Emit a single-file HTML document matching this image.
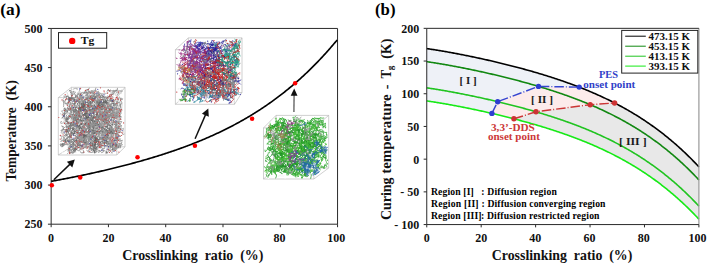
<!DOCTYPE html>
<html><head><meta charset="utf-8"><style>
html,body{margin:0;padding:0;background:#fff;width:707px;height:265px;overflow:hidden}
svg{display:block}
text{font-family:"Liberation Serif",serif;font-weight:bold}
</style></head><body>
<svg width="707" height="265" viewBox="0 0 707 265" font-family="Liberation Serif" font-weight="bold">
<rect width="707" height="265" fill="#fff"/>
<text x="0.3" y="15.4" font-size="16.0" fill="#000" textLength="20.2" lengthAdjust="spacingAndGlyphs">(a)</text>
<path d="M58.3 97.6L116.8 97.6M58.3 97.6L58.3 155.0M58.3 97.6L71.4 87.3M71.4 87.3L125.0 87.3M71.4 87.3L71.4 146.8M58.3 155.0L116.8 155.0M58.3 155.0L71.4 146.8M71.4 146.8L125.0 146.8M116.8 97.6L116.8 155.0M116.8 97.6L125.0 87.3M125.0 87.3L125.0 146.8M116.8 155.0L125.0 146.8" stroke="#b0b0b0" stroke-width="0.60" fill="none"/><g fill="none" stroke-width="0.70" stroke-linecap="round" stroke-linejoin="round"><path stroke="#d2d2d2" d="M102.4 120.2l.6-1.3l1.6-1.2l1.2-2l-.7 2.2l1 1.8l-.2 2.2l1.3 1.9l-.1 2M80.6 142.1l-1.3-1.2l1.3 0l-.2 .9l.2 2.3l-1.8-.3l-2.1 .2l.8-1.7l.1-1.5M89.7 139.3l.8-.4l-.1 .4l-.9 .8l-2.3-.1l-1.4 1.7l1.7 1.4l1.7 1.5l.4 2.2M96.6 132.2l.4-1.8l1.8-1l-.3 2.4l-.4 .3l1.1 1.6M104.7 142.2l-1.8 1.1l.3 1.2l.7 1.5l1.6 .2l2.1 0l1.3-.8l.4-2.1l.8-1.1M71.6 130.6l.9 .2l.9 2.1l-.4 .2l-1.8-1l-1.9-1.1l-1.3-1.4l-1.7-1.6l-.6-2.3M95.6 103.6l.2-2.1l2-.5l1.8-1.5l1.2-2l-.2-1.6l1.2-.6l1.6-1.4l2.1-.8M68.2 114.9l-.7-2.1l-1.1-2l-1.6 .8l-1.4 2M96.1 116l2.2 0l1.6-1.7l.5 1.6l-.5-1.1l-.2-2.2l.7-1.8l-2.2 .2l-2.2 0M99.2 152.3l-.8-1.9l-1.8-1.4l1.4-.3l.7-1.3l.4-1.1l-.9-2l-2.3 .7l-1.6 1.4M93 133.5l-1.3-.6l-1-.1l-.6 1.2l.1-.4l2.1-1l1.9-.6l1.7-.3l1.1 .1M80.6 125.3l.7 2.2l-.4 1.9l-1 1l-.8 1.9l-1.5 1.9l.4 .5l-.7 1l.8 1.9M83.5 142.7l.8 1.7l-.4 1.7l0 1.6l-1.1 1.9l-2.2 .4l-1.9 1.1M90.8 136.5l-1.3-1.6l-.3 .8l1.1 1.8l1.5 1.6l.1 2.2l0-.8l1.7-1.2l.9-1.5M82.3 101.2l1.3-2l1.2 .4l1.4 .5l-.5 2l-1.6 1.4l-2-.5l1.6 1.4l-2.1 0M102.9 126.5l-1.5-1.6l-1.5 .1l-2.1 .5l-1.8-.7l.3-2.3l2-.5l1.7 .8l.2 1.3M87.6 123l2-.3l-.5-1.8l-1.7-1.6l-.5-1.4l-1.9 1.1l-.2 2.2l-.2-2.2l-.6-2.3M116.2 129.6l.7-1.1l.5-.3l.5 0l1 1.7l1.9-.6l.4-2M113.6 134.1l-2 .4l-1.6-.4l0 .2l2.2-.1l1-2.1l-1.1-1.5l-1.9-.4l-1.7-1.4M73.4 104.1l-1.2-1.9l1.4-1.8l.9 2l-.6 2.3l-1.2 2l.6 2l1.4 1.8l1.8-1.5M93.9 111.1l-1.6-1.6l-1.9-.3l-1.8-1.1l.9-1.9l2.3-.9l1.8 1.3l2 .9M89.8 138.8l.5-2.3l-.2-2.2l0-.8l-.1-2.2l.4 1.8l-.1 2.3M73.7 125l1.3 .8l1.6-.5l2-1.1l2.2 .6l1.3 1.8l1.1 2.1l.6 1.7l1.6 1.6M90.5 109.1l-2.1 .8l2-.5l1.6 .8l-.6 2.3l-1.3 1l.4 2.3l.2 2.3l1.2 1.7M77.7 134.3l.3 1.4l-.9 1.9l.5 .6l.5 1l1.1 .7l-.1 .2l-.8 1.7l-.5 1.7M112.6 97.5l.6-2.1l-.8 .5l.9-2l2.2 .2l.8 2.1l2.1-1.1l1 1.2M92.7 130.7l.5-1.9l.4 .7l0 .7l.8 2l1.1 1.9l1.4 1.8l2.3-.5l-.6-2M96.3 98.3l-1.8 1.5l-.1 1l.9 .5l-1.1 2.1l-1.4 1.6l-1.9 1.4l-1.5-1.7M87.2 138.7l1.9-1.4l-.5-.1l-1.8 .4l-2.1 1l-2.3 .2l-1.7 .6l-1.1 1.7l-.7 2.3M87.8 125.9l-.9-.1l-1.4-.5l-1.2-1.6l.3 1.6l.8-.7l-.4-1.4l-.4-1l1.8-.1M100.3 123.3l1 2l.3 0l1.3 1.2l.5 1.8l-.9 1.8l-.8 2.2l.7 2.3l-1.4-.3M114.9 116.6l1.4 1.6l1.4 0l.5 .9l.3 .6l.9 2.1l.6 2.2l-.6 1.3M67 92.3l.5 1.7l1.2 2l.8 2l.7 2.2l1.5 1.6l1.1 1.6l2 .6l1.9-1.3M61.3 118.7l.2-.5l2.2 .3l2.2 .7l-.9 .8l-1.8-.8l-.1-2.3l.6-1.5l-.2 1.3M105.1 101.8l-1.1 2l0-2.3l1 1.9l.7-2l1.6-1l.8-2M82.9 91.7l-1.3 1.5l-2.2 .3l-1.1 .9l-.6-.8l.9-2.2l-1.5 1.9M98.3 148.5l1.6-.2l1.3 .4l1.8 1.4l1.9 .5l-1.4-.4l-.6 1.8M96.3 107.1l.6-1.6l.6-2.3l.2-2.4l-1.2-2l.3-2.3l-1.6-.4l-.8 .6l-1.5 .6M84.3 134.7l.8 .2l1.6 1.3l.6 2.2l-1.4 1.6l-1.9-.2l-1.7 1.6l-.4 1.2l1.2-.6M100.2 139.1l.9 .8l-.3-1.1l-.9-.3l-2.3 .1l-1.2 .9l1.3-1.4l2.1-1.1l2-.9M88.2 128.6l-.2-.6l1.4-1.6l1.8-.8l1.2 2l.8 2.1l.7 2.1l-.3 2.2l-1.2 2M70.8 150.9l-1.6-1.7l-.8-1.6l.2-1.1l.5-.2l1.5-.5l.6-1.7l-1.5 .2M121.8 109.3l.3 1.7l-.2-2.4l.1-2.2l.3-2l-1.4-1.5l-1.2-.3l-1.2-.9M91.8 137.1l-.2 1l-.5 1.7l-1.4 1.9l.6 2l1 .9l2.1-.5l1.1 1.8M105.1 122l.9 2.2l1.9 .8l1.1 1.1l1 1.8l1.6 1.5l2.3-.1l1.4-1.3l1.1-2.1M88.8 114.1l1.4 .1l-.3-1.5l1-2.1l.4-1.6l-.2-2.2l.5-2.3l.8-2.2l-1.4-1.2M77 123l1.2-.7l2.1 .4l-.3 1.5l.7 .9l2 .4l.8 2.2l0 2l.1 2.1M86.8 107.8l-.5 .3l-1.8 1.4l.1-.8l1.6-1.1l1.1-2.1l.6-1.8l1.4-1.8l-.3-2.4M72.5 108.4l-.5-2.1l-.8 1.1l1.9 1.1l1.8 1.3l1.2 1.5l-1.7 1.4l-.8 2.2l1.6 1.4M74 114.9l-2.2-.7l-2-.3l-2.3-.5l-1.4 0l-1.2 .4l-1.1 1.9l-.7 1.1M109.5 134.4l.5-.7l-.6-.3l.6 .6l2 1l1.5 .2l-1.6 .5l-1.5 1.7l-1.9 1.3M74.6 117.7l.6 2.1l.6 2.2l-2 1.1l-.6 1l.4-.7l-.8-2.1l-.4-2.3l.4-2.3M65.1 120.6l-1.7 1.4l1.1-2l1.1-1.3l1.9-.9l2-.9l1.6-.3l.4-1.6M110.9 122.2l-.8 1.5l.5 2.1l.4-2.2l-1.7-1.3l-1.7-1.3l-.3-1.8l.3-2.3l-.3-1.4M81.3 120.2l-1.1-1.2l-.6-1.6l-1.1-1.5l.1-1.8l-1.2-1.1l-.2-2.1l-.1-2.4l.4-2.2M89.9 139.4l-.2-1.3l1.7-1.4l0 1.4l1.8 .2l-.3-2.3l.1-2.1l.5-1.6l.2-1.3M94.6 119.6l-.9 1.9l-.5 1.3l.9 .6l-2.1 .4l-2.2-.3l-1.5-.1l1.6 1.3l.7-.5M91.2 121.5l1.4-1.9l.7-.6l1.8 .6l.8-1.6l-.8-1.6l-.2-.3l.1-1.6l-.9-2M72.9 146.5l.5-2.3l1.3 1l.7 2l.2 .4l-.6 2l.5 1.4l.3 1.7M74.1 116.7l-.1-.3l1.3 .4l-1.3 0l-1.5 .6l-.8-.4l-2.1 .8l-1.6 1.8l-1-1M116.5 146.7l-1.8 .1l-2-.8l-1.7 .9l-.4-1.1l-1.9-1l-2 .8l-2.3 .1M117.5 95.5l-1.9-.5l1.3 1.6l1.3-1.8l1.9-.8l1-2.2l1.6-1.5l-1 1.4l-.6 2M89.2 140.4l-.5-2.1l0-1.6l-1.1 .2l.8 .6l-1.4-1.6l0-.5l.3-.6l1.4-.7M102.8 114.4l-1.4-1.6l-1.4-1.7l.2 1.6l.9 1.8l1.3 1.3l.9 2l2 1.1l1.9 1.1M88.1 115.6l2.1-.3l1.9 1.1l1.4 1.3l-.4 1l1.3-1.1l1.3-.7l-.7-.9l.8 1.2M96.5 121.6l.1-2.3l0-2.4l1.3-1.8l.3-2.3l1.5-1.5l.6-2.1l1.6-1.7l-1 1.7M72.8 106.6l1.3-.6l-.2-1.7l-1.1 1.7l-.8 2.1l-2 1l-1.9-.6l-1.8 1.2l-.5-1.9M98.1 106.3l-2.1-.1l-1.8 1.5l-.6-.7l.3 1.3l2 .1l1.2 1.9l2 .1l1.5-1.4M85.7 100.6l-1-.4l-.3 1.8l.9 1.3l2.3-.5l.5-2.3l1.2-1.5l1.8-1.1M74.6 114.9l2.1-.4l2.2-.3l1.3 1.3l.8 2.1l-1 2.1l-.5 2.4l.1 2.3l-1.5 1.8M79.6 131.7l2.1 .8l2.2-.5l1.7 .6l.6-1.6l1-1.2l.8-1.4l-.2-1.8l-1.5-1.1M99.1 130.5l-.5 .8l.8-1l-1.3-1.9l-1-1.3l-.8-1.6l.9-2.2l.6 .1l.1 .4M77.1 107.8l2.2 .3l.8-.7l1.6-.8l-.1-2.3l.9-.9l.5-1.1l1.3-1.7l1.7-.3M67.1 134.2l.6-.8l1.5 .6l-1.4-1.8l-2.3 .1l-1.3-1.4l-.4-1.9l-.4-.2M81.3 114.6l-2.1-.1l-1.1 1.8l-.7 2l-.9 2.1l2.1-.8l1.3-1.7l-.1-.4l.5-2.2M110.9 97.6l.8-.5l.4 .3l.9 1.1l-.6 2.3l1.5 1.2l1.7-.5l1.8 1.2l1.9 .9M99.2 111l-.6-2.1l.2-1.9l-.4-.4l0-1.9l-.9-1.3l-1.9-1.2l.7-2M88.2 150.1l-.2 2.2l1.6-1.2l1-1.7l.4-.8l-.2-.1l-.4-1.7l-2.1 .9M71.3 119.7l2-.8l2 .1l2 1.1l-1.5 1.3l-1.2 1.7l-1.7 1.2l-1.6 1.5l.5 2.1M75.1 140.9l1-.8l0-.7l.1 .9l-1.2 1.6l-1.9 1.4l1.4 .8l1.5 1.4l1.7-1.6M95.7 101.4l.8-.3l-.7-.1l-1.2 1.4l-1.5 1.3l-1.4 1.5l-1.1 1.9l-.5 2.3l1.9 1.2M106.8 112.2l1.8-1.2l0 1.9l.2 1.7l-1.6 1.7l.4 2.2l-.5 1.8l.3 .3l-1.1-.3M94.9 134.5l1 .3l-.6-.1l-.3-2.3l-.4-2.1l-1.2-1.5l-1.3-.3l.2 1.7l-1.1-1.1M102.8 111.3l.2 2.4l.9-.1l1.7-1.2l.9 1.1l.4 2l.2-2.4l-.1-1.7l-.8-.9M95.4 104.7l-1.9-1l-2.1 .4l-1.7-.5l-2.1 .4l-2.1 .4l-1.6-.1l-1.5-1.6l.9 2.2M78.8 127.9l1.2-.6l.3-.2l2.1 .4l1.3-1.9l.9-1.8l.9-1.9l1.2-1.1l2.3-.1M83.4 140.2l.4-2.3l.1-2.1l1.6-1.2l1.5-1.8l-.1-1.8l.7-2.1l1.1-.2l-.2-2M117.6 120.4l-.1-2.4l-.6 .9l-.4 .8l-.9 1.2l1.4 1.3l1.8 .2l1 1.3l1.4 1.7M102.1 115.4l-.8 1.2l-.5 2.1l-2.2 .5l-1.1 1.6l.3-2l.4 1.9l1.4 1.5l2.2-.8M112.1 105.8l.2 2.1l-.8 .4l.7 .5l.2 .6l-.9-1.2l-.4-2.2l2.1-1l.5-.8M104.6 132.5l-1.5-1l-.1-2.4l-1.7 1.5l-1.9-.2l-2.1 .7l-.2-.2M76.8 114.9l-1.2 .4l-1.2 1.3l-1.8-.3l2.2-.6l-.2-2.2l1.2-1.1l1.7-1.4l2.2 .2M71.9 116.6l-1.3-1.4l1.8-1.1l-1.7-1.3l-.3-1.8l.8-2.2l-1.1-2.1M106.7 139.9l1-2.1l.4-2.2l2.1-.6l-.2-.4l-1.5 .6l.2-.1l-.6 1.2l-1.3-.8M88.8 126.7l1.7 1.2l-1.8 1.5l-1.7 1.6l-.2 1.9l1.6-1.1l-.7-1l-.9-1.2l-.8-1.8M96.3 136.4l1.8-1.3l2.1 .2l2.2 .2l2-.6l2.2-.5l.9-1.6l.4-1.7l-1.8-1M98.3 119.8l-1.6 1.2l-.5-.8l1.9-.2l0 .3l1.6-.7l2.2-.2l1.2 .5l1.9-1.2M86.1 143.8l-1.2 1.2l.1-2.4l-.8-1.7l-.8 .4l2.2-.7l-1.3-1.8l.5-2.3l2 .8M107.2 106.1l.7 1.6l1.6 1.6l-.6 2.3l1 2.1l-1.9 1.4l-2.2 .1l1.2-1.8l-1.5-1.7M108.8 120l-1.6 .2l-1.5-1l1.5-1.6l.2-.1l-.8 1.6l1.1-.9l-.8 .9l-.5-1.6M92.3 108.7l1-2l2.1 .3l2.3 .1l.4 1.4l1.5 1.8l-.2-.4l-.3 1l0 .6M75.7 131.1l1 0l1.9-1.3l1 .4l.2-2.4l1.2-2.1l1.7-1.5l-.1-2.2l0-.9M101.8 108.1l.9 1.9l.5 1.2l0 2.3l-.8-2l-.2-2.3l1.8-.9l0 2.1l-1.2 1.8M102.7 130.5l1 1.5l.6 2.3l1.2 1.9l1.2 2l-.1 1.9l.4-1.4l-.2-1.2l1.5-.8M101.8 142.4l1.7 .7l-.8 .4l-2.1 .6l-1.3-.9l-1.3-1.8l-1.8-.6l.3-2l-1.1-2.1M85.7 111.1l.2-2.1l-1.4-1.7l-1.2-2l-1-1l1.8-.3l1.9-1.2l1.5-1.8l.2 2M92.4 103.6l-.9-1.5l-2.1-.8l-1.8-1l.6 .7l-2-1.3l-1.1-2l-2.3-.5l-1.8-1.3M96.3 134.6l2 .9l1.2-.3l.2 .6l-.7 2.1l.1 1.6l-.2 2.3l-.9 2l1.7 1.3M97 114.3l-.3 1.8l-.5 1.8l-.5 1l-.5 1.3l-.1 2.4l-.6 2.2M103 128.2l-1.4 .3l-1.8 1.3l.2 2.1l.4 2.2l-1.5 1.5l-1.1 .2M84.9 103.8l.2-.2l.8 1.9l1.3 1.8l2.3 .1l.4-2.1l-.7-.6l-.4-1.3l-.3-2.3M75.1 115.5l-2.3 .3l.4 1.6l-.1 2.3l1.1 .6l1.3-1.1l1.5-1.1l-.6-1.2l1.3-1.9M93 113.3l1.6 1l1.2 1.5l1.6 .8l.4 2l-.1-1.8l1.1-2.1l1.6-1.7M108.3 97.9l1.2-2l1.3-1.9l.8-2.2l-2.1-.5l1.4-.1l-.2 2.2M76.1 139.4l1.9-1l1.6-1.1l-.7 1.9l.5-.8l-.9 .6l-.7 .7l-1.3 1.5l-1.9-1.1M84.9 123.9l-1.1 1.2l-1.3-1.9l-2.3 .2l-.7 0l.3-2l-1.3-1.7l-.7-2.2l.9-2.1M98.6 135l.1 1.6l1.1 1.6l.7 .7l2.2 .7l2.1 .8l-.6-.6l-.2-2.3l-.3-2.1M98.5 138.2l1.7 .2l1.5-.5l-1.1 2l.7 0l1.9 .3l1.8-.4l-1.2 2l-2.1-.5M99.8 115.5l.9-1l-.4 2.3l1.7 1.3l1.6 1l2.1-.3l2 .6l1.7-.9l1.8 .3M71.4 121.6l.7-2.2l.8-.6l1.3-1l-.7-1.1l-1.6 .9l-.5 1.2l-1.4 1.6l.8 .1M90.6 112.1l.4 .2l-.6 2.2l-1.2 1.1l-.7 1.6l-1.5 1.7l-.4 1.1l.5-1.6l-.8-1.6M97.7 150.5l-2.1-.7l-1.8-1.4l-1.7-.8l-1.8-.4l-.1 2.2l-1.9-1.1M80.4 121.5l.5-1l-.2-.8l1.5-1.4l.8-.5l.7 1.3l1.5 1.2l.1 2.2l1.7 .5M78.6 122.6l-.8-1.1l.7-1.8l-.3-2.3l-1-2.1l.4-2.3l.1-2.1l-.9 2.2l-1 2.1"/><path stroke="#7c7c7c" d="M94.8 121.3l-2.2-.1l-2-.4l.1-1.4l1.2 1.5l-.2 1.2l-.3 1.1l-.2 1.4M96.4 138.4l.5-.4l1.8-1.5l.4 1.2l.2 1.4l.7 1.6l1 .2l.6 .8M82.4 115.4l-.6 2.1l2 .1l.1 2.3l.8 .6l-1.5 .1l-1.9 0l-.3-2.3l1.6-1.2M94.8 145.7l-1.8 .6l.2-1.7l.9-2l1.5-.2l1.3 1.3l1.3-.3l.8-2M106.5 132.1l.1 .5l-1.4 .2l-1.5-.6l.8 .8l.2 1.6l-.7 1l-.1 2.4M81.3 102.3l-.6-1.7l.6 .2l.1-2.3l1.3-.8l-2.2 .1l-.9-2.1l-1.1-2M95.9 88l-.8 2.3l-1.4 1.6l-1.4 1.9l-2.2-.1l-2.1 .2l-1.7-1.4l-.3 .5M118.6 147.8l2.1-.4l-.2-2l.7-1.3l.7-2.2M71.7 125l-1.1 .5l-1.2-1.2l-1.6-1.5l-1.1-2l.2-2.1l.4-2l-1.2-.7l.8-1.2M109.6 99.3l.9-.1l-.6-1l-.2-.8l.5-1l2-1.2l1.1-1.3l1.4-1.3l-.1-2.1M111.5 153.1l1.3-1.6l.9-2l-1.5-1.7M100.6 111.5l-1 1.9l-.2 2.3l-2 .3l-1.6-.6l-.6 1.4l-2 .9l-1.8 .4l-.7 2.2M82.8 122.9l1.2 1.7l.8-.6l-1.5-1.7l-1-2l-1.6-.9l-.9-1.9l-.9-.6l1.2-1M106.7 150.7l1.2-2l1.1-2l.3-1.9l.4 .6l1.4 1l2.2-.2l.9-2.1M76 143.3l-1.4-1.9l-1.7 1.5l1.2 1.7l-1.1 1.5l-.2 1.3l.5 2.3l2.1 .3M90.6 110.9l-2 1.1l.1 2.3l1.7 1.3l.4 2.3l.7 1.2l1.9 1.3l-.3-2.2l.6-2.1M108.5 108.5l1.2 .6l1.2-.4l.5-.7l.2 2.4l-.1 1.6l-1.6-1.6l-2.2 .1l-1.5-1.5M108.6 117.1l-.6-1.3l-.2-2.2l-2.1 0l.4-.6l-.6-.4l-1.1-1.8l.1-1.8l-.8 1.3M102.4 100.5l.5-1.1l-.5 .3l-1.3 .8l-1.6 1.8l.2 1.8l.9 1.8l.4-.3l-.5-.1M74 111.7l1.1 1.9l1.7 .6l1.5-.4l-1.6-1.6l-1.1-1.7l-2.2-.5l1.1 .8l2.3 .3M90.6 131.2l0-1l.8 2l.3-1.4l-.5-2.2l-1.9-.1M100.2 109.2l.5 1.4l2-1.1l1.3-1.9l1-1.8l.1 .6l-.5 .7l-.9-.1l-1.9-1M97.8 116.4l1.9-.5l.3-2.2l0-1.7l-.9-1.7l.8-2.1l1.3-1.8l-2.2-.7l-1.8 1.3M106 122.9l-1.4 1.7l1.3 1.9l1.5-.9l1.1-.5l.5-1.8l1.3-1.6l1.8-1.2l-.3-.5M99.8 103l1.8-.3l-.6-.5l-.2-.8l-1.1-.1l-.9-1.3l-1-1.8l-2.3 0l-2.1 1M93.3 124.3l.2 .3l1-.1l-1.5-.6l-.2-1.3l2.1 .5l.3 .4l-2.3 .4l-2.1 1M68.8 141.1l1.2 .4l1.9 .5l.3-.2l1.5-1.5l1.2-2.1l.5-2.2l1-1.9l1.8-.6M84.9 135l0 1.4l-1.7 1.4l-1.7 1.4l-1.1 2l-.4 .6l-1.6 1.3l1.7-1.5l-2.1-.8M83.4 128.8l.4 2.2l.5 2l.1 2.2l-.8 2l-2.1 1l-1.4 1.9l-.7 2.3M109.4 117.9l2.1 .8l1.1-1.3l.2-.2l-1.4 1l-1-.5l-1-1l-.2-.9M91.6 131.3l-1.7 1.1l2.2 .4l2.2 .8l1.9-1.1l1.3-2l2.1-.5M116.5 130.2l-.3 .1l-1.2 .8l-2.3-.1l.3 .3l-1.5 1.3l-2.2 1l-.3 2l.1 2.3M80.7 129.8l-1.2 1.1l1.8 0l2.1 .3l.7 .5l1.8 1.1l1.5-1.5l1.6-1.3l1.9 .6M114 119.8l-.4-.2l-.5 2.3l-.5-.1l-.1-.3l-1-.1l-.8-.3l.1-2.2l1.4-1.7M66.5 117.5l-.2 1.5l.2-.7l-1 .1l-.7 .4l-.6-2.1l.4-2.1l0-2.2l.2-2.4M84.5 136.2l1.1 .1l1.3-2l1.3-1.9l2 0l2 .3l1.6 1.4l1.9 .6l2.2-.2M67.3 96.3l.7 1.7l2.2 .2l2.1 .5l1.8 1.5l2 .8l2.1 .2l1.7 1l1.4-1.3M99.4 129.2l.7 1.6l.2 1l.8-2.1l.9 2.1l2-.8l-1.1-2l-2-1l.8 .9M78.2 123.5l-.7 1l-.7 1.8l-2.3-.1l-2.2-.3l-2-.5l-2.1-.5l.1-2.4l-2-.9M98.6 103.5l.8 1.7l-.4-.1l2-.2l1.4 .3l1.2-.6l1.6 .5l1.4 .4l.3 2.4M113.2 106.8l-.7 2l-1.6 1.5l-2 1.1l1.7 .7l1.6 1.1l0 .3l-.4-1.3l1.7-1.7M69.7 140.8l.7-.3l-2.2-.1l-2.3 .5l-2.2-.2l1.2-.4l1.1-.9l1.5-1.1M90.8 135.6l0 .6l.5 1.7l1.8 1.1l1.5 1.7l.5 2.2l1.8 .6l-.4-2l1.5-1.3M96.2 112.4l.2 0l1 .8l2.4 0l1.3-1.8l-2.1 .4l-1.1-1.8M94.4 127.4l.1 .1l-1-.3l-1.3-.5l1.5 .6l1 1.4l1.9 .2l-.1-2.3l-1.1-1.9M99.9 128.1l-2 .8l.8 .3l.3 2.3l1.8-1.2l1-1.9l.7-1.7l-1.1-.8l1.1 .2M117.1 147.4l2-.4l1.7-1.1l.4-.4l-1.8 1.4l-.6 1l.8-2.2l.3-2.4M81.5 141.6l-1.2 1.1l-.8 2.2l.3 0l.6 1l1.8-.3l-.6 .3l.3 1.8l1.3 .7M99.8 138.1l.3-1.2l1.5-1.4l2.2-.6l1 1.6l1.3 1.8l.7 1.6l-.7 .7l.2-1.3M92.1 145.4l1.7 0l-.4 1.9l-1.7-.6l-.8-1l-1.4 1.9l-1.6-1.2M103.2 124.5l-.9-1.9l.6-2.3l.2 .8l.3 .1l2-1l2.1-.7l1.6 1.5M94.4 128.1l-.8 2.2l.8 1.3l-.8-2.1l.3-1.8l-2.3-.6l-1.6 1.4l-.1 1.8M90 143.7l1 2l-.1-2.4l0-2.3l1.8-.7l2.2 0l1.9 .4l.6-.8M111 119.5l1.7 .9l1.8 1.2l1.7 1l1.3-1.7l.1-1.3l1.1-1.4l1.3-2l1.6 .8M74.4 111l-.3 .7l-.5 1.3l-.1 1l1 1.6l1.5 1.8l1.6 1.1l1.7 1.4l1.3 1.8M110.7 108.6l-2 .7l2.2 .5l1.1 2l.8-1l-1.2 .4l-1.1 .9M121 110.5l-.1-2.4l-.3-2.3l.2-1.7l-1.7-1.4l-1.8-.2l-.6-.7l1.5-1.2l.7-2.3M107.8 112.5l-1.9 .5l1.4-1.9l1.7-.3l.8-1.1l-1.8-1.1l-.4-1.6l-.1-.2l-1.5 .2M117.5 88.3l-.6 2.2l-1.9 0l-.6 .8l.2 .4l1-.8l2.1-.9M107.1 97.6l1.5-1l-.8-.7l.3 .2l-.5 2.3M84.6 124.7l1.2-2l2.1-.7l-1-1.4l-1.8-1.3l-1.5 .3l-.2-1.7l.1-1.7l-.9 1.2M81.5 132.8l.9 1.5l.9-.3l-.9-.2l-1.5-.1l-.3-1.3l-1.9 1.1l-2-.5l-1.5-1.8M117.2 103.9l-2.2-.3l-2-.6l-1.9 1.2l-2 1l2.2 .2l1.1 1.6l1.8 .6M92.6 125.6l-.5-.2l1.8-.2l1.8 .5l-.4-1.7l-.5-.1l-1 .4l.6-.7l-1.7-.6M114.6 121.4l1 1.6l.6 .6l-.6 2.1l1.1-.3l-.2-1.9M81 131.4l.9 1.1l.7-1.1l2 0l2.1-.6l.6-1.6l.2-2l1.3-1.6l-.4-2.2M77.4 145.9l-.1 .4l-1.8 1.4l.9 2l2.1 .8l1.7-.7l.6-2.2l1.4-1.1l1.1 .1M73.7 121.8l.3 1l.4 .6l1.9 .3l1.5 .4l-1.3 .4l.8 .2l-1.4 0l-.1-2.3M83.4 122.1l-.4-1.6l-.2 1.7l-.5-2.2l.5-2.3l-1.7-1.4l-.4 1l-2.1 .7l-2.1-.9M112.3 113.7l-1.8 1.3l-1.9 0l-2.1 .1l-1.8 1.5l-.8-2.1l-.8-.8l-1.1-.6l-.4-.6M78.6 113l-1.3-1.4l-1.7-.7l.2-1.7l.1-2.4l-.2-1.5l.3-.1l-.6-.3l-1.6-1.2M120 104.8l.5 .7l-.3 2.1l-1.2 1.4l0 2.1l-.6 2.2l-.1 2l-2.2-.1M95 115.2l-.6 .2l.1 2l.4 2.3l0 2.2l0 2.3l2.1-.5l.3-.3l1.9-1.1M95.5 132.7l1.4-1.6l.4-1.9l.6 1.1l1.2 1.7l-.1-1.1l2-.5l1.3 1.9l1.2 1.8M77.4 104l-.3 1.9l-.9 2.2l-.2 2.4l-.2 2.3l-.1 2.4l2 .9l2.3-.3l2.1 .5M64 113.2l-1.3 1.5l-.5-.2l1.9 1.4l1.4 1.2l1.5 1.4l1.8 .3l-1.2 2l-1.4 2M89.4 114.7l-.2 1.7l-1.7 1.6l-2.2 .2l-1.3-1.6l.9-1.9l-.3-.2l1.9-.6l1.6 1.6M91.4 92.3l-.7 .6l-1.7 0l-2 1.1l1.1 2.1l1.1 1.8l1.2 .8M78.5 113.9l1.8-1.1l-.2-2l-1.7-1.3l1.4-1.8l2.2-.2l1.3 .3l-.6-2.3l-1.7-1.4M64.6 110.5l1.3-1.8l.1 1.4l-.3 2l-1.4 .7l0 2l-.9 2.2M79.8 110.1l1.8 .2l2.3-.5l2.1-.6l.9-1.9l1.3-1l-.1-1.2l-.3 .5l-.8-.4M98.9 123.4l-.3 1.1l-2.2 .2l-1.3 .6l-.7 2.3l.8 2.1l-.5 .9l-2 1.2l-.8 2.2M75.9 133.7l-.1-1.7l-1.1-1.8l-2-.3l0-1.4l1.3-.2l0 2.2l.1 2.2l-.7 1.1M82.6 130.8l.8-1l1.3 1.8l1.2 1.7l.8-.6l.7-2.3l1.9-1.5l1.2-.2l1.5 1.3M92.8 121.8l-1.7-.7l1.5-1.4l1.9-.1l.6 2l-1.8 .5l.1 .2l-.5 1.2l-1.2-1.3M72.2 128.2l1.1-1.8l1.6-1.6l1.5-1.7l2-.9l-2.3 .6l-1.6 1.4l-1.6 1.6l-2.1 .5M106 100.3l.2 2.4l0 .6l.3 .3l.4 1.7l.7 1.8l-1.8-.9l-2.1-.5l.3 .9M92 106.3l.8 1.9l.5 .8l.4 .3l-2.1 .7l-.1 .2l-1.1 .2l1.2 1.9l2.2 .1M107.6 110.8l-.2 2.2l-1.4 1.6l1 2l.4 .4l1.7 .5l-.2-.7l1.7-1.6l-.3 2.2M67.9 126.4l-1.4 1.8l0-.7l-.6-1.9l2 1.1l2.1 .5l.4-2.2l-.5-2.1M92.9 145.7l1.8 0l.8-.9l-.3 1.7l1.2 1.5l.2 .7l0 1.1l-1.7 1.5l-.7 .7M91.5 105.9l-.6 .8l1.3 1.5l-.3 .3l-.4 1.6l.4 1.5l-1.5-1.4l-1.4-1.2l-.7-.9M78.9 122.1l-.3 .3l-1.8-1.3l-.8-.7l-.5-2l1.8-1.1l1.3-1.6l2.1-.9l-.8-.6M98.8 100.3l.4 1.8l1.2 1.6l-.1-2.3l1.6 1l1.8 .8l2.1 0l-.1 .9l-1.5 1.8M87.4 118l2 .3l1.1 .1l1.2-.7l-.3-1.5l.5-1.5l.5-1.8l.9-1.5l2-1.1M69.9 128.6l-1.4-1.8l1-1.1l1.1 .1l.3 .3l.7-1.6l1-2.1l.9-1.6l.4-1.4M113.5 103.4l1.3 1.8l-.1 2.4l-.4 2.2l.7 .1l1.3-1.8l2.2 .2l.9 .6l.9 1.7M81.2 121.6l-2 .4l.1-1.2l2.2 .6l1.4-1.8l2.3-.4l1.1-1.2l.2 1.5l.2-.5M71.8 121.7l-.9 2.2l-1.6 1.6l-2.2-.4l-1.9-.6l1.3-2l1.5-.5l1.2 1.8M68.1 102.9l1.4-2l1.5-.3l-.2-2.1l-2.3-.4l-.1 2.3l1.2 .5l2.1-.8M114.1 131.8l-.7 2.1l-1.5 1.8l-.2-2.2l.5-1.8l.3 1.4l-1.8-1.2l-1.5-1.6l.2-2.1M107.1 125.9l-2.2 0l-.6 2.3l.1 1.2l2.1 .1l-.3 0l-.7 1.3l.2 .3l-1.8 1.4M78.7 115.2l1.1 .2l1.5 .7l-.8-.4l-1.9-.9l-.7-.4l2.1-.3l1.5-.7l1.4-.3M101.9 148l-1.3-1.6l-.2-2.4l0-2.3l1.4-1.9l1.6 .1l.3-.4l-1-.1M110.4 139.1l-1.7-.2l.1-.5l-1.4-.3l-2.2 .5l-1.4 1.1l-.5 0l.4 1.5l.8 1.5M111.2 120.7l-1.1 .5l-1.2 .5l-1.1-1.2l-.8-1.8l-1.1-1l1.8-1.3l.3-2.4l-.2-2M76.1 113l-.6 2.2l1.1 .9l1.2 .3l2 .8l1.3 1.9l2 .1l.2-.8l-1.4-1.1M111.5 107.1l-1.5 .7l-.6 2.2l1.4 1.8l.8 1.9l1.4 1.7l1.6 .8l2.2-.2M67.6 110.9l-1.9-.6l-.8-2.1l-1.5-.4l.3-2.4l0-2.3l.7-1.5l1.3-1.7l.9-2.2M82.7 124.5l1.5 1.7l2.4 .2l2.2-.9l2.1 .1l2.3-.3l2 1.1l-.7 1.6l-1.8-1M80.3 141.8l.6-1.9l1-2.1l-.2-.6l-.2-.9l-1.3 1.6l.2 2.4l.1 .3l.4 .7M86.5 91.2l1.4-1.8l.6 1.1l-.7 1.9l1.2-1.2l1.8 .9l2 .3l1.5 1.6M79.2 146.9l-.7-.2l-.9 .3l-1.4-1.1l-1.3 1.7l-1.2 .9l2.1-1l1.4-2l1.9-.8M86.2 110.5l-.2 2.3l1.3 1.7l1 2.1l1.3 1.7l.2 2.3l1.1-1.5l1.1 2l1.9 1.1M78.1 119.6l1.1-1.9l-.7-2.1l-2.3 .3l-.7 1.7l-1.8 1.4l-1.3-1.4l-1.9-.5l1.1 1.6M84.6 117.6l1.3-2l1.2-1.9l.8-2.3l-1.3-1.4l-1.7-1.2l-1-1.9l-1.1-1l-1.5 1.5M64.7 140l2.1-1.1l1.4 1.6l1.9 .5l2.2 .6l2.2-.4l1.5-.9l1.7 .1l1.9 .2M92.4 122l.9 1l2.1-.8l2.2-.4l-.6 2l-.3 1.6l-.5-2.2l1.3-2l.5-1.8M86.7 150.4l1.6 1.3l2.2 .8l2.2-.2l.7-2.2l.6-2l.2-2l.6-2M78.2 125.8l1.3 1.5l.5 .1l-.5-.1l-.1-2.4l1.7-1.1l1.9-.8l1.4 1l1.7 1.4M67.5 107l0 2.2l2.1-.4l2.3 0l2-1.1l2.2-.4l2.2 .7l1.9 .9l.2-1.5M99.7 107.3l2.1-1l2.3-.5l1.9-.2l1.1-.3l-.9-.1l1.8 1l1.1 2l2 .1M112.5 129.3l-1.6 .5l-2.2-.6l-2.2-.4l.2-1l.6-1.6M69.1 112.8l2.1 .1l1.6-1.8l.9-.3l2 .8l1.4 1.5l1 .9l1.1 1.2l1.5-.5M102 146.6l-.6-.3l-2.2 .1l-.5-.8l1.2-.3l-.6-.8l-1.1 .3l.6 1.2l1.7 1.6M94.2 147l.7-1.8l1.9-.8l.4-1l1.9 .9M73.5 144.4l-2.2 .3l-1.9 .5l1.2-.7l.3 1.9l.1-.2l.5 1.2l.9 .9l-1 1.9M91 122.3l.8 1.3l-1 .4l-1.3-1.9l-.7-1.9l2.3 .1l2.1 .9l1.5 .1l2.3 .3M106.7 99.5l-.6 .6l-.7-1.9l.4 2.3l-.6 2.3l1.3-1.8l-1.1 .6l1.5-1.3M73 149.9l2 1.2l1.1-1.4l1.8-1.5l.4-1.9l1.1-2.1l1.5 1l2.1 0l1.7-.2M92.9 133.1l-1-.1l-2.2-.3l-2-.8l-.8-2.2l.7-2.2l-1.9 .1l-1.2 1.1l.8 .4M93.8 131.1l1.8-.2l1 0l.6-.1l.2-2.3l1.7-.3l-.3 1.5l.7 1.8l-.2 .8M78 146.2l1.6 .1l-.9 1.6l1.3-1.4l1.4-1.8l0 1.9l1.8-1.2l-.5-2.3M99.3 123.1l-.2 2.1l.2 2.3l-1.4 .6l.3 2.2l-.1 2.3l1.5 1.7l2.1 0l1.7-.3M97.3 108.5l-.4 1.2l-1.2 1.6l1.2 1.6l1.7-.5l-.2-.2l-.6-1.9l-.3-1.5l-.8-2M111.2 99.9l-1.9-1.2l-1.1-1l-2.1-.8l-1.8-.4l-1.7 .7l-.8-2.1l1.3 .9M120.6 147.7l-2.1-.2l-.8-.5l-.5 .5l-.7-.3l1.8-.6M102.3 112.4l1.8 .6l.6 1.9l.4 1.2l1.6 .7l2-1.3l1.7-.9l2-1.2l1.8-1M89.7 137.3l1 1.8l1.1 1.3l1.5 1.3l1.7 1.6l.4 1.7l-.5 1.6l.4 2.1l.2 1.7M100.5 103.8l-2.1-.8l1.4-1.9l.1-2.4l.1-2.2l.5 .4l-.9-1.4M78.7 100.4l-1.4 1l.6-1.6l1.3-.2l.1-.9l-1.4-1.7l-.5-1.9l.9-2M111.3 128.4l0-2.2l-1.3-1.1l-2.3 .3l.1 1.9l-1.5 1.8l1.3 1.5l-.6 2.2l.1 2.3M97.4 128.2l1.1-2l.7-1.9l.9-1.6l1.3-.8l.3-2.3l-.5-1.8l-1.4 1.2l-.2 1.1M104.7 122.9l1.5-1.8l-1.1 .8l-.6-1.3l-.1-2.3l.6-2.1l-.1-.9l.1 .7M77.6 124.9l-.7 2.1l-.7 2.1l0 2l1.7 1.5l1.9 .5l1.4 1.6l-1 1.9l-.2-.6M85.6 98.7l-.9 1.5l.4 .9l-.4 2.2l.2 2.3l2.3-.5l.8 .2l1.1 1.6l.8 .5M98.2 91.5l-1.5 1.2l-.4-1.1l-.5-1.7l-.4 .6l-2 1.1l-1.9-1.1M97.6 138.2l.1 2.2l1.2-1.2l-1-.3l1.9 0l2.1-.5l2.1-1.1l-1.2 .1l.2-2.4M86.7 109.5l-1.6-.2l-2.2-.7l-1.4 1.8l1.7-1.6l1.4-1.7l1-1.8l-.6-2.2l-.2-.9M88.3 111.1l2 .5l1.2-1.4l0-1.7l.6-.8l-2.1 .7l-2.2 .7l-2 1.1l-1.9-.9M100.4 144.8l1.4-1.3l2.1-.9l2.1 0l.7-2.3l.3-2.2l-1.1 2.2M69 142.5l1.6 1.2l.7 1.3l-1.9 1.4l1.2-1.7l.2 1.8l-.9 2l-2 .9M107.2 153.2l-.6-.6l-.6-.2l.1-1l-.2 2.3l1.6-1.5l-1-1.1M93.7 114.2l1.6-1.5l-1.5-1.3l1.7-.4l-.4-1.2l-.9-1.8l-1.8-.6l-1.8-.2l-2.1 .8M97 123.7l-1.6 .7l.3 2.2l-2.2 .8l.1-2.4l-1.4-1.8l-.9-1.9l.4-1.2l.5-1.9M76.7 96.6l-.5-.2l1.4 .8l1.7 .8l1.9 1.1l2.1-.3l.7-.5M85.5 117.2l-.4 2.2l-2 .4l-1.6-1.5l-1.8-.7l-1.2-1.7l1.3-1.2l1.3-.4l-.3 1.3M94.7 108l-1.3 1.8l-.4 1.1l-2.1-.3l-1.9-1l-1.6 1.1l-1.8 1.4l-1.5 1.3l.9 .7M81 135.9l2.2-.9l1.1 1.4l-.1 2.1l.3 2.1l.9 1l2-.9l-1.5-1.5l-.6 2.1M82.5 124.6l1.5 1l2 .2l2.1-.5l1.3 1.9l1.9 1.2l.8 .8l1.3 1.6l-1-.5M97.4 129l1.3-2l2.1 0l2.2-.1l2.1 .9l1.8 .6l.1 .1l-1.4 .7l-1.8 .8M103 125.4l-.1 2l.2 .9l0 .6l.5-.3l2.3 .1l2.1 .1l-.5-.4l-1.5-1.7M91.1 136.7l-1.2-1.9l2 .8l-.1 2.1l-.8-.3l-1.3 2l.1 .1l-1.8 1.3l-1-1M98.2 92l.4 2.1l-.2 1.7l0-.1l-1.1 .9l-1.1 .5M101.5 116.3l1.7-1.4l1.7-1.6l-.6 0l1.7 1l2 .7l.4 1.7l-.5-2.2l0-.2M110.7 133.9l-2.1-.2l-2 .6l-.7 1.4l1.1 1.8l.5 .6l-2-.9l1.6 .1l-.8 1.8M70.8 140.2l-1.2-.2l-.1-.3l1.5-.7l1.7 .8l2.1 .4l1.5-.4l2.2 .3l.3-2.2M75.6 132.5l-1.5-1.1l1.9 .6l1.8 1.1l1.3 1.2l1.3-1.9l1-1.9l-.5-2.2l-.4-2.3M94.7 123.1l1.7 .5l2 0l.9-.4l-.4 1.2l-1.3 1.6l-1.4 1.3l-2.1-.7l.8-1.4M81.2 129.8l-.9 1.7l-.6 1.2l1 1.9l1.4 1.5l.3 1.8l-1.5-.8l-2.2 .1l-2.3-.4M104.4 137.3l.6 .7l.8-.5l2.1 .2l.7 1.7l.7 1.8l1.2-.8l-.1-1.4l0-2.2M86.5 106l-.8 .7l.3 2.3l-.6 .3l-.9 .3l.1-1l-.3 .5l-1.2-.9l1.1-2.2M111.9 133l.9 .8l2.3-.4l2.1-.6l-1.2 1.9l-.5 2.3l1.3 2M106.6 111.2l-1.4 1.8l.3 2.2l1.1 1.5l-1.6 1.2l1.3-.4l-1-.2l1.7 1.4l1.7 1.2M101.4 104.1l-1.4 1.9l-2.1-.5l-1.8-.3l.1-1.2l0-.8l-.3-.9l2.2-.3l2.1 .1M73.8 107.6l.6 2.2l-1.4 1.8l.4 2.4l-.9 1.3l.2 1.1l.1-1.3l-1.3-.6l-1.2 .3M79.3 98.4l.4-2.2l1-2.2l0-1l2-.3l2.2-.2l2.1 .5l-1.9 0l-1.9 .8M116.8 135.1l0 2.2l.9 2.2l-1.8 1l-1.3 .3l-2.1 1l-1.9-.1l-1.2-.3l-2 .1M84.2 93.2l.8-2.2l1.5 .9l1.5 1.2l2.1-.2l1.8-1l1.5-1.8M70.5 92.3l1.6 1.5l1.8-.5l-.8 1.5l-1.5 1.4l-.9 2l-1.4 1.4M88.4 102.2l-.4 .1l-1.3 0l1.5-1.8l-.8-1.6l.1 1.9l1.5 .7l1.1-2M97.6 128.7l-.5 .3l1.7-.5l-1.6-1l-1.2-1.8l0-1.9l-1.8-1.2l-1.8 1.2l-1.4 1.9M98.7 109.6l0-1.3l-.6 .4l-.6 .6l-.9-.5l1 1.8l-.1 .7l0 2.4l1.1 1.2M111.1 131.4l-.8-1.2l-.1 0l-.1 .8l-.1 .2l-.4-2.1l.3-2.1l-.4-2.3l-.7 1.7M78.6 116l-.4-.7l.8-.8l.5 1.1l-.7 .9l-.6 .3l-1.4 1.7l-1.4 1.9M120.4 110.5l-1.7-1.3l.3-2.3l.4-2l2-.8l.7-1l-1.1-2.1l-.4-1M91.2 118l2.2 .2l1-.3l2.2-.7l2.3-.2l.9-.3l2.3 .3l1.3-1.9l-1.6-1.5M86.7 133.9l-1.5 1.6l-2.3 .7l.4 2.3l-.5 .1l1.2 .2l1.6-1.1l.1-1.6l1.7-1.7M112.7 103.7l.1-2.3l-1.3-1.5l-1.1-.8l.9 1.8l1.1 1.8l1.7-1l.3-1.9l1.4 1.4M79.6 125.7l-.5-.7l-.5 .9l-.8 1.9l.3 2.1l1.2 1.1l-.2 2.3l-1.6 1.8l-.8 2M94.7 146.3l-1.7-1.3l-.6-2.3l.2-1.3l1.8-.5l1.5 .1l.4 1l-.2 1.8M64.3 132.6l1.1 2l-.1-.2l1.3 1.3l1.4-1.7l.7-2.3l1.6-1.7l.7-1.9l-1.5-1.6M96.2 108.3l1.7 1.4l1.5 1l-.6-.7l-1.8-1.2l1.8 .5l.8-.8l1.7 .2l.9-1.5M98.4 124.8l.6 1.8l.9 1.9l1.1-1.3l1.2 1.8l-.8 1.2l-1.4-1.6l-2 1.3l-2.1 .1M109.8 119.3l-1.3-.4l-.6 1.2l1.7-.1l1.4 .7l.3 .7l-.8-2l-1-.4l-2.1 .3M93.2 114.5l0 1.4l2 .4l1.2-.8l-.9 1.2l-.7 0l1.9-.5l1.7-.7M71.5 135.3l-1 .6l-1.4 1.3l1.2-.5l.1 .8l-1.1-2l-.3-1.2l-.1 .2l-.2 .8M82.2 142.5l1.5-1.2l-1.2-1.2l-2.3 .2l-1.8 1.4l-.1 1.6l.7 1.6l-.4-.3l-1.9 1.3M84.7 140.3l-.2-1.3l-.4 1.2l.6 2l1.4 1.7l1.1 1.4l-.4 1.8l1.4-.5M106.1 115.7l1.6 0l-.9 .6l-.5 1.5l-1.3 1.8l-2 .9l-.8 .4l-.1 1.3l-.4-.4M68.2 147.2l1.1 2.1l-.8 1.3l2.1 .3l2.1-1l.5-1.3l-1.1-.2l-1.4-1.2M116.5 148.1l2.1-.9l-.1-1.6l-1.2-.3l-1.7-.7l-1.7 1.1l-1 1.2l-.4 1.8M76.1 128.5l0-2.4l1.6-.9l-.2 .4l0 .4l-.8 1.7l2.3 0l1.2-1.7l-1.8-.1M99.3 112.6l1.6 1.4l.3-.5l-2.3 .1l-2.1-.7l-.7-.1l-2.2 .1l-2.1-.8l-.6-1.3M66.6 129.2l-.6 1.8l-.2 .5l-.8 .9l.9-2.2l2.1-1.1l.9 2l-.8 1.8M77.2 143l.8 .3l-1.5 1.8l-1.7 .9l.7 .7l.7-1l.3-.2l2 1.1l1.3 1.2M79.8 106.3l-.3 1.5l1.6 1.5l-1 .4l1.2 .9l.3 1.7l1.1 2l1.9 1.2l.1 1.8M108.3 89.3l1.2 1.5l1.1-.8l-1.7 1.3l-.8-1.7l-1 1.8M97.2 120.4l-1.1-.8l-1.6-1.3l-.1-1.8l-.2-.5l.7-.3l-.2 1.1l1.7 .8l.7 1M62.6 100.9l.9-.7l.2-.2l-.2 2.2l.9 .9l2 .9l1.4 .3l-.1-1.2M67.1 127.8l2.1 .8l1.4 1.5l1.7-.3l2.1-.3l1.7 .4l2.2 .4l1.4-1l.2-.8M92.1 123.2l-.4-.5l.8-.4l.2 .6l-.3-1.1l.6-2.4l1.8-1.4l-.3-1.6l-.2 1.5M120.6 123.5l1.1-2l-2-.2l-1 2.1l1.6 1.1l1 1.6l-2 .9l-1.4 1.2M79.6 121.9l.8-.5l-1.9-1.3l-.4-2.3l-.5-.8l-.2-2.3l0-2.3l-1.9-1.3l-.9 2.3M119.7 116.8l-2.1-.5l-1.6-1.3l-2 .7l-.7-2.2l-1.8-1.3l-1.5-1.7l1.2 .9l1.2-2M69.2 133.2l-1.1-.8l-1.8-.9l1.5 .3l.4 2.3l1.5 1.6l2 1.2l-2.1 .9M100.7 137.6l.8-1.7l.8-2.2l.4-2.4l-.5-2.2l-1.6-1.4l.2 2.1M88.7 134.2l1.2-2.1l-1.2-1.7l.7-1.1l.3-1.5l-1.8-.7l-1.8 .3l-.2 1.8l-.8 1.1M73 114.2l.6-2l1.2-1.9l.8-.5l-2.3 .4l-1.6 0l.1-1l1.4-.8l-1.7 1.6M86.8 128.9l1-1.2l2-1.2l.6 2.1l-2.1 1l-1.1 1.9l-1.7 .5l-1.4-.6l-1.5-1M88.4 97.7l-1.8 .7l-.3 1.3l1.1-1.3l-1.6-.7l.2-.5l2-.5M89 143.4l-1.2-1.8l-1.7 .4l-1.2 1.2l-.1-1.2l.9 1.8l.1 2.2l.6 2.2M95.1 133.7l-.1-1l-1.6-1.5l-1.3-1.5l.3-2l-1.2 2.1l.3 2.3l-1.3-2l.3-2M116.9 112l.4 1.6l-2.2 .5l-1.4 1.6l-1.7 1.6l-1.9 .6l1.1 1.8l1.4 1.8l.9 1.9M115.7 141.1l-2.1 .3l-.2-1.2l1.8-.7l1.5-1.7l1.8-.2l1.4-1.2l-1.5-1.6l-1.6-1.6M87.4 141l1.5-1.8l2.3-.1l2.2-.6l1.7 .6l2.2 .7l-.7 2.2l.8 2.1l1.5 1M120.1 119.2l-1.6 1.7l-.1 1.7l1 2.1l-1.6-1.5l-.1-1.4l-1.9 1.2l-1.7 1.5M104.5 112.2l0 .3l.5 1.4l2-.7l1.6-.5l.4 1l-.8 2.2l-.5 2.2l-1.5 1.6M70.3 138.1l-1.7 1.5l-.8 2.3l-2.2-.8l.4 1.1l1.5 1.8l-2.3 .6M116.1 113l1.4-.7l2.2 0l1.8-.5l-1.5 1.4l.1 2.3l.8 1.6l-.9 2.2M94.1 95.6l1.2-1.4l1.2 2.1l-1.7 1.7l-.5 2.1l-1 .9l.5-2l1.7-1.6l.5-2.2M111 121.3l1.4-.2l1.8-.9l1-1.7l-1.4 0l-1.4-1.3l-.4-1.3l-.4-.1l-.2 .1M82.2 94.5l-.2-.7l-1.3 .6l-.7 1.5l1.9 1.1l1.4 1.9l2.1-.2l2 .1l.5-2M98.2 121.4l1.4 1.1l1.3-.2l.4 1.9l-2.1 .8l-2.2 .2l-2.1-.7l1-1.7l.2-2.3M67.4 125.9l-1.8 .8l-1.9 1.4l-.7 1.6l.3-2.2l-1.7-1.5l1.9 .7M81.8 133.9l-.3-1.4l.3-1l-1.5 1.4l-.3 .8l2 .6l1.6 .7l.8 1.6l0 1M94 128.8l-1.7 1.5l-1 1.2l-.9 1.8l1.2 1.9l.2 2.1l2-1l2.2-.8l1-1M98.7 139.5l1.5-1.2l2.1-.6l1.9-.4l1.7-.8l-.3-2l-.1-2.1l.2-2.3l1.5-.7M67.4 153.8l1.6-1.7l2.3 .3l2 .8l-2.3-.5l-1.4 1l-.5-2.3l.4-2.2l1.3-2M98.5 105.5l-1.1-1.6l.7-1.7l-1.8-1.1l-1.3-1.4l-1.7-.6l-1.2-1.5l-.6-2.1l.7-.6M87.9 143.6l.7 1.4l.7-.5l-1.6 .3l-2-.9l.5-.5l-.3-1.2l1.3 1.3l1.4 .9M112.3 96.3l-.4-2.2l.6-1.9l.8-1.9l.3 2.3l-.7 1.7l-2 .4l-1.9 1.2M78.2 137.5l-2.1 .2l-1.2-.4l1.4 1.4l0 2.3l1.1 1.6l2 1l1.8 1.3M107.3 142.4l-.3 1.6l-1.1-1.1l1.1-1.8l0-2.3l.2-2.3l1.2-2l1.8-1.3l1.9-1.3M74.4 131.7l.3 2.3l0-2.4l.1-2.3l-1.7-1.6l-.7 2.2l1.5 .3l2.1-1l-.5 .2M85.6 126.5l2 .8l1.4-.2l.9 1.7l.1 2.3l.3-.3l-1.2-1.1l.3 .9l.4-.2M92.6 125.9l-1.2 2l.7-1.3l.6-.5l2.2 .5l.7-.8l.2 .4l.4-.5l-.4-1.4M91.8 114l-.6 .5l-1.5 1.3l-1-.6l.8-2.1l1.3 .1l1.2 0l1.9 .4l1.3-.5M102.2 136.9l1.5 1.6l.7 2.1l1.9 1.2l1.9 .7l.4 .6l-1.2 2l-1.7 .7l-1.4-.3M65 144.1l-1.9 1.4l-.5 1.2l.5-1.8l-.3-1.8l0 2.3l-1-.4M100.8 97l-.7-2.1l-1.2-.2l-.7-.7l-1.6 1.7l-1.1-2l.7 1.4l2.1 .7l1.8-1.4M81.7 130.5l.9 .8l1.6 1l1 .6l-1 1.7l-.4 2l-2 1l-.7 1.2l-.5 2M89.1 146.4l-1.8 1.2l-.5-2.3l.8-2.1l1-2.1l1.5-1.8l.4-1.9l.3 .6l-1.9-.8M78.6 127.1l-1.6-1.5l-1.4-1l-.3-1.9l1.8-1.4l.9-.2l.7-1.5l-1.5-.3M96.6 96.6l-1.3 1.2l-1.9 1.1l-1.6-.1l1 .5l-.4 2l-.3 1l1.6-.2l.8-.9M98.2 141l1.8-1.3l2.2 0l1.8 1l2 0l1.9 1.2l.2 1l1.8 1.3l1.3 .9M95.3 148.3l1 0l-1 1.7l2-.5l.1-.9l-1.9 0l1.9-1.2l1.5-.7M98.9 107.1l.2-2.4l.1-.4l-.5 1.4l-.2 .2l-2 .7l-1.2 1.3l-1.8 .8l-.6 2.1M109.2 130.5l-.5-.3l-1.2 .3l.8-.5l1.7-.8l-.9-1.4l-.4-2.1l-1.2-1.9l-.8-2.1M76 111.8l.9 1l.8 .2l.6-1.3l-.3 1.5l-1.2 1.9l1.5 1l1.9 1.2l-.6 2.3M79.7 99.7l-1.9-1.3l2 .4l-.2-.1l0 2.3l-1.1 2.1M61.9 144.6l2.1 1l.6-.4l-1.5-1.6l-1 .6l-.8 .8l1.6 1.7M95.4 108.6l.1 1.5l1 1.8l-1.1 2.1l.3 2.1l1.8 1.4l2.1 .4l-.4-.8l-1.7 1.5M102.1 106.6l-.5 1.9l.4 .9l-2-.5l-2.1 .2l-.5 .9l1.2-.8l.3-1.7l.2-1M89.3 115.1l-.7 2.2l1.8-.4l.8-1.5l.8-1.8l1-2.2l-.5-2.3l-1.7-1.1l-1.4-.8M90.4 109.1l.4 1.1l1.1-1.5l1.6 1l2-1.3l-1.9-.7l-1.7 .4l-.8-1.1l0 1.5M114.7 150.7l0-2.2l.6-1.5l-.3-2.1l1.1-1.4l.2 1.3l-1 1.5l-1.2 1.9l-1 .7M110.4 119.5l-2.1 .5l-.9 .9l-1.6 1.7l-1.5 1.3l2.2 0l2.1 .4M95.7 99.2l1.8 0l.9 1.6l.8 2.1l-.5 2.2l1.8 .6l1.6 .8l2.1 .3l1.7 1.4M102.6 141l-1.1 .7l1.7 1.2l1.7 .4l-1 2.1l.8 2.1l-.1 1.1l-2-.3l-.1 .6M80.6 141.3l.7-1.8l-1.2 .9l-.1-1.5l-1.3 .8l-1.8 .7l1.5 .7l2.2-1l2.1-.2M100.7 124l-.5 .7l-1.4 1.8l1.7 .9l-1.1 1l1.1 0l-.6 .8l.1-.7l2-.9M64.2 109.9l-.4-.3l.3-1l.9 0l.2 1.5l.7 1.4l-.1-.3M116.7 121.4l-1.6 1l0 .7l-.4 1.7l.7 .2l1.3-.4l.6 2.1l1.9 0M85 126.3l.3-2.2l-1.7-1.4l-1.7 .6l-.3 .8l-.3 0l1-1.5l-.4-2.1l-1.2-1.9M113.8 135l2 .1l1.2-.9l-1.1-.8l-.1 2.1l.9 2l1.2-.4l-1.7 1.2l.5 .8M90.9 119l1.9 .1l2.1 0l2.1 .6l2.2 .5l1 2.1l-1-2.1l-.6-2.2l-.7-2M95 114.5l-1.7-.7l-.1-2.2l-.7 .8l.1-.2l.8-1.2l-.4-.1l-.9 1.2M76.1 113.7l1.1 .5l.7 1.9l1.8-.2l1.3 .4l2-.8l2.1 .4l2.2 .1l-.4 2.4M99.9 114.8l1 0l.3-.4l.3 1.3l1.1 .4l-.2-2.2l1.1-1.2l1.6-.8l-.6-.9M76.3 112.5l1.2-.8l1.8-.3l1.3-.2l1.8 .1l1.9 .2l.3 2.1l.8 2.2M80.4 118.3l0-1.5l-1.4-.1l-1.5 .1l-.2 1.7l-1.2 1.7l-1 2.1l-.4-.4l1.4-.2M98.3 98.7l-1.8-1l-2 .3l-1.4 1.3l.2-1.1l-.9 .2l-1-2.1l.7-1.5l.4 1.5M87.1 107.9l-.9 .5l-1.6 1.3l-2.1-1l-1.1 .3l1.4-.8l2.3 .2l-.1 2.1l-.3 1.8M78.4 117.8l2 .3l2.2-.8l.9 1.8l.7 2.2l1.2 1.9l1.9 .9l1 1.9l.9 2.1M108.4 127l-2.1-.3l-1.3-1.8l-.6-1.1l2.2-.7l1.8-1.4l1.4 .1l1.6 .2l1.1-1.8M102.3 112.1l-.6 2l-1.2 1.9l-1.7 .9l-1.5 1.6l-.9-.9l.7-2l1.8-1.6l-2-.7M112.5 150.4l.8-2l-1.2-2l.7-2l2.3-.2l2 .3l2.1 .8l-.2-2M115.7 149.9l-2.2 .3l-.5-.6l-.4-.7l1.1-.7l1.7-.3l.8 1.1l.4 1.9M92.3 124.4l1.8-1.4l2.3 .2l1.1-1.9l.4-2.2l-1.8 1.5l.5 .7l1.6-.5l1.9-.3M76.8 109.6l1.8 .2l-.4 1.1l.1-1.1l.6 1.6l-1.8 1.2l-.6 1.8l.2 2.4l1.1 .2M78.4 118l-2.2 .4l.1-1.3l-.9 0l-.3 1.5l-.4 .4l-.2 1.6l-.3-1.4l-1.1-2M105.1 104.9l-.8-1.7l-.8-2.1l-.2-2.3l1.5-.9l2 .1l-1.3 1M78.5 123.1l0-.7l.3-.4l1.3-1.4l1 .1l-.2-.1l1.5 .1l.6 0l.7-1.2M78.5 118.5l-.1-1.1l-.7-.7l1.7-1.2l1.1-.2l.6 .7l0 1.1l1.7-.2l.2-2.2M72.9 144.2l.2-1l-.4-1l1.4 1.3l-1 1.8l-1.1 1.2l-.9 1.2l1.4 1.7l1.6 1.6M110.5 133.2l1.8-.9l-.4-2l2.2 .6l1.6-1.7l1.5-1.8l-1.6 .2l-1.3-.8M76.1 101l1 2.1l1.1 1.5l.9 2.1l-.2 1.5l.2 1.3l2.1 .8l.8-.4l1.1 2.1M95.1 97.4l1.7-1.2l1.9-1.2l1.3-1.1l-.2-.8l1.9 .6l.2 2l.9 2M112 137.8l-2.2 0l-2-1l-1.7 1.2l-.6 .8l.7-.9l-1.5 1.1l-1.4 .7l-2.2-.4M93.1 131.2l-.6 2.3l-2.3 .2l-.1-.6l2.3 .1l1.2-1.6l2.3 .1l.9 2M106.2 125.3l-.6-.6l0 .7l2.1-.4l-.4 .2l-1.2-.4l.5-2.2l.4-2.3l.5-2.1M105.1 122.5l-.7-1.5l-1.3-1.5l2-.7l2-.6l1.4-1.9l-.4-1.9l-1.2-2l-.9 .2M83.7 137.6l1.6 1.5l.6-2.1l0-2.3l-1.1-1.7l-1.6-.5l-2-1.1l-1.8 1.6l-2.2-.6M104.9 121.7l-1.8-.7l.7 .3l.2-.8l1-1.3l-1.3-1.5l0 1.4l.3 2.2l.4 2.3M113.3 133.8l-.5-.1l-.6-.6l1.5-.8l-.1-2.2l-1.8-1.2l-1.1-2l-1.4-1.3l-2.1 0M88.3 104.9l1.5-.3l2.1-1l-1.1-1.6l-2 1.1l1.6 1l2-1.1l1.2-1M69.7 101.2l-2.1 .9l.9 1.5l.4 1.4l2.2 .3l-1.1-.6l.9-1.6l1.8-1.5l1.8-1.1M65.7 95.9l1.5 1.1l-1.7 .1l1-1l.4 .2l1.3 1.3l2 1.1l2.3-.6M108.4 142.2l-1.7-1.2l-1.8-.5l-1.2-1.8l-2.1 1l-1.9 1.5l-2.2 .1l-1.5 .7l-1.5-.6M94.9 109.9l0-2.3l2.3 0l1.3-1.6l2-1.2l-.3 .5l-1.7-.7l-2.1-.9l0-2M94.6 105.4l-.6 .9l-2.1-.8l-.4-2.2l1.1-2.1l2.1-1.2l2.2 .1l2.1 .8l1.3 1.9M100 104l-.3-.5l.9-1.6l.9-2l.9-1.7l-1.6-1.3l-.1-.1l-.1 1.5l-1.7-.8M104 99l-.7 1.1l.4 0l.1 1.3l-.5 2.3l-.9-.1l-1.8-.7l-1.7-.9l-2.2-.3M94 150.3l2.2 .6l.5 1.2l-1.9 .4l-.6 .4l.5-2.1l-.9-1.2l.1-2.2l2-.5M107.9 113.3l.4 1.7l1.8 .2l1.6 1.2l-1.3 2l-2.1 1l-1.4 1.8l-2 1.2l1.3 1.4M71.1 94.2l.5 1.8l.9-1.6l.5-1.6l1.3 .7l-.2-2.4l-1.6 .8M72 123.7l.4 2.3l1.1-1.9l.9-1.1l2.3 .3l.3 1.6l.9 1l-2.4 .4l-2.3 .2M74.8 149.3l.7 .5l-1.1 1.6l.4-2.2l1.2-1.8l.8-1.8l1.2-1.9l1.5-1.6M91.4 132.8l-2 1.1l-1.6-.7l-1.4-1.8l1.2-.3l.8 0l1.6 .5l2.1 .7l2.3-.4M98.5 152.7l.9-.9l-.6-1.9l1.4 1.1l1.5 1.7l2-1.1l-.2-1.6l-2 .3M88.9 122.8l.8-.7l.1-.8l.2-.5l.8 1.9l-1.2 1.3l-1.2 2.1l-1-2l-2.3-.3M104.2 126.2l-1.7 1.6l-2.1 .7l-1.1 .6l.2 2.3l-.8 2.2l-2.2-.2l-2 .4l-1.7-1M107.2 109.7l-.5 1.1l-1.2 1.8l-.4 2.4l.5 2.2l.3 2.4l2.2 0l1.4-.6l.5-1.8M88.2 138.6l.2 1.7l1.5 1.1l.6 1.7l1.7 1.2l2.2 0l1.1-1l1.4 .3M96.5 126.2l1.3 2l1.2 1.8l-.1 1.5l-1.2 .8l-.2-.6l.9-1.2l-1.7-1.1l-1-2.1"/><path stroke="#626262" d="M90.7 120l-.6-1.1l-1.6-1.4l-2.2-.4l1.9 .3l1-.1l1.7-.2l2-.2l2.3-.5M84.7 105.1l-2.1-.7l-.8 1.7l-.6 2.1l-1.4 .9l1.1-2.1l1 1.7l.6 2.2l2.1 .5M116.4 113.8l-.7-.7l-1.6-.8l.1 1.2l-.6-2.2l-1.4 1l-1.2 1.4l-2.1 .1l-2.2 .5M108.2 104.2l0-2.3l-1.2-2l-.3-1.1l-.4-.4l-1.9-.3l-1.1-2M76.2 123.7l-1.5 1.2l-1.8 .7l-1.4-.2l-1.1-.5l.5 .6l-1.6-.7l-.3 1.4l-.8 1.5M109.9 129.3l.3 .2l1.4 1l-.2-2.2l-.2-2.3l-1.8-1.3l-1.7-1.5l-2.1-1l-1.9-.6M113.7 103.5l1.1-1.3l-1.3-.4l-1.1-.6l.8 1.3l-1.1-1.3l1.4-.8l-.2-1.4l-.6 1.8M89.5 122.3l-.6 2.4l-.1 2.3l.4 2.1l1.6 1.1l2.2 .1l2-1.1l1.2-.2l0-.2M110.7 128.7l1.5 1.5l0 .5l-1.4 1.1l-1.3 1.9l-.4 1.8l-2.2 .4l-1.4 1.7l-1.5-.1M72.3 133.3l.3-.9l.7 1.5l.3 1.9l2.2 .1l1.8 1.4l-.7 2.1l.4 2.3l-.2 2.2M100.2 121.4l.6 1.1l-.1 .4l-2.2 .1l-1.4-1.8l-.8-1.7l-1.2-1.7l-1-.8M74.7 104.6l.1-2.3l-.7-1.8l1.2-1.7l-2-.1l-1.8-.2l-.3-.5l-2 1.1l-2.4 .1M93 120.6l1.7-.2l1.1-.8l1.9 .2l.4-.5l1 1.6l.9-1.6l-1.8 1.2l-1.7-1.4M100.6 107.8l1.4-1.8l2.3-.1l.6-2.3l1.9 .3l1.5 .8l1.6 1.4l1.8 1.2l1.8 1.2M102 103.6l2-.7l.2-2.3l-.2 1.1l-1.2 1.2l.2 2.3l1.1 2l.9 2.2l-.2 2.3M86.9 106.5l.1-2.1l1.2-.4l.1-1.4l-2.2-.2l-1.8-.8l-1.3-1.3l-1.7-1.1l.4-.2M83.4 102l.2 2.2l.2 1.5l1.3-.7l-1.2-1.9l-1.4 .4l-2.2-.6l-1.2-1.7l-1.8-.3M93.8 99.9l-1 1l.7 1.1l-1.8 1.2l-1.9 1.4l-.6 1.8l-2 .9l-1.7 .5l-.5 2.2M95 97.9l0-2l-.7 2.2l-1.7 .5l-2.2 .6l-.6 2.1l.8 2.1l.4 2.3M89.4 117.1l-1.2-1.6l-2.1 .3l-2-.8l.8-1.4l1.5 .2l1.9-1.3l-1.3-1.6l-1.4-1.8M105.2 100.4l.5-.7l2 .2l2.1 .9l1.9-1l1.3 .8l-.5 1.9l-1.3 2l-1.3 1.8M73.4 124.6l-.5 1.3l-.3 2.1l.3 1.8l.7 2.1l2.3 0l-1 1.7l-2.3 .2l-2.3 .6M81.5 124.8l-1.1-2l1.5 .9l.8 2l-.6 2.3l-1.1 1.5l-1.7-.3l-.6-2.2l.7-1.1M108.8 116.5l.9-.6l1.1-.9l1.7 1.3l1.5 .8l-.4 1l.3-.3l1.7-1.1l.2-1.1M73.1 131.8l.9-2.1l.2-2.1l.8 1.3l.1 .1l-.1-.5l-1.7 1.6l-1.4 .6l-.6 2M97.4 109.2l1.1 1.4l1.4 .5l-1.9-.3l-.2 .9l.3 2.2l-1.1 2M84.4 100.2l2.1-1l2-.6l2-1l1.8 .5l1-1.8l.2-1.1l1.1-1.2l1.3-1.3M95.7 131.6l-1.4 1.9l-.1 1.8l1.2 2l.3 2.3l.4 2.2l-.7 2.2l-.4 1.4l0 .4M96.6 135.9l-1.3-.7l-1.6-.1l-.8-.9l-2.1 .9l-1.7 1.4l.5 1.6l-1.9 1.2l1.4 1.9M93 106.7l-.1-2.3l0-2.1l.6-2.3l-1.9 .3l-1 .9l-1.7 1.6l-.4 2.1l-.5 1.8M93.6 112.8l-.3 .7l-.2 .6l-1.4 2l-.3 2.2l-1.5 1.1l1.7-.2l.6 1.3M73.4 113.9l1.9-.2l1.6 1.1l1.6 .7l1.2 1l-1.8-1.2l-.5-1.1l-1.6-1.4l-.9-.6M99.7 132l.3 1.6l.7 1.6l-.3 .4l-.3 2.3l2 .9l.9-.7l.5 .6l1.6 1.7M111.7 109.3l-1.6 0l-.6 1.5l.1 1.2l-.8 1.5l-1.6 .5l-1 .8M67.3 111.8l.1-.6l.2-.7l-.2 1.5l-1 1.2l-2 1.4l-1.2 2l-1.1 1.2M70.4 132.1l-.5-1.2l-.4-1.2l-.6-1.3l-.1-.4l-.6 1.6l-.8 1.6l.5 1l-.5-2.3M109.3 132.7l-1.8-.7l1.7-1.5l-.7-2.3l-2-1l-2-.6l-.8-.5l2 .5l.4 2.1M70 123.8l-1.3-.1l-1.9-.1l-.5-1.8l.8-2.2l1.3-2l.7-2.2l.4-.5l-.5 .6M99.6 143.3l1.6-.7l-2.2-.8l-2.2-.3l-1.1-1.2l-.4 .2l.1-1.2l.5-.2M91.3 105.3l-2.2 .7l-2.1-.8l-2.1-1l-2.3-.2l-2.3-.1l-1.7-1.3l-1.3 1.4l-1.4 1.9M91.3 103l-.2 2.3l1.9 .5l1.1 2l2 .7l.4 1.1l-.5 1.5l.6 1.8l-.6 2.1M80.5 145.5l-2.1 .1l-2-1.1l-2.2-.3l-1.7 1.6l1.1 .8l1.9-.1l.3-.8l-1.2-.3M86.6 127.1l-1.6-1.5l.3-2.2l-1.7-1.1l-.7-1.9l-1.3-1.7l-1.5-1.7l-.5-.1l-1.1 2.1M97.2 113l-.9 1.4l.4 2.2l-.7-2.3l-.4-.1l1.2 .7l1.6 0l1.4 .5l.7-.1M107.8 145.9l.2-2.3l.8-.5l2.3 0l2 .4l1.2 1.9l-2 .9l-1.3 1.2l-.2 .6M80.2 151.8l1.5 1.1l2.3-.2l-.4-1.2l-.3-.9l-.9-1.5l1-1l2-.8M85.3 115.7l-1-.7l-.5-.2l.4 2.2l-.3 2.3l-.2 1.6l-.3-1.6l.4-.8l.8-2.1M94.5 108.7l1.2-.3l-.3-.3l0-.8l-.3-.8l-.6-1.1l-.7-1.8l.6 .4l-.1-1.5M75.3 140.5l2-.2l1-1.3l0-1.8l1.6-1.2l-1.3 1.1l.9-1.6M74.8 109.7l1.8-1.2l2 .6l1.5 1l-.9-2.1l.2-1.7l.2-2.1l-.2-1.9M101.5 122.7l-1.8 .6l.7-2.3l1-1.8l1.1-2l.2-1.6l-1.4-1.8M97.8 105.5l1.1-1.6l1.4-1.7l1.6-1.3l2.1-1.2l2.3 .1l.2 2.4l-.6 2.2l1.4-1.6M80.5 109.7l1.3 .3l1.2 .9l1.4 .9l.6 1.4l1 1.4l1.2 1.4l-.7 1.6l1.3-1.2M90 123l-.5 .1l.9 .7l.5 .9l.1 2.3l1.4 1l.6-.7l1.8 1.3l-1.6 1.7M98.4 124.5l-1.4 1.8l-2.1 1.1l-2.1 .9l.2-.3l1 .2l1.3 1.1l.5 1.2l1 1.5M86.7 139.9l-.3 1.4l0 2.4l-2.2 .1l-.6-2.1l-.7-.8l1.1-.6l1.1-2.1l1.5-.3M87.2 115l1.3 .2l.8 1.9l2 .5l1.8 .5l.5 2.3l2 1l.4-.4l1.2-.1M76.7 106.4l-1.2 1.6l.9 1.9l.2 1.8l-1 1.5l-2 .8l-2.2-.1l1.6 1.4M93.2 117.3l1.8 .8l1 .8l1.9 .2l1.9 .9l.7 .6l-.3 .4l-.4-.1l-.7-.3M116.3 116.9l-1.8 .1l-2.2 .5l-1.2 2.1l1.9 1.2l.2 2.2l-1.4 1.9l0-.4l1.4 .5M68.2 141.3l-.6-.9l.8 1.8l1.8 1.4l.5 1.3l-1.6-1.3l.4-.6l2.3-.6M105.5 99.9l.3 1.8l-.5 1.9l1.7 .7l.8-2l-1.4 .4l-2.3 0l-2.1 .2l-.2 1.5M88.5 114.3l1.8-1l0-2.4l-1.8 0l1.4-1.6l.6-2.2l-2-.6M89.9 126.1l-.4 .6l-.3-.3l-.1 2.3l.8 2.2l.7 1.5l.5 1l1.3-.1l2.2 .5M101.5 104.6l1.9 0l1.8 1.2l1 .6l.2 .3l1.8 .2l1-.8l1.3-.3l.9 1M74.4 117.2l.8 1.2l-.7-.7l.8-.6l1.6-1.6l2-1l-1.6 1.6l-2 .1l-1.5-1.7M86.4 121.6l1.4 1.8l2.1 .7l.6 1.9l.3 1.2l1 .8l-1.4 .4l-2.1 0l-1.7 1.5M84.6 113l2 .7l1.8 1.2l-.5 .5l-2 .3l1.8 .2l1.5-1l.7 .9l.1 2.1M116.1 148.1l.4-2.2l-.2-2.1l.4 2.3l-2.2-.6l-2.2 0M86.3 105.6l-1.1 .3l-1.7 .1l-.3 1.3l-.4 2.3l.6 2.1l2 1l2.2 .8l2.4-.2M89.4 124.4l1.2 2l.7 2.1l-.2 1.2l.5 1.6l2.3 .2l2.1 0l.7-.1l2.2 .5M70.9 100.1l1.8-.4l1.8 0l-.5-1.6l-.7 .2l.7 1.2l.2-.3l.1-1.2M93.5 144.8l-1.1 1.1l-1.3 1.9l.2 1.1l-.2 1.6l1.4-.6l2.1 1l.4 1.6M83.9 135.6l-.5-1.8l-1.6-1.2l-.4-2l-1.4-1.1l.4 2l.2 1.9l2.3 .3l2.3-.4M93.4 93.1l1.1 1.8l-.6 .8l-.9 1.4l-2 1.1l1 2l0 1.7l2.3 .2l1.4 1.8M82.1 124.7l.4 1.8l.9 2.1l.3 1.6l1.3 .6l-.5-2.3l-1.1-2l-.6-1.5l-1-.1M106.3 130l1.1-1.6l-.8 .4l-1.4 .1l-.2 .8l1.2 2l1.4 .8l.4 .3l1.9 .2M82.5 125.4l.1 .3l-.7-.8l-2.3 .4l.6 2l-.7 1.5l-1.5-1.5l-.6-2l-2.2-.5M90.1 114.1l-1.3-1.2l-1.6 .3l-.2-.7l1.2-1.6l1.9-1.1l2.1-.8l2.2-.5l1.9-1.1M72.1 111.4l1 .5l1.7-.7l.7 .9l1.8-.9l1.7 1.4l-1.7 1.4l-1.2-1.5l-1 .4M118.9 125.6l-.1 2.3l-1.2 1.8l-1.1 .2l-.1 .4l-.8 1.2l-2.2-.2l-.3 .2l.3-1.8M112.6 140.1l2 .9l1.4-.4l2.1-.9l.3 .1l1.1 1.7l0-.1l.9-.4l1.9-.6M89.6 122.4l.1 .4l-.1 2.3l-1.1 1.3l-.1 .7l-1.6-.2l-1.5-1.6l.9-2l.4-1.3M91.6 108.9l-1.5-.6l-1.7-.3l-.9 .3l-1-.4l-.6-.6l-2.2-.3l-2.2 .7l-2.3 .1M86.1 129.7l.8 .4l1.8 .3l1.4-.6l-.1-2.4l-.8-2.2l1.2-1.5l.3-2.1l1.2-2M82 114.6l-.8-.4l-.4 1.1l2-.5l1.5-.6l2-.1l1.9-1.1M105.2 130.4l-.5-2.1l1.4-1.6l1.8 .8l0-2.3l1-2.2l-.2-1.6l-1.2-1.4l-.7-1.9M109.9 101l1.6 .9l1.4 .7l.4 1.5l.3 2l1.2-1.2l.7-1l-.7 .3l1.1 .3M95.2 147.1l-1.2-1.2l.7-.7l.3-1.2l-.7-2.3l.3-2.3l1.2-1.1l1.4 1.4l2-.3M69.4 91.1l.5-1.1l1 1.3l0 1.5M83.4 114.6l1.1 1.4l1.6 .9l.1 2.3l-1.4-.1l-.8-.1l.6-1l.4-2.1l0-2.1M110.4 145.4l.1 2l-1.5 1.9l-1.6 1.6l-.6 2l1.5-1.7l2.1-1.1l2.3-.6M94.6 153.1l-.7-2.2l-1.2-1.9l1.2-.1l.4-.8l.7-.1l2.1-.8l.7-1.6M85.3 121.3l1.7-1.6l2.2-.3l2.1-.5l1.5 1l.7 1.2l1.4 1.1l1.4-.9l-.2 .4M74.7 100.1l.9-2.1l-.1-2.2l.8 2.2l.9-1.9l-1.6-.4M97.4 101l0 1.6l1.1 2l1.1 1.7l2.1 .6l.9 2.2l-2.1-.1l-2.2-.5l-.8-1.6M88.1 116.2l-1.7 .5l-1.7 1.1l-.3 1.9l-1.9 .4l-1.8 1.4l-1.4 .4l1.1-1.5l.2-2.3M73.9 97.9l-.8-.4l-1.5 .4l-2.2 .9l-.7 2.1l1.4 1.6l2 .7l1.7 .9l1.1-.4M97.4 138.7l-2.2-.4l-1.9-1l-1.9-.3l2.1-.9l1-2.1l.1-1.1l-.5-1.2l-.6-1.4M81.5 124.5l-1.9 .5l-.7 1.9l2.1 .7l1.9 1.2l2.1-.2l.4 2.3l-.4 2.3l-.6 1.9M105.8 142.1l1.6 1.6l1 1.8l2 0l-.5-2.2l1.7-.4l2 .1l.4-.8l.9-.9M92.6 114.4l.3-2.4l.8-2l1.5-1.5l.9-.7l0-.9l-1-.9l-.6-.9l-.2 2.1M115.1 130l-1.3 1.9l-2.1 .9l.5-2l.7-2.3l-.3-2.3l-.3-2.2l2 .5l2 1M85.2 135.1l-1 .1l.7 .5l-.5-.7l1.5 1.2l1.6 .3l2-.5l.4 2.3M86 95.4l.7-.2l2.2-.6l1.5 .8l.3 2.4l.3 2.3l-.7 2l-.2 2.1l-.4 2.2M61.1 130.3l2.3-.6l2.3 .1l.7-.7l-.1 2.1l.2 2.3l.1 2.1l-1.4-.4l-1.1 .7M72.1 111.7l.2 .7l-1.4-.5l.3-.5l1.5-1.4l1.8-1.4l1.6 .9M61.5 146.9l-1.3-2l.2-1l2.3 .3l2.1-.8l.4-2.1l-.1 1.3l.4-2.3M73.8 114.5l-.5-1.9l.4-1.4l.3-1.4l.6-1.8l.4-1.7l-1-1.5l1.1-1.1l0-2.3M117 137.7l-1.1-.3l-.7 2.2l-.3-.1l-1-1.7l-1.2-1.4l-1.7 0l1.8-1.4l2-.9M86.8 125.6l-.3-1.7l-.8-.7l-1 1.8l1.3 1.6l.4 2.2l.7 2l1.2 1.8l1.1 1.8M71.6 125.7l-1.6-1.5l1.5-1.8l-.8 1.7l-.4 2.3l.1 2.3l.5 .2l1.4-1.5l1.4-.5M83.1 105.2l-1.2 0l-1.1 .2l.7-2.1l1.8-1.1l-.4-1.6l1.7-1l.7-1.8M93.8 129l-.9-1.7l1.3-.3l1.2 1.5l.1 2.3l-.4 1.2l-1.9 .7l-2.2 0l.4-1.8M106.8 141.8l-.5-2.3l-1.5-1.5l.6-1.8l.4-.4l.1-1.3l1.8-.1l-.3-1.6l2-1.1M98.8 106.3l.1-2l.4-2.4l1.1-2l.6-.3l1.8 0l-.3 1.3l1.8 .6l1.9 1M94.6 111.2l.9-1.6l1.2-.5l.9 .4l.3 1.7l.9 .4l1.1 .2l-1.1 .6l-1.5 1.7M89.4 88.3l-1.8 1.4l-1.4 .3M95.9 127.5l-.9 .6l-.1-.4l-1.5-1.2l1.7-1.3l-1.3-.4l-1.4-1.6l0-1.7l2.1-.5M76.1 117.2l-.5 1.4l.1 2.2l-.1 1.1l.5-.9l1-.6l-.8 2l-2 .9l-1.8-1.3M91.4 118.1l-.5-1.7l-2.1-.8l-1.8-1.5l-1.9 .9l.1 1.8l.8 .9l1.6 .9l1.2-.7M102.2 105.2l.1 2.3l1.7 1.5l2 .3l1.3-.1l-1.6 1.3l-2.1-.2l-2-1l-1-.7M94.1 117.8l-1.6 .9l-.9 2.2l-1.3 .9l-.8 1.6l0 .4l1.9-1.3l-1.5-1.7l-1.3-.3M72.3 108.3l-1.2 .6l-1.7 1.5l-1-1.6l1-1.5l.3-2.2l-.3-.3l-.1 1.5l1.6 1M97.4 136.1l.2 2.4l1.5 1.6l-.5 .9l-.3 1.9l-.6 1.7l-1.6 1.1l.1 2.3l-1.6 1.5M89.7 132.8l1.7-1.5l-1.5-1.7l-1.9 .7l-1.5 1.9l-2.3 .1l-2 .9l0 1.9l1.7-1.5M77.6 114.1l2.3-.3l-.6-.5l.9-2l.6-1.4l1.7-1.6l-.1-2.4l1.8-1.5l-.5 2.4M89.7 107.6l-.8 2.3l-.4 .5l-.2 1.1l-2.1-.4l-1.9 .1l-1.1-1.7l1.8-.3l1.9-.5M74.7 118.1l.9-1.2l.8-1.1l.8 .2l1.8-1.6l1.9 1l1.6 .6l-2.1-.5l1.9-1.4M88.8 133.4l-.3-1.1l.7 1.1l1-.7l.4 0l.2-2.2l-1-1.7M94.2 125.5l1.9 .5l-.1-.2l.7-.3l1.2-1.5l.3-2.1l1.9-.8l1.7-1.7l2.1-.6M65.3 138.9l1.9-.6l2-.9l1.3-1.6l1.9-.8l1.4-1.2l2.3-.5l1.1-1.1l1 .2M95.7 117.3l-1.5 .2l1.1 1.4l.5 2.1l-1 1.5l-1.2 1.5l-.3 2.4l-1.8 .1l-.4 1.8M93.7 131.1l1.8-1l2 .1l-.3 .4l1.9 1.2l2.1-.2l2.2 .5l1.7-1.5l2.2-.3M103.7 113.7l-.1 .7l1.9-.3l1-1.9l-1.1-1.9l.8-1l.6-1.8l.2 2.3l1.5 1.7M67.2 95.5l1.3 1.5l1.9 1.2l.7-.1l.6-1l-.6 .4M93.2 133.2l1.3 1.9l.9 1.5l1.8 1.4l1.3-1.3l1.2 1.8l-.9 .9l-1.7-1.4l-2.3-.2M71.6 140.1l.5 0l1-1.5l.6 1l.8 1.9l-1.4 1.9l-2 1l-1.8 .4l-2.3 0M83.1 129.5l-.3 1.8l-.4-.2l-.4-2.3l-1.9-1.1l-.8 1.5l.6 1.4l-1.8 .8l-1.7 1.3M94.7 146.7l-.4-1.2l1.1 .7l.3-2.3l-2.1 .6l-1.6-1.6l-1.9-.2l.9 .4M95.3 137.4l1.1 1.9l-1.2 1.8l-1.7 .5l-.8 1.2l-.4 2l-1.3 1.8l-1.2 1.7l-1.1 2M84.7 131.9l-1.7 1.1l1.3 1.8l1.6 .8l1.8 1.6l1-1.2l1.7 .9l1.8 .6M92 127.1l.7-1.6l.9-.5l-1.4 1.5l-1.4 1.5l-1.9 .7l-.2 2l1.9-1.2l1.4-1M99.6 125.4l1.6 1.6l2 .9l1.9 1.2l1.5 .7l.6 2.1l.6 2.1l-1 2l-.9 .7M97.9 123.6l2-1.2l.8-2.2l1.9-1.1l2.1 .7l.3 .6l1.7 1.3l-.9-2.1l-2.2-.8M92.1 145.1l1 .3l.4 2.3l2-.8l-1.5 1.9l-2.3 0l-.9 .2l.3-2.2l-.9-2M106.2 135.8l-.2-.1l-.3 1.4l-.9 .6l-.2 1.7l-.1 2.3l-.6 1.4l.7 2.1l.4 .2M94.8 134.1l.4 2.2l-.4 .1l-.5 2.1l1.9 1.2l-.7 .1l.7 2.2l.2 1.8l-1.5-1.6M116.4 109.1l-.1-2.1l-1.7 1.6l-1.4 1.8l-2.3-.1l-2.4 .5l.3-2.1l-1.2-1.6M115.5 126.4l1.3 1.8l1.3-.3l1.2 1.3l1.8-.4l-1.9-1.1l-.6 2.3l.5 2.2M76.9 138.3l1.3 1.1l1.3 .3l.7 .8l1 1.5l1.6 .1l1.7 .4l1.7 .2l.3 0M72.7 147.8l2.1 .7l2.2 .6l-.7 .8l-1.8-.5l-1.1 1.5l-.4 1.5l1.8-.3l.3-.7M86.9 118.3l.3-1.2l-1.1-1l.7 .8l2.1 .6l1.8 1.3l1.6 1.5l.4 1.9M86.9 112.7l-1.6 .1l-.9-2.1l-1.1-1.9l-.4-1.3l.1 .1l.3-.7l2.1-1.1M77.6 115.1l-2.2 .7l-2.1 1l0 2.2l.9 2.1l-.9 2.2l-.6 1.2l1 1.8l-.9 1.6M70.9 122.3l-1.7-.2l-2.2-.2l-1.8-.7l.4-1.8l2 .1l1-2.2l1.1-1.9M88.6 129.2l.7 2.1l1.9 1.2l1.1 1.2l1.5 .2l0-1.3l-1.7-.9l-1.8 0l-1.4-1.7M81.6 119.9l1.6 .3l2.2-.1l1-.4l1.5-1.4l.6-2.2l.8-1.3l1.9 1l1-2M100 117.8l-1.3-.8l1.2 .2l1.7-.1l.5 2.2l1.5 1.6l.5 1.7l.5 2.3l-.4 .9M102.2 124.2l-1.1 .9l-2.2-.2l-2-.9l-2.2-.1l-.7-2.2l1.9-1.2l1.9-1.4l1.3 1.1M81.6 107.7l-1 0l.9-1.7l1.7 1l.6-.9l1.5-1.8l.2-2.1l-1.6-1.5l-1.5 .7M71 132.7l1.2 .2l-.1 1.2l-1.7-1.4l-.5 1.7l-.9 2l-2.1 1l-1.1 1.8l-.8 1.4M117.7 134.5l-2-.6l-1.7-1.3l-.2 1.2l-.3-.5l-2.1 .4l-1.7-1l1.4-1.8l1.7 1.6M85.2 132l-1.3 1.9l-.2 2.4l.6 1.4l-1.1 1.8l.4-2.3l1.8-1.5l2.2-.6l.5-1.7M106.4 143.5l-.8-.3l-1.8-.2l-1-1.1l-.6-.7l1.9-.8l1.7-1.4l1.7-1.5l.1-1.7"/><path stroke="#9a9a9a" d="M105.6 118.7l.6-1.7l1.1 1l-1.1 2l-2.1 .4l-1.9-.6l-.3 2.2l-1.9 .6l-1.7-1.3M63.6 140.4l-1.6-.1l-1.5 1.1l1.5-.3l1.6-.7l.4-2.3l1.4-1.5l2-1.2M74.3 93.9l1.3-1.9l-2.1 .6l0-1.2l-.6 1.1l1.4 1.6M111.6 112.6l1 1.6l1.1 1.6l1 1.2l1.7-.4l2.2 .3l1-.8l.3-1.5l1.7-1.5M81.2 129.6l0 2.2l-2-1.1l.2 .1l-.3 .2l2.3-.6l2-1.2M103.4 124.9l.7-.3l1 .8l-1.4-1.6l1.6 0l2-.2l-.8 .9l-2.1 .6l-1.2 2M115.5 107.4l1.1 1.8l.6 2.2l.1 2.3l1 1.2l.3 .4l.7 1.9l0 1.2l2.1 .8M108.3 144.8l1.9-.4l-.3 .1l-.7-.6l0-2.3l-1.8 1.5l.2 1.8l1 2.1l.3 1.1M107.7 143.1l.9-1.5l1.4-1.6l.3-2.3l1.1-2l2.1-.2l1.4 1.7l2 .4l-.9 1.9M88.2 128.4l-2.2-.2l1.1 .7l.8 1.6l-1.8 1.4l-1.9 .9l-1.5 1.9l-1.8-1l-1.9-.6M88.4 122l.6-2.3l.7-2.1l1.2-2l-1.1-.2l-.5 .1l1.2 1.3l-.3 1l1.1 .1M96.9 129.6l-1.7 1.3l1 1.6l2.2 .7l.5 .4l2.1 1.1l2.2-.9l.7 1.8l-.3-.5M112.4 136.7l1.6-1.6l.7-1.5l.6-1l.1-2.3l-.9-1.9l1-2.2l1.5-1.8l1.7-1.3M92.7 120.8l.1 0l2.1-.8l1.4 1.8l-1.6 .6l-2 1l-1.9 1.1l-2 .8l-2.2 .4M84.4 101.9l-.8-1.7l1.3-.9l2 0l1 2.1l1.2 1.5l.6 2.1l.1 1.8l1.3 1.5M113.9 141.3l1.5 .6l-.2 .4l1.6-.5l.7-.2l-.6-2.1l-1-.9l-.6-1.2l1.2 0M73 107.5l-.3 1.9l1.8 1.1l.9 2.1l-1.5 1.8l.9 2l1.4-1.8l.4-.5l-1.3-.7M107.6 139.6l-1.1-1.3l-.9-2l2.2-.2l1.1 1.7l2.2 .6l.4 .1l.3 .8l-1.2 .2M109.5 122.5l.1-.1l1.8 .1l2 .1l-1.1-1.8l-1.1-1.6l-.1-1.9l-2.2-.1l-1.2-1.3M113.7 146.2l.6-2.1l-.1-1.3l2-.7l1.4-1.2l1.9-1.3l1.2 1.1l.1 .4M102.1 145.7l-.5 .8l-1-2.1l.7-.5l-.2 1.8l1-1.7M108 114.6l.6 0l.5 1l.1 .2l-.6-1.7l-1.1 1.4l.4 .7l-2 .9l1 .1M103.2 119.9l-1.7 .7l-1.6-1.5l-.9-.6l-2.3 .1l-1.9-1.2l1 1.6l-.2-.2l-.8 .3M104.9 103.4l-.8 2.2l2.1 .7l1.5 1.7l1.4 .2l1 .6l-.9-1.2l.9-2l-.9-1.4M88.1 115.2l-.8-1.6l-.3 1.3l-.8 0l1.7 1.4l.1-1.1l.1-1.8l2-.9l1-.7M68.8 144.5l.8 1.4l.1 2.2l-.6-1.8l1.1-1.8l.7-1.7l-.5 2.3l.9 2M90.6 137.5l.6-1.4l1.5-1.8l-1.3 1.1l-.1 1.5l-1.1-.8l1.7-1.6l2.2 .3l1.9-.8M118.1 111.1l-1.6 1.3l-2 .4l-2.2 .1l.7-1.7l-2.1-.8l.5-1.3l1-.5l2.1-.3M114.6 146.4l1.9 1l1.5 .5l-.1 .3l-.8-2.1l.1-2.4l-2.1-1l-2-1M87.8 135.2l-2-.4l.1-2.3l.3-1.5l-.3-2.3l-1-2.1l-.5-2.1l-1.3-1.3l-.2-1.6M94.4 122.1l-.5 2.2l-1 .6l-1 1.7l1.6-1.4l.3 1.1l.4 1.1l1.4 .4l1.1 .1M73.7 116.9l2.1 .4l.9-.1l1-1.3l1.5 .6l1.3 1.9l2.2-.7l2.2-.7l0-2.1M77.1 89.7l.1-.8l.1-.5l-2.2 0l-2 .8M117.1 130.7l2.1 0l1.8 1.4l1.1 1.1l-1.8-1.3l-2.1 .7l-1.3 1.3l-.7 .6M91 135.8l-2 .5l.6-1.7l1.8-1.1l.3-2.3l-1-2.1l-1.9-1.1l-1.8-1.2l-.8-1.9M109.8 97.1l.8 1.5l-1.6 1.7l.6 2.1l-1.5 1.2l.2 .7l.4 .8l2.2-.4l-.5-1M87.1 123.1l-.6 2.1l-1.8 1.4l-.2 1.9l1.3 .8l1.2-1l-1.1-1.6l-1-1.7l-1.2-1.8M115 113l.2 1.4l-.9 .5l1.3 1.7l.6-.1l-.6-.2l.9-1.6l-2.1-.1M88.4 110.7l-.8 .5l1.9 .1l-.5 1.8l1.2-1.8l-2.2 1l.8 1.9l-.2 1l-1 1M98 132.2l-.4-.2l1 2.1l.1 1.6l-1.6-.8l-.8-.8l-1.3 0l1 1.3M111.8 144l-1.2-1.7l.2-1.6l-.7-2.1l-.6-1.6l-2 1l-1 1.7l-1.6 .2l-2.1 0M101.7 139.5l-2-1l-.9-1.6l1.3-.3l.7-1.8l1.9 .3l1.6 1l1.7 1.5l1.5 1.8M101.4 143.5l2-.5l-.1-.2l1.5-1.3l-1.3-1l-1.9-1.1l-.8-2.2l-.3-2l-.4-.9M106.4 111.7l.7-2.3l1.3-2l.8-2.1l1.9 .3l-1.9 1.3l-2.2 .1l-2 .6l-.3-2.3M77 143.7l-.7-1.2l-1.3-1.6l-.6-2l.6-1.4l1.5 .1l1.4-1.9l-.1-2.3l-.8-2.2M96.7 117l.4-.9l.6 2l-1.1 1.4l-1.6-.5l-2.3 .2l-2.1-.4l.9-.8l1.1-1.7M85.2 148l0-2.3l-.5-2l2.3 .2l-.5-2.2l1.8-1.1l-.4-.9l-1.9-.4l-1-1.8M72.6 142.8l-2.2 .3l-1.5-.1l.1 .8l1.2 .8l2.2 .3l2 .1l1.2-.8l1.7-.6M117.7 104l.2 2.4l-.3-.8l-.4-1.4l.2-1.4l.2-1.7l-.8 .8l-1.1 1.4l0 2.3M108.8 114.9l-2.3-.2l-.9 1.5l-2.1 .1l-1.6 1.8l.4 2.2l.4 2.2l.2 1M73.7 118.2l-1-2.1l-1.2-1.9l.1-2.1l.8-1l.4-2l-.6-2l-1-.2l1.4 .3M72.5 133.4l-.6 .3l-1.1 .7l-1.7 .9l-2 .9l2-1.3l-1.5-.1l.6-2.2M94.7 95l1.1-1.7l1.9-.2l1.9-.3l-1.6-1.5l-1.1 1.9l-.3 2.4l.2 2.4l.9 2.1M99.7 128.9l-2.3-.1l-.8 2l-.6 .1l-.8-2.1l-.7-1.8l-.2-1.9l1-.3M84.1 96.9l2-.5l.7-2.1l2-1.3l.3 1.8l.8 2.2l-1.7 1.6l.1 2.2l.4 1.8M90.6 130.5l.8 1.7l-1.4 1.9l-1.3 1.6l.8-2.1l2-1l1.9 .5l1.1-2.1l-.8-1.5M96.2 120.5l1.9 .3l.9-1.8l.6-2.2l.2 1.2l-.8 1.8l.1 0l.6-.3l.4 1.7M112.2 153l-1.7-1.6l-.3-.5l-.9-2.1l.3-2.1l1.4-1.8l1-1l1.8-1.3M65.4 101.7l1 2.1l1.7 1.6l1 2l.2 2.2l1.7 1.6l1.9 .9l1.4 1.1l1.9 1.1M90.2 113.7l-2.1-.7l.6-1.5l-.9-2.1l-1.5-1.5l-2.1 .3l-2.3 .7l.3 2.1M76.3 96.4l.1 1.3l-.2 1.9l.6-2.3l-.1-1.7l-2.1-.9l2.2 .5l2.1-.8M76.8 107.9l-1.8 1.3l-2.1 .5l-1.8 .5l-1.1 .3l.9-1.8l.7-2.3l-.7-2l-.8-2.1M100.8 120.2l-.7 2.3l.5 2.3l1.4 .9l-.5 .2l-.6-1.9l.7-.2l1.4 .6l2.2-.1M99.2 110.2l-1.9-.3l-.8 1.7l-.3 .5l-.7-1.9l-.3-1.9l-1.9-1.1l-2 .8l-1.7-1M96.1 151l-.9-.9l-1.5-1.2l-1.9-1.1l-1.9-.9l-.8-2l-1.3-1.6l-.1-1M107.2 105.2l.7 .6l-2.1-.8l0 2.1l.4 2.3l-.3 1.5l-1.3 1.9l-1.9 1.2l-2.2-.3M113.6 135.6l.1 1.9l1.6 .6l.5-2.2l.1-2.2l1.4 .1l-.5 2.1l1.9 1.1l1.1-1.3M124.2 134.1l-1.7 .8l.3-2l.2-2.4l.5-2.2l-1.9 .9l-.8 .9M91.2 128.2l-.9 1.9l.2 .7l-1-.8l.7 .7l-.1 1.5l1.7 1.4M111.4 145.8l.1 1.3l-1.4 1.1l-1.9-.2l-.7-1.8l-1-1l-.2 1.6l.6-.2M86.7 127.5l-1.5-1.5l-.4-1.1l.6 1.1l.9 .2l-.7 1l-1-1.5l-.3-2.3M106.6 107l-.6-.7l-.8 .1l-.8-.3l-1.2 .9l-1.6 1.2l-1.9 .2l-.3 .8l-1.1-1.1M116.1 148l-2-.3l-.8-1.7l-.4 1.2l1.1 1.8l.9 1.8l.2-1.6l-.3-1.4M120.9 109.7l-1.6-.4l-2.1-1l-.7 .1l-.1-1.7l1.5-1.4l-2 .9l-.7-.5l-.4-.2M83.1 109.4l-.8 2.2l-.5 2.2l.6 2.2l1 1.2l.2 1.6l-.8 .5l-.3-.2l1.3 .5M85.3 127.1l-1.8 1.4l-1 1.9l.3-2.1l-1.1-1.8l-2.2 .3l-.9 1.4l-.3-.7l-1.3-.8M82.1 94.9l-.8 1.6l-1.5 1.7l-1.8 .5l1.8-1.3l1.1 .3l.5 0l-1 1.2l-1.3 0M120 98.7l1.5-.6l-.5 .6l-.6 1.6l-.6 2l-2.1 .2l-1.8 .8l.3 2.1M108.4 145l-2-.3l-1.6 1.3l-2-.8l-2 .2l-.6 1.1l-.1-2.3l.3-1l1 1.1M95.3 131.8l-1.9-.5l-2.2 .1l-.5-1.3l1.8-1.4l-1.1-1.4l0-1.9l-1-1.5l-.6-.5M101.8 118.8l-.9 2.1l-.4 2.3l.3 2.3l-.6 2.1l-.5 2.3l-1.2 2l-.4 1.5l2.3-.3M93.4 105.7l-1.6 1.7l.3-1.6l.9-1.9l1.8-.7l1.1 .6l1.4-.2l-.5 .1l-.8 2.2M98 125.2l-1.2-.3l-.8 1.4l1.3 .9l1.5-.5l1.3-2l-1.1-.4l.9 .1l0 .4M93.1 135l.7-.3l-.5-.1l2.1-.3l2.1 .2l2.3-.1l1.7-.4l.4-2.1l-1.6-.9M116.1 107.9l-.8 2.1l-2 .9l1.6-.9l2.1 .1l2.2 .5l-.2 1.7l-1.4-1.8M104.7 128.3l-.5-2.2l0-.6l.3 1.7l.5 1.8l.6 .2l.5-2.3l-.8 2l.4 1.7M113.1 141.1l-1.2-.3l-1.6-1.5l-.1 1.5l.4 .1l-.8 .4l1.8-1.3l1.9 .5l1.3 1.7M83.4 138.8l-2-.5l-1.1 .2l-.3-2.3l-.1-.8l1.2 1.3l1.7 1.1l-1.5 1.8l-1.4 1.5M103.3 134.4l-2.1 .2l-2.3 .7l-2.2-.1l-2.2 .8l-2 1.3l0-1.3l1.4 1.9M79 137l-2.3 .1l-.9 1l1.5 1.6l1.9 .9l.2 .9l1.2-1.1l.4-.3l-1.8 .3M84.6 146.5l1.7-.3l2-.9l.1-2.4l0-2.3l.2-2.3l1.2-.9l1.3-1.7l-.3-1.9M93.8 113.1l-.7-1.1l2.2 .4l2.1 .5l2 .1l2-.1l-.6-2l-.6-1.5l-.3-.9M109.8 118.7l1-2l-1.1-2l-1.4-1.8l1.4-1.8l-.8 2.1l-1-.2l-.5-2.1l0-2.3M78.8 118l-1.4-1.2l.2-2.1l1 .7M75.3 112.4l-.3 1.8l-.1 .1l1.3 1.1l1.6-1.7l.3 .4l1.8 .2l1.4 .4l-1.3 .4M80.9 137.7l-1.8 .5l1.8 1.5l1.1 2l-.5-.4l1.3 .5l.2 .6l-.7-1.9M73.4 108.6l.4-.4l-1.3 .8l-2.1 1l-1.8 .6l-1.2 .6l-2.4 .3M70.4 105.1l.4 2.3l.2-.9l.8-.6l.8 .9l-.3 .2l1.6 .4l1.4-1.5M80.7 89l-1.3 1.1l.5 1.8l-.1 2.4l-.9 2.1l1.2 1.7l1.6 .4l1.7 1.6l-1.2 .7M63.7 98l-.1 0l.1-.2l.5-2.2l.4 .9l-1.1 1.9l-.4 .7M118.3 125.2l1.2 1.5l1 .4l1-1.5l-.7-.1l.1 2.3l0 2.1l-1.6 .9l-1-1.1M89.4 109.2l-1.6-1.4l-1.1-.9l-1.2-1.5l-.6-1.7l-.7-2.1l1.8 .9l-1.6-1.3l1.6-.8M100.8 125l-.9 1.3l-2.2-.8l-1.6 1.4l2.1-.1l1 1.7l1.7 .6l.5-.2l-1.1-1.5M114.9 149l-1.3-.5l-1.7-1.5l-.5-1.7l-.7-.2l.8-2.2l2-.6l1.3-.2l-.5-.3M118.1 133.8l-1.7-1.3l.8-1.9l2.2 .1l.4-2.3l-.3-2.2l-1.9 1.2l-2.1-.8M103.7 120.8l.3-2.3l-.6-2.3l.2 2.3l-.7 2.1l-1.8 1.1l-1.7-.6M111.4 135.7l.3-2.4l.3-.8l.8-.9l-.6-.6l.7-2.3l-2.1 0l.6 1.1M97.9 100.3l-.9 0l.2-.5l-.6 .4l1.3 1.2l1.6 0l1.4-.9l1.4 .1l1.6-1.2M93.9 105.4l-1.3 .5l.2 .6l1.8 .9l2 .9l.7 1.6l1.8 1.2l.9 2.1l1.8 .4M93.1 127l2.2 0l-.7 2l-2.1 .6l-.7-2.1l-1.8-.8l-2.2 .1l-1.4 1.7l.7 0M101.1 124.1l1.9-.2l.1-.3l.6 0l1.9-1l1.4-1.8l1.1 2l.4 2.2M84.8 104.1l1.4 1.8l.7 2l1.2 .5l.9 2.1l.4 1.4l1.9-1.2l.3-.2l-.6-1.2M90.2 140.3l.1-1.8l-2.2-.3l-.9-1.8l1.4-.5l-1.9-1.4l-1.1-1.5l-.5-.9l-.1 1.6M101.5 124.9l2 .1l2.2 .1l1.9 .3l.8 .3l1-1.1l1.4-1.7l.9-2.2l1.1-2M122.3 91.3l-2.2 .2l-1.7 1.2l-1.1 2.1l.7-.5l1.2-1.4l-1.1-.4l-1.1-.5l-.9 1.3M87.4 137.7l1.9 .1l-1.7-1.1l-1.9 1.3l-2 .4l-.9 2l-1.9 1.3l-.4 2.4M71.2 110.6l-2.1-.8l-.6 .2l2 1l2.2-.2l.1 2.2l-1.8 .4l-1.7 1.6l-1.4 1.9M106.5 116.6l.4-1.7l-1.7-1.1l-2.2 .7l-1.9 .6l-2.3 .4l-2.3 .3l-2 .2l.7 1.4M101.9 103.2l1.8 .5l.9 .7l.9 .3l1.9 .1l1.8-1.3l2 .8M68.2 127.9l.6-2.2l.5-1.6l-1.9-1.2l-2.2-.5l-2 .5l-2.3 .6l-.3-1.7l1.1-.4M89.4 122l-1.6 1.7l2 1l1.5 1.7l.3 2.3l-.2-.2l-.8-1l.8-1.8l-.5-1.9M97.2 122.7l-2 .4l-1.9 1.4l1.8-.1l2.2 .3l0-1.1l-1.3-1.7l-.8 .4l.5 .4M116.6 129.1l-.3-2.3l1-2.1l-.4-2.1l.7-2.2l2-.5l-2.1-.7l.4-1.8M71.4 106.3l1.9 1.1l-2.1 .3l-2.1 1.1l-1.7 1.3l-2.3 .3l-2.4 .3l-.9 .3M112.1 125.7l-1.1-1.5l-.8-1l-1.2-.8l-.7-1.7l-2.1 .6l-1.8-.2l-.4-.3l1.4 1.6M79.6 119.2l.4-1.9l-2.1-.1l1.1 1l.4 .8l0 1.2l-.3 1.2l-1.7 .7l.9-.6M83.3 132.3l-.8-2.1l1.1-1.7l-.5-1.8l-.3-2l2.1 .9l-1.1 2.1l.8 1.7l-1.5 1.8M61.2 139.4l.5-1.7l-1.1-2l2 .8l1.8 1.4l.7 2.2l-2.1 .4l.3-2.1l.7-2.3M94.3 103.6l0-2.2l-1.7-1.5l-2 0l-.7-.4l-1.5-.5l-.4-.8l2.2 .4l2-1M72.3 119.1l-.9-1.4l-.3-2.2l1.2-2l-.6-2l-1.3 0l.5-.6l.2 1.1l-.6 2.3M102 140.9l1.6-1.5l1.7-1l.6-2.1l-.4-2.1l.3-1.1l.3 1.2l.3-2.4M60.8 113.7l.8 1.4l.9 .3l.6-1.2l-.4-1.8l-.9-1.2M115.3 118.7l1.6-1.1l.5-2.2l.1-1.9l-.5-2l-2.1-.4l-1 2l-.8 1.2l-1.7 1.7M102.5 93.6l1.4 .6l1.7-.5l1.9-1l1.7-1.5l1.7-.6l1.2 .1l1.6-.4M61.2 132.3l.7-2.2l1.4 1.4l.7 1.6l-2.3 .1l.4-2.2M78.7 114.1l-1.8-1.2l1.9 .3l1.1 0l1.5 .7l-.7 .1l1.2 2l2.2 .4l1.6 1.2M104.9 107.6l-.4 1.4l1.1 1.2l-1.5 .5l-2.1 .9l-2-.9l-1-.8l-1.4-.2l-.4-1M102.9 119l-1.5-1.6l-2.1 1l1.6-1.5l1.4-1.2l1.3-.7l1.5 .7l2.2 0l1.8 .1M80 147.5l-1.1-.6l-1.7-1.2l-1.9 0l-2 .4l-1.7 .3l-2-.7l1.1-1.1M91.9 141.6l-1.9-.8l-.9-2.1l-2.3-.1l-2.2 .8l-1.5-.4l-2.2 1l-2.3 .3l0 2.4M98.3 132.4l-.7 2.3l-1.8 .8l-2-.8l-.7 2.3l-1.4 1.7l-.3 .6l.7 2l.9 2M97.2 120.2l1.7-1.2l1.7-1.5l.6-2l-.1-2.2l1.2-1.9l1-2.2l-1.8-1.1l-1.4-1.8M101 132.4l-1 2l-1.5 1.7l-.1 2.1l1.8 .9l.8-.9l-.1 1.8l-1.4 .7l-.6-1.2M116.9 116.8l-.9-.4l-.9-1.7l-.3-2.3l.2-.5l-1.3-1.8l-.9-2.1l-1.4-1.8M99.5 118.2l1.2 1.2l1.7 1.5l-2.1-.2l-1.1 .5l-1.1 1.9l1.9 .7l1.6 1.3M100 107.4l-2.2 .3l-1.2 1.4l-.7 1.8l1 1.1l1.8 1.1l2-.3l2.1-.3M94.6 139l-2-.6l-1.6 .7l-1.2 1.4l-1 1.7l-1 2l-1.4 1.5l-.9 2.1M94.8 135.6l-2.2 .5l-1.7 .9l-2.1 0l-1.3-1.6l1.2-2.1l-.7-1.8l-1.3-1.8l.4 1.7M95.9 145.4l.1 2.2l-1.7-.6l-.9-1.4l.2-1.4l0-.6l.2-1.4l.5-.6M71.7 151.3l-.5 .3l1.6 .6l-1.3-1.9l-2-1l1.7 .5l2.2-.8M116.1 89.7l-1.7 1.6l2.2 .3l2-1l1.6 .1l1.7-.5M75.3 137.1l1.9-.9l1.7-1.6l2.2-.4l1.1 1.5l-.7 2.3l-.8 2.3l.5 1.9l1.6 1.5M105.4 121.9l1.3 .1l1.9 .4l1.3-1.3l1.3 1.9l.7 2.1l.7 2.1l1.2 2l-.7 2M109.6 117.5l1.9 1.3l1.5-.9l-.2-2.3l-1.9 .4l-1.8-.9l-2-.1l-1.8-1.1l-1.8 .4M105.9 116.1l1.1-2.1l.5-2.2l.4-1.3l1.7 .4l.6 2.1l1.6 1.4l1.2 1.9l1.2 1.9M83.1 128.9l-1.1 2.1l-.8 2.1l-1.6 .9l-.7 2.3l-.8 2.2l-.5 2.1l.4 1.5l-1.4 1.6M88.5 122.3l-1.1-1.4l-1-.6l.9 2l-.8 1.9l-.4 1.8l-.9 2.2l-1.4 .3l-2 .8M104.7 141.2l.2-.3l.2-1.4l.1-1.4l-1.2 .4l0 .5l.7-2.1l1.5-1.5l-2.2 0M92.5 115.2l.2-1.9l-.1-1.8l.3-1l.6-.8l.7 1.1l2.2-.8l2 .8l1.7 1M75.3 96.2l.5-.1l.4-1.1l.4 1.8l.1 2.3l1.6 1.6l1.6 1.4l-.1 2.1l-1.3 1.7M76.3 100l-1-1.6l-2.1 .5l-1.7 1.1l2.2-.7l1.1-1.5l-2.2-.2l-1.9 .4M68.9 116.5l-1.3 .6l2.2-.8l2 .8l1.1-1.9l1.6-1.8l2.1-.4l-2.3-.5M76.2 148l-.8-2.2l-1.8 1.2l-1.8 .8l-1.5 1.7l-1.5 1.8l-.2-2.3l-.8 2.1M119.9 142.9l-1.7 .5l-1.9-.4l-1.8-1.1l-.6-2.1l-.9-.9l-.1-1.5l-1.5-1.4l-1.9-1.2M92 122.6l1 2l-1.6 1.6l-.8 2.3l-.1 1.5l-1.2 .5l.1 .8l1.5 1.8l1.1 1.9M89.8 128.8l1.2 1.7l.4 .8l1 2.1l-.7 2.1l.6 1.3l1.9-.3l.9-2.2l-2.3 0M68.8 118.2l1.4-.2l-1 .1l1.6-1.1l1.3 1.7l.2 2.1l.6 2.2l-1.5 1.7M87.8 93.2l1.4-1.9l1.1-.2l1.9 .9l1.1 2.1l-.3 2.3l-1.4 1.8M115.1 121.4l.2-1l.2 .9l-1.9 1.2l-1.2 0l-1.2-2l1.8-1l2-1.2l.6-1.8M114.8 117.9l.8-.1l.3-.6l1.1 1l.6-2.3l0-2.2M71.4 108.5l1.8-1l1.6-.8l.2-1.6l-1.4-.9l-2.3-.3l-1.9-.5l-1.7 .3l-2.4 0M96.8 122.9l-.9-2.1l.8-2l-1.2-1.8l-.4-.3l-1.1-1.2l-.4-.3l-1.4-1.1l-2.3 .2M69.9 123l-.1 .5l.1 1.3l1.6 1l-.6 .9l1.5-1.1l2.2-.6l1.7-.2l1.3-1.8M78 110.6l-1.4 .6l-.9 2.2l1.6 1.2l.4 2.2l-.5-.2l.3 1.6l-2 .7l-1.9 .4M104.9 113.7l1.4-1.9l1.3-1.2l.7-.2l-.3 .3l-2.2-.3l-1.5-.8l-.6-1.5l2.1-.6M84.1 125l1.3 .2l1.6-1.1l1.4-.3l1.9-1.4l.3-1.8l.7-2.2l-.6-2.2l-1.4 .1M78.6 98.9l-1.3 .9l-1.6 .6l1.9-1.3l2.1 0l2.2-.6l1.6 1.4M80.6 122l-1.5 1.5l-2.1 1l-1.4 1.9l.5 1.4l1.6 1.7l.4 2.1l1.4 1.6l1.9 1.1M111.9 118l.7-1.1l1.1 .9l2.1 .7l1.7-1.4l-1-.4l-.5 1.7l-2.3 .6l-1.8 1.3M90.2 96.7l-1.9-.9l-1.1-1.5l-1.4 1.7l-2.2 .1l-2.2-.3l-1.7 1.2l-1.3 1.3l-1.8 1.1M116.7 139.3l.7-.9l1.9 1.1l-.8-.5l.5-.3l1.7 .1l-1.2 1.6M92.8 122.7l-2 .6l2-1.1l1.5-1.8l2.1 .2l1.7 1l2.3 .5M68.8 140.1l1.1 2l1-.8l-1.4 1.9l.1-1.1l1.3 1.1l-1.1-1.1l-.2-.9l1.7-.9M118.2 99.7l.5-2.2l.9-.4l1.3 1.9l1.7 .6l-1.9-.4l2-.5M114 145.9l1.1 1.5l-1 .5l1.5-.1l2.2 0l-1.9-.7l-1.1-.1l1.5 1.1M85.1 119.1l-.1 1.5l-2.1 1l-.5-1.3l.1-2.2l.9 .8l1.1-1.3l.4 1.9l.9 .3M78.4 147.4l-1.2 .3l1.2 .2l1.2-.3l.6 1.9l.5-2l.5-1.2l1.4-1.1M118.7 136.3l2.2 .1l-1.1-.1l-.8-1.3l-2.2 0l-1.1-.3l-1.9 .3l-1 1.4M83.6 97.5l-1.4-1.6l-1.2 .3l-1.6 0l.1 .9l.3 2.3l2.2 .1l-.7 2.1M94.3 97.6l1.8 1.1l.8 1.2l-1.6 1.7l-2-.3l-1.5 1.5l-.8 1.2l-1 1.9l-1.4 1.5M114 134.1l-.9-2l-1.2-1.9l-.9-.5l.1-2.3l-1.8-.4l-2.2 .8l-2.1-.4l-.3 0M84.7 96.7l1.3-.6l-.2-1.7l1.8-.2l2.1-.4l.8-1.7l-.7 1.3l-.9 .4M104.9 150.8l-.5-.1l-1.8-1l-2.2 1l-1.8 .1l-1 .5l-1.8-.1l0-1.4l-.1 0M99.9 117.8l1.4-1.7l1.6-1l2.1-.7l1.2-2l2.1 .2l2-.3l-.5 .8l.6 1.1M90.2 100.5l2.1 0l2.1-.7l2.3-.1l2.1 .8l1.4-1.8l-1.2-1.8l-1.7-.9l-1.1-1.4M91.7 126.6l-.1-1.5l-1.8-1.3l-.8-2l-.1-1.7l-1.9-1.1l.1-.3l-.9 1.3l-1.4 1M114 131.7l.5-.8l1.8 1.2l1.7 .5l2-.1l.5-.3l-1.4 .7l-2.1 .6l.8 1.6M98.3 112.7l1.5-1.7l-.1-1.9l-1.4-1.5l-.6-1.6l-2 1.1l-1.9 0l-1.9-.8l-.5-2.2M76 111.3l2.1 1l.2 2.3l-1.5 1.8l-1.7 .1l-2.1-.3l-2.2 .1l-1-2.1l-.6-1.2M115.7 135.8l-1.1-2.1l-1.1-2l1.5-1.6l-.5 1.5l.4 .2l2.1-.3l2-1.1l-.3-2M86.8 123l.6-2.2l.5-1.3l1.5 0l.5-2.3l.5-2l.7-2.3l.7-2.2l1.8 .1M100.1 117.8l1 .1l2.3-.1l2.1-1.1l-.1-1.7l.8-1.3l1.8-1.2l.9-.8l1.6-1.3M98 100.3l-1.1-1.1l-.2-1.3l1.3-1.6l.6-2.3l-1-2.1l-.4 1.2l1.7 .3M110.9 138l.1-2.4l-.6-2.2l-2-.2l-1.5-.7l-2.2-.4l-.7 1l.6 .6l1.4 1.2M119.2 141.5l0 2.3l2.1-.3l1.3 1.3l-1.9 .5l-2.2 .3l.1 .3"/></g><g fill="none" stroke-width="1.20" stroke-linecap="round"><path stroke="#c84444" d="M105.8 109.2h0M99.4 130.4h0M89.3 110.2h0M100.4 147.0h0M83.8 127.0h0M103.4 139.5h0M71.2 122.3h0M106.2 109.6h0M71.3 137.2h0M70.4 108.6h0M97.4 111.9h0M72.7 105.3h0M118.5 91.9h0M100.8 114.2h0M69.6 99.3h0M109.4 121.8h0M101.8 145.3h0M116.5 131.4h0M92.4 136.2h0M94.5 92.7h0M114.1 117.6h0M109.9 96.3h0M87.9 119.9h0M69.7 152.2h0M96.3 142.6h0M97.1 114.1h0M102.3 106.6h0M89.8 98.5h0M99.2 147.1h0M94.7 118.8h0M94.5 142.2h0M97.0 119.5h0M88.1 131.4h0M73.9 121.5h0M115.4 131.2h0M109.3 133.5h0M70.4 109.2h0M117.1 118.7h0M76.9 130.5h0M65.2 94.6h0M105.0 124.6h0M69.2 148.7h0M116.5 97.5h0M83.5 108.5h0M100.4 87.8h0M69.7 153.5h0M109.1 131.1h0M110.0 94.7h0M109.4 112.6h0M120.5 100.1h0M99.4 107.4h0M113.5 144.4h0M96.6 108.7h0M105.9 119.2h0M122.5 133.1h0M117.9 99.4h0M113.4 138.6h0M102.7 117.1h0M88.4 123.3h0M72.0 95.5h0M88.6 100.3h0M106.0 115.8h0M112.5 139.5h0M100.2 107.7h0M74.1 107.5h0M83.0 130.4h0M66.8 98.6h0M92.5 100.3h0M119.2 132.3h0M116.1 137.4h0M68.6 102.5h0M91.2 145.3h0M113.2 114.9h0M92.4 136.9h0M107.0 112.7h0M107.0 122.7h0M84.7 133.2h0M89.8 151.4h0M115.4 150.6h0M85.9 99.4h0M75.3 137.9h0M107.6 93.2h0M112.0 94.9h0M106.0 120.0h0M102.4 115.7h0M123.6 122.9h0M80.6 134.9h0M66.0 129.8h0M83.0 133.3h0M104.0 90.8h0M78.6 147.3h0M117.1 109.3h0M95.6 91.7h0M106.6 134.6h0M99.0 142.7h0M83.0 112.2h0M73.9 122.3h0M66.1 131.6h0M100.6 128.9h0M104.5 126.5h0M70.4 105.5h0M77.4 132.7h0M120.4 111.4h0M79.0 115.9h0M118.3 140.4h0M84.6 124.1h0M81.8 141.8h0M120.3 129.6h0M111.2 96.1h0M91.3 106.3h0M99.7 147.4h0M117.0 138.4h0M106.2 115.5h0M78.8 111.8h0M99.1 118.9h0M98.0 111.5h0M102.9 145.3h0M86.2 105.0h0M82.6 99.5h0M62.0 99.9h0M96.6 139.6h0M119.4 113.4h0M65.7 99.7h0M87.9 146.7h0M121.8 132.4h0M68.8 109.0h0M117.5 137.8h0M118.9 152.1h0M82.1 134.9h0M97.9 106.4h0M66.1 142.9h0M88.8 124.6h0M85.6 112.1h0M109.4 152.3h0M78.5 108.3h0M81.9 107.1h0M84.5 131.7h0M77.4 119.6h0M108.3 149.7h0M90.5 96.5h0M69.9 133.7h0M115.7 99.3h0M81.5 107.1h0M117.5 142.1h0M98.4 110.8h0M87.2 148.2h0M58.8 117.5h0M107.9 118.5h0M110.5 98.3h0M113.1 101.0h0M99.7 144.2h0M117.1 97.2h0M83.5 110.6h0M80.9 131.9h0M78.7 139.9h0M112.0 141.8h0M111.9 140.7h0M70.2 106.8h0M118.8 123.3h0M92.1 99.4h0M83.9 152.0h0M76.9 141.8h0M75.5 101.9h0M104.6 143.3h0M104.7 137.0h0M117.2 98.3h0M79.4 99.3h0M115.5 99.1h0M62.6 114.7h0M109.4 109.2h0M81.5 148.8h0M97.4 108.1h0M120.1 110.2h0M77.0 132.6h0M94.8 110.4h0M88.1 106.5h0M118.8 135.2h0M70.2 116.3h0M99.3 127.7h0M114.3 122.1h0M89.4 115.0h0M119.4 115.1h0M111.2 98.3h0M94.4 99.8h0M99.4 141.7h0M116.9 103.3h0M87.0 111.1h0M90.1 144.8h0M96.4 134.4h0M69.0 101.9h0M98.5 106.2h0M81.1 122.8h0M82.2 130.1h0M95.1 117.4h0M93.4 100.6h0M119.3 116.0h0M85.4 90.4h0M77.0 123.0h0M121.5 109.7h0M113.8 135.4h0M90.1 92.9h0M104.2 91.8h0M60.2 139.1h0M108.0 97.9h0M83.0 116.1h0M103.4 112.1h0M97.3 131.3h0M112.1 137.7h0M80.6 88.3h0M67.3 105.3h0M91.1 99.7h0M82.2 145.9h0M108.0 105.8h0M77.1 100.8h0M112.6 117.5h0M109.4 96.4h0M99.9 144.8h0M76.0 145.6h0M76.8 144.2h0M107.3 133.8h0M120.6 119.2h0M113.8 143.7h0M100.9 119.8h0M70.3 135.8h0M84.0 144.1h0M103.0 120.2h0M77.2 123.9h0M63.1 134.9h0M79.0 135.6h0M97.3 122.5h0M78.0 146.9h0M112.1 98.2h0M79.8 134.7h0M77.9 97.9h0M88.7 106.6h0M64.5 110.5h0M85.1 127.0h0M88.3 89.5h0M111.1 121.5h0M100.9 99.7h0M115.7 128.8h0M99.2 96.9h0M68.6 128.4h0M64.6 123.4h0M75.9 148.5h0M79.1 113.1h0M115.9 133.6h0M70.7 99.7h0M72.1 95.9h0M119.2 126.6h0M79.8 141.3h0M109.8 90.9h0M69.5 116.5h0M68.2 122.9h0M115.8 146.1h0M87.6 105.5h0M63.8 141.5h0M97.4 105.9h0M84.5 104.6h0M110.7 151.1h0M104.9 107.3h0M95.3 92.1h0M93.7 112.4h0M83.4 143.6h0M74.5 115.1h0M111.2 109.7h0M60.3 135.4h0M121.4 135.5h0M80.4 94.3h0M76.0 141.8h0M110.1 139.2h0M83.1 147.8h0M81.3 133.6h0"/><path stroke="#f8f8f8" d="M111.3 111.8h0M68.4 135.1h0M87.9 129.5h0M71.5 129.4h0M95.0 134.5h0M75.0 137.1h0M89.2 93.8h0M78.0 139.7h0M62.8 152.0h0M101.0 140.3h0M73.1 126.6h0M78.3 90.3h0M70.4 106.6h0M71.3 143.4h0M71.3 102.7h0M66.9 94.8h0M69.6 132.8h0M61.9 132.0h0M97.9 110.9h0M84.7 98.3h0M95.2 113.5h0M82.5 111.3h0M105.8 104.1h0M72.6 111.9h0M89.8 116.3h0M106.7 105.9h0M112.9 102.6h0M84.7 112.0h0M68.5 135.5h0M101.0 136.6h0M83.3 122.1h0M100.5 129.2h0M87.0 133.5h0M74.2 113.6h0M101.0 92.8h0M83.2 99.6h0M72.2 113.4h0M96.6 98.9h0M82.6 116.9h0M94.6 119.5h0M86.4 105.8h0M97.2 135.1h0M66.1 145.7h0M114.3 136.1h0M84.2 119.7h0M95.3 92.2h0M98.1 137.4h0M115.0 102.2h0M108.6 127.0h0M83.6 112.1h0M96.8 92.8h0M106.6 99.8h0M85.7 126.5h0M64.5 132.5h0M67.4 97.4h0M74.7 146.6h0M76.0 106.0h0M83.0 143.7h0M116.7 150.3h0M84.6 116.6h0M112.9 135.0h0M69.8 132.7h0M73.7 96.6h0M87.5 130.6h0M62.0 115.0h0M105.6 146.6h0M107.9 129.3h0M102.6 100.8h0M105.1 125.1h0M75.3 98.3h0M122.1 132.8h0M113.7 124.0h0M76.8 98.1h0M85.0 133.7h0M106.3 125.0h0M80.3 129.7h0M109.3 98.0h0M107.8 151.5h0M117.9 120.2h0M76.7 108.7h0M93.4 103.8h0M99.1 130.3h0M71.8 148.3h0M84.4 95.2h0M65.8 138.5h0M81.9 144.0h0M78.8 146.5h0M68.1 152.7h0M86.4 108.7h0M113.5 127.5h0M119.0 129.7h0M98.4 138.3h0M73.2 93.2h0M114.1 146.0h0M76.4 144.9h0M84.9 98.2h0M59.4 102.9h0M115.2 88.8h0M71.7 148.4h0M91.6 147.1h0M110.6 118.2h0M91.5 108.2h0M94.8 103.5h0M67.6 133.1h0M108.8 126.4h0M97.0 129.9h0M95.9 126.8h0M118.0 118.7h0M122.1 117.4h0M78.7 96.9h0M79.5 131.3h0M86.2 127.4h0M94.9 129.1h0M71.3 121.2h0M63.2 97.8h0M95.6 94.9h0M119.2 107.2h0M119.5 142.1h0M104.7 127.2h0M98.5 122.9h0M110.8 121.6h0M92.2 104.2h0M119.8 147.1h0M99.7 120.4h0M77.5 109.4h0M91.9 128.2h0M81.1 114.9h0M112.5 95.4h0M90.4 100.3h0M107.9 109.5h0M96.7 143.7h0M85.1 96.7h0M88.3 112.1h0M69.2 144.8h0M66.3 122.4h0M106.9 149.9h0M100.6 134.9h0M95.5 115.2h0M72.7 126.8h0M118.9 142.5h0M92.5 114.4h0M112.3 121.0h0M96.5 145.7h0M109.1 113.4h0M91.5 121.8h0M70.2 105.6h0M120.1 127.1h0M74.9 123.2h0M90.2 108.5h0M100.8 121.9h0M63.5 107.4h0M109.7 134.9h0M79.8 131.6h0M76.3 104.3h0M99.9 140.8h0M113.0 126.2h0M83.1 133.1h0M124.1 115.0h0M108.4 91.7h0M109.3 148.1h0M98.7 128.0h0M74.4 92.0h0M67.9 125.5h0M79.7 118.3h0M108.9 145.6h0M64.5 150.3h0M73.2 130.9h0M69.1 124.5h0M106.4 128.6h0M82.4 125.0h0M65.4 125.8h0M75.7 132.9h0M115.5 132.2h0M107.3 150.6h0M93.4 102.5h0M114.5 97.3h0M84.1 130.0h0M64.9 121.0h0M74.9 129.1h0M62.4 152.1h0M81.2 125.5h0M122.6 135.2h0M98.6 113.9h0M114.3 134.8h0M87.4 140.2h0M61.8 114.5h0M107.8 119.1h0M94.3 119.2h0M115.2 141.9h0M81.8 119.1h0M88.8 94.7h0M90.3 133.2h0M110.0 119.7h0M60.2 101.3h0M84.0 122.8h0M82.6 149.9h0M112.6 119.0h0M69.6 112.1h0M74.5 136.6h0M105.4 98.8h0M74.5 108.1h0M95.6 113.2h0M87.8 145.8h0M110.6 122.0h0M103.2 110.3h0M75.4 121.9h0M80.0 121.9h0M68.7 104.8h0"/><path stroke="#4848a8" d="M73.8 135.2h0M115.5 143.0h0M89.8 115.4h0M63.8 116.0h0M74.9 123.2h0M103.7 116.0h0M112.9 144.4h0M112.6 107.8h0M104.0 94.9h0M107.0 149.1h0M64.5 132.0h0M83.4 130.8h0M64.1 116.0h0M81.2 95.5h0M122.1 130.5h0M93.3 136.1h0M114.0 151.5h0M118.1 136.3h0M93.2 113.2h0M116.0 120.9h0M82.9 144.5h0M110.9 119.9h0M83.3 97.1h0M101.2 101.9h0M101.9 150.2h0M83.6 110.0h0M85.6 102.1h0M114.7 140.6h0M89.7 143.6h0M73.6 107.3h0M82.5 110.3h0M80.8 135.0h0M89.4 114.6h0M69.0 141.6h0M90.8 113.5h0M76.4 101.1h0M99.3 126.8h0M105.2 114.9h0M79.6 88.9h0M73.1 101.0h0M95.4 106.9h0M102.0 137.0h0M94.9 98.5h0M71.2 146.7h0M112.2 100.7h0M76.0 125.8h0M105.3 145.9h0M69.6 100.1h0M90.1 131.3h0M85.0 119.1h0M92.3 108.3h0M105.0 140.6h0M82.0 145.9h0M108.6 146.6h0M97.8 89.3h0M105.3 135.4h0M91.0 139.2h0M96.9 93.2h0M73.1 138.1h0"/></g>
<path d="M175.4 49.7L234.5 49.7M175.4 49.7L175.4 104.3M175.4 49.7L188.3 37.9M188.3 37.9L242.0 37.9M188.3 37.9L188.3 92.5M175.4 104.3L234.5 104.3M175.4 104.3L188.3 92.5M188.3 92.5L242.0 92.5M234.5 49.7L234.5 104.3M234.5 49.7L242.0 37.9M242.0 37.9L242.0 92.5M234.5 104.3L242.0 92.5" stroke="#b0b0b0" stroke-width="0.60" fill="none"/><g fill="none" stroke-width="0.70" stroke-linecap="round" stroke-linejoin="round"><path stroke="#f2f2f2" d="M232.2 57.1l-.5 1.1l1.4-.1l-1 1.4l-1.4 .3l.6-1.2l.3-1.3M220.8 52.5l-.7 1.3l.6 1.5l-.9 1.1l.1 1.4l-.7 1.4l1 .1M207.8 90l-1.3-.8l-1.2-1.2l-1.3-.9l.4-.5l-.6 .3l-.3-.1l.6-.4M205.3 93.2l-.1 1.5l-1.3 .4l-1.7 0l-1.5 .9l-.5 1.1M179.3 55.6l-1.2 1.1l-1.2 .9l-.6 1.6M213.8 73.3l-.7 1l-.3 .1l0-.7l-1.3 .9l-1.2 .2l.3-1.6l-.1-1.7M196.7 57.8l1.1 1.1l-1.4 .7l-1-1.1l-.4-1.5l0-1.6l.8-.1l-.5-.4M224.4 61.3l-.9 .4l-1.6 .3l-1.3 .3l-1 1.2l-.2 .1l.5 1l-1.5 .8M234.6 102.4l0-.1l-1.7-.4l-1.4 .2l.2-.1M191.2 82.2l-.7 .6l-1.2-.9l-1.5 .1l1.1-.8l.6 .1l1.4 .3M203.6 75.7l-.1 1.2l-1-.4l-.4 1.2l-.8 1l-.9 .5l-1.1 .4l-1 .3M233.5 77.7l.7 .4l1.4 .4l0 1l-.4 0l-1.5 .3l-1.4 1l-1.3 1M234.1 94.3l1.2-1.2l-1.2-.8l-.7-.7l-.5-1.1l-1.2-1.2l-1.3-1.1M190.5 69.5l-.6 0l-.1 .2l0 .3l.9-1.5l1-.8l-.9 .3l-1.7-.4M235.2 56.1l1.5 .7l1.5 .6l1.3 .4l.3-.1l-1.1-.9l-1.1-1.2l-1.6-.3M190 60.6l.6 1.5l-.6 1.1l.5 1l-.7 1.5l-.6 1.6l-.4 1.6l-1.5 .2M197.3 58.7l1.2-.3l.6 1.1l1.6-.5l.7 1.4l1.6 0l.4-1.3l-.4-1.6M224 82.7l-1.2-.3l-1.5-.7l-1-1.3l.3-1.6l-.6-.9l-.6 1.6l-.8 0M216.2 101.8l-.3-1.7l1-1.3l1.1 .4l-1.1-1.1l.2-1.2l-.2-1.6l-.1-1.3M236.7 62.2l-.8-.6l-1.5 .7l-1.3-.2l-1.6 .2l0-.8l.2-1.1l.6-1.5M217.1 87.1l.6-.1l1-.9l.5 .2l.7-1.5l.8-1.4l.4-1.6l.3-.9M182.4 74l.9-.9l1.3-.6l1.3-1.1l.5-1.7l.9-1.4l1.5-.7l.2-1.6M227 52.3l-.2-1.6l-.7 .3l-1.7-.2l-1.2-1l-1.4 .7l-1.2 1.2l.3 1.6M189.7 82.2l.6-1.3l1.2-1.1l1.8 0l.5 1.1l-.1-1.3l-.9-.4l-1.4-.3M187.5 87.4l-.8-.7l-.2-.4l.3 1.4l1.5 .8l1.4 .3l.4-1.1l.8-.6M203 45.8l.7 .4l.8 1.2l1.3 1l1.6 0l1.1 .9l.9 1.4l1 1.2M232.1 50.4l.3 .1l0 .3l.5-.1l.3 1.3l1.4 .2l.1 1.7l.7 .9M228 51.6l-.8-1.2l-.3 .3l-.2-.4l-1.4 .2l-1.5 .8M216.9 52.7l1.3-1.1l-.9-.9l1-1.2l.8-1.5l1.4-.8M208 68.5l1.5 .7l-1.3 1l.5 1l-.4 .9l1.3 .7l1.2-.8l.5-1M213.7 56l-.7 0l.6 1.1l1.6 .5l.3-.2l-.4-.9l-1.5-.8l-1.3 1.1M217.5 61.1l-.6-.5l-1.6-.6l-1.5-.7l-1.4-.8l-1.1 0l-1.2 .3M222.3 66.4l-1.6 .7l-1.3-.9l-1.6-.5l-1.1-.9l-.9-1.1l-.7-1.4l-.7-1.4M215.6 61l-1.3 .3l-1.5 .6l-1.6-.6l-1.6 .7l-1.6-.1l-1.2-.8l-1 .2M217 47.8l.6 1.5l.5 .5l1.1 .7l-.2 1.7l-.7 1.5l-.4 1.6M203.8 58.8l1 1.3l.8 .9l1.4 .2l.9 .6l.6 1.5l.6 1.4l-.9 1.3M194.5 78l.6 .3l.4-1.7l-.8-.4l-.2-.3l-1.1 1.3l.5 0M202.1 53l0-.9l1.6-.7l1.2-1.2l1.4 .1l-.6 1.2l-1-.6M199.1 58.6l-1.4 .8l-1.3 .4l0-1.2l-.4-.1l-.2 .3l-.4-.9M203.3 63.6l-.4-1.6l.1-.6l-.8 0l-1.4 .3l.8 1l.8 .3l1.4-.8M204.8 96.8l1.7 .1l1.5-.4l-.6-.7l-.3-1.1l-1.2 .6l-1.2-.3l-1.1-1M198.6 90.3l-.6-1.5l-.8-.7l1.6-.1l.6 .7l0-.2l-.6-.3l-.1-1.2M225.2 73.9l.3-1.4l1.3-1l-.6-1.4l0-1.7l-.5-1.5l-1.2 .7l-1-.7M235.6 44.3l.2 .7l.5 .5l-.6 1.1l0 .7l-.1-.2l-.1-.9l.4-1.2M184.6 50l-1-1.1l-.1-1.2l.1 1.2l.7 1.5l-1 .3M205.9 57.2l-.6-1.5l-.2-1.6l-1.1 .3l1-1.2l0-1.6M227.1 87l-1.2-1l-1.1-.8l-1.2 1l-.5 1.4l.3 .4l.5-.6l.1 .2M216.1 69.6l1.2-.4l.5-1.5l1.3-.7l.5 0l1.1-1.2l-.4-1.2l-1.2-.9M210.9 79.3l-.5 1.2l-.4 .9l1.1 .5l.8 .3l1.3 .9l.5 1.4l.5 1.6M223 94.6l-.9-1.1l.8-1.3l.3-1.6l.8-1l1.2 .3l.7-.9l-.7-.6M195.8 88.4l.8 0l1 1.3l1.4 .6l.7 1.5l1.6 .2l1.1-1.2l-.1-1.1M219.1 67l.2 1.1l-1.4-.5l-1.2 .5l-1.5-.4l-1.3 .9l-1.4 .2l-.5-1.5M180.8 100l-1.6-.2l-.4 1.2l-.7 1.3l.8-.6l-.2-1.4l-.4-1.5M205.5 77.1l-1.3 .2l-1.6-.2l-.6 0l-.4-.3l.7-.6l1.1-1.3l1.4 .2M227.9 75.2l-1.4 .9l-.9 1.4l-1.5 .7l.5-.7l-.5-1.6l-1.3-.7l-.8-.8M219.8 71.4l1.5-1l1.6 .5l-1.1 1.3l-1.5 .6l0 .6l-1.1 1l-.7 1M192.1 66.8l-1.1 .8l1.2 .5l-.1 0l0 .7l-1.1 1.2l-1.1 1.4l-1.5 0M204.9 85.8l1.4 .5l.8-1.2l1-1.3l1.2 .1l1.8-.1l-.7 .4l-.3 .6M224 58.6l-.2 .4l1.1-.1l1-.2l-1.4-.9l0 .2l.7 0M235 87l1.4 0l1.5-.7l1.2 .1l.3-.4l-1.1 1.1M208.8 73.5l-1.6 .3l-1.2 1.2l-.3 1.5l-1.4 .7l-1.2 .6M190.2 79.2l-.6-1.5l-1.6-.7l.3-1.3l-1.6-.5l-.4 .5l0 1.6l-1 1.2M228.7 97l.6-.9l.8-.7l1.3-.4l1.6-.5l1.3-1l-.7-1.5M196.6 69.6l-.8-1.4l.5-1.4l.8-.1l1.3 0l-.3 .5l-.1 1.7l-.7-1.5M233.4 68.4l1.2 1.2l.5-.9l.9-1l1.2-1.1l-.2-.3l-.8-.7l-1.5 .7M221.7 89.5l-1.5 .8l-1.6-.1l-.6 .9l-1.2 1.3l-.9 1.2l-1.4 .4l-1.5 .2M224.7 70.2l-.1-1.4l.1 1.4l-.4 1.6l-.4 .8l-.7 1.2l-.2 1.7l.2-1.1M185.7 62.8l-1.2 .2l1-.7l1.6-.7l.9 .8l-.6 .4l-1-.1M201.5 70.7l1.1-1.3l-.1 .7l-.7-.8l-.3-.5l.2 1.1l.7 1.2l1.5 .7M222.1 54l-1.1-.6l.6-1.5l-1.1 1.3l-.4 1.5M189.3 58.5l-.5 .4l.4 1.5l-.8 1.5l-1.1-1.2l-1.4-1l-1.1-1.2l-.2 1.6M229.7 87.4l.5-.2l-1.4-.3l-1.1-.1l-.5 1.6l-.7 1.5l-1.7-.2l-.8-.8M218.4 71.4l1.1-.6l1-.8l.8-1.5l1.2 .4l-.9-1.4l-1.4-.8l.1-1M189 48.5l.8 1.1l.9-.5l-1.5-.2l-1 1.3l1.4-1l-.5-1.4M200.7 69l1.5 .4l1.8 0l1.3 1l.8-.7l-1.7 .4l-1.4-.2l-1.2 .3M210.8 68.9l.8-1.5l.7-.3l0 .4l-.3 .8l.1 .1l-1.5-.1l-1.3 .8M199 94l-.1-1.2l-.8-.2l.4-1.5l.6-1.4l1.3-1.1l1.4-.8l1.5-.7M205 52.9l.7 .5l.7-.2l.7 1.3l.2 1.1l1.6 .6l1.7 .1l1.3 1M235.5 50.3l-1.4-.9l-1.1-1.1l-1.4-.6l-1.4 .1l-1.3 0l-1.7 .3l-1.2 1.2M232 84.4l1.2-1.3l-.8-.6l-.7-.3l-1 .8l.2-1.1l-.8-1.1l-1.3-1M208 57.6l-.1-1.7l.4-1.4l-.2-1.4l.1-1.6l.1-1.7l.4-1.5l.6-.8M200 83.4l1.2-1.1l.9-1.5l1.1-.1l1-1.2l.4-.5l1.1 1.1l1.5 .1M211.9 92.6l-.2-.1l.5-1.1l.6-.3l0-.9l.5-1.5l-1.6 .1l-1.3-.9M186.9 79.9l.1 .3l-.1 .5l1.4-1.1l.2 1.1l1-.3l1.6-.2l1.8-.5M232.4 47.3l-.4 1.4l.6-.7l0-.1l.6 .4l.3 1.2l-1.6-.6M209.4 52.4l-.7-.3l-1.6 0l-1.3-.9l-1.1-1.2l-1.2 1.2l-1.3 1.1l-.3 0M229.5 45.9l-.4 .1l-1 .6l.1 .6l.6 1.4l1.1 .7l-.1 1.6l1.1-.7M206.1 89.6l1.6-.3l1.2 .7l-.4-.3l-1.7-.1l-1.2 0l0 .5l-1 0M232 101.8l-1.3 1l1.2 .2l1.8-.2l.4-1.5l.3-1.6l-.6 .4M207.7 60.1l1.1 .7l-.6 1.1l1.3-1.1l1.4 .9l1.5 .2l1.4 .7l1.4 .4M183.6 72.4l1.7-.2l1.4-1l1.4-1.1l-1.8 .3l-1 1.3l-1 1.1l-1.3-.2M196.7 69.6l-.1 1.3l-.8 1.5l-.2 .8l.9 .3l.7-1.4l.8-1.3l.6-1.2M188.2 44.2l.3 1.3l1.2-.1l.8 .6M219 81.1l.3 .8l.1 .6l-.8 .6l-.3-1.6l-.3-1.2l-.6-1.5l-1-1.3M232.4 98l-1.1-1.1l.1-1.5l.3-1.3l1.7-.5l-.6-1.6l-.1-.7l.6-.8M207.9 73.2l-.6 .6l-.1-1.2l-1.5 .1l-.1-1.3l1.1-1.1l1-1.2l.4 .6M235.1 53.7l-.1 1.4l.9 1l-.7-.1l1.1-.3l0-.5l1.4-.9l1.5-.8M216.4 56l-.3 1.4l0 1l0 .6l.7 .1l.7 .1l.2-1.4l.6-.1M239.5 42.8l.1 1.4l-.5-.4l-.3 .1l-.3 0l-1.6 .5l-.6 1.5M220.2 90.2l-.5 1.6l-.9-.6l.5 .3l-1.4 .8l-1.2-.9l.2-.3l-.2-1M227.1 44.1l-1.5 .5l1.3 .7l1.6-.3l1.5 .4l1 1.4M223.8 92.4l.4-1l1.4 0l.5 .1l-.3-1.2l-1-.1l-1.5 .4l-.7 .6M227.8 45.4l0-.2l-1.7 0l-1-.5l-1.7-.1l-.9 .2l.1 1.1l.8 1.1M229.3 74.2l.4 1.2l-.3 1.6l-.3 1.7l.4 1.5l1.5 .6l1.4 .8l.1 0M209.5 58.3l1 1.2l1.8-.2l1.2-.4l1-1.3l1.5-.9l-.5-1.4l0-.8M188.8 58.9l1.6 .2l1.6 0l0-1.3l-1.7-.3l0-1.5l-.3-1.6l.4 .1M195.7 84.4l.9 1.1l1.7-.1l1.6 .4l.6 .9l1.7 0l-.7-.6l-.4-1.2M196.3 74.4l-1.6 .4l-1.7 .1l.2-1.6l.8-.4l.9-1.3l.6-1.4l-1.6-.5M229.3 68.8l.5-1.1l.6-1.4l1.5-.4l0-.3l.1 1.5l.4 1.4l.1-1.2M229.7 89.2l-.6 1.5l.6 1.6l-1.3 0l.7-.2l-.6-1.6l.8-1.3l1.3-.6M234.2 100.7l-1.3 1.2M190.4 81.6l1.3-1.1l-.5-.3l-.4-.6l-.8 .6l.3 .5l-1.3 .9l.2-.9M211.7 58.8l-1 .2l-1.1 .4l-.6 1l-1.8 .2l1.7-.3l1.6 .6l1.7-.5M205 62.6l.2-.4l-.2 .9l-.3 1.6l-1.7 .4l-.5 .1l-.3-.3l-.2-.7M208 62.5l1.3-1l1.1-.5l.4 .2l.1 0l1-1.1l0-1l-.9-.9M222.4 51.1l1.3-.5l.8 .3l.8-1.4l0-.8l.8 .7l.6 .8l-.5-.2M215.1 95.3l-1.1 1.2l.3 .9l1.7 .2l1.3-1l.8-.7l1.4-.9l1.5-.2M187.9 86.3l-.1 1.5l-1.2 .2l.5-1.2l-1.1 .7l-.2 1.7l-.7 1.4l-.3 1.4M226.7 93.3l1.2-.1l-.4-1.6l-.7-.2l.4 .3l-.1 .1l-1 1.2l-.5 1.5M202.8 43.2l-1.6-.2l.9-1.4l1.3-1.1l.8 1.4l.4 1l1.4-1M182.3 71.9l.6-1.5l1.7-.8l1.6 .5l.5-1.5l-1.1-1.2l-1.1-.5l-.8 .2M188.1 89.2l-1.6 .2l.4-.4l1.2-.8l-.3-1.4l1.2 1M188.4 83.1l-.5-.7l-.5-1.3l.5-1.3l-1.1-.6l-1.3 .6l-.2-.5l1.3 .7M227.2 73.5l-.1 .1l.6-.7l.9 1.3l1.3 1.1l.1 .7l-.9-1.3M211.3 69.8l1-1.1l.7-1.5l-.4-1.6l0-1.6l-.5-.8l-.6-1l-.5-.1M211.2 57.6l1.1-1.1l1.7-.2l1.2-1.2l.1-1.6l-1.7-.1l-1.1 1.3l-.9 0M205.8 66.9l1.2-1.1l1.7 0l1.4 0l1.2 .3l.8 .4l-1.6 .5l-1 .2M223.4 73.5l-.2 .2l-.4-1l-.4-1.6l1.2-1l1.5-.6l-1.2 .5l-1.1 1M203.2 87.6l-1.3-.9l-1.1 1l-.4 .4l.4-.8l.9-.6l1-1.4l.3-1.6M195.1 70.1l.4-.7l-.3 1.2l-1.1 1.1l-1.6 .2l-1.6-.2l-1-.9l-1.5-.1M219.1 64.4l.8 .9l-.3 .8l.3-1.5l-.6-1.5l.4-1.5l1.4-1.1l0 1.3M205.6 66.4l.2-.1l.4-.5l.5-.5l.5-1.5l1.7 .2l.3-.7l-.5-1.6M190.9 80.2l.9-1.3l.5-1.1l0-.8l1-.6l-.2 .4M209.7 90.8l.7 .6l-.5-1.2l-1.1 .7l-.7 1.2l0 1.6l.1 1.5l1-.3M214.8 51.9l-.1-1.7l.3-.6l-.1-.1l-.4-.9l-.9 .9l.2 1.6l-.9 1.4M197.3 57l1.5 .4l1.6 .4l-1-.7l-.7-.9l-.8-1.5l-.3 .6l-.4-1M233.6 62M239.4 42l-.2 .5l-1-1l-1.1-1.2l-.6-.7l1.4-.4M215.1 62.2l.1-1.3l1.5-.6l.8-1.5l0-1.5l0-1.1l-.4-.9l-.2 .7M195.9 51.8l-1.6-.1l-.5-.5l-1.4-.7l-1.6-.3l-.9-1.3l-1-.5M221.3 71.4l1.5-.3l1.3-1.1l.1-.8l-.2 .2l-.6 .5l-.4 1.3l-.6-1.5M194.4 80.5l.3-1.5l.3-1.5l.1-1.5l-.5-1.4l-.8-1.1l-1-1.2l-1.7-.1M222.4 99.1l-.9-1.4l.3-1.2l.5-1.6l0-1.7l1.2-1.2l1.2-1.2l1.2-1.1M234.5 43.8l-.2-1l1-1.3l1.6-.5l1.3-1l-.1 1.7l1.3-.5M211.6 73.8l.7 1.3l0 1.7l-.3-.1l-.3 1.2l-1.5 1l-1.1 1.2M207.7 66.4l.5-1.4l1.3 .7l-.2 .8l1.6 .2l1.5 .5l1.6-.3l1.1-1M217.6 87.1l-1.3 .5l0 1.6l.8 1.5l1.8-.1l1.4 .2l.1-1.2l0-1.4M197.1 83.9l-1.1 .7l-.8 1l1.6 .8l1.5-.1l0 1.5l1.1 0l.6-1.3M211.6 66.3l1.2 .4l1.3 .8l1.2 1.1l1.5-.7l1.2 1.1l-.3 1.7l-1.3 .9M209.9 92.6l-.3-1.3l.5-.7l-1 1.4l-.3-1.6l.6-1l-1-.4M225.3 89.3l.3-.5l-.4-.3l1.4 0l-.9-.3l-1.5-.7l1-.2l1-1M212.7 61.3l0 1.5l.3 1.5l.9 1.3l0 .7l-.7 1l-1.3 1l-.7 1.3M187.1 70.6l1.3-.4l.4-1.6l-.4-1.5l-.3-1.1l1.5 .6l0-.4M210.6 60.5l.2-1.4l.3-1.6l1.4-1l1.2 .7l-.5 1.1l-.1-.1l-1 .9M222.5 65.3l-.9-1l.3-1.2l.6-1.4l-1-1.3l-.9-1.4l-1.2-1.2l1.1-.2M231.3 89.2l-1.1-.2l-.9-.9l-1.6-.1l-.7 1.6l-1.4-.7l-1.5 .1l-1 1.2M210.1 49.3l.9 1.4l.5 1.6l-1 .9l.7-.2l.9 1.1l1.1 .3l.4 .2M222.6 76.1l-.3-1.5l.1-1.1l.6 .4l.7 1.3l-.8 0l-1.4 .9l-1.1-.3M186.5 71.5l-.2-.7l0-1.4l1.1-1.1l1.4-.9l.3 1.5l-.9 1.4l-1.1 1.2M217.4 57l-.3-1.5l1.8-.3l.2-1.6l1.4-1l1.1-1l-.7 1.3l.3 1.7M189.1 86.5l-.3-1.7l-.6-1.3l.2-1.1l-1-1.2l1.5-.3l-.5 .8l.2 1.1M186.8 86.5l-.8 .4l-.4-1.6l.8-.5l.5-.8l0 1.3l-.1 1.6l-.1 1.6M224.6 78.2l1 .8l-.8 .9l1 .5l0 1l-.5 .7l-.7 .2l1.5 .2M234.1 77.6l-.8-.1l-1.7 .6l-.2 .1l-.4 1.1l-.8 .6l.3-.5l-1.5-.7M193.5 87l-.2 1.2l-1.1 .9l-1.1-.3l1.6-.3l1.1-1.3l1.2-.6l0-.9M228.6 77.8l-1.2 .9l-1.3-.5l-1.3 .2l-1.2-.7l-1-1l-1.3 .3l-.8 1M214.6 77.4l-1.4-.4l-.9-.5l-1.7-.2l-1.2-.2l.8 1.1l-.8 1.2l-1.5-.3M204.2 90.9l-.3 .2l-1 1.3l-1.4-.3l.8-1l.5-1.5l1.1-.8l1.6 0M208.2 78.4l1.1 .8l-.8 .9l-.2 1.2l-1.4 .9l-1.5 .9l-.3 .8l-.4-1.6M223.3 94.3l.3 .8l-.4 .6l-1.3 .3l.6-1.6l1.7 .1l.8 1.5M197.6 58.2l.5-1.5l.4-1.2l.7-1.6l1.3-1l1.4 .1l1.3-.7l1.3 .3M197.1 43.7l1-1.1l.3-1.2l-1-1l-1.3 .1l.7 1.5l0 1.5l.6 1.3M199.2 46.1l-1.4 .2l1.5 .7l.5-.4l-1.2-1l-1.5-.6l-1.4-.9l-1.5-.7M206.9 68.1l-.8-1.1l-.8-1l.5-1.4l-.5-1l-1.5-.7l-1.1-1.1l0-1.6M221.1 46.7l.1 .2l-.6 .5l.1 1.2l-.3 1.5l-1.4 .5l.6 1l.2 1.7M195.6 73.5l.8 1.3l-.5 .9l-1.5 .8l-1 1.4l-.3 1.3l1.1-.7l.3-1.6M232.8 60.1l.5 1.4l-1.3 .8l-.9 1l-.7-1l-.6-.6l-.4-1.1l-.4-.2M198.9 96.2l1.6-.7l1.7-.5l1.7 .1l1.2 .5l1.2 .7l.5 1.2l.2 1.4M215.6 61.5l-.6-1.5l-1.1 .5l0-.3l1-.7l0-1.4l-1.2-.8l-.8-.9M234.3 44.9l.2-1.4l1.5-.1l.6-.7l1.1 .6l-.2 1l.2 .3l.8-.7M183.7 57.4l-1 .9l-1.5 .7l.6 1.2l.1 1.6l.4 1.7l.8 1.2l1.7-.5M206.1 63.2l-1.1-.6l-1.1-1.2l-1.5-.6l-1.3-.8l-1.6 .5l-.5 1.5l-.1 1.4M195.8 91.5l-.6-.8l-.5-1.4l.1-1.1l-1.5-.8l.8-1.5l1.2 .4l.7 1M201.7 71.4l-1.1 1.1l-.7 .8l1.3-.5l1.2-.3l1.1 1.2l1 1.2l-.6-.7M235 45.4l1.5-.2l-.6-.7l.1 .3l.7-1.2l.8 1.4l-.1 1.6l.5 1.2M215.6 61.4l-.4-.7l-1.2 1.1l-.9 1.3l-1.4 .9l-1.4 .8l-1.4-.7l-1.3 .7M195.7 95.6l1.1-1.3l-.1-1.7l-.3-1.6l.8-1.1l.9 0l-1.6 .4M209.8 90.2l-1.5-.7l-1.6-.3l-1.5 .4l-.5 .2l.8-1.4l.3-.9l-1.3-.9M215.8 63.1l.2-1.6l.2-1.7l-.7 .7l-.5-.5l.8-.2l-1.5 .5M185.2 57.4l-1.1 .9l-1.6 0l-1.3 .7l-.9 .4l-.9 1.1l-1.4 .8M178 89.1l.5-1.1l0 1.6l1.2-1.1l.9 .1l1.6 .3l1-1.2M218.9 62l-1.3 .3l-.6-1.4l-.2-1.4l-.4 0l.1 .6l-1.1-.7l0-.7M213.7 80.3l.1 1.5l.3 1.3l-.4 1.5l1.1 .7l1.6 .2l1.4-.8l.8 .2M190.6 71.9l1.7 0l-.3 .8l-.2 .3l.2 .4l1.2-.2l1.8 0l-.3 1.6M231.2 65.5l.4 .8l0 1.5l.4 .2l.9-.3l-.1-1.4l.3 .7l-.3 .4M219.2 50.2l.4 1.4l.6 .7l1.6 .5l.9 .3l.8 .9l1.1 1.1l-.7 1.3M190.1 44l1.1 1.3l.9-.9l.2 1.5l.5 1.5l.9 .7M217.5 85l-1.4 .9l-.8-1.4l-1.6-.6l-.8 .3l-1.5 .8l-1.4 1l-1.3 .9M213.8 67.7l-.2-.5l1.7 .4l1.1 1.2l.6 1.1l1.7 .4l1.2 1.1l1.5-.4M215.4 50l-.6-.4l1.1 1.1l1.5-.3l1.2-.5l1.6-.4l.7-.1l.9 1.1M196.3 71.2l-.1 .6l-.3-.8l-.5-.9l-1.1-1l1.5 .6l.7 1.4l1.3-.5M200.5 53.5l.7 .4l-.2 .1l-.1-1.4l-.2 .5M191.3 55.3l-.8 .3l-.4-1l1.2-1.2l1.7-.3l.8-1l.6 1.5l-.1-.7M196.5 55.6l-1.5 .3l-.8 1.1l-.4 .4l-.4-1.1l-.6-.1l-.7-.2l-1.2 0M213.2 66l.4 .2l.5-1.5l-1-1.3l-.1-.9l.3-1.6l-.6 .2l-.8 .8M187.5 87.8l-.6 1.4l-1-.2l1.5 .4l.6 1.1l-.1 1.6l.7 1.3M192.9 76l-1-1.3l-1.3-.2l-.9-1.4l.8-1.5l-.6-1.2l-.8-.9l-1.7-.3M201.2 61l1.3 .9l-1.3-.5l-.6-.8l.5 .5l.6 .7M212.3 64.6l-1.5-.3l-1.1 .9l-.2 .6l-1 .4l-1.6 .2l-.6 1.4l-1.4-.8M207.6 59l-.5-.2l-1 .5l-1.4 .9l-.6 1.6l.6 1.5l1.3 1.1l1.5 0M221.7 97l-1-1.2l.7-1.4l.7-1.1l-1-.7l-.4-1.6l.2-1.5l1.6-.4M224.5 52.2l.1-1.7l.8-1.1l.8-1.4l-.3-1.1l-1.6-.2l-1.4-.8l-1.2-.7M202.2 78.2l-.3 1.3l-1.6 .4l-1.3-1l-.8-1.3l-.7 .5l-1.4 .5l-.4 1.6M209.2 55.5l-1.2 .7l-.9 .4l-.5 1.3l-.6 .8l-1.1 .4l.4 1.1l-.3 1.1M223.3 69.1l-.8-.9l.1-.8l1.3-1l-1.3 .4l-1.6 .6l-1.3 .6l-.5 1.3M237.2 82.4l-.9-.6l.1-.9l-.3-1l.4-.8l-1-1.2l1.2-1.3l1-1.3M211.4 62.9l-.8 .6l-.7 .9l-1.4 .9l-.8-1.4l-.3-1.4l1.1-1l-.5-.7M232.5 65.5l1-.2l-1 .2l-1.4-.8l-1 .7l-1.4 .8l-.5-1l-1.1 1.2"/><path stroke="#c42222" d="M216 77.5l1.4 0l1 1.2l.8 1.4l1.6 .6l1.7 .3l-.1 .4l.8 .2M205.5 84.8l-.4-.5l-1 1.2l-.9 1.5l-1.7 .4l-.1 1.6l-.3 1.6l1.2 .7M218.9 76.8l1.5-.7l1.6 .3l.5-1.5l.3-1.2l-.2-1l-.6-1.6l.4-1.5M229 68.1l1 1.2l.2 1.6l.9 .5l1 0l.9 1.2l-.6 1.4l-1.1-1.3M219.8 69.4l.2 .8l.8-1.3l1.2-.7l1.6-.3l.8-1.1l.3 .1l.6 1.6M227.2 87.4l-.4-.8l-1.4-.9l-1.6-.3l-1.4-.4l-.5 .5l-.7 .1l-.2 .8M216.7 71.4l-.7-1.1l-1.7 0l.9 .2l.5 .1l-.1-1.2l-.7-1.4l-.2-1.6M219.4 90.1l.3 .6l1.5 .5l1 .9l.7-.7l-.7 1.6l.5 1l1 .8M201.8 74.9l-.9 .6l-.7 .4l-1.4-.9l-1.5-.8l-.8-1.1l-.7-1.3l-.8-1.3M184 73.9l-1 .4l-.9 1.1l.3 .8l1.7 .3l-1.5-1l1.7 .4M208.8 79.5l-.7-.2l-.1 .1l1.2 .5l.4 .2l1.1-.9l.7 .6l1.6 .2M203.8 77l-.7-1.3l-1.3-1l-.2-1.7l.4-1.1l1.3-.7l.2-1.6l-.1-.3M210.1 72.6l.6 .7l1.6 .1l.9-.9l.3-.6l1 1.4l-.8 .9l-.7-.4M210.2 71l.2-.3l1.2-.9l-.7-1.5l.6-.8l.9 1.3l1 1.2l-.3 1.5M207.3 68.6l1.5 .1l-.3-1.5l-.4-.6l-.9-.3l1.4-.8l.7 0l.6 1.5M227 83.3l-1.2-1l-1.5-.5l-1.5-.6l-.7-1.3l1 .7l-1.5 .8l-1.6-.3M196.7 75.8l.6-.8l.8-.7l-.7-.9l.1-1.6l1.5-.6l1.5-.9l.2-1.6M204.9 74l-1.1-.2l-.8-1.3l-.7-1.5l0-1.7l.3-1.6l-.4-1.6l-.7-1.2M216.1 77.5l1-1.2l1.3 .8l-1.6 .7l-1-.7l-1.7 .2l-1.6 .3l-.2 1.1M228.5 79.5l-.7-1.4l-1 1.3l-.5 1.3l-1.2-.2M214.7 71.1l-.2-1.6l.8-1.1l.4 .6l-1.2 .6l-.4 .4l-.1 .1l.4 1.5M209.3 76.8l1-1.4l1.6-.8l1-1.4l-1.3 1.1l-1.1-.1l-1.1-1.2l-1.1-1.3M213.8 86.3l-1.5-.6l-.3-1.5l-1.4-.7l-1.2-.1l-1.3 .5l-.4-1.5l-1.2 1.1M202.1 73l0 1.2l-.7-1.3l-1.1-1.2l-1.6 0l-1.2 .6l-1 0l.6-.4M196.8 81.1l1.1-.5l1.3-1.2l1.1 .2l1.5 .1l.6 1.3M218.1 80.5l-.6-1.2l-.7-1.5l-1.1-.7l-1.5-.7l-1.2 .3l-.6 .4l-.7-.9M210 77.5l-1.3-.6l1.4-.3l1.5-.9l.7-.1l-1.1-.6M216.4 78.6l.5-.8l0-1.4l-.7-1.5l.2-1.6l1.5-.8l1 .5l.3 .3M216 86.7l-.2-1.3l1-.1l.3 .7l-.4-.1l1.3 1.1l1.5 .2l1.1-1.1M217.5 82.7l1.6-.4l1.2-1.2l1.8-.3l1.7-.2l.4 .9l.2 1.5M217.6 67.2l.8 .2l0 .3l.4 .6l1.8 .1l1.5 .8l1.8-.4l.3-.6M206.9 63.8l-1.3 1.1l-1.4-.8l-1.6-.2l.6 .9l1.6 .1l-.4 .6l-.8-.4M214.7 65.3l-1.3 .5l.3 1.6l.5 1.5l1.7 .2l1.1-.6l1.4 .4l1.6 .2M207.4 66l-1.5 .2l-1-.1l-1.1 .7l-1.5 .6l-1.4 .4l-.1 1.1l1.5-.1M215.8 63.7l1-.7l1.5-.7l.2-1.3l-1.4-.1l-1.3 .1l-1.2 .5l-.4 .6M225.1 91.2l-1.6 .4l-1.4 .4l-1.1 .6l-.2 1.2l-.8 .2l-.7 .8l-1.4 .4M210.6 88.9l1.1-1.3l-1-1.3l.1 1.7l-.4 1.6l-1 1l-1.3 1.2l-1.3 .8M215.4 85.6l.1-1.3l-1.6 .6l-1.7 0l-.7 .1l1.2-1.3l-.9 .8l-1.2 .1M202.9 67.8l-.4 1.7l-.4 1.5l.1 .1l.5 1l1.3 1.1l1.1 1.2l1.1 1.3M213.7 60.6l.1 1.7l1.3 .9l-.2-.8l-.7-.4l-1.5 .2l-.5-1.2l-1.6-.2M213 77.7l1.7 .3l1.4-1l.7 0l.7-.1l1.5 .7l1.6 .4l1.7 .2M208.9 72.4l-.6 1.3l-.8 .7l.5-.8l-1.3-1l-.7-.8l1.5 .4l1.7-.5M217.2 78.8l.2 .2l1 1.3l1.6 .1l1.8 .1l.4-.9l.6-1.6l-.9-1.3M207.8 86.9l1.4 .8l1.6 .7l1 1.2l1.6 .5l.5 1.3l.1 1.6l-1.4 .3M215.6 89.8l-1.1-1.2l1.5-.2l.9-1l1.1-1.1l1-1.3l.3-1.6l.1-1.6M219.7 84.5l-1.7 0l-1.2-.8l-.8-1.2l.5-1.7l1.6-.5l1.6 .1l1.3 .9M194 88.1l.6-1.6l.6-1.3l1.5-.8l.8-1.4l0-1.6l1.1-1.3l.6-.7M197.2 80.5l-.8 1.5l-.6-1.3l0-1.1l-.2-1.3l.4 .9l.6 .7l-.5 1.4M212.4 83.2l1.6 .1l1.2-.3l-.7-.3l0 .1l-1.7 0l-1.4-.3l-.2-1.7M214 77.8l.7 1l-.9 .6l-1.1 1.2l-1.4-.2l-1.5-.8l-1.5-.7l-1-1.3M223.8 96l-1 1.1l.3-1.6l-1-.9l1.5-.2l1.2 1.1l-.8 .2M203.8 74.1l.8-1.2l1.3-.3l1.6-.6l-1.3-.7l.5-.7l1.1-.6l-1.3 .5M220.3 92.9l-.9 1.3l-1.5-.5l.6 .4l.5-.4l.9-.9l.6-.6M214.9 87.1l.1 1.6l.2 1.7l.2 1.3l1.4 .8l1.7-.4l-.7 1.2l-1.3 1M212.8 91.4l.3-1.4l.5-1.5l1.5 .4l-1 .9l1 .9l.9 .6l-.6 1.5M210.1 80.7l-1.5 .4l-1.2-.9l-1.1-1.2l-.3-1.5l.3-1.6l-.2-1.6l.3-1.7M196.1 68.8l-.8 1.5l-1.3-.2l-.3 .5l-1.3-.1l.7-1.6l1.6-.6l.7-1.5M209.7 72.2l-1.3-.2l-1.1-.7l-1.5 .5l-.7 .4l-.8-1.3l-.7-.5l-.2-1.5M217.4 72.1l-1.3 1.1l-1.6 .4l-1.5 .1l.2-1.7l-.1-1.6l-.7-1.3l.5-.9M207.3 74.1l.3 .2l-1.1 .4l-.7-1.2l-1.5-.7l-1.1-1.1l-1.5-.7l-.5-.3M213.9 72.1l.1 1.1l1.2 1.2l.3 1.5l1.7 .3l1.3-.2l1.2 .9l-.5 1.6M210.1 85.4l.8 .8l.7 .9l1.1-.6l.9 1.2l.5 .2l.7 .2l.1 1.4M211.9 91.5l-.9-.5l-1.6-.6l1.6-.6l.9-.9l1 .5l1.3-.1l-.4-.2M221.3 63.9l.1 1.6l-1.7-.1l-.6-.4l1-1.3l-.9-1.2l-.7-.4l1.1-.8M224.6 84l.5-.5l0-.5l1.3-.9l1.5 .5l-1.1 1.3l-.8 1.5l1.7 .1M207.9 77.1l.7-.2l.3 1l-.8 .1l-.8-.6l-1.1-1.1l-.6-1.2M204.8 74.7l1-1.3l.6-1.6l1.2-.9l1.4 1l1.6-.6l.5-.1l1.4 .2M203.3 76l-1.4-.1l-1.5 .9l-.7 1.5l.4 1.3l.8 1.5l-.6 1.5l0 1.6M207.5 84.4l-1.6-.5l-1.4 .9l.2-1l-.2-.7l-.3-1.5l1.5 .4l.7 .7M213.9 76.2l.4 1l.7 1.4l-.7 1.4l-1.1 .6l-1.6 .3l-1.5-.5l-1.1-1M209.9 61.6l1.5-.2l-.1-1.3l-.3-1.5l.8-1l.7-1.5l.3-1.2l1-.9M195.5 63.5l-1.3 .8l-.2 1.6l0 1.7l-1.1-1l1.5-.4l1 1.3l1.1-.9M228 67.2l.5 1.1l-1.4 .8l-1.5 .7l-1.6-.3l-1.6 .3l-1.7-.1l.5-1.6M230.1 87.7l.1 1.4l-.8-1.5l-.5 1.3l-.5-1.2l-1.2 .5M209.5 85.3l.2 .2l.4 .8l0 .7l.5-.2l.9-1.3l0 1.6l1.1 1M209.6 91.8l1.2-.9l1.3-1.1l1.2-1.3l.1-1.3l1.1-1.3l-1.4-.9l.5-1.3M189.3 77.8l-.8-.8l-1 1.3l-.3-1.6l-.7-1.5l-.8-1l.9-1.4M224.9 81.1l-.4-.5l-.1-.6l.6-.9l1.4 .4l.7 1.3l.8-1.3l-.1-1M201.6 76l.1-1.6l1-1l.6-1.1l.2-.8l1.1 .9l.1 1.1l.9 1.3M220.8 70.5l.6 0l1.5-1l1.2-1.2l1.6 .5l.4 1.5l.9 1.3l-.3 .8M230.7 79.4l-1 1.2l.8 1.2l-.2 1.7l1 1.2l-1 1.2l-.4 1.1l-1 .8M208 77.9l-1-.1l-1.3-1.1l.2-1.5l-.6-.7l-1.4 .7l.6 1M210.5 66.4l-1.1-.6l-1.3-.6l0 1.5l-.3 1.3l.1 1.7l.4 .6l.6-.4M202.2 57.7l-1.4 .8l-.8 .6l-.2 .3l1.3 0l.1 1l-1-1l-.8-1.1M208.9 88.1l-1.6 .1l-1 1.4l-.7 1.6l-.7-.8l-1.1 .8l-.8-1l1.1-.9M212.8 72.1l1.2 .1l1.4 .7l1.4 .6l1.4-1l-.1-1.6l-.9 1M228.8 83.3l-1.6-.5l-.1 1.2l0-.7l-.5-1.3l-.9-1.4l-.5-1.4l.1-1.5M189.8 91.2l-.3 .7l-.8-1l-1.5 .2l-1.3-.4l-1.5-.4l1 1.3M209.8 68.5l1 .5l1.6 .1l1.5 .3l1.5-.6l1.7-.4l1.2-.5l1.7-.2M216.4 47.2l-1.1 .8l-1.1 1.3l-1.1 1.2l-1-.1l-.8 .2l-.8-.5l-1.5-.4M230 63.4l1 .7l1.6 .3l.5-1.1l.5-.7l-1.2-1l-.8-1.4l-.7 1.1M208 93.9l.8-.1l.4 .4l.7-.5l1.1-1.3l.1 1.5M225 80.5l-.5 1.6l-1.1 1l-.7 1.2l0 1.6l-.7-1.4l.2-1.6l.9 .2M207.7 82.5l0-1.4l.8-.8l.3-1.1l-1.3-.4l-.5-1.5l-1.2 1.2l-1.5 .1M226 70.7l1.6 .6l1.4 .9l-1.7-.6l-1.1 .4l-.7-.3l-.8 1.4l-1.4 .7M229 86.6l-.7 1.4l-1.3 1.2l-.7-1.2l1.2-1.3l1-1.4l1.7-.1l1-.6M204.6 86.1l.5-1l1.1-.3l1.4 .5l.4-.2l.2-1.4l-.5 1.6l-.4 1.3M213.7 80.2l-1.6-.8l-1.4-1l-.7-1.5l-1.1-1.1l-.4-.9l.4-.2l0 1.5M221.2 87.7l.5-1.4l-.9 1.2l0-.8l.9-.2l1-1l.3-1.6M222.5 86.5l-.3 0l.6-.5l-1-.9l.6 1.4l1.6-.4l-.1-.3l-.1 .2M215.7 78.4l.4-1.4l1.6-.5l1-1l1.1-1l-.1-1.3l-.2-1.6l0-.9M213.6 92.8l-1.6-.2l-1.3 .3l-1.1 .9l.7 1.5l.6 1l-1.2 1.2M209.6 83.1l.2 1.6l-.8 .8l.5 1.4l-.5-.1l-1.4-.6l-1.5-.6l-1.4 1M212.3 79l1.2 .4l1.1-.9l.8 .2l-.2 1.3l1.4 .4l1.1-.2l0-.9M200.5 63.8l.1 1.4l1.1-.9l.6 1.4l-1.3 .7l-1.2 1.1l-1 1.2l-1 1.4M209 90.2l-1.5 .7l-.3-.8l1.6-.8l1-1.4l0-.4l-1.2-.2l-.9 1.4M213.6 71.7l.3 .1l1.6 .3l1.1 .5l1.1 1.2l1.1 .4l1.5 .2l1.7-.2M210.4 64l.2 .1l.4 .8l.4 .4l1.3 1l1.5 .5l1.4 .6l-.2-.9M209.2 87.3l1.2-1.1l.4 1.6l1 .8l1 .4l1.4 .9l.7 1.4l.2 .3M213.5 57.3l.3-.7l-.3-.7l-.7-.3l-1.5 .2l-.9 .1l-.2 .4l-1.1-.6M194.6 93.1l.2-1.7l-.9-1.2l-1.3-.8l.3-1l-1.4 .2l-1.2-1.1l1.5 .6M222.7 74.9l1.3-.6l1.6-.6l1-.4l.7 1.5l0 1.6l-1.3-.4l-.9-.1M210.9 71.4l0-1.6l-.5-1.6l1.3-1.1l.7-.5l.1-1.7l1.1-.2l.4 1.2M216.4 94.3l.2 1.5l1.1 .1l1.5-.1l.5-.6l.7-.4l-1 .2l-1.1-.5M219.9 76.8l1.6 .2l1.7-.1l1.7-.3l1.5-.7l1.8 .1l1.6-.5l1-1.4M216.8 86.3l.8-.5l-.8-.6l-1.2-.2l1.1-1.3l1.1-1.2l-.7 0l-.8-1M182.5 83.3l.1 .3l.8-1.5l.8-1.1l-.2-1.1l-1.1-1.2l1.3-1l1.7-.6M186.8 68.8l.4 1.6l.4 .9l0 1.7l-.4 1.6l-.5-1.6l1.2-.6l.9-.7M202.9 83.7l-.2-1.6l.1-.5l-.9 1.4l-.3 1.1l-.5 1.3l-.6-1.2M207.8 73.7l-.5-1.3l.6 .9l-.7 1.2l-.2 1.3l-.4-1.4l-1.3 .8l-1.6 .7M218.7 75.7l.4-1l-.6-1.5l.3-.9l-.3-1.6l.2-1.6l-.2-1.5l.3-1.3M199.9 77.8l1.4 .7l.8 1.3l1.1 .7l.4 .3l.8 .4l1.2-.2l.9 .9M218.8 89l-.4 1.3l-1.3 1l1.2-.8l1.7-.3l1.2 .9l1.3 1l-.3 1.4M220 81.7l.8 .3l1.6-.8l-1.1-1l.4 .6l-.5 1.4l.1-.4l1.3 .9M206.4 83.7l-.2-.8l1 .5l.1 .4l1-.4l1-1.4l1.5-.8l1-1M210.1 87.2l-.1 1.1l-.2 1.6l-.2 1.6l-1.4-.8l-.8-.9l-.4 1.4l.4 0M196.9 67.7l-1.3 .5l-1.4 .9l-1.6 .1l-1.6-.7l-1.1-.1l.3-.6l-.4-1.4M214.5 65.4l-.9 .4l1.8-.1l1.3 .9l-.3 1.4l-.1 .5l-.2 .1l1.1 .4M204.2 76.3l-.2 1.2l.1 1.6l0-1.4l1.2-.9l-.7-.5l1-.5l1-1.3M225.1 79.3l-1-1.1l1.4 .7l-.6-.8l-.2 1.3l-1.7 .2l-1.4 .2l-.9-.9M230.4 81.4l.8 1.2l-1.1 .7l-.4 1.6l-1 .9l.7 1.4M221.4 88.9l1-.9l1-.6l-.7-1l.7-1.3l.3-1.4l.6-1.5l.8 1.3M210.5 87.1l.5 .7l1 .4l.8 1.1l-1.6 0l-1.1-1.2l1.4 .4l1.5-.6M217.4 58.3l-.4-1.4l1.6 .3l1 .9l-.5 1.2l-1.4 .9l-1.8 .1l-1.4 .8M219.3 96.2l.3-.9l-.7-.9l-1.3 .1l-1.7-.3l-1.4 1.1l-1.4 .7l-.4 .9M229.6 78.4l.5-1.6l-.3-1.1l-1.4-.8l-.2-1.5l-1.1-.3l-1 .2l-1.5 .7M203.8 66.5l-1.4 .9l.9 .3l-.5-.4l1.3-1l.9-.9l.4 .4l-.1-.7M228.3 69l-1.5 .2l.6 1.3l1.1 .7l0 1.6l.2 .5l0-.8M206.9 75.6l1.3 .4l.9-1.4l.6-.3l1.6-.3l.4-.7l-.9-.2l.5-1.5M192.5 60.3l-1.1-.2l-.4 0l1.5-.8l.9-1.5l.2-.9l1.3-.4l1.2-.4M223.4 83l1.3-.1l-1 .8l-.4 1.7l.9 1l.5-1.4l.8-1.5l1.1-1.4M195.6 64.8l-.1 .8l-.2 .6l.4 1.3l-1.2 .4l.7-1.6l1.1-1.3l-.3-.2M189.6 70.7l-.2-1.5l.5-1.6l1.3-1l1.7-.4l.3 1.2l.4-1.7l0-1.6M207.7 74.6l-.3 .3l-1.4 .7l-1.3 1.1l-.1 1.7l-.3 1.5l-1.5-.6l-1.1-.8M216 96.8l-.7 1.5l-1.1 1.3l-1.6 0l-1.6 .3l-.4 1.1l.6 .4l.9-.6M212.2 88.8l1-1.4l.1-1.5l-.7-1.4l-1.3-.9l-1.6-.3l-1.4 .3l-.9 1.2M217.4 75l.2-1.6l-.5-1.3l1.3-1.1l-.2 1.5l.3 1.5l-1.4 .7l.3 1.5M199.4 62.5l-1.6-.3l-1.5 .8l-.1 1.7l1.5-.4l-.3-1.7l-.8-1.2l-.2-1.6M213 83.6l-.5-.7l-1.6-.4l0-.3l-1.7 .4l-1.1-.3l.3-1.7l1.6 .1M216.8 78.6l1.5-.7l1.5-.4l1.4 .8l1.5 .3l.2-.3l-.2-1l-1.1-.1M220.8 81.7l-.8 .1l-.1 1.2l.4 1.6l.2 1.6l.5-1.1l.5-1.4l0-1.5M222.1 75.5l1.5 .4l.2 .7l-1.1-.2l-1.4 .3l-.4 1.6l-1.3 .8l-1.1 1.3M215.7 76.1l.7-1l-.5 .2l1.3 0l-.4 .8l.5-1.1l1.7-.4l.8-1M223.4 92.2l.2 1.6l.3 1.5l.3 1.5l1.4 1l1.4 .7l-.1 1.1l1.6 .1M212.3 85.6l.8-.7l.6 1.3l1.5-.1l1.6-.5l1.7-.4l.6-1.5l.9-.9M235.7 76.1l.2-.6l1.3-.7l1.2-1l-1.1 .6l-1 .1l-1.5-.5l-.7 1.3M229.9 80.7l-.5 .8l-.1 1l-.7 1.4l-.9 .8l-.4 0l.7 .3l1.4-1M204.5 76.1l.6 .3l.1 .6l-1.3-.9l-.9-.8l-.8 .6l-.5 .5l.8 .8M210.9 76.5l.8-1.4l.4-.9l-.4-.9l-1.1-.6l-.8-.3l-1.1 .8M199.8 74.6l-.2 1.3l-1.2 1.1l-1.1 1.3l-.3 1.6l0 1.6l.9-.7l1 1.2M219.9 65l-1.3 .6l-1.7-.5l1.3-1.1l-.1-1.6l-1.7 .4l-1.5-.7l.1-1.7M209.7 87l-.1 1.6l-.5 .4l1.1 1.2l.4 .7l.3 .6l-.5 1.2l-.1 .5M216.2 72.6l.6 .4l.6 1.3l-.5 1.5l-1.3 .9l-1.5 .7l1.1 .4l-.5 .4M213.2 73.8l-1.3 .4l.3 1l-.1 1.4l1.2 1.2l1.1 .3l1.1 1.1l-.1 1.3M207.4 67.1l1.2 .6l.3 1.6l.5 1.6l.3 1.3l-1.6-.3l-1.3-.9l-1.5-.2M209.4 81.6l-.3-1.2l-.8-1.2l-1.4-.9l-1.4-.2l-1.6 .2l-.3 1.1l.1 .7M216.5 62.5l-.6 1.6l.6 1.3l-.3 1.2l-1.2 .4l-1.3 .3l-1 .6l-.1 .7M210.9 76.4l.3-1.7l1.6-.3l1.5-.4l1.1 0l-.8 1.4l-1.6-.3l.4-1.3M194.5 77.8l.6 .2l.2 .4l-.3-.7l-.8 1.5l-1.6-.4l-.2-1.5l.9-.9M212.2 85.4l-1.1-1.2l1.2 1.2l-.6 .8l-1.3 .7l-1.4 .5l-.3 1.6l-.1 1.2M203.9 75.4l.4 1.2l1.2 .1l-1.6 .6l-.6 1.5l.1 1.1l1.2-.7l.4-1.1M235.4 79l-1.2-.5l-1.3 .8l-1.4-.2l-1-1.2l.7-1.4l1.5-.8l.8-.9M192.9 82.4l-.7 1.2l-.1 1.3l1.6 .2l1.5-.4l1.7-.7l1.2 1.2l.1-1.7M227.7 82.1l-.9-.4l.9 .9l1.4 .8l1.1 1.3l-1.6 .2l-.3 1.5l-.1 1M233.2 88.3l.8-.6l.9-1l-.7-1.4l.9-.9l.7 .1l1.4-.2l1.2-.5M223.7 78.9l-.1-1.6l.5-1l-.2 0l1.6-.6l1.6 .2l-.7 .9l-.1 1.5M211.4 83.4l.7-.3l-1.1 .1l-1.3 .6l-1.2 1.2l-.9 1.5l1.1 .7l-1.2 0M214.4 68l.1 1.3l1.5 .5l1.3 .3l.6 .5l-.2 1.5l-1.1 1.2l.4 .9M204.2 68.4l1.7 .2l1.5 .9l-1.5-.4l-.9-1.4l-.9 .9M200.9 69.8l-1.6-.5l-1.3-1l-1.4-1l-1.2-.8l-.7-1.3l.3-1.7l-1.5-.1M215.4 75.3l-.9 1.1l.1-1.7l1.4-1l-.4-1.6l-.8-1.5l.2 .3M217.6 66l-.4-.1l.3-1l-.4-1.6l-1.1-.2l0-1.5l-1.6-.4l-1.6-.2M205.2 78.7l-1.1-1.3l-.7-1l-1.4-.9l-.8-1.5l1.3-.6l1.3-.1l1.3-1.2M194 74.1l-1.6-.3l-1.1 1.4l-.3 1.2l-1.1 1.3l.1 .4l-1 .7l-.8 .6M224.3 69.7l-.4 1.3l-.1 1.2l-.8-1.5l-.5 .6l.9 .2l.9 .8l-1.4 1M217.5 65l.8 1.4l.7 1.5l1.5 .2l1.3-1.1l.9-1.2l1.7-.3l1.2 1M209.3 73.3l1.1-1.3l1.5-.8l.8 1l1.1 1.3l.9 .9l-.1-.8l-.7-1.1M212.3 70.5l-.4-1.6l.3-1.6l1.4-1l1 .3l1-.9l-.5-.9l.3-1.3M208.1 92.2l-.6-.4l1.2-1.2l.7-1.6l.2-1.3l0-1l-1.3-1l-1.8-.1M197.6 75.6l.9-.6l.4-1.7l0-1.6l-1-1.3l-.7-.8l-.2-1.7l-.2-1.2M239.5 74.3l-.9-1l1.3-.8l0 .5M215.4 74.2l-.2-1.6l.1-1.7l-1-1l-1.6-.5l-1.4-.6l.2-1.4l.1-.4M212.8 64l0-1.2l-1-.7l.6-1.1l0-1.4l-.7-1.1l-1.6-.6l-.9-1.4M207.5 73.7l-1.6 0l-.7 1.5l-.6 1.4l.3 1.6l-.3-.6l-.1 1.6l.4 1.4M222.4 84.3l.9-1.2l1.6 .2l1.1-1.3l1.4-.6l1.5-.4l-.1-1.7l-1.4-.9M208.8 76.7l.1-.8l1.1-1.3l1.5-.6l1.6-.3l.6-.2l1.1-.6l1.3 .7M207.4 69.8l.1-.2l-1 .4l.4-1l.6-1.5l-.7-1.5l1-1.3l1.6 .3M212.8 88.2l-.1 1.3l.2 1.6l.9 1.3l.8 .9l.9 .8l.3 .3l1.6 .2M209.3 79.6l-.3-.7l-1.1-.1l-1.1-1.1l-1.5 .7l.2 .8l-.1-.3l-.7-.3M222.3 66.3l.2 1.1l0 .7l.7 1.4l.5 1.6l.3 1.6l.4 1.5l1.3 1M201.2 77.5l-1.2-1l1.5 .7l-.9-1.4l-.2-.5l.9-1.3M197.3 81.2l-1-1l-.3-.5l-.1 .4l1.5-.2l-1.4-.6l-1.2-.9l.1-.1M205.1 77l.7 1.4l.7 1.3l1.5-.2l-.3 .7l-1.1 .5l-1 .5l.4-.3M209.1 70l-1.7-.3l1.6-.6l1.4-1l.5-1.4l0-1.7l-1.7-.3l.6-1.5M215.2 74.2l-.9-1l-.5-.2l1.1 .1l.8-.2l.4 .4l1.2-.1l1.2-.5M210.2 70.9l.2 1.1l1.1 .9l1.4-.7l1.6-.3l-1.2 1l-1.2 .5l-.3 .6M201.9 70.3l.9-.9l1.5-.7l1.6-.5l.4 .7l1.5-.8l1.3-.6l.2-1.6M205.6 80.1l-1.4-.1l-1.6-.6l-1.6 .3l1.1 1.1l.5 1.5l.6 1.4l-1.4 1M229.5 79.9l-1.2 .2l-.8 1.2l-.2 1.6l.1 1.1l-.1 .4l-1.4 0l1.2 .1M201.7 86.9l-.5-1.6l.8-1.3l.3-1.4l1.7-.7l.8 .9l1 1.2l-.5 1.4M229.1 75.2l.4 1.5l1.5 .1l1.2 1l1.8 .2l-1.7 .5l-1.3 1.1M221.4 70.7l1.6-.3l1.2-1l.1-1.1l-.6-1.5l.7-1.2l1.3-1l.7-.4M222.2 78.6l1.2-.6l1.3 .2l1.3 .6l1.6-.3l0-1.6l-1.2-1.1l-1-.7M218.4 76.5l-.2-.7l-.5-1.5l1.2-1.3l1.3-1.1l-.9-1.4l-1.5-.5l-1.2-.4M207.7 64l.7 1.4l1.4 .8l-.4 1.5l-1.3 1.2l.2 .2l.1 .8l.8 .5M227.9 64.3l.5 .5l.9 1.3l.5 .3l-.4 1.3l1.3 .1M231.1 75.3l0-1.2l1.7-.3l1.1 .6l1.3 .6l.6 1.2l-.2 1.2l-.3 1.6M194.5 74.3l-1.1 1.4l.3-.1l-1-.8l.9-1.1l-.1-.2l-1.4 .7l-1.6 .8M217.1 94.7l.1-1l.6-.6l-1.3-1.2l.5-1.5l-.7-1.5l.5-1.5M212 64.3l-.4-.7l1.1-.5l1.6 .7l.7-.8l1-1.4l.2-.8l.8-.5M220.6 91.7l-1.2 1.3l-1.6 .5l-1.7 .3l-.8 1l-.7 1.2l-1 1.2l-1.7-.2M197.9 57.4l1.5-.8l.7-.3l.8 1.2l-.6 1.6l1.1 .5l1 1.3l1.5 .5M232 86.5l-.6 1.6l-.2 1.7l-.1 1.6l-.2 1.6l-1.1 1.3l-1.7-.3l-.9-1.4M211.1 70.3l0-.4l.7-1.2l-1.5-.2l-1.5-.5l-.9-1.2l0-1.6l.5-1.7M225.2 73.1l-.2-1.6l-.8-1.3l1.5-.4l-1.1-.5M210.7 72.7l-1.7 .6l.5 1.4l-.6 1.5l-.3 1.5l-1.5 .3l-.5-.5l-1.4 .1M222.8 88.5l.6-1.5l.2-1.6l-1.6-.8l-.8-1.3l-1 1.2l.7-.6l.7 .5M212.7 75.3l-.3-.3l-.6-1.4l.5-1.6l-.6 .5l-1.3 .8l-1.7 .5l-.8 .8M197.2 80.3l1.4 .8l.4 1.1l.3 1.7l1.4 .7l0 1l.7 1.1l.1 1.6M219.5 90.2l.4 1.6l.8 1.2l-.4 1.4l-1 1.2l.1-1.1l-.2-1.6l-.5-1.6M217.8 80.5l-1.6 .6l-1.3 .5l-.5 1.5l-1.6 .7l-1-1.2l-1-.3l.5-1.1M204.3 75l1.2 0l1.4 .7l-1 .3l-1.3-.9l-1.4-.7M201.4 58.3l1.6 .3l-.3 1.7l1.3 .2l1.2-1.1l1.3-.5l1.1 .3l1.1-.4M205.7 74.7l0 .2l-.8-.9l-.4-1.4l-.2-1.2l.4-1.6l1.4-1l1.1-1.3M219.4 87.6l-1.1-.8l-1.1-1.2l-.6-1.4l.2-1.6l.1-1M205.3 96l-.1-1.6l.3-1.2l.5-1.2l.1-.6l-1.7 .3l-1.5 0l-1 1M211 63.7l1.5-.7l1.5 .3l1.4 .2l-.8-.6l-1.2 .8l-1.1 .9l-.9 1.5M219.7 77.4l-.1-.8l-1.6 .2l-1.5-.6l-.5-1.3l-1.2-.3l-1.4 .4l-.9 .2M214.5 83.6l-.7-1.5l.6-1.5l0-1.3l1.1-.1l.9 .8l0 .6l.1 .6M218 91.2l1.7 0l1.1 0l1.7-.2l1.1-1.1l-.6 .7l-.8-.2l-.6-.5M219.8 71.9l0 1l-1.6-.4l-1.5-.7l-1.1-.3l.2 1.7l-1.5 1l-1.7 0M217.5 92.4l-.4-1l1.2-1.2l.3-1.6l.2-1.7l.5-1l.5-1.5l1.2-1.2M198.3 82.5l-1.3-.9l-.2-1.3l.9-1.4l1-1.1l.1-1.6l-1.5-.3l-.9-1M201.3 85.7l-1.8 .1l-1.4-.9l-.8-1.2l.5-.9l.6-.1l-.3 1.3l.7 1.5M206 82.2l-.4-1.5l-1.6-.7l1.7 .1l.5-1.1l-1.6-.2l-1.5 .3l-.9 .4M220.9 91.6l.5-1.4l-1.1-.4l.7 .4l1.2-.1l1.1 .2l1.1 0l1.4 .5M208.9 76.5l-1.3-.4l-1.7 .4l-.6 .8l.9 .5l0 1l1.1 1.2l1.3 1M199.8 67.8l.7-1.6l1.4 .8l1.3-.5l.1 1.5l-1 .5l-1.2 .5l-.8 1.1M213.1 69.6l-1.2-1.1l-1 1.3l-.8-.9l-1.6-.3l-1-1.3l.5 .4l.6 .7M197.2 61.2l-.8-1.5l-.7-.5l-1.5 .5M206.3 85.8l-.5 .6l.3 .1l-.6 1.6l-.8-.8l-.2 1.6l1-1.4l1.4 .5M206.9 76.5l.2-.4l.1 .6l.7 .6l1.2 .8l.2 .3l.6 .9l-.1-.8M209 70.5l-.1-1.5l.2-.7l-.9 1.3l.2 .7l-.3-.3l-1.1 .7l-1 1.3M209.4 76.9l-.5 1.3l-.6 1.6l-.6 1.2l.7 1.4l1 1.2l.6 1.1l-.3 .9M229.1 72.7l.3 1.5l-1.2 1.1l-1.1 1.3l-.6 1.3l-1 1.2l-.2 1.5l-.8 1.2M210.2 83.7l-.3-1.2l.6-1.3l1.2-1l-.1-1.5M217.1 82.9l1.7 .4l-.8-.5l-1-.1l-1.5-.3l-1.1-1.2l-1.5-.3l-1.6 .6M214.1 71.5l-.6-.5l-1.6-.1l-.9-.9l-.7-.6l-.9 .3l-.1 0l-.1 1.4M200 73.5l-.5 1.5l-.2 1.5l.5 1.6l-.5 1.5l-.7 1.1l-.5 .2l.8-1.5M221.1 94.7l-1.4 .3l0-.5l-1.6 0l-1.3-.6l-.5-1l1.5 .7l-1.6-.3M219.5 74.8l-1.1-1.3l.6-.9l.1-1.5l.1 1.6l.3 1.4l.9 1.3l.9 .5M223.2 72.1l-1.1-.8l-1.5-.7l-.1-1.6l-1 1.2l-1.1 1.1l-1.1 .8l1.2 .7M202.5 65l.2 1.3l1.3 .3l-.6-1.3l-1.3-.3l-1.4 .9l-.5-.5l-1.6 .5M209.9 62.4l1.4-.9l-.3-1l-.7-1.5l-.5-1.2l-1.3 1.1l-1.3 1.2l-1.6-.2M217.3 82l-.5-1.4l.4-.4l.5 .6l.6-.5l.8-.6l.4-1.5l-.2-1.6M224.6 84.6l.3 .8l.3 1.1l1.1 0l.1 .4l.9 .5l-.2 .7l-1.4-.4M222 74.3l-.1-1.5l.2-1.5l-1.7-.4l-1.3 0l1.2 .8l-1.3 .8l-1.1 .9M214.8 74.2l-.9 .7l-.7 1.3l-.9 .5l-.1 1.2l0 1.2l.8-.1l1.2-1.1M195.2 76.3l-.9 .7l-.8 .3l-.6-.4l-1.6 .5l-1.3-.1l-.3 1.5l-.9 .6M212.7 66.4l-1.1-.4l-1.5-.6l-1.5-.8l-1-.9l0-.6l.1 .8l-1 .7M211.3 74.7l-1.6-.2l-.8-1.4l.1 1.5l-1.3 .6l-1.3-1.1l-1.1-1l-1.1 .6M226.3 97.9l-1.2 .3l-1.4-.8l-.9-1.3l-.9-1.2l-1.6-.4l-.6-.5l0-.3M209.9 88.5l-1.4 0l-1.6 .4l1.6-.5l-1.4-.4l-1.4 0l-1-1.2l-1 .8M206.4 75l1.3 .3l1.5-.6l-.7-.8l-.8 .8l-.7 1.5l.3 1.1l1.2-1.2M216.5 68.7l1.2 1.1l-.9 .2l-1.5 .6l-.9 1.4l-1.2 1.2l-.9 1.4l-1.5 .5M222.8 82.6l0-1.5l.4-1.2l.6-1.1l1-.8l-.3-.1l.1-1.4l-.1 1M226.2 66.6l-1.3-.5l-.7-1.4l-1.5-.7l-.3-1.6l1.5-.5l1.5-.1l1.3 .7M205.7 69.8l-.2-1l-.2 1.5l-1.5 .8l-1.5-.6l-1.7 .1l-1.7 .1l-1.5 .3M217.3 74.9l.2-1.6l1.6-.4l1.3-.1l.7-1.6l.5-1.4l1-1l.2-1M206.5 77.8l-1 1.1l-1.3 1.2l-.9-1.4l.6-1.1l.8-1.6l-.1-1.6l0 .7M197.5 61.6l1 .1l.7 1l1-1.4l-.8-1l-.3-1.4l-.8-1.2M207.6 75.5l-1.3-.5l-1.5-.8l-.9-.5l-1.4-.4l-.1-.1l-.3 .3l1.6 0M202.5 83.7l1.6 .3l1.3 1l1.5-.4l.3-.3l1-1.4l.4-1.5l.2 .4M202.7 86.6l.9 .2l-.5 .6l.4-1.3l.7-1.5l-.7-1.3l-1.7-.4M208.7 79.2l-.4 .9l1.7 0l1.2 .8l.8 1.4l.2-1.4l.2-1.3l.8-1.2M217.7 90.4l1 1.1l1.7-.5l1.5-.1l1 1.1l1.6 .2l1.1 1.2l.8 .6M205.6 71l-.2-.7l1.5-.8l-1.1 .2l-.4 1.6l1.6-.4l-1.1 .8l-1.3-.3M203.8 77.8l.1 .2l-.7 1.1l-.1 1.5l-.2 1.2l.2 1.4l1.2 1l-1.2 1.3M214 58.4l-.6 1.4l.7 1.4l1 .2l1.1-.8l1-1.3l.2-1.6l.6-.7M222.7 66.4l-1.6 .6l-1.6 .8l-1.5 .3l-1.1-.1l.3 .7l.2 .5l.8 .4M193.8 64.8l-.1-1.3l-.8-1.4l-1 1.3l-.1 .3l1.1 1.3l1.3 .1l1.6-.3M220.6 60.3l-.5 .7l-1.6-.4l-1.6 .3l-1.4 0l-.6-.3l0-.7l0 .3M218.7 82l-.6-.7l.6-1.3l1.8-.3l.4-.2l1.2-.6l.6-1.3l0 .2M213.3 73.4l-.3-1l1.1-.8l.8-.3l-.3-1l-1.2-1.1l-.5-1.6l-.3-1.4M230.7 73.5l1.7-.5l-.4 .5l1.5 .3l-.9 .1l-1.7 .3l-1.7-.3l-1.7 .1M229 61.9l.7-1.4l1.7 .2l-.4-1.1l.6 .2l.6 .8l-1-.7l.3-.8M203.2 83.4l-1 .6l-1.2 .2l1.5-.7l1 1.2l1.2 .9l.9 1l.5 1.6M207.6 80.5l-1 1.4l.7 .1l1.5 .2l1-.8l-.1-1.3l-1.6-.6l-1.1-.2M224.9 80.9l-1 1l-.6 .9l-1.6-.4l-1.2 .4l-1.5 .4l1.7-.1l-.5 1.3M195.3 78.2l.4 1.3l-.9 1.1l-1.1 1.3l-1.6 .7l-1.5 .3l-1.4-.6l-.4 0M214.4 81l.1-.7l.1-1.3l-1-.4l-.8-.2l-.4-1.6l.9-.9l.1-1M220.9 78l-1.4-.7l-1.7-.5l-.7 1.2l-.8-1.1l-1.1-.8l-1.2 1.1M201.7 65.6l.2 1.3l-.5 1.2l-.1 1.6l.5 1.3l-.8-1.1l-1.2-.9l-1.7 .1M222.2 87.5l-1.3-.1l-1.6-.5l-.4-.6l-.8-1.2l-.2 .5l.4 .9l.4 1.1M229.9 79.2l1.1-1.2l.7-.8l1 .2l1.3 .2l1.4 .2l.5-.8l.7-.6M212.3 75.1l.8-1.5l.9-1.4l1.6-.4l.2 .7l1.1-.3l1.2 1.2l.6 1.5M200.9 78.8l.3-.5l1.2-1.3l1.4 .9l.5-1.5l.1-1.6l-.1-1.4l-.6-1.5M214.4 77.9l.8-.3l-1.1-1.2l-1 .2l-1.6-.2l-.2-1.7l-1.4 .3l-.9-1.4M203.5 62.9l1.1-1.3l-1.5 .1l0-.6l.5-.1l.5 .3l.4 1.1l1.4-.3M227.5 63l0-1.7l-.1-.1l-.2-1.6l0-.1l1 1.4l.2 1.6l.6 1.6M229 84.4l.2 0l-1.4 .8l0 1l-.4-1.5l-.2-.6l1.2 1.1l.8 1.4M220.9 71.8l-.4-.2l1.4-.4l1.1-.1l0 1.5l.5 1.6l.4 1.6l.4 1.5M222.5 91.8l1.1 1.1l1.6 .1l.7 1.4l.6 1.1l-1.6-.3l-1.2 .2l.3 1.6M211.8 101.4l-.1-.9l-1.5-.1l-1.4 1l-1.7 .8l-.5-.2l-.9-1.4M211.8 73.8l-1 0l-.4 1.6l.1 1.7l.7 1.4l-.5 1.2l-1 .5l-1.6-.1M211.2 70.9l-.3-.9l.8-1.5l1.3-.4l1.2 .4l1.6-.5l1.5 0l1.5 .7M221.4 94.6l.4 1.2l1 .9l-.3 .7l.7 1.5l1-1.3l1.1-1.2"/><path stroke="#26249a" d="M200 49.1l-.4-1.5l-.2-1.5l.7-1.2l.1-.3l-1-.2l.3 1.6l.7 1.5M201.4 48.5l.7 1.1l-.4-.6l.1 0l.4-.1l.7 .4l-.3-.6l.3-1.5M218.8 60.9l.5-1.6l1.4 1l1 1.2l.1 .7l.7 .1l-1.3 .8l-.5 .6M207.7 59.3l-.6-1.1l.2-1.4l.6-.7l.9-.7l1.2-1.1l-.3-.2l-.9-.8M204.3 42.9l-.8 1.5l.2 1.6l.2 1.6l.2 1.6l-.2-1.6l-1-.2M209 48.9l-.2 1.6l-.1 1.2l-.1 1.5l1.2-1.2l.6-.8l1.1-.7l-1 1.3M202.6 75.9l-.5 1.6l.2 1.6l.1 1.4l.1 1.6l-.2 1.7l.2 1.6l.7 1M207.9 64.6l-1.3 .1l-1.5 .8l-.4 1.4l.3 1.7l-.7 .7l-1.4 .8l-1.3 0M207.6 55.7l-1.1-.6l1.4-.3l1.2 .4l.9 .3l1.2-.8l.7-1.4l1.5-.9M213.1 52.8l.6 .7l1.1-.4l1.5-.1l.4-1.5l1.4-.6l1.3-.3l1.6 .1M207.7 60.7l1.5-.6l1.2-.1l-.4-1.3l-1.4 .1l-1.5 .1l-1.1-.1l-1.6 .1M222.6 51.4l.5-1.6l1.5-.6l1 1.4l0 1l1.4 .6l1.4-1.1l1.1-1.3M211 52.3l1.6 .1l.7-.6l-1.5 .6l.3 1.6l1.7 .4l-1.3-.9l.4 1.4M206.3 55.5l1.4 .6l.8 1.3l-.8 1l-.9 1.1l-1.2-.3l-1.1-.7l.8-1.5M207.9 43.9l1.6 .2l-.9-.9l-1.4 .2l-.7 .9l0 .6l.7-1.4M229.9 100l.3 1l1.1 .5l-1 1.5l-1.6 .2l1-.6M225.4 45.3l.2-1.2l-1.2 .4l-1.3 1.1l.5 .6l-.9 .8l-1.4 .2l-1.4-.9M209.5 59.5l1.8 .2l1.7-.3l-1-1.1l-1.6 0l-1.1 .7l-1-.6l-1.6-.6M190.6 96.2l-1.2-.9l1-1.1M218.1 58.3l1.4 .8l1.2 .4l.6 1.1l0 .8l-.4-.5l.9 .3l1 .2M216.4 60.8l-1.3-.1l-.7-1.2l-1-.8l-1.4-.4l-.3 1.7l-1.1-.4M191.8 76.6l.2 1.1l-.9 .4l.9-.8l.1-.1l0-1.5l1.7-.5M201.2 43.4l-1.7-.3l-.5 .5l.6 .8l1.4 .7M216.2 42.1l-.5 1.4l-1-1l-1.2-.1l-.2-1.6l-1.5-.4l-.3 1.6l-.7 1.4M207.3 48.9l-1.6 .7l-1.6 .7l-.3 .1l-1.3-.9l-1.7 .7l-.6-1.3M210.6 59.6l-1.3-.8l-1.2-1.2l-.4-1.6l.5-1.5l.6-.5l1-1l1.6-.3M218.4 58.7l1.5-.7l-1.2 .9l-.8 1.1l.6 1.6l1.1 1.1l.3 .6l0-.7M192.2 90.9l.7-1.5l1.4 .3l1.6 .5l.7-1.6l.6-1.4l.1-1.6l1.1-1.2M181 89l.9-1.3l.9 .8l1.5 .4l.8-.6l-.3 .8l1.1 1.3l1.8 .4M202.6 48.9l-1.6 .4l-1.4 1l1.6-.3l1.6-.3l-.8-1.1l1.3-.9l.7 .9M231.7 81.6l-.4 1l.1-.9l1.5-.6l1.6 .3l1.6 0l1.5-.1l.9 .1M205.5 76.5l-.7-.3l-1.3 .4l-1.1 .7l-.7 .8l-1.5-.4l-1.3 1.1l-.1 1.5M184.6 44l-.1 1.5l-.5 1.6l.2 1.7l.3 1.6l1.1 .3l-.6 1.2l.5 1.1M223.1 82l-1.3-.2l-.1-.7l-1.2 .2l-.2-1.4l-.2-.9l1.4 .8l-.9 .7M190.3 92.2l.7-1.2l.2-1.6l-.1-.8l0 1.2l.5-.5l1 1.1M207.5 61l0-.2l.3 1.1l-.4 1.3l-.1 .7l1.3 1l.9 1.4l.6-.8M215.5 62.5l.9 1.4l.5 1.5l.6 .5l-1.1-.2l1.7 .1l.9-1.4l.5-1.6M191.8 45.2l-.2-1l-.7-.9l-1.2 1.1l.3 1.5l.5 .7l-.3-.8M212.7 53.3l1.1-1.3l-.9-.2l1.2-.8l-.7 .9l.4 .8l.4 .4l.2 1.3M214.9 97.8l.3 1.6l-.6-1l-.9-.1l-1.6-.6l-1.5-.6l-1.1-1.2M231.1 90.8l-.5 .8l-.1 1.6l-1.3 .4l-1 1.3l0-1.2l.7-1.4M212.5 50.7l.7-.6l1 .2l0-1.6l-.4-1.6l.1-1.7M209.6 53.4l1.2-1.1l.8-1.3l.8-.8l.7-.7l.3-.8l.5-.5l-.6-1.4M213.7 52.8l-1.5-.8l-1.5-.2l-1.5 .4l-.9 1.3l-1.3 1l-.9-1.1l-1.4-.5M217.7 48.2l-1.1 .9l-1.6-.3l-.2 .8l-.6 1.3l-1.3 1.2l-1.4-.4l-1.5-.6M225.2 49.6l-.1 1l.8 1.3l.7-1l1.1-1.1l1.7 .1l1.7-.1l.5-1.1M202.4 73.6l1.2-.1l1.3 .2l-.3 1.4l-.6 1.6l-1.3 .9l-1.8-.1l1.5 .5M225 62.6l.5-.1l1.6-.3l1.6 .2l1.3-1l1.6 .2l.9 1.3M187.3 46.8l.9 .9l1 1.3l.6-1.5l-1.7 .6l.4 1.2l1.5 .2M218.5 60.8l.3 1.1l.5 1.1l1.5 .6l-.8 1.3l-.4 1.6l.7 1.5l-.4 .5M215.1 50.1l.4-1l-.1 .4l.2-.5l.4 1.7l.5 .8l.2 .6l-1.6 .7M215.8 60.7l1.1-1.1l.8 .6l.9-.2l1.6 .2l1.1-1l1-.4l1.5-.4M198.3 44.2l1.3 .5l1.1 1.3l1.2 .7l-.3 .1l.1 .7l.1 1.5l-.6-.8M233.7 77.3l.6 .6l1.1 .6l1.4 .9l-.9-1.4l1.5-.4M227.8 46.7l1.4 .3l-.1-.6l-.6-.3l-.1 .9l-.2-1.2l.9 .5l1.5-.8M212.3 47.2l1.5 .2l1.4 .1l1.6 .3l.3-1.6l0-1.6l1.5 .1l1.4-.9M200.9 49.4l.9 .5l1.6-.1l1.3 .5l-.5-1.2l-.2-1l-.3 .4l-.3 .2M231.9 57.3l0 .6l1.5-.4l1.2 0l1.5 .9l.4 1.6l-.9 .3M234.2 54.5l.4 1.6l-1.5 .8l-1.5 1l-1.2 1l.3 1.6l-.9 1.3l-1.1 1M202.3 57.2l-.8 0l-1.2 1.2l.6 .1l-1 1l-.1 .3l1.1 1.1l.2 .9M210.6 47.3l-.4-1.2l-.4-.6l-.4-1.6l1.4-1.1l.9-.2l.5-.1l0 .8M211.3 47.4l-1.3-.9l1.3 1.1l1.3 .1l.3 1.5l-1.5 .3M212 56.3l-.4-1.6l-.3-1.3l-1.3-.3l-.7-.2l.5-.1l1.2-1.2l-.6 1.6M222.1 43.5l-.8-1.4l-.4 .4l1.1-1.1l1.1-.5l1.6-.3l1.3-1.1M221 46.6l.4-1.5l1.2-.7l.3-1.7l.5-1.6l.1 .9l-.6 .2M201 51l1.3-.8l1.6-.3l1.4-.4l.2-.3l-1.6 .4l.3 .3l.3-1.3M221.3 49.5l-.6-.5l-.4-.9l-1.5 .5l-1-.1l-1.6 .5l-1.7 .2l-1.6-.1M201.5 68.7l-.6-1.1l-1.4 .2l-.5-1.3l.8-.1l.4 .6l-.5 .4l-.6-.5M218.2 62.6l1.1 1.1l1.1 1.1l1 1.2l1.4-.1l-.2-1.4l-.6 1.4M216.1 58.2l1.5-.5l1.1-.5l-.8 .2l-1.5 .9l-1.6-.4l.8-1.5l.8-.3M208 55.9l-1.5-.3l0-1.4l-.3-.7l-1.4-.6l-.4-1.4l.5-1.6l-1.2-1.1M189.5 85l-1.4 .4l-1.7 .3l-1.5-.7l-1.6 .2l1.6 0l1.6 .2l1.1-1.3M223.7 74.1l1.6-.5l-.6 1.3l-1.1 1.3l.1-.4l.5-.8l-.2-.7l-.2-1.5M215.6 46.4l1.1-1.1l1.2 1.1l1.3 1l1.6 .4l-.4 0l1.2 1M211.2 44.7l1.6-.5l1.1 1l-1.6 .2l-1.6 0l-.5-1.1l1.7-.3l.7 1.4M206.5 57.1l-1.5-.3l-.3 1.1l.5-1.2l.1-1.2l-.6-.2l-1.6 .4l1 1.3M210.7 46.5l1.2-1.2l1.6-.6l-1.6 .5l1-.1l-1.4 .4M228.7 78.7l1.8 .1l1.2 1.1l1 .9l.6 .3l.8-.1l-1.6 .8M232.4 69l1.3-1l.5-1l1.1-1.3l.9-1.3l-.3-1.6l.6-1.5l-.8 .3M209.3 51.5l.6 1.4l1.1 1.2l-.6 1.4l.3 1.5l-1 1.4l-1.2 1.2l-.7-.3M214.6 52l-.4 0l1.6-.5l1.7-.3l1.2 1.2l.5 1.1l.2 1.6M211.6 53.2l-1.3-.9l-1.4 .1l-1-1.3l-.6-1.1l-1.1 .1l-.9 1.2l-1.5 1M194.4 61.4l0 1.4l-.8 1.6l-1.2 1.2l-1.8-.1l-1.3 .9l-1.3 1.1l.1 1.1M195 91l1.5-.8l.4 1.5l.9 1.4l.3-1.6l-.5-1.5l-.3-.4M214.5 48.6l1.5 .5l1.5 .9l.4 .3l-.2 1.3l-.5 1.6l-1.2 1.1l-.3 1.2M195.5 46.4l1.5-.7l.6-.5l-1.4 .6l.8-1.1l1.3-.4l.9-.7l.4-.9M207.5 48.5l.3 1.3l1.3 .9l1.1 1.1l.7 .3l.5 .5l1.3-.2l.9-.8M193.8 70.6l-1.4 1.1l.7-1.5l1.5-1l.8-1.5l-.7-1.4l1.6-.8l1.1-.6M239.4 80.9l-1.6 0l-1.5-.4l-1.6 .1l-.4 1.5l-1.2 .4l-.1 1.2l.6 1.5M208.1 52.9l-.6 1.4l-1-1.2l-.2 1.1l-1.5-.7l-.8-1.4l-.4-1.6l.5-1.2M219.4 42.1l-.2 1.6l-.1 .5l-1.1 .4l-1.5 .4l-1.7 .2M211.3 60.3l-1 1.4l-1.2-.5l-1.4-.9l-1.4-.7l.6-.5l-.1 .8l-.9 .9M205.2 64.3l-.7 .7l0 .5l.4 1.6l-.5 .2l-.5-.1l-.8 1l1.2-.1M217.2 56l-1.2-.7l-1.1-.9l-.5-1.6l-1-.7l-1-1.2M221.8 50.7l-.1 1.6l-.3 1.2l1.2 .5l.7 1.5l.8 1M205.5 43.7l-1.1 .6l.9 .6l-1.3-.7l-.9-.3l-.5-1l-.7 .5M213.9 57.6l-1 .8l.5 .8l-.2-.2l1.7 .4l1.7 .1l1 1.3l-1.6-.4M220.8 52.1l.4 1.4l.9 1l-1 1.4l.3 1.5l1.6 .3l1.4-.6l1-.1M191.1 53.2l-.8 1.5l-.7-.2l-.4 1.1l-1.1 .3l-.7-1.3l-1.3-1l.1-1.7M187 93.2l.5-.5l.4 1.2l.8-.2l.9 .6l1.4 .5l1.7-.2l.7-.7M176.7 71.2l1.7-.3l1.5-1l.6 1.5l1.6 .5l1.5-.7l1 .1M212.5 62.7l-.1 1.3l-1.3 .7l.4-.9l-1.1 .7l-1-.6l.7 1.5l.7 .2M190 75.8l.1-1.6l-1.8 0l-1.6 0l-1.3-.6l-.7-1.1l-.7-.1l-.4-.3M231.3 42l1 1.2l0 1.7l.5 1.4l.9 1l.9-1.1l0-1.6l-.7-1.5M206.3 56.6l-1.3-1.2l-1 1.4l0 1.1l-.6 .5l-.7 1.5l1.5 .8l.4 1.6M217.3 68.5l.7-1.5l1.2-1.1l1.4-.9l.7-.1l1.1 .5l1.6 .4l1.3-.6M225.5 94.4l1.7-.1l1.7-.1l1 .2l.2-.2l-.8 .9l-1.3 1.1l1.2-.8M222.9 64l1.3 1l-.2 .2l-.8 .9l.5 1.5l-.2-1.2l1.6-.5l1-.3M188.7 90.2l1.4 .7l.5 .7l-.3 0M201.5 59.4l.6 .5l1.3 .5l1.5-1l1.5 .3l1.4 .1l1.2-.5l-1.5 .8M195.9 48l1.3-.9l-1.2-.5l-1.6-.1l-1.3 .8M201.8 96.7l1.5 .8l1.1 .9l.3-1.6l-1-.9l-1.5-.7l-1.5-.6l-.8-1.4M205.5 43.8l-1.1-.3l-1.3-1l-1.5 .5l-1.4-.7l.3 1.5l.9 .4l1.2-.4M201.5 51.2l.1-.4l1.6-.3l1.6 .5l1.4 .5l1.6 .7l-.7-.5l-.9-1.1M208.4 49.1l.9-1.1l-.8-1.1l.3 1.5l-1.5 .1l.9-.5l.7 .4l1.4-.5M217.4 74.3l.3 1.7l.8 .6l-.1 1.5l-.4 1.7l.8 1l1 1.2l1.4 .6M202.1 88.8l-.2-1.1l-1-.7l.3-1.7l-.5-1.1l-.7-1.5l-1.7 .4l-.2 .3M216.8 51.2l-.9-1l0 .9l1.5 .6l.4 1.4l.4 1l1.1 .7l.3 .5M230.4 68.5l-1-.4l-.7-.2l-.8-.1l.2-1.6l-.3-1l.5 1.2l-.8 .4M194.6 72l-1.4-1.1l-1.5 .6l-1.4-.1l-.5-1.2l.5-1.6M188.5 80.5l1.8-.4l1.4 .9l1-.1l1.6 0l.7-.7l.5-1.1l.8 .1M192.9 100.5l-.1-1.5l1.2-.8l-.2-.4l-.6-1.4l-1.3 .2l-1.6-.4M203.9 53.6l-.7-1.1l-.9-.6l-1.5-.6l-1.5 .8l-.9 .6l-.9 .8l-1.6-.2M210.4 59.4l1 .8l1.6-.3l1.2 .2l1.3-.6l.9 .5l.7-1.3l-1.4 .2M209.4 53.7l0 1.7l-.7 1.4l.2-1.4l0-.6l.2-1.5l.7-1.6l1.5 .2M211.6 54.7l1.6 .5l1.5 .5l1.6-.1l1.7-.2l1.5 .5l1.6 .4l-.3-.2M205.6 77l.8-.4l1.5-.5l1.6-.5l1.6-.1l.7-.2l0 .9l-1.5 .4M214.1 84.8l-.4-1.3l.9-1.5l1.2-1.2l-1-.3l1.2 .7l.7 .3l1.1-.5M204.3 83.4l-.1 1.5l.4 .7l.4-1.5l-.2-1.4l-.2-.9l-.6-.2M209.6 52l1.6-.7l.7-.1l.2 1.3l.4 1l-.4 .8l.3 1.2l.9 1M193.4 48.6l.9 .5l0 .3l-.4 0l-.9-.8l.7-1.6l.6-.9l.7 .8M216.9 48.1l.3-1.2l-1.3-.6l-.4 .6l-.3 1l-.3 1.4l-.3 .8l-1 1.2M218.1 55.3l-.2 1l.7 1.3l1.4-.6l.9-.6l1.2 1.1l.7 1.3l-.3 1.1M207.7 67.3l-1.4-.5l-1.1-.7l1.1 1l-.3 .6l-1.1 1l.5-1.1M207.1 48.1l1.4 .5l.6-.5l-1.1 .5l.3-.4l1.2 .5l1.2-.8l1.2-1M181.4 93.9l.2 1.4l1.3 .5l.5 1l-.2 1.7l.9-1.4M196.5 51.6l1.4-.7l.5 .9l.6 1.5l-1.5-.3M208.4 53.1l1.4 0l1.7 .3l1.1 1.1l1.3 1.1l1.4 .4l1 1l1.2 1.1M213.2 54.3l.5-1.3l-1.3-.8l-.2-1.6l1.4-.7l1.7-.2l1.4-.1l-.3 .4M209.9 48.8l1.7-.6l1.3-.8l.2 1.2l.3 1.2l1.5 .7l1 1M204.4 61.7l.2-.5l.9-.1l-.3-1.4l1.1-1.1l.1-.3M182.6 97l-.1-1.5l1.4 .8l.8 .7l.2-1.7l.2-1.5l.3-1.3M210.5 58.8l-.8-.3l1.3 .7l.7-.1l-1.1-.7l-.5 .7l1.6-.2l.3 1.3M232.8 53.3l.2 .8l.6 1.5l.6 .4l.9 .5l-.1-.8l.1 1.1l1.2-.9M197.7 62.9l-.3-.9l-1.8-.3l-.3-1.5l-1 .7l.2-.3l-1.4 0l-.3-.4M208.7 89.1l-.4 1.6l.7 .4l-.5 1.2l-.3 1.6l.8-1l.4-.6l-.1-1M208.6 77.4l1.6 .4l1.4 .8l1.2 1.1l-.8-1.4l-1.2 1.3l.5 1.2l-.9 .5M194.5 50.8l.8-.7l.8-.1l.9 .4l1.2-.3l1.2 1.2l.8 1.1l.7 1.1M214.6 51.4l.8-1l.1-1l-.5-1.5l1.5-.4l-.2 1.6l-1 1.3l-1.1-.8M187.3 89l.4 .9l-.2-1.5l.6-1.6l-.9-.7l-1.3-1l-1.2-1.1l-1.6 0M212 69l.9 1.3l-1.2 .5l1.6 .1l.9 .2l.6 1.5l1.1 1.1M210.7 52.7l-1.3-.2l-1.3-.1l-1.2-.7l-1.5 .2l-1 .6l-1.5-.5l-1.2 .3M240.6 84.2l-.6-.7l-1.3-.7l-1.1-.5l.3-1.3l1.5-.2l1.5-.8M211 50.4l-.3 .1l.6 .1l-1.3 .6l-1.4-.9l.1-1.5l-.2-.4l1.5-.7M225.7 45.9l1.1 .3l.7 .6l-.3 .9l-.8 1.5l.5 1.4l-.3 1.6l-1.6-.1M212.9 67l-1 1.5l-1.2 1l1.1 .3l1.2 1.1l-1.6-.4l-1-.5l.5-1.1M204.6 55l-.4 .6l-.5 0l-1.4 .7l-.2-.5l-.4-.4l-.3 .7l-.5 1.2M216.5 42.7l1.6-.7l1.2 .9l.3 .4l-.7 .1l-.1-.4l-.3-1.1M201.5 80.3l-.5 1.6l-1.4 1l-1.1 1l-1 .5l.2-1.1l.4-1.6l-.6-1.2M222 56l1.5-.2l-.4-.9l-.9-1.4l.4 1.1l1-.5l.9 .1l1.4-.3M214 56.3l1.7 0l.1-1.2l-1 1.4l-.7 1.5l-.4 1.7l1.4 .9l1.1-.4M209.7 58.2l-.6-.2l-.6-1.5l-.1-1.3l-.7-1.3l-.9 .3l.3-.2l-1.3-.7M190.3 48.3l-1 1.2l-.7 1.3l-1 1.2l1.5 .1l-.1-1.4l.3-.9M212.1 59.4l-.7-1l-.8-1l.5-1.4l1.6-.5l1.1 .8l-.7 .5l-.1-1.1M214.2 58.8l-1.3-.7l-1.6 .5l-1-.2l-.3-.3l-1.1 .4l-.7-.4l1.7 .4M199.3 51.7l1 .1l-.5 .9l.7 1.5l.1 .9l-1.4 .6l-.8 1.3l1.5-.1M206.8 69l-1.5-.8l-.9-1.3l.2-1.6l-.8-1.4l-.4-1.6M218.5 50.7l.4 .9l-1 .6l-.3 1.6l-.9 1.4l-.7 1.3l-1.4 1.1l-1.2 .2M217.4 64l-.3-1.4l-1.4-.8l-1.6-.4l-.8-1.2l-1.7-.2l-1-.9l1.6-.1M223.5 52l-.7-.9l1.2-1l.8-1.1l1.3-1.1l1.6 .6l.3-.9l1.3 1.1M224.6 82l1.3 .9l-.8 1.1l-1.4 0l-.3 .6l-.7 .5l-1.4 .6l-.5-.4M209.4 50.6l-1.1 1.1l-1.1-.3l.3-1.3l-.4-1.6l.3-1.4l-1.3-1l-1.2-.6M201 48.4l1-.8l1.6-.6l1.1 .4l-.8 .8l-1.1 .3l-.2-1.3l.3-1.7M195.1 78.2l.3 .8l1.3 .9l.7 1.4l1.3 .9l1-1l.3 0l1.2 1M207.7 65.1l1.5 .4l1.6 .2l.8-1.5l.9-1.2l.7 .8l1.2-.5l-.9-.7M198.4 49.4l-.5-1l-.8-1.2l-.6-1.3l.2 .8l1.6 0l1.5-.5l1.1-.8M209.7 53.7l1.3-.2l1-1.1l1.3 .3l1.3 .8l1 1.3l1.6 .3l1.5 .2M190 40.5l-.4 .2l-.4 .3l.3 .8l-1.4 .7l-.5 .1l.1 .3l.1 1.7M223.2 97.7l1.3 .7l.9 1l1.6 .1l1.2 .8l.9 .8l-.6-1.5l1.5-.8M232.7 92.7l-.5 1.3l.5-.6l.6 0l1.3 .3l-1.5-.5l-1.5-.6M206.8 47.2l-.6 .7l-1.1 .7l1.6-.1l1.4-.7l.7 .7l.5-1.3M185 80.3l.1-.2l.3-.2l-.4-1.5l-.5-.7l-.7 0l.4-.2l.7 .4M217.7 55.1l0 1.6l-1.1 1.3l-1.1 1.2l-1.7 .6l-.4-1.5l-.7-1.5l-1.7 .6M236.5 78.6l.4 .5l0 .1l-.1-.1l-.9 .9l.3 1.1l-.1-1.6M226.8 52l1.4-.9l1.2 1.1l.1 1.6l-1.3 1l-1.6-.2l-.3-.9l1.2 1M213.1 58.4l-1.3-.6l-1.7-.1l-1.5 0l-1.1-.9l-1.6 .1l-.7 .7l-1.3 1M210.5 44.6l1.1 0l1.2-1.1l1.6 .4l1.4 .6l1.5 .6l.8 1.4l1.1 1.2M234.7 45.7l.5-.3l.9 .7l-1.2 .2l-.4-1l.7-1l1.1 .9l-1.3 1"/><path stroke="#9a2a80" d="M205.3 82.2l0-.6l0-.6l-.7-1.5l.8-.6l1.4-.8l1.6-.8M189.3 47.9l1.6-.1l-1.6 .4l-1.7 .1l-1.7-.4l-1 1.1l-1.4 .1M189.7 65l-1.7-.1l.6 .4l-.3 .4l.2-.5l-1.4 .9l.2 0M194.9 50.6l1.7-.5l-1-.2l-1.5-.2l-.5-.8l-.1-.3l-1.7 0M199.7 67.6l-.9 1.5l-1.6-.5l0-1.4l0-1.7l.2-1.7l.3-1.6l1.3-.3M199.9 57.6l-1.1 1.3l-1.5-.2l-1.5 0l-1.1 0l-.1-.4l1.1-.5l1.1-.4M195.6 62.8l.6 .5l1.6-.7l-.4 0l-.8-1.3l-.3-1.7l-.6-1.4l-.3-1.6M193.7 48.1l-1.1 .6l-1.3-.5l-.9-1l-.7 0l-.5-.4l-1.2-.3l-.8-.4M195.6 65.3l-.4-.8l-.5-1.4l-.7-1.3l-1.3-1.1l-1.3-.5l.1 .2l-1.4 .1M193.1 74l-1.1 .7l-.7-.3l-1.3 .8l-1.6-.3l1.6 .3l1.5 .1M187.8 53.6l-.6 1.3l-.4-.3l-1.4-.4l-1.7-.3l-1.7 0l-1.8-.1l-1.3-.9M188.4 58.9l.8-1.1l.4-1.2l-.2-.7l.2-.4l.3-.3l.8-.8l1-1.3M197.4 52.1l-.6-.9l-.2-1.5l-1.6-.3l-1.4-.9l-1.5 .6l-1.6 .8l-1 1.3M193.2 57.9l1.4 .2l-.2 1.4l-1.3 1l-.9 1.1l.1 .2l-1.7 .4l-.4-.4M202.2 69.1l.2 1.3l.6 1.3l.5 1.4l-.9-.4l-1.7 0l-1.6 .8l-.9-.2M194.2 67.5l-1.3-.9l-.4-1.3l.4-1.6l.8-1.4l.6-.6l0-.3l-1.5-.6M197.1 48l-1.4-.6l.1-1.7l1.3 .3l-.8 1.2l1.4 .9l-1.2 1.2l-1 1.2M189.2 54.4l1-.4l-.6-1l-.4-1.3l1.2 .1l.2 1.6l-.7 1.5M189.4 51.2l-.4-1.5l.6-1.5l-.2 1.7l.7 1.5l-.3 1.5l.4 1.4l.4 1.6M197.9 64.4l-.6-.2l-.9-.6l-.8-.8l0-.6l-.9-1.4l1.6-.2l1.2-1.2M201.7 48.9l-.6 .4l-.6 .6l-1.7 .3l-.8 1.4l-1.5 .7l-1.3 .9l.3-1.6M182.9 50.7l.1 .4l-.7-.8l-1 .5l1.4-1.1l1-1.3l-.2 1.6M191.1 62.9l1.4-.8l1.5-.8l1.3 .4l.6 1.3l0 .9l-1.2-.1l-.5-1.5M191.8 57.8l.2-1.5l1.5-.2l-.9-.3l0-1.6l-.6 .8l-.4 .1M195.6 62.4l-.4 1.4l-.7 1l-.6 1.5l.3 1.6l.9 .6l.7 1.4l1.1 .9M187.4 72.8l1.3 .9l.6 1.6l.3 1.5l.7 1.1l.4 .6l.3 1.6l-1.2 1.2M190.3 75l.5-.9l.1-1.7l-.3-1.2l.9-1.4l1.4-1l1.3 .9l.9 .9M196.8 52.2l-1-.8l-1.7-.2l-.4 1.7l.2 1.4l.4 1.5l1.6 .4l.5 .5M183.5 45.9l.5 1.5l1.4-.9l.5-.5l1.1 .4l.1 1.4l-.7 1.5M182.8 69.8l.6-.8l1.1-.3l-.5-1.5l1 .7l0 1.7l1 .6M186.5 57.3l1 1.2l-.3 .2l-.9 .7l-1.6-.4l.1-1.7M197.9 58.4l1.1-1.1l1.5 .4l-1 0l.7 1.4l-.8 1.3l-1.1 .5l-.5 1.3M185.6 63.2l.9 .4l1.3 .8l-.6 1.4l.5 .7l1.5 .4l.7 .8l1.4 .3M190.5 54l1.4-1l.8-1.3l1-.6l1.3-.3l1.5 .8l1.2 .6l1.5 .9M199.2 67.1l.9 .4l-.3-.8l-1.4-.2l-1.5-.7l1.1-.8l1.4-.7l.1-.8M199.1 56.7l-1.1-.7l-.4-.2l-.3-.3l-.8-.7l0 1.7l1.1 1.2l-.8 .9M201.3 61.8l1.4-.9l-1-1.4l-1.4 .5l-1.6 .7l.4 1.1l.2 1.6l-.4 1.6M190.8 62.9l-.9 1.4l-1 1.4l-.3 1.7l.5-1.5l1.3-.9l-.1-.4l.1-.7M195.5 75.4l.5-1.2l1.5 .8l.3 0l.1-.3l1.4-.5l0-1.6l-.3-1.6M193.9 73.9l0 .3l-1.7 .7l-1.2 .5l-.4 1.6l0 1.5l-.5 1.4l-.1 1.7M190 62.9l-.8 1.3l-.9 1.5l-.9-.9l.1-1.4l1.1-.4l-.2 .7l-.2 .4M182.8 59.9l.1 .7l-.7-.3l.4-1.3l1.4-.9l1.3 .7l1.3 .9M192 75l-.9-.8l.7 .6l.7-.9l.8 .7l.3 1.6l1.7 .2l.2 .9M188 41.2l-.9 1.3l-.1 1.5l.5 1.2l1 1.3l1.5 .2l1.6-.2M183.3 57l-.1 .2l-1.7 .7l-1.5 .9l.5-.8l.2 .2l1.5-.9M190.9 70.9l0-.3l-1 1.2l.6-1.4l.7-.1l1.1 .5l-.6 1.6l-.9 1.3M180.8 67.8l0-.7l.3 .4l.6-.1l0 .3l.6 1.3l-.7 .3M191.6 62.3l1.7-.2l1-.7l.6 .4l1.2 1l.6-.9l.1-1.4l1.3-.9M180.6 52.5l1.1 .6l-1.4 .7l1 .3l-.1 1.4l-.8 1.5M187.9 63.4l1.7 0l.5-1.2l.8-1.4l.8-1.5l.5-1.5l-.5-1.5l-1.1-1.2M202.9 53.8l0-1.4l.2-1l1.5 .9l.3-.4l1.1 1.3M187.6 62.4l.4-.9l-.5-1.6l.9 1.3l-1.6-.2l-.7-.6l-.7 .1l.9-1.4M184.4 65.3l-.5 .5l-1.3 1l-1-.8l-.9-1l-1.8 .1l-1.1 .2l-1-1M188.6 46.7l1.6 .1l1.4-.1l.9 1.3l.6 1.5l0 1.6l-.9 .3l.3 1.3M191.3 65.4l-.1 1.6l-1.7-.1l.5-1.6l.6-1.6l.3-1l-.6-1.5l-1-.9M179.1 79.2l.4-1.4l.3 1.1l1.2 1l1.3 1l1.7 .4l-.6 .6l-1.4 1M199.8 72.7l.6-1.4l0-1.5l-1.7-.2l-1.2 .4l1 1.4l-1-.9l-1.5-.5M195.7 69.5l.8-1.2l-1.1-.6l-.9 .8l-1.6-.1l-.5 .9l-1 .9l-1.1 1.3M184.9 62.7l1.1-1.2l-.8 1.5l.1 1.6l-1.3 1l-1 1.1l-1.1 .5l-.1-.3M196 52.4l0-.3l0 .9l-1.4 1l-1.5-.2l-.3 0l-.8 .3M193.3 52.4l-.9 1.5l-1.1 .3l-.1-.4l-1.1 1l.9-.6l.8-1l-.9-1.2M195.6 59.7l-.9 .2l-.5 .9l-.2 .9l1 1.3l.7 1.5l.7 1l1.7 .4M196.3 46.5l-.1-.3l-1.5-.9l-1.2 .1l-1.7 .6l-1.6 .3l-.9 1.4M195.5 67.5l-.7-.6l-1.2-.1l-1.2-1.1l-.8-1.3l.5 .1l1-1.1l.6-.3M189.3 40.8l-1.3 .7l-1.3 .4l1.3 .1M189.3 57.2l1.6-.3l1.7-.5l.1 .5l1.5-1l-1-.4l.4-1.1l.3-1.4M184.6 59l-.1-1.4l0 .5l.5-1.6l-.1-1.5l-.9-1.3l1.4 .9M195.4 73.9l-1.2-.4l.9-1.2l1.7 .3l-.1-.2l-1.7-.1l.6-.5l-.6-.3M193.7 67.8l.3 1.6l-1-.4l.2-1.5l-.7 1.1l-.4 .5l-.8 1.4M196.7 71.2l-.6-1.1l-.6-.8l.1-1.2l1.2-.9l-1.3-.9l-1.2-1.1l-1.7 .2M194 66.4l.8 1.4l1.5 .8l1.1 1.2l-.1-1.3l-1.6-.5l-1.6-.1l-.1-1.5M185.2 74.4l-.7-1.2l.9-1.3l.2-1l-.4-1.2l-.5-1.4l-.1-1.1M189.5 77.3l-1.7-.1l-1.5-.1l.3-1.2l-.7-1.5l0-1.6l0-1.3l.3-1.5M202.2 51.7l1.4 .8l1.4-.9l.3 .1l-.6 .1l.1-1.6l-.4-1.1l-.6-1.4M193 61.6l1-.9l-.1-1.3M197 50.3l.6 1.1l.1 1l.4-.1l.8 1.3l-.3 1.1l-.7 1.5l-1.1 1.3M187.1 60.3l.3-.2l-1.3-.8l-1.5-.3l-.2 1.2l-1.4-.1l.5-.2l-.9-.4M205.1 67.1l.7-.9l-1.2-.2l1.3-1l.7 .5l.1 .6l1.1 .3M176.3 57.9l.5 1.1l.3-.4M190.1 58.9l1.3-.7l-.2 .2l-.8-.6l0-1.6l-.4-1.4l.8-1.5l-.2-1.6M196.6 54.6l-.9-1.4l-.4-1.5l-.7-1.2l-1.6 .7l.5 1.1l1.1 1.2l0 1.7M179.7 49.9l-.8 .7l.7-.1l-.6-.9l.6 .4M198.2 62.9l-.9-1.2l-.3-1.4l-1.3-.9l-.9 .2l-1-.8l-1.5 .5l-.8-.6M192.6 60.3l-1.7 .3l-.4 1.6l1 .7l0 1.5l-.3 1.6l-.4 1.7l0 1.6M184.1 50.8l1.1 1.3l.1 1.4l.1 1.5l.8 1.4l.8 .9l-1.6 .6l-1.7-.4M185.9 64.6l.4-1.1l1.1-.2l1.2 .5l-.5 1l-1.5-.6l-1.7-.4l-1.4-.3M200.9 52.2l-1.2-.7l-1-.4l-1.7 .3l-1.4 .7l-1.6 0l-.5-1l-1.3-.8M198.9 77.6l-1.8-.2l1.5 0l1.6 .8l1.6 .1l1.6 .5l1.7 .4M198.1 67.6l1.3 .9l1.1 .6l-.7 1.6l-.1 .9l-.3-.2l.3-1.3l-1-.6M189.7 63.9l.8-1.1l1-1.4l.4-1.5l.1-.8l-.1-.1l-.7 .1l-.8-1M179.2 66.7l1.4 1.1l.1 1.4l1 .9l1.3-.6l.2 .2l-.7-.5l-.4-1.3M205.7 71.7l.8 .6l.7-.5l-.8 .3l-.4-.6l-.6-.2l-1.4-.4l.4-1.3M189.9 47.1l-.4-1.6l.7-1.2l.9-1.4l.7 1.3l.9 1l.5 .3M186.3 70.4l1.2 .5l-1 1l-1.6 .7l-1.8 .1l-.6 1.5l.2 1.5l0 1.6M199.3 62.6l.2 1.4l.3 1.6l.9 1.5l.6 .6l.2 .9l-.6-.3l1.4-.5M190.5 71.9l.2 1.5l.5 1l-.3-1.5l1.4 .7l.6-1.6l.7-1.2l1-1.1M195.6 65l-.2 1.7l-1 1.4l-1.3 .7l-1.1 1.2l-1.3 1l-1.7 .4l.2-1.6M186 57.6l1 1l.9 .2l1.1-1l1.6-.4l1.1-.2l1.1 0l1.5-.5M191.4 53.9l-.5 .7l-.9-1.4l-1.5-.7l-1.3-.3l1.1-1l.7-1.5M190 55.7l.3-1.2l-.1-.8l-1.5 .1l-1.1-.2l-.6-1.5l-.5-1.6l1-1.3M200 52.5l-1.4-.3l-.8-1.4l.7-1.6l.7-1.5l1.6 .3l1-1.1M178.7 66.4l1.1-1.3l.2-1.7l.9-1.4l0-1.5l.4 .3l.1-.4M182.9 59.3l-1.6-.6l1.5-.8l-.1 .8l1.4 .5l1.3 .9l-.6 1.1M192.6 61.7l.8-.2l-.8-.1l.8-1l.6-.3l1.5-.6l-1.4-.8l-.9-1.2M195.1 72.6l0 .5l.6-.2l-.1-1.6l0-.8l-.5 .6l-.6 1.5l-1.1 .6"/><path stroke="#c07a2a" d="M190.7 70.8l1.2-1.3l1.5 .6l1.3 1l1.5 .8l1.7 .1l1.4 .5l.8 .7M184.5 67.3l.6 .8l1.3 1l1.6-.4l1.4 .5l1.4-.4l.9-.3l.8-1M190.2 74.5l-.6-.1l.4-.9l.1-1.6l-.8-1.4l-.7-1.3l-.1 .3l-.8 1.5M185.5 71.9l1.3-.9l1.7-.4l1.7-.3l.3-1.6l.9-1.5l.4-1.6l1.2-1.2M182 78l-.3 .2l.5 1.1l.4 .6l1.6 .6l.9 .7l.1 .1l-.2-1.3M188.7 81.2l.9-.6l-1.4 .7l-1.1 .2l-.3-1.6l.3-.3l.8-.9l.6-1.4M195.8 75.5l.6 .7l-.9 1.4l-1.4-.5l-1.5 .5l-1.4 .1l-.7-1.3l.2-1.5M187.3 72.5l-1-.1l-1-1l-1.8-.3l-1.7 0l-.8 1.4l.9-.8M183.2 69.6l-.4-1.4l-1.1-.5l1.4-1l1.6 .5l1.2 1.2l-1.1 1.3l-.4 1.4M177.9 69.8l1.5-.1l.5-1.4l-1.6-.5l1.4-1l1.7 0l-.1 1.4M189.4 69.4l.5-1.2l.8-.3l-.4-1.1l1.4-1l0-1.5l-.2-.9l-1.1-.9M184.1 67.9l0 1l-.3 1.6l-.3-.2l-.2-1.7l.6-1l1.2-1.3M183.1 78.3l1.2-1.2l-.5 1.1l-.4 1.1l1 1l.6 1.3l1.4 .7l1.4 .2M189.3 79l-.6-1.2l-.6-1.2l-1.3-1l.6-.9l.5-.4l-1.1-.9l-.7-1.5M185.2 77.9l.6-.1l-.7 1.5l1.5 .8l1.5-.3l.4-.9l-.1-.4"/><path stroke="#1f7f9a" d="M215.5 90.1l.6 1.3l-.4 1.6l0 1.7l0 1.5l-.9 .2l-.5-.8l.4-.6M213.3 92.5l-1.5-.4l-.7-.9l-.2-1.7l-1.4-.8l-1-1.4l.2-1.2l-.7-.8M207.3 87.9l.2 .6l-.2 .9l0-.1l.9 .5l-.3-1.1l1-.8l1.4-.7M220.8 95.4l-1.3 1.2l-1.4 .8l.4 1.5l-.7-.6l.9-1.2l.9-.6M200 100l-.9-1.2l.4-1.5l.5-.5l-.2-1l1.5 0l1.4-1M194.8 80.3l-1.1-1.2l-1.2-.6l.2-.7l.2-1.1l1.8-.3l1.8 0l1.4-.7M198.3 90.7l-.6-.3l.5 1.1l.1-.5l1 .6l-1.1-.4l-.4-1.4M194.9 92.3l.2 0l-.7-1.1l-.5-1.6l-.3-.2l0-.5l-.4-1.1l-.7-1.1M237.1 88.6l-.9 .1l-.5 .7l-.8 .4l-1.6 .4l-.1 1.2l1.1 .7l.2 1.5M194 95.8l1-1.4l.3-1.5l-1.3-.9l.1-.7l-1.3-1.1l-.9-1.3l.8-1.5M204.1 92l.7-1.5l1.6-.7l1.6 0l.7-.8l-.8-1.2l1.3-.7l1.3-.7M227.1 97.7l1.1 .2l0 .7l-.7 .7l-.1 1.4l-1.2-1.3l-1.2-.1M200.4 85.8l-.1 .7l-.4 1.2l.1-.2l-1 .3l-1.1-.2l-1.5 .6l-1.5 .5M212.7 83.7l-.3 1.5l.3 1.5l.6 1.5l-.4 1.6l1 0l1.5-.5l1.7-.2M197.7 87.7l-.2 1.5l1.5 .7l1 .3l1.5 .3l.8 .6l-.2-.5l.2-1.3M230.7 84.6l-.7 .3l0 1l.4 1.3l-.6 .6l-1.6 .6l-1.1 1.1l.3 1.2M231.4 89.5l1.3-.1l.7 .5l.7 .7l-.9 1.2l.1 .3M192.1 86.6l.2-1.2l.2-1.6l.4-1.4l.1-.3l-1.3 .7l-1.6 .5l-1.2 1.2M216.4 91.8l.4-.7l.1-1.5l-.5-1.6l.2-1.6l-.3-1.6l.8-1.4l-.2-.6M214.3 80.2l-1.2 .4l.1 1.5l-.4 1.2l.1 1.5l.7 1.4l.4 .2l1.6 .5M190.3 94.8l1.6 0l.1 .4l-1.7 .5l-.9-1.1l.7 .6l-.3-.5M197.3 96.7l.4 1.6l0 1.3l-1 1.2l-1.7 .6l-1.5 .8l1.4 .1M187.6 91.1l-1.2-1.1l-1-.8l-.9 .7l.4-.8l1.1-.4l.7-1.5l-1-1.3M208.9 98.5l-.3-.3l.5-.5l1.4-1l1.7 0l.3 .1l.2-1.3l-.2-.1M234.4 91.2l1.5 .9l.5-1.5l-.4-1.6l-1.2 .7l-1.1 1.3l-1 .4l-.6 1.6M199.8 102.8l.3-1.7l.9-1.1l-1.5-.8M200.2 83.2l.2 .4l.9 .6l-.2 1.2l.8 1.4l1.5 .8l.3-.3l1.8-.1M217.1 95.5l1-1.3l1.2 .2l.2 1.6l.8-.7l-.6-1.3l.2-1.1M202.9 101l-1.1-1.2l-1.7 .1l-1.5-.4l-1.2 .6l1-1.4l.5-1.5l-1.5-.3M232.9 80.1l1.3-1.1l.2-.9l0-1.5l-1.5-.2l-.8-.5l-1.5-.4l-1.3-.5M203.2 100.7l-1.3 1l-1.2-.3l-.5 .1l.5-1.4l.7-1l.2-1.7l-.1-1.4M236 93.5l1 .1l-.4 1.3l-1.5 .8l-1.1-1.1l-1.1-1.3l-1.2-1l-1-1.3M205.2 94.1l-1.2-1l-.1-.8l.7-1.3l.8-1.1l1.3 .3l1.4 .6l1.5-.6M227.2 94.5l-.1-1.5l-1.1-.7l-1.3-.9l-.3-1.1l.2-1.3l-1.6-.3l-1-1.3M199.8 89.4l1.4 .1l1.7-.3l.5 1.5l.1 1.2l.6 1.1l1.1-.4l1 .3M198.6 91.1l.3-1.3l-1.5-.6l-1.4 .8l-1.7 0l.5-1.5l1.2 .2l1.3 .9M223.1 92.3l-1.4-1l.2-1.5l-1.2-.6l-.9-.3l-.4 1.6l-.3 1.2l-.4 1.6M211.2 99.7l-.4-.4l-.1 1.5l-1.7 .4l1-.3l1-.7M210.5 96.4l-.8 .5l.7-.2l.1-1.6l-.6-1.1l-.9-1l-.5-1.3l-.2-1.1M196.6 81.9l.7 1.4l.9 1.4l1.3 1l1.6 .3l1 1.2l-1.2 .1l-.2 .4M191.6 80l1.7-.2l-.3 1.5l.9-.8l1.4-.8l-1.2-.5M213.1 93.2l.7-.9l-.1-1.3l1-1.1l1.3-.5l.2-1.2l.7-1.5l-1-1.3M225.5 84.5l.5 .6l-1.5-.3l-1.3 .1l-.5 .1l.3-.5l0-1.7l-.6 .2M199 98.9l-.4 .5l1.6-.7l-1-.5l-.5-.7l-.4 .7l.5-.1l-.4-.4M230.1 79.7l1.5-.3l1.3-1l0-1.3l.2-1.1l1.3-.3l.9-1.3M212.5 90.6l.3-.5l.1 .3l1.6 .2l.8-.5l0-.5l.1-.5l.6-.5M194.2 87.7l.3-1.1l-1.3-1.2l-1.1-1l.2 .9l.6 1.5l-.3 1.6l-1.1 1.1M188.9 89.8l-1-1.1l.9 .9l-.4 .3l1.3-.3l.3 .5l-.1 .7l.4-.1M203.2 91.1l-.2 .2l.2-1l.5 .1l.4 .7l.4 1.2l.9 1.1l0-1M211.3 88.7l1.3-1.1l.5-1.1l.8-1.2l.5-.9l1.2 .1l1.5-.8l1.3 .6M216.3 82.9l-.3-1.1l-.5-1.6l-1.3 0l-1.6-.2l-1.5 0l-.3 1.5M192.6 93.9l-.3-1l-.5 1l.5-.5l1.7 .3l-1.3 .3l-.5 1.6l1 1.4M216.8 95.5l1.1-.8l.5 1l1.7 0l.3 1.1l-.7 1.1l-.6 .1l-1.4-.1M207.7 90.2l1.4 .1l-.2-1.4l1-1.4l-1.1-1.2l-1.5-.6l1.4-.6l1.2-.3M210.4 96.5l-1.1-.3l1-.8l.7-.2l.9 1l-.3 .2l.3-1.5l.7-.3M193.5 97.4l-1.2 .3l-1.8 .1l-.9 1.4l-.9 1.5l-1.4 .6l-.3 .1M187.4 87.4l.8 .5l.7-.5l1.4-.7l0-.2l.1 0l.4 .1l.4-1.5M198.9 92.3l.3 1.6l1.1 .3l1.1 .4l.6 .6l1.4-.4l-.1-1.5l-.3-1.6M204.3 95.7l-.3-1.5l-1-.6l-1.1-1.2l.5 1.2l.4 .5l0-.7M209.7 92.2l-.1-1.7l.9-.4l-1-1.2l-.9-.8l-.5-.8l.1-1.4l-1.6-.5M230.6 91.3l.7-1.5l.1-1.6l.9-.9l.5-1.4l.9-.9M219.7 88.5l1-.7l1.5 .7l.8 1.2l1.4 .2l1.2 .1l-.6-.6l-.3-.6M217.4 85.2l1.6-.6l.7-.7l1.4 0l.4-.5l.4-1.6l.7-1l-1.3-1M189.7 83.4l.6 1.6l0 .3l-.7-.7l-.1 1.5l1 1.3l1.7-.2M232.6 98.9l-1.2-1.2l.6-1l-1.1 .4l-.7 1l.3-1.6l.4-1.7M238.5 94.4l-.6-1.5l-.9 .3l-.9-1.2l-1.7 0l-1.1-1M231.3 85.2l-1 1.2l-1.6-.3l-.9-.4l.6 0l-.1-.3l.4-1.4l-.8-.5M202.2 89.3l-1 1.4l-.8-.2l.7 1.4l-.4 .4l1.2 .9l-1 1.4l.1-1.3M233.4 86.2l.1 1.6l.3-.7l-.3-1.6l-.7-1.5l-1.4-.2l-.3-.3l1.1-.3M228 91.6l-.3 .3l1-.9l.7 1.2l.1 1.3l0 1.2l.1 1.2l.8 .3M213.3 80.9l-.5-1.5l-.6-1l-.3-.4l-.5 .9l.7 1l1.5-.2l1.5 .6M230.8 82.8l-1 1l-1.5 .4l-1.1 .5l-1.2 1.2l-1.4 .9l-1.5 .4l-.2-.2M235.3 93.6l-1-1l-.1 .8l.7-.4l.3-.6l-.9 1.2l-1.4-.6l-.3-1.5M214.4 89l1.2 .5l1.2 .7l.3 1l-.1 1.6l.7-.3l.4 .7l.8 .4M222.9 82l1.7-.6l1.7-.3l1.6-.6l1.3 1l1.8 .2l1.7 .3l1.5 .5M225.3 91.5l1.8-.1l1.6 .5l-.6 1.2l-.8 1.2l-.3 1.6l-1.4-.6M226.7 93.3l-.1 .2l.2 1.4l-1 .7l-1.5 .6l-.5-1.4l-.8-1.5l-1.4-.4"/><path stroke="#8a8a8a" d="M221.9 61.3l-1.4 0l-1.5 .6l.4-1.6l1.1-.7l.2 .2l.9-.1M231.2 83l-.4-.1l-1 1.1l.7-.3l1.3-.5l-.5 .3l1.7-.2l-.4-1.5M234.8 77.7l.1-1.7l-.2-1.6l-1-1.1l.6-1.6l1.2 1.1l1.3 .8l-.2-1.6M198.7 53l-.7 1l.3 .4l-.4-.1l-.8-.1l-.8-.3l-1.1 .4l-.9-1M232.6 81.6l-1 .6l.1 1.3l.3 .3l.7 1.5l.6 .5l-.5 1.4l-.8 .4M205.7 80.2l.1-.6l0 1.6l-.3 1.6l0 1.6l.8-.2l.9 1.3l-.7 1.4M207.3 62l-1.6 .5l-.4-1.5l.9-1.4l1.6-.4l-.2-.9l.4-1.2l.7 .5M209.3 75.4l.4 1l-1.5 .8l-1 1l-.5-1.5l.6-1.2l-.3-.8l-.9 1.2M223.8 45.2l-.5 0l.4-1l-.3 1.4l1 .7l.7 1.2M227.1 55.4l.9-1.4l-.6-.5l-.1 0l-.4-1l.7 1.4l1.4 .1l1.2-.4M191.2 77.2l-1.5 .8l.9 .8l1.7-.2l1.1 1.2l.9 1.2l.8 1.2l1.5 .8M221.3 86.8l1.2 1.1l-.2 1.5l.5-1l1.2-.3l1.4-.6l0-1.6l.9-1.4M193.6 60.8l-.2 1.4l-.3-.5l-1.1-1.2l-1-.5l1.5 .9l-1.5 .8l.1 .4M199.8 72.8l-.6 1.6l1.6 .6l.1 1.2l-.3 .6l1.5-.1l-.1-1.4l0 1.4M231.2 51l.9-1.4l.9-1.2l.9-1l-.1-.7l.1 1.4l.5 1.6l1 1.2M219.4 52.9l-.5-1.6l1.1 1.2l-1.1 .6l-.9 1.1l1.2 1l-.3 .5l.6 .4M194.8 69l.5-1.7l-.9-1.4l-1.2-1.1l-.5-1.4l-1 .6l-.8 1.4l-1.4 .5M221.6 93.3l1.1-1.1l-1.3 1.2l-.8 1.3l-1.1-.6l-1.4 .4l-1.4 .2l-1.1-.3M230.3 77.9l1.5 .5l.4 .2l-.3-.1l-1.5-.8l-1-.6l-.5 1.5l-.3 .9M181.9 94.4l1.7-.6l1.6 .5l1.3 .2l1.7 .3l1.6-.8l1.5-.9l.7-1.6M193.6 79.4l-1.5 .1l-1.4 1.1l-.7 1.3l.6 1l.1-1.1l.4-1.7M225.9 74.2l-.1 .5l1.1-1.3l-.9-1.2l-1.7-.5l-1.2-.3l-1.3 .6l-.3-1.3M237.4 93.9l-1.5 .8l-1.6-.4l0 .4l-.5-.8l-.6-.1M196 75l-.9-.5l-1.5 .9l-1.3 .7l-.9 .9l-1.2 .6l-1.5 1l1.2 1.1M194.7 90.7l1.6-.7l-1.3 .4l-.2 1.1M221.3 44l-1.2 .3l-1.5-.4l-.6 1l-1.6 .3l-1.6 .2l.1 .8M203.5 69l.7-1.3l.4-1.3l1.1-.7l.9-.6l-.2 0l-1.5-.4l-1.5 .5M204.7 73.3l-.9 .5l-.9 1.4l-1.2 0l.9 1.4l.6 1.5l-.6 1.6l1.6 .1M220.2 56.1l1.5 .6l-.2 .8l.4 .3l1.8-.1l1.1 .2l1.3-.2l1.2 .5M224.1 67.3l0 .4l-.1-.8l.7 .4l-.4 1.4l1.1 1.1l1.7-.4l1.6 .2M214.4 73.5l-.8 .3l-1.5 .5l.7 .8l-.2-.3l-.7 1l-1.4 .9l-1.7 .3M212.4 61.6l-.7-1.5l-1.1-1l-.9-1.4l1 1.2l.9 .7l.1 1.6l-.7 .3M235.9 88.1l-1.6-.5l-.1 1.7l0 1.7l-.5 1.5l.3 1.4l-.6 .2M229.8 78.7l-.2 1l-1.1 1.3l.2-.2l.3-1.6l.7-1.4l-.2-1.4l.6-1.5M227.1 68.6l.2 1l.7 0l-.2-1.1l.6-1.4l.6 0l1.5-.4l.9-.9M224.1 96.7l.4 1.6l1.6 .2l.8 .5l-.2-1.7l.7-1.5l0-1.6l1.2-1.2M219.1 91.9l-.7-.7l.7-1.6l-.1-1.5l-.8-.6l-.8 .1l-.4 .1l-.8 .8M192.2 88.9l-.5-.3l-.2-.6l.1-1.5l-.7-1.5l-.4-1.6l.6-1.6l0-.5M224.5 87.3l1.6 .7l1.8 0l.4-1.7l1.6-.4l1.3-.9l1.1-1.3l1.7-.2M205.5 62.8l0-1.1l.1-.2l-1.1-.5l-1.4-.4l-1.3 1.2l-1.4-.4l-.7 1M228 43.8l-1.2 0l-.6-.9l-.8-.8l.7-1.1l-.9-1.1l-.8 1.5M202.8 81.5l-1.7-.1l-.7-1.3l-1.2-.4l-.3-1.4l.8-1.2l.1-1.3M211 54.5l-1.3 1.1l-1.4-.3l-1.6-.3l.6-1.2l.6-1.3l1.3-.9l1.4 .9M196.3 85.7l1.4-.7l.8-.6l1.5-.2l1.7 0l1.5 .8l.3 1.5l1.4 .5M217.6 50.4l-.9 1.4l-1.6 .3l-1.1 .2l-.6 1.2l1 .2l.9 1l.1 .7M192.6 77.9l-.5-.7l-1.4 .8l-1.1 1.2l.1 1.4l-.6 1.6l1.6-.5l1.4-1.1M223.9 98.9l-.4 1.6l.3-.8l-.7-1.4l1.6-.5l.9-1l1.5-.8l.3-1.6M204.1 69.6l1.7 .2l1.5-.6l1.2 1.1l.1 .9l-1.1-.3l0-.6l1.2-.1M210.3 71.8l-.1 .2l.3-.2l-.4-.1l0 1.3l-.8-1.1M205.6 93.4l1.3 .6l-.5 1.6l-.2 1.6l-.2 1.7l-.1 1.3l-1.5 .8M236.3 41.9l.6-.9l-.1 1.6l.3 1.6l-.1 1.6l1.4 .8l1.4 .7M211.5 67.6l-.6 .3l-.6 .2l.9 .8l-.2 .6l-.9 .7l-.4 1.6l.1 1.5M218.7 67.6l-1.3-.7l-1.2 1.1l-.1 1.5l-1.4 .7l.1 1l0 1.2l.7 1.5M200.3 55.7l-.2 1.6l-.8 1.5l-1.7 .6l-1.5-.7l-1.4 1l-1.8 .1M214 97.9l-.5-1.1l.3-.5l.5 .4l-.4 1.4M192.9 85.8l1.7 .1l1.2-.7l1.3-1.1l1-1.2l0-.9l-.5-1.2l.1-.6M186.9 78.8l1.4-.5l.3 1.6l.6 .8l.7 1.4l1.5 .4l.7 1.1M219.7 89.1l.9 1.1l1.4 .9l1.7 .5l1 .4l-1.6-.7l-1.5-.9l-.5-.3M210.7 48.5l1.5 .7l-.2 1.6l.4 1.2l.4 1l-1.5 .6l-1 .7M228.9 50.4l-1.3-1l1.5-.2l-.2-1.7l-.6-1.3l.4-.9l.8-1.5l-1.1 .4M220.5 97.1l-1.3 .1l-1-.3l-1.6-.2l-1.5-.1l-1.8-.1l-.3-1.6l.1-.2M211.2 83l-.1 .7l-.1-1.5l-.4-1.6l.6-1.6l1.6-.3l1.5-.2l.5 .7M197.6 45.3l-1.6 .3l-1.2-1.1l-.6-1.5l-.7-1.2l1.1-1.2l-.4 1M232.5 84.7l-.2 1.2l1.7 .6l-.9-.5l-.2-1.7l-.8-1.4l-1.5-.9M220.4 55.9l-1.4 0l-.8 .9l-1.2-.6l-.5-1.4l.1-1.6l-.6-.6l1 .6M203.9 76.6l-1.7-.2l-1.1 .7l-.5-.5l1 .8l-.1-.2l.1-.4l1.3 .4M210.2 60.2l-1.1 1.4l-.7 1.5l-1.1 1.1l-.7-1.3l.2-1.7l-1-1.1l-.1-1.1M217.9 93.8l-.1-1.1l-1.1-1l-1.3 .1l-1.3 .5l-.5 1.2l-1.2-.1l-1.4 .4M224.9 57.3l-1.1 .9l-1.4 .3l.2 1.5l-.8 1.5l-.4 1.7l-.7 1l-1.4-1M185.1 83.2l.3 .8l1.7-.2l1.8 .1l1 .4l-1.5 .7l-1.8 .2l-1.6 .3M229.3 79.5l.1-1.6l-.8-1.4l.3-.8l-.7-1.1l.8-.9l-1.1-.9l-1.4-.8M200.2 99.3l.2-.1l1-1.4l.6-1.5l.6-1.1l1.5 .3l1.4-1.2l.3-.5M188.7 56.3l-.7-1.4l.5-.5l1.6-.8l1.7-.2l-.1 .5l.6 1.1l1.6 .1M209.7 91.5l.6-1.6l-.8 0l-.8-1.3l1.1-1.3l1.2-.1l.4 1.6l1.7-.4M191 77.9l-.9 1l-1.4-1l0-1.1l-1.2 .7l0 1.3l-.9 1.4l.3 1.4M218.4 57.4l1.1-1l-.4 0l.6-1.3l-.4-.6l-1.1-.4l.4 .2l1-.6M190.7 81.8l.7-.1l.3-1.6l-1.1-1.3l-1.6 .1l-.9 .2l.2 1.6l1.5-.2M228.7 80.9l0-.1l-1.1 1.1l0 1.7l-.1 1.7l-.1 1.6l1.5-.7l.3-1.6M221.1 85.7l.3-.1l.4-.3l.2 .9l.2 1.1l-.2-1.6l-.4-.5l-.1-1.6M237.9 43.5l-1.5 .7l-.1 1.7l-.4-.2l1.6 0l1.4-.6l.2 .7M212.2 72.9l.1 1.4l1.4-.9l.8 0l.2-.4l-.1 .7l1 1.3l.3 1.4M235.1 45.6l1.2 0l1 1.3l-.2 1.5l-.2 1.6l.6 1.2l-.1 .4l.8-1.4M186.7 82.2l.5 .2l.1 1.6l-.4 1.5l1.6-.2M199.2 64.9l-.2 1.1l.2 1.6l-.2 1.5l-1-.3l-.7-1.1l-.7-1.1l-.2-1.6M216 83l.7 .2l-.1 1.5l1 1.2l.3 .5l-.7-.4l.4-.6l.6 .4M223.7 94l.5-.6l-1.7-.5l-.8-1.3l-.7-.6l1 1.3l.2 1l-1 1.3M199.9 80.9l-.5 .6l-.3 .2l-.2-1.7l-1.7 .1l-1.4-.4l-.4 1.5l1.7 .5M209 80.4l-.8-.9l-1.3-.9l-1.6-.6l-1.3 .4l-.7 1.6l-1.5 .8l-1.7-.2M227.4 89.8l.1-1.4l.2-1.6l-.8-1.5l1.2 .5l-.1-.9l-.6 1.5l-.5 .4M187.4 50.9l-1.6 .3l-1.3-.2l1.2-.6l1.1-.4l-.4-.3l.3-.8l.4 1.6M230.8 53.9l1.3-.9l.8 .5l.4-1.4l.1-.4l-.2-1.2l-1.2 .8M200.2 67.6l-1.1-.1l-1.6 0l-1.4-.6l-.8-.6l-1.1-.8l1-.7l1.6 .1M213 53.8l.9 .3l1.6-.6l1.4 .7l-.7 .6l.4 .5l.4 .4l.8 .4M184.9 75l1.4 .9l1.2 .7l1.6 .7l.5 1.5l-1.4 .9l-1.5 .8M224 52.6l-.7-.6l-.4-1.2l.3-1.2l.8-1.1l1.2-.7l1.5-.1l-.2-.3M218.5 76.9l-.1 1.3l-.3 .3l.2-.7l0 .3l-.4-.1l-1.3-1M198.9 83.6l.2 1.5l1.3-.5l-.2 1.2l-1.6 .2l-1.7 .5l-.4 .1l.8 .5M205.4 79.9l.8-.8l-.6-1.3l1.1-1.1l1.4 .8l-.9 1.2l1.1 1.2l.1 1.7M204.1 96.3l0 .3l-.1-1.7l-.5-1.4l1.4-1.2l-.5-1l.5-1l.6-.2M210.1 93.4l-.6 1.6l0 .3l-1.8 .3l-1.7 .2l.9-1.3l.5-1.6l.7-1.5M217.3 74.6l-1.2-.1l-1.4-.3l-1.5-.2l-1.4-.8l-1.3-1.1l-1.4-.8l-.6-.8M192.1 68.3l.6-1.4l1.1-.9l.5-1.3l-.8-.9l-1-1.3l-1.5 .8l-1.2 1.2M187.7 52.5l-1.4 1l-.2-.7l-.4 .6l-1.1-1l-1.2-.9l-.6-1.1M197.3 97.3l.6-1.3l.7-1.4l-1.4-.6l-.6-.6l-.8-1.4l.4-1l1.7-.4M202.7 66l-.3 1.6l-1.3 .7l1.2-.8l.6-1.5l.8-1.4l1.1-1.2l1.6-.2M223.9 79.2l-.1 .7l.3-.2l-1.2-1.1l.8-.8l.4-1.2l-.5-1.1l1.7-.4M207.8 71.5l1-1l1.2-.3l-1.8-.1l1.6 .5l1.6 .8l.1 .6l.2 1.6M211 69.2l-.3 .9l0 1.6l-.5 1.6l1.1 .6l-.6 .1l-1.4 .1l-.9-1.3M221.7 92.5l-1.2 1.2l-1 1.3l-.5 .5l1.5 .4l.8-.1l.9-1.4M196.7 66.5l1.3-1l1.3-.9l1.6-.4l1.7-.5l1.6 .1l1.2-.8l1.4-.3M232.4 51.3l-1-.5l-.7-1.4l-1.2-1.1l-1-.5l-.9 .4l-.4-1.3l-.8-1.4M230.5 82.5l1.1 1.2l1.4 .9l1.5 .1l0-1.7l-1.2-.4l.4-1.6l1.2-.3M203.8 82.7l-.5 1.5l.7 1.5l-1.7 .2l-.5 0l-.3 .7l1.1 .8l.9 1.3M199.2 91.5l.7-.6l1-.8l.2-.3l-.8-.2l0 1.2l-.2 .4l0-.4M181 72.4l.2 .3l.8 1l1.2 1.2l-.7 1.5l.7 1.5l.8 .6l1.7-.1M181.5 72l1.5-.1l.5-1.7l.3-1.6l.1-1.4l.5-.9l.4-.1l.1-.5M199.9 89.3l-1-1.2l-.8-1.4l-1.2 .1l-1.1-.3l-.4-.5l-.9 1.1l.9 .9M228 82.4l-.8-.7l-.8 0l-1.3 .3l-1.1-.4l-1.5-.8l-.5 1.6l-1.5 .7M187.8 79.3l-.8-.4l.6-.2l1-.5l.8-.5l.7 .2l1.1 1l1.6 .4M218.6 99.9l-.7-.7l-1.5-.3l.3 1.1l-1-.1l0 .5l1.1 .2M199.2 85.2l1.1 1l.3 1.1l-1 1.3l-.5 .4l1.1 1.2l0 1.7l.6 1.5M205.6 72l1.5 0l.4-1.4l.7 1.3l-.3 1.5l1 1.2l-.2 .4l.1-.3M194.3 60.6l.8 .7l-.1 1.1l-.5 .7l-1.3 1.1l-.6-.6l1-1l.5-1.4M186.6 79.3l0 1.2l-.9 .1l-1.7 .2l-.3-.8l-.3-1.6l-.4-1.2l-.8-.7M209.3 82.6l-.1 0l.3 1l-.1 .3l-1-.4l-.2 .6l.8 1.4l-1.7 .2M224.5 56.7l.2-.9l-1-.8l-1.1-.4l-.7 .2l-.9 .6l0 .7l-.3-.2M208.4 74.2l-1-.1l-1.3-1.1l.1-1.6l-1.1 .6l-.6-.3l-.7-.7l0-1.6M239 78.4l-.4-1.6l-1.2-.8l-1.6-.2l1.1-.2l-.1-.8l1.2-1.1M192.8 86.2l1.1-1.3l1.2-1.1l.7-1.5l1.4-1l0-1.1l0-1.6l.1-1M202.2 76.7l-.4 1.6l.3 1.6l-.1 1.1l-.1 1.2l-.8 1l-.5-.1l.2-1.5M188 60.7l1.7 .2l1.3 .8l.6-.2l1-1.1l1.1 .2l1.6-.1l1.7-.4M203.4 63.4l1.3-1.1l.6-1.5l-1.7 .2l-1.7-.4l-1.3-1l-.7-1.4l-1-1.3M182.8 56.7l1.7-.3l-.1-.9l-1.5-.2l.6 1.1l-.8 .9l1.5-.8M204.6 42.5l1-.5l-.1 1.7l-.3 .2l1.7 .2l.9 .2l.8-.2M220.8 56.9l.7 0l.7 1.1l0 .2l-.9-.2l.9 .4l1.6 .3l.1 1.5M230.1 42.1l-.7-.2l1.6-.1l.1 1.3l.3-.6l.6-1.1l-1.6 .2M196.1 54.4l-.8 1.5l-.5 1.5l-1 .6l-.4-.9l-1.2-.9l1.5-.9l1.6 .2M230.8 77.2l-1.4-.6l-1.4 0l-.4-.7l-.2-.9l1.3 .2l.6 .8l-.8 1.5M195.8 66l-.2 .9l-.6 1.1l-1.4 1.1l-.9 1.4l-.9 1.5l-1.4-.4l.1-1.6M228.4 93.5l-.6-1.5l-.3-1.6l1.2-.5l1.4-.2l1-.7l1.3-.6l-.2-.7M228.9 67.7l.3 1.5l1.5 .3l-.9 1.5l-.1-1.6l1.2-.7l-1.6 .4l-1.3-1M210.7 80.1l-1.1-1.2l.1 .5l-.9-.5l-1.7-.4l-1.6-.3l-.2-.3l.1 1.4M209.9 86.7l-.2 1.1l-1.2 .3l-.3 .8l1.5 .2l-1.6 .5l-1.2 .4l-1.1-.5M218.8 86.4l-.8-.7l-.4-1.5l-1.3-.4l-1.7 .3l-1.1 0l-1.2 1.1l1.6-.6M238.6 79.1l-1.2-.4l-.9 .2l1.7-.2l-1.5-.1l.1 1.7l-.4 1.6M205.7 65.9l-1-.3l-.1-.2l.5 .5l.9-.1l-.3-.3l.1-1.7l1.4-.8M228.6 82.1l.5-.5l.3-1.1l1.7-.6l1.2 .8l1.2-.4l-1.6-.5M183.3 79.5l.6-1.6l1.6-.4l1.2-.5l1.6 .3l1.5-.7l.9 .8l-.2 .9M187 46.4l.2 1.2l1.5-.7l1.1 .1l1.3 .5l1.1 .6l-.2-1.4M220.8 69.6l-1.3 1.1l-.8 .7l-.3 .3l.8-1l-.8 .3l.8 1.2l.9-.3M227.1 67.7l1.3-.3l1.3-.8l.3-.1l-1 .4l.1-.2l-.8-.2M228 55.8l-.4-.9l1.5 .2l.6-1.2l1.1-1.3l1.5-.8l-1.7-.3l-1.1 .2M236.7 79.6l-.5 1.6l0 1.6l.3 1.4l-.3 1.6M207.5 56.4l-.5 1.5l-1.6 .6l-1.1-.5l1.7-.6l1.5 .5l1.5 .9l-.2 1M210.5 60.3l1.4-.5l.3-1.1l-.9-1.4l-1.7-.2l-1.4-.8l-1.1-1.1l-1.3 1M197.6 70.1l.1-.8l-.8-.6l-1.5 0l.5 .8l.6 .5l-.3-.8l-.9-1.2M218.3 56.3l-.3 .2l-.3-1.1l-.6-.4l-1 .8l-1.1-.5l-.7 1.3M212.6 65l-1.5 .9l-1.5 .7l.7-.3l-.7 .8l1.4 .9l1-1.2l.8-1.3M215.4 74.1l1.6-.8l0-1.5l-.1-1.5l-.7-1.6l-.4-1.5l.6-.4l1.7 .1M234.3 60l1.6 0l1.2 .9l.9 1.2l1 .9l1.3 .1l-.5 .5M201.2 43.1l1.3 .9l1.6-.4l1.1-1.2l-.9 .6l-1 1.3l-1.5 .6M199.8 78.1l-.6 1.5l-.7 1.3l0-1.3l-.9 1l-1.4 .6l-1.6 0l-.6 1.2M208.7 62.2l-.9 .7l-1.6 .2l-.6-.6l-.9 1.4l.6 .1l.1 1.2l1 .9M179.4 64l.9 1.4l-.2 1.5l-.9 .8l1.6 .8l1.4 .4l1.6-.1l1.6-.1M234.6 82.5l-.9-1.3l.8 1.4l-1.7 0l-.2-.6l-1.7-.3M188.7 63.8l1.2-.2l-1.1 1.3l-.1-.1l-1.1 0l1.1-1.2l.9-1M200.4 89.1l1.6 .2l.4-1.6l1.4 .9l1.3-.2l-.4-.9l-1.1 1.3l-1.5-.3M195.7 87.5l-1 1.4l-1.2 1.3l-1.3 .6l-1.6 .5l-1.1 .7l-.6 1.6l-1 1.3M216.2 80.2l.6 1.2l.7 1.1l-1.4 .5l.1 1.2l-.8 .1l-1.7 .6l.5-1.4M231.3 52.4l-1 1.2l-.7 1.3l-.2 1.3l1.5-.7l-.5-1l.1-1.3l0-1.2"/><path stroke="#7a3aa0" d="M210.3 62.8l1.2 .3l1.7-.4l1.5 .6l-.6-1.4l.8-1.5l-.6-.6l0-.8M188.1 55.8l.4 .1l.5-.7l-1.4-.4l1.7 0M199.6 60l-.3 1.6l.8 .6l-.8-1.5l-.2-.8l0 1.5l-.2-.4M217.5 58.9l-.5 1.2l-1.2 1.1l-1 0l.2 1.6l.9 1.2l.3 .9l1.2 .1M201.3 57.2l-.1 1.6l.3 .4l.2-.3l1.6-.4l-.9 1.4l-.9 1M203.6 69.6l-.5 .8l.1 0l-.9-.7l.2-1.7l0-1.4l.1-.3l1.4-.3M195.1 70.8l.6 .5l-.8-.7l-.6-1.2l.7-1.5l1.1-1l1.1 .5l.9-1.5M197.2 55.4l-.8 1.5l1.2 1.2l.5-.1l.9-.6l-1.1 1.2l-.5 1.6l.4 1.5M204.1 59.9l0-1l-.9-1.1l-.9-1.1l-1.2 1.1l.8-.6l-.4-1l.4 1.3M192.1 47.9l1.4 .1l1.6 .5l1.7 .3l-1.3 .8l-.8 1.2l-1.5 .4l-1.4 .4M197.3 49.8l-1.8 .2l-1.7 .2l.6 .3l-.1-.4l-.9 .1M200.2 65.2l.3 1.6l.9 0l.2 .4l-.9 .4l.6 1l.3 .8l.7 1.4M215 66.6l.6 .7l-.1 1.3l1.3 .6l.2-1.5l-.8-1.3l-1.4-.9l-.7-1.4M195.6 57.3l.3 1.3l1.1 .1l1.7 .1l1.6 .6l1.4-.1l1.4-1M195.5 53.1l-1.5-.6l1-1.3l1.1-1.1l1.5-.8l1.7 .1l.8-1.3l1.2-1.1M206.2 51l1.2 .8l-1.7 .3l-.5-1.5l1.1-.5l.5 .8l-.2-1.6l1.5-.5M196.1 62.4l1.3 .3l1.3 .4l1.3 .7l-.8 .8l.4-.1l.8 .3l-.5 .4M200.2 52.3l-1.3-.9l-.6-1.1l-.2-1.3l.6-1.4l1-1.4l1.5-.7l.5 1.3M208.1 62.8l.5 .3l.6 1.4l.2 1.6l.7 1.5l.6 .5l1.7-.2l1.7-.3M214.2 62.9l.9-.9l.9 .8l1.8-.1l.7-1.5l-.5-1.6l1.2-1.3l1.2-1.2M191 60.1l1.4 .4l1.5 .5l-.6 1.4l-1.3 1.1l-1.6 .5l-1.4 .4M193.4 63.9l.2-.6l-1.3-.4l1 1.2l.6 1.5l.9 .8l.6-1.5l.9-1M202.3 62.6l.4 1.4l1.2 .8l.5 1l.1 .8l-.6 1.1l.7 1.1l.1 1.1M202.5 66l.6 1.2l1-.9l1.6-.3l.3-.5l-1.6-.3l-1.6 .5l-1.5 0M193.4 53.4l.6-.2l-1 .7l-.9 1.3l-1.6-.2l-1.6 .5l-.1 1.1l-.6 .7M203.8 62.9l1.4-.5l1.6-.6l1.2 .1l-.9-.3l-.6 .4l-1.3 1.2l-1.7 0M202.8 49.6l-.2 .8l-.1 1l1 .1l1.7-.1l0-1.7l1.6 0l1.2-1.2M207.5 50.5l-.4 .9l-1.3 .3l-1.2-1l-1.4 1l-1.2-1.2l-1-.8l-1.6 .2M221.4 58.3l-.5-1.5l-1-1.3l1.3 .9l1.7-.3M190.1 60.8l-1-.4l.4 1.1l.8 .8l.1 1.3l.3 .7l-.6-1.5l.3 0M190.7 69.9l.4-1.6l-.9-1l-.5-1.5l-.6-1.4l1.3-1.1l1.5-.6l1.7-.1M201.5 72.9l-1.2-.2l-.7-1.2l1.7 .1l.9 1.4l.7 1.2l.7 1.3l-1.1 .7M198 57.6l.3 .7l1.5-.1l-.5-1.4l-.4-1.4l-.2-1.6l-1.6 .6l0 1.5M210.6 53.8l-.2 1.7l.2 1.2l1.7 0l1.5 .6l-1.1-1.2l-1.5-.5l-.5-1.6M208.4 57l-.8-1.3l1-1.3l1.3 0l1 1.1l.9-.6l.8 1l-1.3 .9M193.4 53.2l-.8 1.1l-.2 1.6l-.5 1.6l-1 1.3l-1.1-1.1l-.6 .5l-.8-1M189.8 60.2l1.4-.5l1.1 0l-1.3 .9l-.8 1.4l1.6-.5l1.2-1l0-1M205.1 55.1l-1.6 .4l-1.3 .3l1.4-.9l0 1.6l-.6 1.1l.1 1.5M191.6 59.5l-.8 .2l.3 .3l.6-1.6l.8-1.4l-1.7-.3l-1 .5l1-.7M201.1 62.6l.9-.4l-.1-.2l-1.6-.3l.1-1.6l-.7-1.5l-1.3-.9l.1-1.3M198.5 67l-.5 1.1l1.2-1l.8 .4l1.3-1.1l1.4 0l1.2-.4M191.5 66.5l-.4 1.1l-.7 .4l-.4-.7l-.3-1.2l1.6-.2l.2-1.3l.2-.6M204.9 63.5l-1.1 1.2l-1.5 .7l.3 1.3l-1.1 1.3l-1.7 0l.1-1.4l-.6 1.5M214.8 52.9l1.2 0l1 1.3l.7-1.6l1.2-1.2l.9 0l1.2-.3l1 0M194.6 58.2l-.2-.7l1-.9l.1-1.6l-.9-1.2l-.3-1.5l-1.4-.5l-1.5-.6M204 66.2l1.3-.3l.9-1.5l1.5-.9l-1.2-.2l-.8-.6l1.1-1l.1-1.5M206.2 58.8l-1.4-.2l.8-1l.5-1.6l.1 1l-.7 .7l-.6-1.3l-.1-1.6M198.6 73.5l1 1.3l-.6-.8l-.8-1.5l-.8-1.4l-1.5-.6l-.4 1.5l-1.4 1.1"/><path stroke="#1f9a80" d="M229.2 77.3l-.9 1.4l-1.2 1.1l-1.6 .1l-1.7 .2l-.2-.6l.3-1.6l.2-1.6M232.7 69.8l.9-.7l1.2-.2l.3 .2l.3 1.3l-.5 1.4l.5 1l1.1 0M236.9 67l.3-1.1l-.7-1.3l-1.7-.2l-.2-1.6l1.6-.4M224.4 57.3l-1.2-.9l-.9-.7l-1.4-.8l-1.3-1l-.2-1.6l-.5-1l-1.3 0M218.2 56.9l.8-.7l1.1-.6l1 .5l-1.5 .9l-1.3-.5l-.8 .3l.4 .3M234.9 52.4l-1.4 .7l0 1.3l-.5 1.5l-1.7 .2l-1.5 .4l-1.3-.9l-1.3-.3M225.7 57l.6-.3l1.2-1.2l.4-1.2l1-1.2l1.4-.3l.7-1l-.5-1M232.6 63.4l-1.5-.5l-.2 .6l-.4-.2l.3-.4l-.2-1.6l-1.5 0l-1.5 .6M240.2 42.6l.2-1.3l-.9 1.4l-.6 1.4l.1 .9l-.9 1.1l-1.1 .9M227 59l.1-1.5l-.1-1.4l-1.5 0l.2-1.3l-.8 0l-.3-.8l.5-.5M226.6 63.5l-1.3 .2l-1.1 1l.7 .4l1.2 .6l1.1-.4l-.1 1.1M224.9 55.3l.3 1.2l-1 .2l-1.4-.4l-1.3-.6l1.1 0l1.2-.5l1.6 .2M236 63.5l.8-.8l0-1.2l-.4-1.2l-1.6-.4l.4 1.4l1.4 .7l1.2 .4M237.8 53.4l-1.7-.1l-1.4-.7l-.3 1.7l1.4 .9l1.3 1l-.3 .9M236.5 73.1l-1.4-.3l-1.6 .1l-1.5-.3l.3-1.7l.6 .5l.6 .4M224.7 64.3l.6-.6l1.4-.2l1.3-.6l1.1-.3l-.4 1.3l1.1 1.2l1.6 0M235 46.8l1.6 .2l1.5 .6l.6 .4l0 1l-.9 .5l-1.1-.6l-.7-.2M235.3 63.4l-.6-.4l-1.2-.9l-.6-.5l.4-1.7l.8-1.4l-.1-1.4l-.4-1.4M228.5 57.2l1.5 .1l-.3 .1l-1.3-1l-1.1-1.2l-1-.9l-.7-1.5l-1.1-1.2M234.8 57.1l-.2 1.4l1.1 1.3l1.2-1l1.2-1l.3-1.5l1.2-1l.8 .6M232 67.8l-1.3 .9l-1.3 1.1l-.8 1.3l-1.2 1.1l-1.4-.3l-1.6 .4l-1.2 0M225.8 49.5l-1.2 .2l-1.3 .5l.9-1.2l.5-1.2l.9-.9l1.3-.9l.6-1.4M233.5 68.6l1.2-.3l1.5-.4l-1.1-.4l0-1.4l-1.4-1l-.3 .8M227.5 72.4l-.8 .2l-1.1 .9l-1.2 .1l-1.4-.8l-1.3-.5l-1.3 .7l1 1M234.5 53.9l1.4-.2l1.4-.8l1.6-.4l-.8 1.5l-1.7 .2M224.3 55.2l1.1-1.1l1.1-.6l-.3-.4l1 .3l.8-1.4l.6-.6l1.5-.8M238.8 59.4l-1.1-.5l.3 .9l1.2 .2l-.2 1.2l-1.3 1l-1.5 .6l1 1.2M226.3 51l-1.5 .6l-.8-1.1l-1.4-.6l1.3 .5l1.2 .2l.1-1.5M235.7 79.5M230.5 75.3l1.6 .4l-.7 .7l.1-1l-1.4 .4l-.2 1.7l-.8 1.4l-.8 1M231.7 60.6l.2 1.6l-.8 1l.3-1.6l-1.1-1.3l.8-1.5l1.3-.8l1.4 .9M231.4 60l.9-.6l-.5-.3l.4 1.1l-.4 1l1 .7l-.9-1.4l1.1-.8M235.4 74.3l-1.2 1.2l-1.3 .4l-1.3-1l-1-1l0-1.2l.4-1l0-.7M238 61.9l.7 1.5l-1.1 .1l-.1-1.6l-.2-1.6l-.4-.6l.5-1.2M228.4 55.7l.1 1.7l-.1 1.6l.3-.4l-.6-1.1l-1.1-1.2l-.6-1.5l-.9-1.1M221.1 63l-.8-1.4l-1.5-.5l-.3 .2l1.5-.1l1.5-.8l.8-.5l.2-.2M224.3 58l1.1-.5l.6-1.2l1.6-.7l1.6-.2l.5-.4l-.5-.4l1-1.4M237.2 59.9l0-1.2l-.6-1.1l.2-1l-.4-1.6l-.8-1l-1.1-1.1l.9 1.4M222.9 65.3l-1.2-1.1l-.5-1.1l.2 .3l.7 .5l.2-.1l.7-.3l1.4-.7M232.1 55.8l-.7 .8l-.2 1.6l0 1.7l.5 1.4l-.7 1.5l1.4 .5l.9-.3M219.7 60.4l-.2 .5l-.8 1.1l-1.3 .4l.4-1.5l-.1-1.6l-.5-1.1l-.4 1.3M238.4 51.1l-1.3-1l-.9 1.5l-1.6 .5l-1 .8l-1.3 1M214.5 43.1l.6 .5l-.6 1.2l-.8 1.5l1-.1l1.4-1l.2-1.2l.9-1.1M239.4 53.1l-.1 .7l.3 .6l-.9-.1l-1.4-.3l-.3-.5l-.5-1l-1.4 .2M235.9 44.3l.7 1.2l.9-.5l.9 .6l-.6 .9l-.4 1.1l-.4 .6l-.6 .2M234.1 54.2l.7 1.2l1 1.1l-.6-.4l-.8 .5l-.3 1.2l-.2 .9M232.4 54.4l-.5-.6l.5-.7l1.6 .4l-.1 .8l-.4 .7l-.6 .9l1.6-.2M237.4 49.2l.1-1.7l-1.4 1l-1.7 .2l-1.7-.3l-.9 1.4l-.8 .8M238.1 40.1M231 60.3l-1.3 1.2l-1.1 1.3l-1.6-.1l-.6-.3l1.4-.9l.6-1.2l.1-1.6M230.7 50.2l0 1.5l-.1-1.6l1.2 1.2M228.5 59l1.1 .2l-.4 1l-.4-.8l.1-.6l.9-1.3l-.3-1.3l-1 .2M223.1 69.4l.7-.1l.3 1l-.2 .9l.4-1.6l-1.7-.2l-1.3 .2l-1 .3M234.4 47.6l1.4-.2l.6-1.1l-.4-1.6l.3-1.6M234.7 65.4l.4 1.5l-.8 1.5l-.3 1.6l-.2 .1l-1.2 1.1l-1.4 .2l1.1-.2M227.4 50.1l-1 .1l.1-.3l.9-.4l.3 1l1.7 .2l-.1-.6l1 .7M223.3 55.9l-.3 1.6l-.9 1.4l.4 1.6l1.6-.2l.3 .5l-.9 1.4l-.1 .3M218.1 58.8l1.5 .6l1.7 .2l.6-.4l.6-1.4l-.6 .3l-.7 1.5l-1.7 .6M236.2 62.2l1.3 1l.4 1.2l1.4-.1l-.8 1.4l-.4 .1l.5 1.2M220.7 63.9l-.1-1.7l0 .5l.3-.3l.2-1l0-1.4l-.1-.5l-.7 1.3M234.7 52l-.2-1.3l0-1.4l-.1-1.6l-.5-1.2l1.1-.7l0-1.5l-.1 .3M224.7 73.9l-1.1-.1l-.2-1l1.2-.2l.3 .3l1.7-.4l.6 1.5l-.5 1.5M234.6 71.5l.7 1.4l.8 1.4l.7 1.5l-1.2 1l-1.5 .4l-.9 1.5l-1.1 .6M227.7 53.3l.6 .2l1.2 1.1l-.3 1.7l-.3 1.5l1.2 1.1l1.5-.6l1.2-1M229.4 66.6l1.6 0l0-1.7l-.3-1.1l1.5-.8l1.5-.8l1.6-.6M235.9 43.7l-.7 .4l.5 1.5l.5 1.4l1.1 1l.2 1.7l.7 1.3l.7 1.1M232.3 44l-.5 .2l.8-1.5l1.3-1l1.5-.6l.6-1l-1.2-.8M233.3 69l-.9-.1l-.5-.3l-.6 1.2l-1.5 .8l-1.4-.2l.6-.3l1.2 .5M232.7 67.9l-1.3-.7l-1.3-.8l1.1-1.2l.2-.9l.4-.7l.1-1l-.9-.2M232.6 73.8l-1.4 .3l-1.7 0l-1.1 1.1l-.2 .3l.9-.9l1.4-.3l1.4-.5M233.6 48.8l1.4 .1l-1.7 .3l-.8 1.1l.4-1.4l1-1.1l-1.4 .1M232.8 62.9l1.5-.7l1.6-.6l-.2 1.7l0 1.4l1 1.3l1.2 1.1M222.4 60.2l1.4 .8l1.4 .4l.4 1.6l1.1 1.2l.7 .8l.3-.6l-.6 .2M227.2 63.2l.2-1.7l.1 1.5l-.1 1.6l-.6 1.4l1 .6l1.4 .8l1.7-.2M222.1 64.1l-.3 .4l-.1 1.2l-.8 1.5l-1.5 .7l-.9 .7l-1.4-.7l.2-.7M226.4 63.8l-.2-1.2l-1.5-.9l0-.9l-.6-.9l0-1.2l1-.8l1.6 .5M239.4 40l-.7 1.6l-.7 .2l.9 .8l.4 .6l-.4 1.6l-.4 1.3M225.3 63.1l-.6-1l-.1-.5l-1.5-.1l-1.1 .3l1.1 1.1l-.7 1.2l-1.4 1M220.2 65l-.6-1l-.7-1.4l-1.8 0l-.3-1.2l-.7-1.1M237.6 61l-.4-1.5l-.7-1.3l-1.1-1.3l-1.6-.3l.3-1.4l.4-1.6M237 58.3l.2 1.4l.5 .1l-1 .8l1.5 .4l1.1 .5"/><path stroke="#c02424" d="M219 46.9l-1.3-.8l-.3-1.3l0-1.6l1.4-.2l.7-.9l-1.2 1M219.1 83l-.9-1.3l-.1 0l-.4-.7l-1.2-.9l-1.2-.8l-.4-1.1l.4-.4M196.3 65l-.7 1.3l-1.7 .3l-1.5-.5l-.7-1.1l1.3 .2l-.4 1l.9-.4M239.1 52l.5-.5l-.8-.2l-.6 0l-1.4 .6l-.9 .1l-1.3 1l-1-.6M213.2 80.8l.2-1.6l1.5-.8l1.5 0l-.2-.6l0-.7l-.6 .5l-.1-1.5M212 50.9l-.7 0l-1.5-.7l-1.5-.6l.2-1.7l-.8-.7l.4-1.1l-.1-.5M193.6 95.8l1.6-.1l1.4-.4l1.1-1.3l.6-.3l-.1-1.3l-.2-1.1l1.3-.8M231.1 44.2l.9 1.2l0 1.4l-1.5 .6l-1.5-.6M238.2 91.8l0-.9l-.1-1.4l.3-1.6l1.1 .7l-1.5 0l-.2-1.3M210.5 88.4l.9-.6l1.6 .1l1.6 .3l1.7 0l.9 1.3l1.4-.5l1.1 .3M228.7 93.1l1.6 .4l1.5-.3l1.4-.4l.7 .5l1.2 .6l1.4 .9M220.1 66.6l.2-1.2l1.1-.5l1.1-1.3l0-1.6l-1.1 .7l-.6-1M237.8 50.6l-.4-.2l-1 1l-1.5 .6l-1.3 1l-.6 .2l.4 .4l-1.2 1.1M206.7 68.4l-1.8-.3l-1.7 .4l1.1-.9l1.1-1.4l.7-1.5l1.3-1.2l.7-.2M196 82.4l-.9-.4l-1.5-.3l-1.4 .3l.6 1.3l-.5 .3l-.3 1.2l-.2 1.4M214.5 69.6l.6-1.4l-.6-.6l.9-1.1l1.2-1.1l1.4-.5l1.3-.9l-.2-.1M195.5 87l.1 1.6l-.2 1.1l-.9 .4l-1.5-.6l-1.6-.2l.5-1.5l-.3 1.6M213.5 63.1l1.3-1.1l1.2-.6l.7-.7l1 .1l1 1.1l-1.2-.8l-1.3-.4M238.8 60.6l.1-1.4l-1.2-.5l-.9 .7l-.3-1.6l-1.1-1.2l-.8 .2l-.9-.4M235.2 89.8l-.1-.4l-.5 .6l-1.6-.3l1.1 .5l.7 1.5l-.1 1.5l-.4 1.6M229.9 84.1l.5 .2l.3 1.4l-.2 .9l-.2 1.2l.5 1l-.4 1.5l0 1.5M191.4 48.8l1.5 .2l1.1 1.3l1.3 1.1l1.3 1.1l.2 1.3l0-.4l-.9-.9M197.4 56.3l.1 1.4l-1.3-.2l-1.6 .6l-1.4 .6l-.8 1.3l-.6 1.2l-.3 1M195 89.8l.6 .5l-.9 1l.3 1.6l-1.2-.8l-1.3 .6l-1.7 .1M213 70.1l1.3-.7l1.3 .9l.1 1.6l.9 1.3l1.4 1l.8-.3l1-.6M234.1 42.7l1.6-.1l.5-1.5l.4-.8l.3-1.2l-.6 1.4l.3 1.5M228.7 60.9l-.3-1.7l-.3-1.6l.1-1.4l-1.2 .9l-1.2 .3l-1.1 1l-.3 1.2M230.3 67.5l1.5 .7l.1 1.6l-1.4 .3l-1 1.3l1.1 .6l-1 .7l-.5 1.6M185.3 101.6l.1-1.1l.4-.3l-.7-.8l.6-.9l0 1.1l.1 1.7M194.5 86.1l-1 0l-.7-.4l.1-.2l.4 1.1l.6 1.5l-.7 1.2l.8-.9M218 57.9l1.4 .4l.6 0l.1-.5l-.5-.5l-1.7 0l-.4-1.4l.7-1.4M209.2 83l-.9 1l-.3 1.6l-1 .9l-1.1 .8l-1.3 1.1l-1.5-.3l-1.1-1.3M184.9 65.2l.4-.7l-.6-1.5l1.2 .1l0-.2M231 94.8l-.5 1.6l.5 1.4l1.4-.9l1.4-1l-1.2-.6l-.4-1.5l-1.3-.9M188 77l-1.6-.3l.6 .5l1.4-.7l1.3-.4l1.3 .9l1.6-.1l-.7-.6M205.3 52l.5 0l1.2 .7l-.6 .4l-1.4 .4l-1.5 .6l-1.5 0l-1.5 .6M226.2 92.6l1 1.2l.4-1.6l.7-1l.1-1.6l.1-1l1.2 .3M199.1 84l.3 1.4l-.7-.5l-1.1-1l1-1l.6-1l.6-1.2l-.5-1.1M207.3 83.1l0 1.2l-1.7 .1l-.7 1.5l-1.4 1l-.5 1.6l1.4 1l1.3 1.1M182 65.3l.1-.1l.2-.1l1.7 .2l1-.4l1-1.2l1.1-1.2l1.1-1.1M205.2 54.5l1.3 1l-1.4-.8l-1.2 1.2l-1.4 1.1l-.2-.6l.6 0l.7-.1M229.5 41.1l1.3 .9l1.5 .2l.6 1.3l0 .8l-.6 .9l-.7 .3l-.8-1.4M182.1 76.7l1.1-1.1l.4-1.5l1-.6l-.4-1.4l0-1.3l-.4 .8M218.7 100.5l-1.4 .9l-1.3 .7l-.6-1.2l.5-1.7l1.6-.6l1.4 .1M216.9 64.2l-1.4-.5l-1.5-.6l-1.4 .2l-1.7 .3l-1.7 .3l-1.7 .3l-1.6 .8M179.9 79.2l.6 .9l.4-.7l-.2-.6l.1-1.7l-1-1.2M222.4 71l1.1-1.4l.7-1.5l-.6-.4l-.7 .9l.7 .3l.1 .3l-.4 1.4M233 77.7l1.5 0l0-1.5l-1.6-.1l.2 .2l.1 1.5l.5 .4l-1.2 .8M201.1 81.4l1.3-1l-.8-.9l-.8 .5l.6-.3l1.3-1.3l.4-1.6l-.7-1.5M235.2 67.7l-1.6-.5l-1.1-1.1l.6-1.6l-.7-.1l-.5 1.4l-1 1.2l-1.3 .8M220.6 53.6l-.7-1.4l.9-1.1l-.2-.5l-1.2-1.1l-.6-1.4l-1.4-.6l-1.1 .1M184.7 69.9l1.1-1.4l1.6 0l.2-1.5l-1.6 0l-.5 1.3l-1.6 .8l-.2 1.7M218.3 56.5l-.9 1.2l-.6 1l-.5 1.6l-.2 1.3l-.2 1.7l-1.1-.4l-1.1 .7M224.8 58.8l-.5-1.4l-.4-1.5l-1.5-.5l-.8 .4l1.1-1l.7 1.4l-1 0M206.4 64.8l-.7-1.3l0 1.5l1 1.3l1.2 1.1l1.7-.1l.5 1.3l.8-1.4M232.4 96l.2 1l.5 1.5l.4 1l-1 1.1l-.9 .8l-.4 1M222.5 55.8l1.2-.4l-.2 .4l.2 1.4l1.6 .4l.9 .3M222.7 69l-.2 1.6l.4 .6l1.4 .8l1 1l1.7-.5l1.6 .3l1.7-.4M194.6 43.5l1.2-.9l-.2 0l-.6-.5l-.2-.7l1.1-.3l.6-.9l-1.1-.6M216.1 89.4l1-.2l.7-1.5l-1.2-.8l-.6 0l1.4-1l.9-1.2l1.5-.2M214.4 84l.3 1l-.6 1.2l.7 1.4l.2 1.6l1.2 1.1l.9 .9l-.6 1.4M220.7 62.1l-1.2-.1l.6-1.4l0-.9l.4 .7l-1.4 .6l-1.3-.8l-.5-.5M208.9 58.9l.4-.9l-.4 1l-.9 1.5l.1-.3l.1-1.3l.3-1.6l1.4-.1M236.7 48l.9 1.2l.2 1.6l1.3-1.1l.9-1.4l-.7-1.4l.6-1.6l-1.4-.3M201.2 57.9l1.3 .5l1.2 .1l1.3 .5l1.5 .5l1.4-1l1.5-.9l.8-1.1"/><path stroke="#3a9a3a" d="M182.9 97.4l1.3-1.3l.8 1.4l-1 1.4l-.4 .8l-1.3 1l-1.7-.1M190.8 90l-1.6-.7l-.5 .3l1-.3l1.2 .1l1.7-.1l1.5 .6l.5 .8M187.4 92.3l.8-.4l1.6-.2l.2 .9l1.5-.3l.2 1.4l0 1.5l.2 1.4M180.7 100.8l1.2-.4l1.2-.2l.7-1l1.3 .1l1 .3l-.9-.2M185.1 96.7l1.4-.8l.3-.5l.4-.8l1.1-.7l-.3 0l-.8-.5l-1.4-.6M184.4 88.4l0 1.2l-.1 1.6l.7 1.2l-.3 1.6l-.8 1.2l-.9-.6M182.7 94.1l.6 1.5l.8 1l.7 1.2l.3 1.2l.1 1.5l.4-.4l-1.4 .2M184 90.9l.8-.2l-.5-.1l-.8 0l.2 1.1l1.3 .5l-1.2 1l-.5 1.7M179.6 99.4l1.8 .1l1.8 .1l1.7-.1l1.8-.2l-1.2 1.2l0 .6l1-1.4M188.2 93.7l-1 .5l1.3 .3l1.3-.9l1.5-.7l.5-1.2l.8-1l1.3 .9M189.9 98.5l.4 1.3l-.1 1.6l-.9-.1l-.2-.4l1.1-.3l-1 0M182.8 91.1l0 1.3l1.5-.6l1.6 .2l1.1-.8l-.5-.7l.6-1.3l1.3-1"/><path stroke="#2a2ab0" d="M196.1 45.4l-1.4-.1l.3-1.1l1.1-1.1l1.5-.8l1.6 .1l1.2-.4l1.5 .6M191.1 39.7l-.4 1.4l.2 .1l-.4 .4l.3-.4l-.4 .9l-.3 1.3M198.9 46l-.4-.4l-1.4 .7l.4 1.2l.1 .6l.5 .9l1.2 .2l-.3 .6M196.3 47.5l1.5 .3l.4-1.4l.2-1.5l1.6-.3l1.1 0l-1.1 .4l.6-1.6"/></g><g fill="none" stroke-width="1.20" stroke-linecap="round"><path stroke="#c42222" d="M182.9 62.0h0M185.4 58.9h0M190.6 85.2h0M213.8 70.1h0M226.4 40.7h0M223.1 88.9h0M231.1 87.2h0M200.3 48.6h0M216.1 73.0h0M217.0 99.3h0M214.0 40.7h0M212.2 49.6h0M208.6 86.6h0M186.3 96.2h0M208.6 68.0h0M218.3 60.3h0M202.3 67.1h0M233.0 61.5h0M176.8 92.1h0M187.3 54.7h0M200.6 91.5h0M186.5 80.6h0M235.1 86.9h0M195.2 69.5h0M227.7 77.6h0M200.7 98.1h0M214.8 102.9h0M222.1 46.1h0M233.2 44.4h0M194.2 96.9h0M201.3 61.4h0M204.2 78.2h0M237.9 87.7h0M233.1 67.6h0M227.7 43.4h0M204.9 50.7h0M212.8 83.2h0M221.6 53.2h0M197.4 71.1h0M199.7 93.0h0M222.7 65.9h0M224.7 64.7h0M228.5 56.6h0M186.5 85.5h0"/><path stroke="#ffffff" d="M199.7 100.3h0M224.3 60.4h0M193.9 47.2h0M198.2 95.6h0M222.1 46.5h0M221.3 79.0h0M205.9 44.7h0M212.1 75.1h0M220.7 60.6h0M223.8 71.5h0M240.4 57.4h0M205.1 58.3h0M187.7 58.5h0M220.2 73.7h0M189.4 43.1h0M199.3 47.7h0M195.3 60.4h0M201.2 50.1h0M237.4 79.7h0M228.0 51.5h0M180.2 83.0h0M202.1 51.0h0M179.2 93.5h0M209.3 78.9h0M207.4 70.3h0M188.6 93.1h0M204.1 48.4h0M219.2 80.6h0M196.8 49.7h0M207.6 87.3h0M231.6 65.1h0M177.7 57.4h0M232.0 53.0h0M177.3 74.9h0M225.1 81.5h0M185.8 63.4h0M191.8 52.1h0M186.0 53.3h0M221.1 58.5h0M190.9 80.2h0M206.2 50.5h0M224.1 76.5h0M212.3 64.8h0M192.0 62.8h0M213.8 46.2h0M202.3 66.5h0M203.0 79.4h0M216.7 64.0h0M236.6 84.5h0M188.2 50.4h0M196.4 74.4h0M214.9 83.3h0M199.8 89.8h0M184.1 96.9h0M186.5 71.3h0M197.1 85.7h0M202.9 62.9h0M218.6 53.2h0M227.7 78.6h0M217.2 81.5h0M223.5 75.4h0M235.4 58.4h0M234.3 53.5h0M215.0 58.7h0M188.3 85.0h0M212.9 68.9h0M217.5 57.8h0M198.6 56.6h0M213.6 91.2h0M214.1 60.2h0M191.7 53.0h0M228.5 47.1h0M221.7 67.6h0M201.3 50.1h0M236.8 49.4h0M231.7 81.2h0M215.4 79.5h0M212.0 100.7h0M207.8 66.5h0M215.6 53.3h0M193.1 70.7h0M216.9 66.3h0M237.7 69.4h0M184.8 88.3h0M179.3 50.2h0M186.2 66.3h0M225.3 67.5h0M184.7 51.5h0M219.6 68.1h0M228.6 60.2h0M208.5 89.5h0M236.3 53.4h0M189.3 66.6h0M191.1 64.5h0M199.1 59.2h0M231.3 61.0h0M201.4 60.0h0M207.0 49.3h0M198.9 96.6h0M212.4 54.8h0M215.5 82.1h0M215.1 91.2h0M194.8 59.4h0M195.5 75.6h0M229.1 80.0h0M188.5 48.6h0M204.5 67.2h0M185.4 48.5h0M218.2 42.2h0M225.4 43.4h0M186.5 52.0h0M194.5 73.3h0M186.4 60.6h0M212.5 81.2h0M180.6 76.2h0M203.2 51.2h0M212.3 59.6h0M229.6 73.7h0M225.5 60.7h0M206.9 66.3h0M236.8 78.9h0M208.8 66.0h0M210.3 90.4h0M223.9 51.2h0M196.9 80.2h0M202.9 49.5h0M215.8 87.4h0M207.4 89.3h0M222.7 66.8h0M230.4 49.1h0M235.1 97.6h0M189.6 51.8h0M191.2 73.6h0M194.8 79.1h0M187.4 97.1h0M188.4 51.9h0M207.7 83.5h0M210.6 57.3h0M209.7 65.1h0M212.7 56.8h0M220.3 55.8h0M184.0 100.8h0M210.0 52.9h0M188.0 98.8h0M202.4 66.0h0M227.1 83.0h0M208.5 95.9h0M220.8 88.7h0M209.2 88.9h0M191.8 102.8h0M208.7 91.8h0M215.7 52.2h0M192.2 90.8h0M182.7 95.4h0M233.6 94.6h0M229.2 87.8h0M195.3 84.2h0M195.8 59.2h0M189.1 45.7h0M203.6 68.9h0M209.0 71.4h0M179.0 92.7h0M186.5 56.4h0M229.4 68.3h0M233.5 69.6h0M231.1 65.1h0M221.3 86.4h0M217.3 75.7h0M190.5 75.7h0M209.1 66.7h0M225.2 78.1h0M190.5 55.7h0M211.4 64.3h0M215.2 58.6h0M193.1 47.7h0M225.2 72.5h0M226.1 47.9h0M220.1 67.0h0M191.4 95.6h0M180.2 59.3h0M224.5 86.1h0M198.7 61.3h0M223.1 54.3h0M225.6 48.0h0M239.2 71.8h0M223.4 58.9h0M200.3 48.2h0M190.9 80.2h0M230.3 52.5h0M233.6 42.6h0M199.2 80.4h0M222.9 44.7h0M232.2 93.7h0M224.8 82.9h0M209.6 63.3h0M197.8 60.6h0M224.5 64.6h0M203.9 44.5h0M191.7 97.3h0M218.6 91.5h0M221.0 73.6h0M220.1 44.7h0M191.3 43.2h0M217.8 68.6h0M186.7 98.7h0M211.2 70.7h0M231.0 87.7h0M208.1 62.8h0M216.5 89.6h0"/><path stroke="#26249a" d="M190.0 94.7h0M187.3 73.7h0M213.1 44.6h0M215.8 48.6h0M235.7 43.6h0M207.9 97.0h0M187.0 76.7h0M177.6 73.8h0M210.9 80.3h0M236.9 64.5h0M240.2 94.4h0M228.8 71.7h0M223.0 83.2h0M213.9 55.1h0M229.0 68.6h0M218.9 68.3h0M227.7 96.6h0M218.6 95.8h0M183.8 83.8h0M190.4 74.4h0M228.9 72.7h0M234.8 60.2h0M233.7 76.0h0M224.5 56.4h0M218.6 56.4h0M212.0 68.4h0M191.8 79.6h0M230.7 76.2h0M229.1 45.1h0M210.7 68.7h0M182.4 64.3h0M207.6 73.1h0M207.7 41.2h0M188.7 77.8h0M204.7 67.0h0M237.2 89.7h0M200.4 86.5h0M230.3 64.4h0M231.9 70.0h0M216.0 62.4h0M238.4 78.4h0M215.1 74.1h0M217.0 97.2h0M230.7 70.1h0M195.0 56.8h0M215.5 45.9h0M227.1 69.0h0M215.0 84.3h0M206.4 52.9h0M212.9 95.0h0M221.9 83.9h0M210.2 62.3h0M200.4 71.6h0M204.6 75.3h0M211.4 102.0h0M216.5 88.3h0M190.4 81.4h0M217.0 83.3h0M202.3 43.8h0M212.0 68.9h0M187.3 46.0h0M233.4 45.2h0M210.8 50.5h0M194.3 82.0h0M232.8 40.9h0M199.1 48.4h0M211.0 76.2h0"/></g>
<path d="M263.5 127.9L313.9 127.9M263.5 127.9L263.5 179.0M263.5 127.9L276.0 115.4M276.0 115.4L328.7 115.4M276.0 115.4L276.0 168.0M263.5 179.0L313.9 179.0M263.5 179.0L276.0 168.0M276.0 168.0L328.7 168.0M313.9 127.9L313.9 179.0M313.9 127.9L328.7 115.4M328.7 115.4L328.7 168.0M313.9 179.0L328.7 168.0" stroke="#b0b0b0" stroke-width="0.60" fill="none"/><g fill="none" stroke-width="0.75" stroke-linecap="round" stroke-linejoin="round"><path stroke="#f2f2f2" d="M280.1 172.7l-.5-1l1.1 .7l1.5-1.1l-1.2 .1l1.1-1.3l1.5-1.1l1.3-1.4l-.1-.5M303.5 140.2l1.6-1.1l.6-1.1l-.3-1.8l-.9-1.4l1-1.6l1.4-1.3l.3-1.3l0-1.4M277.9 137.1l.1-.2l.2 1.8l.6 1.5l1.2-1l.6-.5l.2-1.2l.4-.9l-.4-1.2M294.7 166.4l0 .1l.7-.7l-.6-.4l.4 .3l1.7-.3l.9 1.6l1.5 1.1M298.2 165.1l-.6-.3l.6-.6l-.5-.1l-.7-1.5l-.4-1.7l-.1-.6l.2-.1l.5-1M274 158.8l.9 1.5l-1.7-.6l.9-1.4l-.1-1.7l-1-1.1l1.5 .8M278.2 143.7l-1.3-.5l-.1 1.8l-.7-.8l.1 .7l1.5 .9M301 127.1l-1.3-1.1l-.9-1.4l-1.4 0l-1.1 .8l-.6 .1l-1.7 .6l-1.7 .7M288.1 138.9l-.4-1.1l.3-.8l1-.9l1.3-1.3l1.3-.3l.7 .8l0 1.8M302.9 156.2l-.2 .6l-.3 1.1l-1 .9l-1.9 .3l-.8 1.7l-1.6 1.1l-.5 .8l-.2 1.1M301.6 130.7l1.4-1.3l.7 1.6l.5 1l-.8-1.2l-.4-1.4l-1.9 0l-.4-.2l-1.6-.9M297.2 143.4l0 .6l-.3 1.8l1.1-1.4l.4-1.6l1.1-1.2l1.3-.7l-.2 .8l-1.4 1.1M311.5 167.2l-1.4 0l-1.3 .7l.1 .6l-.1-.3l-.1 .7l.3 .4l1.4 .9l1.1-.8M301.4 132.5l-.8-1.2l-.8-1.6l-.7-1.5l-1.6-.8l-.8-1.2l-.8-.9l-1.6 .7l-1.6 1M313.6 127.1l-1.1 1.5l-1.6 .7l.9 1.6l1.7 .7l1.6-.9l-1.1-1.1l-.3-1.5l-.3-1.1M289.3 152.3l1.1 0l1.1 .3l1.2-.5l-.8-.1l-.4-.4l-.3 0l-.2 0l.4 1.1M318.5 141.5l-1.5-.1l-.6-1l1.3-1l1.8 0l-1.4 .4l-.9 .4l-.4-.5M292.5 144l-1.4 .8l-1.3 1.4l1.1 1.4l-.2 1.2l.2-1.1l-.3 .8l-.3 1.2l1.1 1.5M281.3 137.1l1.4 .9l1.2 1l.9 1l-.1 1.2l-1.5 1.1l-1.1 .4l-1.1 1.5l-.8 1.8M289.7 159.5l.1-1.7l.1-1.8l1.7-.5l.7-.4l1.9-.1l1.8-.5l1.7 .5l1.3-1.3M268.1 164.3l-.3 1.8l-1.2-1.2l1.5-1.1l-.5-1.6l-.4-1.5l.3-1.4l-.1-1.8M310.4 160.2l1.6 .9l-.8 1.6l-1.4 1.4l-1.1 .5l1.3 .2l.1 1.3l.4 1.3M298.5 149l-1.7 .7l-.8 0l0 .8l-.2 1.3l1.7 .3l1 .5l1.3 1l1.1 .3M281.5 174.5l-1.6 .8l-1.2 .6l0 .9M279.5 176l-.2 .1l-.4-.4l1-.5l.3 .6l1.7 .3l.6-.3l1.1 .4l1-1.2M287.3 150.9l-1.1 1.6l-.6-.2l-.1 1.7l-1.2 1.4l-.1 .5l-.7 .7l.8 1.6l.8-.6M306.7 151.3l-1.2 1.4l-1 1.5l.4 1.1l.7 1.5l1.4 .3l1.4-1.3l1.6-1l0-1.6M278.2 119.3l.8 1.5l0 1.9l-1.6 1.2l-.6 1.7l1.9 .1l1.7-.5M277.3 169l-1.7-.5l.2-1.8l1.2-1.1l1.6-.8l1.8-.7l1.4 1.1l1.1 1.4l-.3 1.6M272 136.8l-1.1-.1l-.2 .1l-.4 .1l1.9-.1l.3-1.1M309.3 120.7l-1-.2l-.2 1.8l-.7 1.5l-1.5 .8l-1.6 .4l-1.1 1.3l-.2 .7l-.3 1.7M307.6 131.1l.9-1l1.7-.8l-.7-.9l-1.7-.4l-1.6-.8l-1.9 .1M271 132.7l1-1.5l1.3 1l.2 .1l-.1 1.4l.3 1l-.9 1.2l1.2 .3l1.3 1M296.8 146l-.4 1.6l-.9 1.7l-.4-.3l-.6-1.3l-.5 .6l-1.6 1l.7 1.5l1.1 1M294.5 164.6l1 1.5l1.2-.1l.8 1.1l-.9 1.4l-1.9 .4l-1.6 .9l1.2-.5M298.9 132.1l1.1-1.4l-.4 .4l-1.6-.2l-.8-.7l-1.3-.3l-1.7 .6M318.3 147.8l-.6-1.4l-1.7-.3l-.7-1l-.1-1.3l-1.5-.9l.5-.8l.5 .6M298.9 168.2l-.8-1l.8-.6l0 1.9l.6 1.4l1.7 .2l-.9-1.5l-.8-1.7M280.4 164.6l-1.1-.3l1.6 .8l.8-.7l-.6 1.6l-1.5 .2l-.9 .5l-1.4-.4l-.2 1.2M282.1 138.9l-.4 1.8l-1 1.6l-.2 1.7l.7-1.5l-.8-.3l-1 0l-1.2 .2l-1.7-.6M277 152.8l-.7-1.6l-.9-1.5l1.5-1l.4-1.8l.2-1.8l0-1.7l.4-1.8l-1.2 0M285.6 157.3l-1-1.1l-1.2-1.2l-.3-1.4l.8 1.6l1-1.3l1.1-1.6l1.7-.3l1.3 0M294.8 163.3l-1.1 .1l-.8-1.4l1.2 0l-1.8-.4l-1.2 1l-.1 1.4l-.2 1.7M322.3 130.7l.8-.6l-1.8 .1l.5-1.4l.1-1.5l.6-1.7l1.8-.7l1.8 .1l-.4-1.3M302.6 145.6l-1.8 .5l-.9 1.5l-1.2 1.3l.6 1.5l1.6 .4l1.6-1l.6-1.5l1.4 .7M297.1 150.7l-1.1-.4l-1.8-.2l.1-1l0-1.1l-.1-1.2l1.8 .6l1.6 .7l.4 1.8M301.6 126l-.5 1.7l-.5-1.8l1.4 .7l-.9 1.3l-1.1 .5l-.7 1.5l0 1.4M285.3 148.8l.1-.4l.9-1.7l1.2-1.5l1.7 .6l.8 1.2l1.8-.3l-.2 1.1l-1.5 1.1M281.9 149.2l-.2-1.8l-.6-1.6l1.8-.6l1.4 .1l.6-.5l.2-1l.4-.7l1.6 0M318.4 147.7l0-.5l1.1 .8l-.3-.8l-1.5 .4l-1.4-1l-.6-1.7l-.3-1.2M279.3 152.8l-1.2 0l1.3-1.3l1.4-1.3l.8 1.6l.3-.7l-.6-1.3l-1.3-1.2l-.2-.1M316.7 167.8l-1.1 .3l-1-.7l-1-1.5l-1.1-1.3l-.2-1.6l1.6-1l1.7-.8"/><path stroke="#30aa30" d="M305.7 157.5l.1-1.2l0-1.7l-.7-1.7l1.7 .3l1-.9l-1.1-1.4l-.3-1.2M293.7 127.2l0-.2l.4 1l1.3 1.3l1.2 1.3l.8 1.5l-1.7 0l-1.8-.3l-1-1.5M304.2 151.2l.8-1.1l-1.8-.1l-1.3-.6l-1.4-.5l-1.7 .8l-1.6 .8l-.7 1l.4 1M286.2 133.9l-.4 1.3l-.1 .1l-.1-.9l.2 .7l1 1.5l-.9-.3l.3-.2l-1.7 .6M299.2 145.1l-.9-1.1l-.8-.8l-.2-1.2l-.1-.6l.5-.8l1.1-1l-1.7 .1l-.7-1.7M311.1 155.9l-1.1 1.5l-1.8-.1l-1.6 1.1l-.9-1.5l-1.6-.1l1.5-1.1l1.6-.9l.4-1.8M287.3 148.5l-.6 1.4l1.4 .3l1.1-.5l.1-1.6l.5-1.8l1.4-.5l-.3 1.9l.9 1M275.9 130.9l.5 .5l.4-.4l1.5-.8l1.2 1.4l.6 1.7l-1.3 1.1l.6 1.5M323.6 149.5l.8-1.7l-1.2-1.3l-1.4 .7l-.6 .4l.4-.4l.4-1.9l-.2-1.3M293.3 158.9l-.5 .8l.3 1.6l-1 1.5l-1.8-.2l-.8 1.2l.7-1.7l1.2-1.4l1.2 1.1M307.8 126l-.1-.5l-.2 1.1l.3 1.6l-.2 1.8l0 1.8l-1.1 1.4l-1.5 1.2l.5-1.8M272.9 128.6l.6-1.6l-1.6-.5l-1-1.5l-.8-.6l-.1 1.9l-.6 1.4l-.5-.1M312.8 140.7l-1.6-.3l-.7-1.6l-1.5-.5l.9-.5l-1.3 .2l-1.1 1.1l.9 1.6l1.6 .4M292.8 150.8l-1.4 .4l-.5 1.5l-.1 1.7l.2 0l1.2 .9l.8 1.2l.1 .8l.7-1.5M313.3 164.9l-1.2-1l-.3 0l-.2-1.8l0-1.8l.7-1.1l.1-.8M285.4 155.4l.7-1.4l1-.5l-.4-1.6l.3-1.8l-1.3-.9l-.4-1.6l.3-1.8l.3-1.2M297.4 149.7l1 1.4l-1.1-.2l-1.4-.5l.6-.3l1.4 .6l.7 .7l-1.3 .7l0 1.7M276.5 152.1l-.2 1.4l1.6-.1l1.5 .6l.9 1.6l.4 1.5l-1.4 1.1l-1 1.6l-.6-1.2M316.5 126l.3 1.6l.4 1.8l-1.2 1.4l-1.6 .6l-1.6-.9M301 147l-1.5 1l1 1.4l1.8-.6l1.8-.6l1.4-.7l.1-1.8l.6-.2l.3-1.5M272.2 148.1l-1.8 .2l-1.6 .8l-1.5 .3l-.9 1.3l-1.1 1.2l-.3-1.8M279.6 130.2l0-.3l1.2-.8l.3-.4l-1.1-.8l.4-1.4l.2 .3l.3 .5l1.2-.1M285.3 161.5l1.4-1.2l1.2-1.5l-.4-1.7l-1-.9l-1.5-.9M289.8 135.2l1.4 .3l.2-.1l.2-.8l-.4-.6l.5-.6l1-1.4l1.4-1.2l1.8 .2M270.5 126.7l1.3 .8l1.4-.5l-1.4 .3l-1.2 .6l-.2 0l.6-.9l1.2 .6l-1.5 0M294.9 148.7l1.6-.1l.6 .7l1.4-.1l1.5-1.2l1.6 .8l1.4 .5l1.3 1l1.3 1.1M281.3 126.5l-.2 1.4l-.2-.8l1.8 .3l-.3 1.4l-1.6 1.1l1.2 1.2l1.6-.6l1.5-.8M287.2 157.1l-.2 1l-.6 1l-1.3-.4l.1-1.4l1-1.6l.8 0l-.5-.7l-1.8-.2M284.1 134.4l1 .4l1 1.5l1.6-1l-1.6-.9l-1.2 1.3l-.8 1.5l-.5 1.3l-.5 1.8M281 141.5l.3-1.4l.5-.4l.2 .8l-.8 .4l-.8 1.5l-1.3 1.4l-1.6-.9l1.1-.5M291.5 162.9l-.7 1.1l-1 .7l-1.3-1.2l.1-1.4l.3-.9l1.6 .1l-.6-.4l.3-.3M305.6 167.3l-.5-1.6l.6-1l.8-1.6l-1.8-.2l-1.2-1.4l-1-1.2l-1-.4l-1.1-.3M273.1 151.4l1.5-1.1l-.7-1.2l1.5-1.1l0 .2l0 1.8l-1.3 1.4l-.9 .4M274.8 145.2l0-1.6l-.5-1.6l-1.3-1.2l1.7 .8l.3-1.3l1.7-.9l-1-.9M300.6 166.1l1.4-.2l.8-.2l-.2-1.6l-.4-.9l1.2-.9l.1-1.2l.6-1.2l-.4-.3M296.2 151.9l1.1 .6l1.1 1.2l1.5 .7l.6-1.8l1.3-.7l1-1.2l.4-1.7l1.6-.7M318.2 142.2l-.1-1.7l-.9-1.5l-1.4-1.1l-.1-1.8l-.2 1.9l-1.4 .9M325.6 128l-.4-.3l.9-.4l-1.6-.5l-1.1-.2l-1-1.3M285 127.8l1.7-.8l.3-1.8l-1.1-1.5l-1.2-.3l-1.5-.4l.1 1.8l.9 .8l1.5 .8M293.5 151.4l-1-1.3l-.5-1.5l.7-1.3l.3-1.8l-1-.3l-1.2-1l.7-1.7l-.1-1.8M286.9 142.4l-.3 1.8l-1.7 .1l-.6-.1l-1.3-.9l-1-1.4l-.4-1.5l-.7 1.4l-.4 .2M311.1 146.3l-.4-1.4l-.3-1.9l-.7-1.5l-.1-1.6l.1-1.7l.4-.4l-.3-.1l-.3-.9M297 145.4l.3-1.5l1.6-1l1.6 0l1.6-.8l1-.7l-.2 .5l-.3 1.4l-1.8 .6M303 148.7l1.4 .7l1.3-.7l.8-.5l-.9-1l-1.4 .2l-1.6-.5l0-.9l-.5-1M274.8 138.5l1.8-.6l1.5 1l-1.1 1.3l-1.7 .7l-1.2 1.3l-1.1 1.3l-1 .3M286.4 154.5l.4 1.7l1.4 1.2l.9-1.7l.2-1.8l-.2-1.8l-.6-1.7l-1.4-1.2l-.9-.6M283.3 141.6l-1.8 .1l-.2-1.1l.6-.8l1.1-1.3l1.9-.5l1.5-1l1.3 1.2M278.2 166.9l1.3-1.2l.4-1.8l-.1-1.3l.2-1.4l-.6-.6l-.7-.2l0 .4M320.5 135.4l1.1-1.5l-1.2 .3l-.8-1.6l1.4-1.3l1.6 .5l-.2 .1l-.7 .9M296.4 137.3l-.9-.9l-.8-1.7l-1.1-1.4l-.3-1l-1-1l-1.4-1l-1.8 .1l-.6-.9M286.6 145.1l-1.4-.6l-1-.7l-1.8-.4l-1.8 .2l-1.7-.4l-1.8 .4l-.8-1.3l-1.9 .1M318.9 121.9l.6 1.6l1.2-1.5l-.5 .9l-.4 1.8l1.3 .7M305.4 128.2l1.2 .3l.5-1.4l.3-1.5l.8-.8l-.9 1.6l-.7 1.8l-1 1.6l0 1.6M290.3 134.4l0 1.7l-.9 1.7l-.3 1.4l.5 1.4l-1.7-.6l-1 1.6l-1.1 1.5l0-1.2M308.7 131.3l-1-1.1l-.4-1.2l-.9 1.7M298.3 129.4l.1 1.8l-1.6 .8l-1.7 .1l-.2 1.8l1.7 .5l1.8 .5l.6-.9l-1.1-1.2M280.4 131.3l1.2-1.1l-1.3 1.1l.1 1.9l.3 1.8l.5-1.4l-1.1-1.1M296.1 134.7l-1.7-.1l-.3-.1l.1-.4l-.5 0l-1.5 .7l-1.6-.2l.7 1.1l-1 .5M274.7 161.8l-1.1 1.1l.9 1.1l1 1l1.3 1l1.1 0l.7 1.4l.4 1.5l.6 1.5M290.7 163.3l1.3-1l1.1-1.5l1.8-.7l-.7-1.2l-1-.4l.6 .4l1.6 .1l1.6-.4M306.9 151.3l-1.6-.6l-1.3-1.2l-1.1-1.3l-1.3-1l-1.7 0l-1.2 1.4l-.6-1.4l-.2 .8M294.9 147.6l.6-1.7l.2-1.5l-.5-1.5l0-1.7l0-1.1l1-1.5l-1 1.6l-.6-.3M309.9 153l-1-.1l-1.6 .7l-1.8-.1l-.8-1.5l-.7-.4l1.2-.3l.5-.6l.3-.5M291.9 125.4l.6-.8l-.7-.5l-.7-1.5l.8 1.3l.3 1.2l.1 1.8l-.9 .6M291.2 158.6l-.8-1l-.3-.3l-.9-.2l0-.8l1.3 .6l0 .1l-1.1-.5l-.9-.7M304.8 136.9l-1.7-.7l-.7 .3l.5 1.6l1.5 .2l.9-.9l.1-1l.3 .4M319.6 149.7l-1.1-.2l-.1 1.8l-.2 1.8l-1.6 .4l-1.4 1.2l-1.9 .1l-1.4-.7M294.3 135l.1 1.8l1 1.4l-.1 1.8l-.9 1.5l.2 1.8l-1.3 1.4l-.2 1.7l-.6 1.7M277.4 125l-1.6-.6l-1.5 1l-.4 1.5l-.5 1.8l-.5 .4l1.8 .2l1.5 .8l-.4-.3M304.3 148.3l-1-.4l-1.2 .7l-1.5 1.1l-1.8 .2l-1.8-.1l-1.7 1l-1.4 1.2l.4 1.8M317.9 127.6l.4-1.7l.3-1.4l-1.2-1.4l-.6 1.6l-1.8 .4l-1.4 0l-1.9 .4l-1.5 .5M317.8 145.2l.2-1.8l1.8-.5l.9-.9l.9 1.2l1-1l-.8-1.7l-1.9 .5l-1.1 1.6M315.8 164.8l1.9-.1l1.8-.6l1.7-.7l-1.2 .2l-1.1-1.2l-.7-1.7l-1-.3M303.5 176.2l-1.4 .9l-1.1 .8l1.7 .1l-.5-1.3l-.6-1.6l.7-1.6M287.6 155.2l-1.3-.8l-1.5-.3l-1.2 .2l-1.5 .9l-1.2 1.5l-.2 1.7l.8 1.2l1.3 .8M272.1 152.7l-.6-1l-.8-1.4l-.8-.5l.1 1.1l-.8-1.3l1.2-1.4l.4-1.6M317.2 148l-1.5 .8l-1.7 .9l-.8 .6l-1.5 .8l-1.9 .3l-.7 .5l.5 1.4l.2 0M314.9 153.2l-1.7 0l.8-1.3l.6 .9l1.8-.3l.9 0l-.2 1l-1 1.5l-.3 1.5M286 157.6l1.6 1l1.8-.3l1.8-.1l1.8 .2l.9 1.3l1.3-1l1.8-.5l1-1.6M284.5 128.5l-.1 .7l0 1.3l.5 1.8l.6 1.2l1-.6l-.1 1.6l.6 1.2l0 1.5M279.4 131.7l.5-1.7l1.4-1.3l1.7-.4l1.4 .6l-.6 .6l-.3-1M282.7 164.7l-.3-1.4l-1.1-1.3l-1.1-.6l1-1.5l1-1.5l-.5 0l.5-1.3l1.1-1.1M273.3 166.1l-1.1 0l-1.1 .2l.6 .7l1.4 .6l.3 .6l-.5-.8l.6-.5M303.2 136.7l-1 .9l1.7 .3l.6 .7l1.4-.4l1.6 .8l.4 .7l1.7-.1l.8-1.4M317.5 164l.2 1.7l.7 1.6l.1-1.8l1.4-.1l-.2 0l-1.3-.9l-1-.9M288.2 145.6l1.5 .7l1.4 .5l1.3 1.1l1 .9l.1-.2l-1.7 .8l-1.6 .9l-1.3 1.4M269.8 138.5l.4-1.4l.9-1l1-1.4l-1.9 .2l-1.6-.8l-1.2-.5l-.3 1.9M303 156.6l-1.1 .6l-1.2 .9l-1.4 1.3l1.6-.1l1.3-1.1l-.4-1.5M293.1 157.4l-.5 1.2l-1.5 .5l.4 1.7l1.6 .9l1.2 1.1l-.9-1.3l-1.5-1l-1.6-.5M302.8 134.5l.8 .7l-1.8-.2l-1.6 .8l-1.3 1.2l-1-.6l-1.4-1.1l-.2-1.7l-.6-1.3M291.8 128.8l-.7 1.4l-.6-.2l.8-1.1l-1.1 .1l-1.2 .1l-.7-1l-1 0l-.6 1.2M300 135.4l.6 1.4l1.2 1.4l1.5-.6l1.3-1.2l1.4 1l1.7 .6l1.1-.6l-1.6 .8M311.7 161.6l.5 0l-.6-1.7l1.5-.7l1.7-.7l0 .7l-.2 .1l-.4-1.7l1.9-.1M291.5 161l-1.2 1.4l-.7-1.2l.9-1.5l1.4-1.4l.9-1l.7-1.3l-1-1.2l-1.8-.4M312.3 144.9l-1.3 .3l-1.3 .4l.9-1.7l.8-1.4l1.7 .7l.7 1l-1.7 .8l1.3-.6M277.4 151.2l.8-.1l-.5 0l-.7 0l.3 .8l.8-.8l0-1.1l.8-.1l-.8 1.2M294.1 175.8l.2-1.8l-.3-.6l1.4 .5l-.2-1.8l-.5-1.1M306.6 144.5l.1 1l1-.2l-1.5 0l-1 .6l-.9 1.6l1 .1l-.6-1.7M283.7 142.8l1.4-.5l-1.2 .1l0-1.5l-1.2-1l1.5-1.2l1.7-.6l.7 .1l0 1.8M326.1 156.1l-.4-1.8l-1.9-.3l-.8 1.4l-.8 1.7l0 1.9l-.1 1.5l-.4 .2l-.7-1.5M289.5 142.3l-1 1.6l-.4 .2l-.1 1l-.9 1.6l-1.2 1.5l-1.6 .7l-1 .8l-1.3 .6M300.8 169.9l-.9 1.1l.3-1.5l-1.3-.9l-.8-.4l.4-.5l1.4 .6M274.6 136.4l-.5-.1l-.2 .6l1.3 1.3l.3 1.8l-.8 .5l-1.2-1l.3-1.3l1.7-.8M277.5 153.5l1.5 .3l.7-.1l1 .2l-.2 1.7l-1.1 .7l1.5 .7l.3 .7l-1.5-.6M316.2 139.2l-.6-.1l.4-.6l-.6-.8l.2-1l.2-1.9l.5-1.3l1.3-.3l1.4 .2M280 139.6l-.2 1.7l-.1 1.8l0 1.3l-.1 .9l.6-.3l1 1.4l1.6 .5l1.6 .9M291.9 138.6l1.2-1.4l-.2-1.8l-.1 1.3l.6 1.5l1.2 1l1 1l.6 .8l1.2 1M294.9 153.4l-1 .9l-1.2 1.4l.7 1.7l.2 1.6l-.8 .7l-1.3 0l1.3 .1l0 1.6M292.9 147.8l.2-1.1l-.1 .4l.3 .8l.8 .6l.9 .4l-.4-1.8l-.8 0l-.1 1.2M292.8 144.3l-.6-.7l-1.2-1.1l-.8-.5l.2-.5l-.7 1.6l-1.6 1.1l-1-1.1l1.1-1.3M292.5 133.4l.9-1.7l1.7-.8l1.6 .3l1.8 .3l1.4-1.4l-.3 .2l-.2 .3l-1.5-.6M307.2 155.8l1.1-.8l-.3 .4l-1 0l.2-.7l.8-.6l1.6 .3l.8-1.8l-.5-.1M315 118.7l1.6 .1l1.9-.1l1.8-.1l-.2 1.9l.1 1.8l.5 .6l.3 1.1l-.4 .1M319.5 150.4l-1.8 .5l-.3 1.2l-1.5-1.1l-.3 .6l-.1 1l-1.3 .5l-1.3 1l-.7 1.7M304.2 155l-1.8 .3l-1.1 .2l-1.7 .7l0-1.3l.7-1.7l-.2-1.7l.8-1.6l.8-.1M294.9 124.4l.5-1.6l.4-1.3l.1 1.5l-.8 1.7l-1.1 1.6l.6 1.5l-.8 1.7l-.8 .2M289.1 140.6l-1 0l.4-1.9l.4-1.6l-1.6 .4l-.8 1.4l-1.5 .4l.3-1.8l-.6-1.3M325.6 150.7l.1 .7l.9-1.5l-.9 1.4M318.8 141l-1.2-1.4l0-1.6l1-.9l.7 .2l1.4 .4l1.5-.5l-.9 1.6M289.6 140.1l-1.2 1.5l-1 1.6l-1.5 1.2l-1.4 .9l-1 1.3l-.6 1.4l.3 1.4l-1.6 1M281.7 157.2l1.7-.5l1-.1l-.2 .3l.2-1.7l1 .2l-.4-1.1l.9 1.1l.4 .9M303.6 170.7l.4 1.2l1.4-.5l-.5 .4l.7 .4l-.6 1.6l-.3-1.7l-1.5-.6l-.3-1M303.9 157l.1-1.9l1.5-.2l.8-1.2l1.8 .2l1 1.6M321.4 145.4l-1.9 .4l-.9 .6l-1.1 1.4l-1 .8l-1.1 1.4l-1 1.6l-1.5-.8l-1.8-.5M306.2 133.7l-.5-1.7l.2-1.6l1.7-.7l1.7 .3l.3 1.2l.1 1.2l.5 1.3l1-1M323.8 118l-1.8 .2l-1.6-.6l-1.1 .8l-1.8 0l-1.7-.1l-1.8-.6l-1.8 .8l-.6 1.2M280.6 128.6l0 1.4l-1.2 1.3l.5-1.3l.7-1.3l.2-.3l.2 1.4l-1.4 1.1M278.1 125.3l.4-1.1l.4-1.7l1.7 .5l1.5 1l1.7 .1l0-.3M306.8 150.3l-1.5 1.2l.8 1.4l1.7 .7l.5 1.3l-.8 1.1l-1.6 .4l-1.7-.2l-1.7-.4M304.6 133.2l-1.1 0l-.4-1l-1.4-1.2l-.9-.8l-1.2 .5l-.9-.1l-1.7 .9M276.1 127.7l1.4 1l1.3-.9l-1.2-.6l-1.7-.5l-1.8-.2l-1.3 1.3l1.1-.4l-.5 .8M288.7 143l.4-.2l.3 1.2l-.7 1.6l-1 1.1l-1.8-.1l1.2 .6l1.3 .8l1.4 .4M313.5 137.7l-.1-1.7l-1-1.3l.9-1.6l.1-.8l.9-.4l-.7-.2l-.7 1.2l-1 .9M284.2 147.7l-1 1.6l-.5 1.5l.9 .7l1 .6l1.5 .5l1.6-.8l0 .3l-.9-.3M290.3 172.2l-.8-1.3l-.2 .5l.1 .9l-.2 .9l-.7 1.5l0 .3l-1.9-.2M298.8 124l-.6 .8l-1.5 1.2l-1.5 1l-1.2 .1l-.9 1.2l-.7-.5l-.1 0l-.3-.1M286.1 160.2l0 .2l.7-1.6l0-1.6l1.7-.5l1.5-.1l1.1 1l.8-.2l1.2-1.3M310.9 171.4l1.4-1.2l1.6 .3l-.7 .8l-1.8 .1l-1.5-.3l-.4-1.6l.1-1.8l1.7-.8M297.9 152.1l-.8 1.7l-.2-.6l-.5-1.1l1-1.4l.1-1.7l1.1-1.6l-.3 .2l.6 .8M301.7 141.4l.4 1.3l.9 .7l1.2-.7l.6-1.8l.1-1.6l.7 .1l.1 .1l.9 .8M293.7 172.3l.2-1l.9-1.2l1.4-1.2l.9-1l1.1-.1l1.2 .9l1 .8l-.7 1.6M291.5 156.4l.1-1.4l-1.6-.7l-1.6-.5l-1.5 .8l.6 1.2l.9 1.3l1.4 .8M284.5 139.3l1.8-.5l1-1.2l1.4-1.3l.5-1.9l-.1-1.8l1.5-1.1l-.5-1.8l-.4-1.7M290.2 149.1l-1-.7l-1.4 1.3l.4-.8l.5-.5l.4-1.4l.2-1.8l.7-1.7l1.2-1.5M313 142.4l-1.5 1.2l.1 1.3l0 1.2l-.7-.5l-.1 1.1l1.3-1.1l.6-.8l1.7-.6M297.8 162.2l-1.3 1.4l-1.9 .2l-1 .7l-1.4-.3l.7 1.4l-1.9-.1l-.1 1.9M285.7 139.4l.1 1.8l.5 1.6l-1.2 1.4l-.7 1.7l0 1.8l-.6 1.8l0-.9l-1.1-1.4M297.6 164.4l1.2-.8l1.8-.1l1.1-.4l.1 .1l1.1-.3l1.7 .3l.6 .2l-.4 1.7M298.7 122.4l1.1-1.6l1.4-.9l-.4 1.3l-1.6 .9l-1.5-.9l-1.1-1.2M291.3 135.8l-1.3 .6l-.1 1l-.7 1.7l-.5 1.4l-1.5 1.2l-1.9 0l-1.7 .2l.3 0M292.1 174.5l.7 .9l1.8-.6l1.8 .1l1.6-.3l1.1-1.3l-.9 1l-1.6 .6M286.6 147.6l1.5 .2l1.7 .5l1.8-.3l1.7-.6l1.4-1.2l1.5 0l1.7-.8l1 .3M288.8 159.9l-1.5-.2l-1.3-.6l-.3 0l-.6 .8l-.6 .9l-.9 1.4l-1.2 1.4l-.5 1.8M294.1 145.4l-.1-1.8l-.7-1.4l-1.3-1l-.7-.5l.2 0l1.7-.2l-1.4 .1l-.4-.1M288.4 148.1l-.3-1.7l.8-1.7l-1-1.4l.8-1.7l1.7-.8l1.5 .1l1 1.5l-.3 .5M287.7 143.9l-1.4-.8l-1.3-1l1.1 .2l1.7-1l-.8 1.1l-1.6 .9l.4-.8l1.1-1.4M285.9 149.2l.5-.2l0 .3l1.4 1.1l.4-.1l.9-1l-.5 .8l-.2 1.2M290.8 143.6l.1 .9l-.3 1.5l0 1.5l-.2 0l-.6 .1l-1.1 .7l0 .7l.3 1.4M306.1 142.1l1.1 0l.6-.7l.8 .1l0-1.7l-.5-1.1l.1-1.9l-1.4 .1l-1.7-.6M285.7 126.4l-.3-1.6l-.2-1.7l-.8 .9l-1.1 .7l-.9 1l-.3 1.3l1.6 .7M282.9 163.3l-1.7 1l-.9 1.1l-.6 .7l1.5-1l1-.4l.1-.4l-.3-1.2l-.1-1.7M293.7 148.8l-.7 1.7l-1.1 1.1l-1.5 .1l-1.8 .8l-1.8 0l-1.8 0l-1.8-.2l-1.1-1.3M301.8 150.3l-.2-.7l1.1-1.5l.4-1.5l1.6-.9l-.1-1.6l.3-1.8l-1-1.4M310 139.8l1.9-.1l1.7 .6l-.3 1.5l1.6 .7l-.7 1.2l1.2 1.3l1.6 .4l-1.5 .3M292 153.4l-1.5-1l.1 .6l-1.7-.7l1-1.1l-.6 1.4l-.6 .8l-1.2 .8l-1.4 1.2M315 133.4l.8-.5l.8 1.3l-.6-1.7l.5-1.3l.4-.7l.9-.5l-.3-1.1l-.4 1.2M316.4 147.1l-1.3-1l-.8-1.5l-1.5-.9l.3-1.7l1 .2l1.6-.5l-.5 .9l-1 .9M279.4 153.5l1-1.6l.8 1.5l.1 1.4l.3 1.8l-.8 1.6l1.1 .1l.9-1.5l-1.5 .1M291 134.4l-.3 1.7l.9 1.6l.2 1.7l-.9 .7l1 1.1l1.1 1.4l.9 1.6l-1 1.7M309.7 128.8l1.5 .2l1.9 .1l1.5 .1l1.6-.8l1.8 .1l-.5 1.6l-.3 .7l.5-.5M277.1 129.7l-1-.4l0-1.6l1.8-.4l1.4 .7l-1.2 .1l-1.7 0l.1 1.2l.3 1.3M280.5 141.5l1.3 .5l.3 .5l.5 0l1.2 .3l1.1 1.3l1.2 .9l1.7-.4l1.4 .4M314 121.5l-.8 1.4l-1.3 1.3l.5 1.3l1.2 .9l1.8 .5l1.6 .2l.8 1.6M277.4 128.7l.8 1.4l1.2 .8l1.3 1.2l1.7 .6l1.7 .6l1.3 1.3l1.3-1.1l1.4-1.1M292.8 129.7l1 .5l1.7 .6l.9 1l-1.3 .9l-1.5 1.2l-.4 1.3l.8 1.6l-.4 1.8M308.3 154.9l-.2-1.7l1.4-.4l.5-1.5l-1.1-.4l-1.7 .4l-1.7 .2l-.3 1.8l0 1.8M298.5 151.3l1.1 1.3l.3 1.8l1.7 0l.9 .4l1.5 1l-.6 1.6l1.3 1.3l.9-1.1M290.5 135.9l.3 1.8l1.3-.2l.2 .3l-1.2-.7l-.4 .5l-.7 1.7l-1.8 .3l.5 1.3M286.2 146.5l0-1.8l-.1-1.9l-.1-1.4l.7-1.7l1.2-.3l-.5-1.6l-.3-.9M301.9 148.3l-.5-.7l-.2-1.2l-.2-1.2l.9-1.1l-.5-1.7l-.1-.9l-1.6-.3l-1.1 .5M273.9 135l1 1.6l.8-1.4l.4-.7l0 .5l1 1.4l.5 1.3l.4 1.8l.4 1.5M298.7 134.5l-.7 .7l-1.6 .3l-1.4 .4l-1.4 1.3l-.5 .8l-.9-1.4l-.2-.7l.9 .7M314.4 126.5l.8 .7l.7-.1l.2-1l1-1.7l.9-1.6l0-1.4l.4-1.8l-.4-.8M304 148.2l-1.8-.3l-.1-.9l-1.2-.9l-1.2-1l0 1.3l.4 1.2l.1 1.4l1.5 .6M295.9 163.4l1.5 .5l-.2-1.6l.4-1l1.1-.8l-1.6 1l0-.5l.1-1.7M306.1 175.2l-1.7 .3l.6 .8l-.6-.6l1.7 0l.5 0l1.5-1.2l.6-1.7M296.6 158.9l1.2 .3l1-.8l1-1.4l-.7-1.6l-.8-1.6l-1.8 .3l-.1-.2l-.8 1.7M296.6 135.5l-.4-.5l0 .5l-1.1-1.4l-.2-1.8l.4 1.5l-.9 1.7l.1-1.3l-.1-1.9M303.6 131.9l.3 1.3l.8 1.2l1.6-.6l.8 1.4l1.2 .7l.9 1.5l-.1 1.6l1.6 .8M296.2 131l.8-1l.8-1.8l-1.2-.6l-1.6 .2l-1.7-.1l.1 1.8l-.2 1.9l-1.1 .2M281.7 149.2l.5 1.4l.9 1.1l.2 .9l.9 1.3l.4 1.1l.5 1.8l1.8 .2l-.4-1.5M270 130.6l1.8 .1l1.3 .4l1.2 .4l.9 .8l-.8 1.7l.3 1.8M272.7 127.3l.9-.9l1.1 1.2l.5-1l-.4-1.2l.6-1.2l.1 0l-1.8 .3M281 171.4l1.4-1.2l-.7-.3l1.6 .9l1.1 1.2l1.6-.7l-1.3-1.2l1.3 .4l.3 1.5M290.5 161l.6-1.8l1.8 0l1.4-.7l1.8-.2l1.6-1l.3-1.8l1-1.4l1-1.6M309.4 161.2l.6-1.3l.8-1.7l.9-1.7l.9 1.4l.9-.6l1.4-1.3l.1-1.6M304.8 142.4l1.2-1.1l1.2-.4l.9-1.2l.8-1.6l-1.6-.6l-1.8 .4l-1 .5l-1.3-1.2M306.6 142.6l-1.2-.8l-1-1.4l.1-1l-.5-1.5l.6 1.7l1.5 .2l-1-1.1l-.1-1.7M315.4 157.9l-1.3-1.2l.4-1.5l-.5-1.4l.2-1.3l-.2-1.7l.8-.9l1.7-.8l.8 1.4M306.6 157l.4-1.8l-.7 1.1l-1.6-.8l-.9-.9l-.7 1.3l-1.4-.3l-1.9 .4l-1.2-.3M293.8 146.5l1.6-1l.5-1.8l1-1.3l.4-1.3l1.6-1.1l1.7 0l1.8 .1l-.5 1.6M290.6 140.3l-1.8 .3l.7 1.1l.1 1.3l-.1 1.2l1.4 0l1.5 .8l-.7 .9l-.6 1.7M305.9 140.3l-1.4-1.1l-1.1-1.4l-1.6 .2l-1.5-.5l-1.4-1.1l-.1-1.6l.3 .8l-1.1 1.6M295.2 129.7l.2 .6l1.1-.7l-.9 .7l.4-1.5l1.3-.5l1.1-.6l0-1.4l-.9-1.6M302.9 161.2l1.6-.6l1.1-1.3l.2 1.8l0-.1l-.9-.5l-.8-.9l-.8-.6l.4 1.8M312.9 150.8l0-1.2l-1.4-1l-1-1.5l-.3-1.3l-.8-1.6l-.6-1.5l-.5-1.6l-1.1-1.1M272.3 165.7l1.2-.5l1.2 1l-.3 1.8l.5 1.7l-1.6 .8l-1.6 1l-.7 .8l-.4-1.6M282.6 132.9l1.2 .6l-.1-.7l-.2-1.5l1.2 .1l-1-.6l.2 .3l.9 1.2l1.8 0M288.9 163.6l-1.6 .3l0 .1l-.8-.4l-1 1.4l0 1.2l0 1.8l-1.3 1.3l-.3-1.5M294 173.4l-1.7-.7l-1.7 .6l.6 1l1.8 .2l.3-1.5l.6-1.7l1.5-.6l1.6 .4M282.1 143.1l-1.6 1l-1.8 .5l.1 1.5l-1.6 1l-1.3-1l.7-1l-.5-.5l-1.1 .9M264.5 166.6l.9 1.5l1.2-1.2l.2 .2l1.5-.7l1.5 .5l1.7-.9M306.7 143.2l-.1 .9l.6 1.5l.9 1.5l1.4 1.1l1.2-.4l.8-.5l1.4 .2l.8-.5M326.6 165.2l.5-1.5l-.7-1.5l-.5-1.2l-.3-1.8l.3-1l-.4-.7l-1.8 0l-.8 .5M311.5 144.6l.5 1.6l1.7 .4l1.8-.7l1.2 .1l1-1.6l1.9-.3l1.3 1.2l1-1.4M316.2 127.5l-.8-1.7l-1.7-.6l.5-1.1l-1.7 .6l-1.5-.8l-1.7 .1M279.2 162.5l.5-.2l-1.4-.4l-1.4-1l-.8-1.3l-.8-1.5l1.9 0l.2 1.8M288.5 169.9l-.3-.2l-1.3 .4l-1.3-.9l1.6-.6l1.3-1.3l1-1.3l1.1-.4l-1 1.1M299.4 131l-1.5 .9l.2 1.2l1.3 .6l.8 .8l1.3 0l1.3-.7l1.6 .2l.5-1.8M266.1 169.3l1.4 1.1l.4 .5l1.4 .8l1.2-.8l1.5-.6l.2-.9l1-.8l.7 1.2M297.4 146.4l1 1.2l1.3 1.2l.1 1.5l.5 1.4l1.5 1l.9-1.5l.9 1.3M299.2 139.2l.1-1.1l-.6-1.6l.5-1.6l1-1l1.7 .5l1.6 .9l1.4-.8l1.1-.4M283.8 172.1l.9-1.1l-.4-1.1l-.3-1.3l-.3-.7l-.3 .1l-1.1-.1l-1.1-.5l-1 .7M316.4 129.5l-.3-1.3l-.8-1.2l1.9-.2l.1 .9l-.5 1.3l-.1 .9M314.8 144.4l-.9-1.6l-1.7-.2l-.6 .6l-1.4 1.3l-.2 1.7l-.3 1.3l.8 .9l.4 .4M285.8 156.1l.9 .7l.4 1.6l1.9-.1l1.6-.1l1.4 .9l1.7-.3l-1.8 .4l.5 .1M304.7 125.5l1.7 0l-1.6 .6l-.2-1.4l-1.2-1.3l-1-.7l-.3-1.7l-1.2-1M291.3 148.2l1-1.2l.2 0l-.5 1l-.7 .1l.4 1.2l0 .9l-.5 1.8l-.6 1.8M293.3 150.1l1.4 1l.1 1.4l0 .1l-.3 0l-.1 1.3l-.2 1.3l.4 0l1.2 0M304.7 152.7l1.7 .6l.1 .9l1.8 .2l1.5-1l1-.2l1.4 1.1l-1.8 .3l-1.4 .9M288.4 160.7l.4-.2l1.3 .3l-.9 1.4l-1.8-.4l-1.6-.7l-1.8 .1l-1.6-.4l1.4 1M281.6 162.6l-1.8 0l-1-1.4l.4-1.7l-.7-1.5l-1.4-1.1l-.1-1.8M323.8 139.7l1.7 .6l-1.6 .5l-.1 1.7l-.6-.2l.5-.7l1.5-.5l-1-1.6M280.3 127.6l-1 .6l-.9 .7l-.2 1.5l1.7 .6l1.9-.3l-.4-1l.4 1.6l1.6 .7M301.8 157.8l-.9-1.4l-1.3-1.3l-1.4 1.2l-.2 1.8l.1-.8l-1.5 .6l-.4 1l-1.2-.6M310.7 157.9l1.7-.3l.6 1.7l1.5 1.1l.6 1.7l.8 .3l.6-.4l-1-1.5l-.8-.4M299.3 137.9l1.6-1l-.3-1.3l.5-.4l.4 1.8l-1.2-1.4l-.9-1.2l-.3 0M309.1 141.1l-.1 .6l0 1.1l-.9 1.7l-1.8 .3l-1.6 1l-.9 1.4l1.1 .5l.9-.5M302.6 142.7l.9 1.2l1 1.6l-.8 1.7l.6 1.8l1 1.1l-.1 1.5l-1.8 .2l-.2 1.9M302.8 151.8l-1.6-.7l-1.3 .6l-1.2-.5l-1 .6l-.3 1.6l-.2 1.8l-1.8 .3l-.8-.3M321.4 120.4l1.9-.1l-.2 1.7l0 1.6l.5 .6l1.7-.8M310 152.6l-.1 1.2l-1.1 1.2l-1.2 1.1l-1.5 1l-.9 1.2l-.2 1.7l-1 .8l.1 1.3M297.8 139.9l1.1-1l1.1-1.5l-1.6 .8l-1.7 .1l-1.8 .5l-1 1.7l.1 1.5l.7-1.1M292.7 125.9l.5 .2l-.8 1.7l.8-.3l1.7 .3l-1.3 .4l1-1.5M285.8 145.7l-1.1-1.3l1 1l0 .8l-1 1.5l-.7 1.6l-1.5 .6l-1.6-.6M309.5 151.8l-.5 1.1l-.2 .6l-1.3-1l.5 1.1l1.2 .4l-1.8-.3M272.7 149.1l1.2 1l.5 1.4l-.4 .1l-1.6 .7l0-.7l1.1-1.1l.3-1.3l-1.3-.5M295.8 116l-1.3 1.4l-1.7-.3l.5 1.3l.3 1.4l.9-.6l.8 1.1l-1.8-.5M269.3 167.6l-.9 1.4l-.3 1.6l-.8 .8l-.3 .2l1.6-.9l.8-1.6l.2-.1l.1 .9M307.6 148l.8 .7l-.4 .5l.7-1.3l.7-.8l-.9 .8l.3 0l-1.7-.1M303.1 148.9l1.4 .8l-1 1.5l-1.1 1.4l-1.4 1.2l-1.1 1.5l-1 .9l-.4 1.6l-.8 .9M280.5 151.4l-.5-1.7l1.3-1.4l.7 1.1l-.3 1l-.6 .2l-.9-1.2l0-1.9l-1.2 1.4M306.8 133.7l-1.2 .4l-1.9 .2l-1.7 .4l-.8 1l-.2 .8l-.1 1.5l.1-.1M284.2 159.5l-.7 1l-.4 1.4l-.8 1.6l-.2 1.2l.6 1.3l.2 1.2l1.5-1l-.6 .5M280.8 165.4l-.4-1.8l-1.6-.6l-.9-.7l-.9-.5l.1 .3l0-1.3l.3-1.8l0-1.8M292.6 139.2l-.9 .8l-1.2 .9l-1.2 .2l.1 1.5l.6 1.5l-1.2-1l-1.3-.9l-.8 1.4M307 130.2l1.3-.5l1.6 .5l1.1-.5l0-1.8l.7-1.8l.9-1.7l1.6-.8l-.6 1.1M290.9 137.9l1.4-.5l.3-1.1l-1 .9l-.6 1.8l1.2 1.4l1.7 .8l1.9-.2l1.6 .7M325.5 123.5l-.5 1.6l.7 1l-1.7-.3l-.2 .2l-.6 .4l-.1 1.5M293 169.2l-1 1.6l-1.7-.7l-1.7 .3l-1.3-.9l1.3-.1l1.3-.7l1.6 .2M290.5 133.1l.3-1.1l1.1-.4l-.6-1.1l.3-1.8l-1.8-.4l-1.6 .9l-1.6 .8l-.9 1M275.5 128l1.1-.6l.9 .3l.2 .8l-.6 .3l-1.3-.7l.2 1.1l1.3 1.3M313.8 139.9l-1.9 .5l-1.8 .3l-.7 0l-1.8-.3l-1.6-.7l-.8 .4l-.9 1.2l-.3 .3M298.9 153.5l.3 1.5l-.3 .8l-.3-.9l-.7-1l.9-1.4l-.6-1.6l0-1.8l-.8-1.3M311.4 119.8l-.2 1l-.3 1.9l-1.5-.5l-.4-.1l0 1.3l0 1.9M287.1 136.4l.8 1.6l1.3 .7l1.1-.2l1-1l1.3 .4l.7 .3l.7 .2M306.8 141.9l.6 1.5l.5 .9l.8 1.6l.7 .3l-.7 1.3l-.6 1.7l1 .4l.8-.8M317.3 150.4l.6 1.4l-.3 .8l-.6-.5l-1.5-.7l.8 1.2l.4 1.2l1 1.4l.8 1.6M291.4 136.8l-.9-1.3l-.3-1.7l0-1.1l-.1-1.7l-1.1-1.4l.2-1.8M293.2 132.5l.9 1.1l.9 1.6l.9 1.1l1.4-.3l1.4 .4l1.1 .1l-.6 .4l-1.1 1M300.9 170.4l.5-1.8l0-.4l-1.1 .4l1.3 1.3l.8 1.4l1.6-.4l.4-1.9l1.3 1.1M304.9 138l-1.2 1.4l-.7 1.3l.2 1.9l1.4-1.3l1.4-1.3l1.6-.1l.6 .9l.4 1.6M304.1 128.3l-1.5 1.1l.5 .9l1 1.1l-.8-1.2l-.6-1.5l.2-1.8l-.8-1.6l-.4-1.5M304.9 165.2l-1.4-1l0-.6l.6-.9l1.6-.9l1.3-1.1l-.8 1.7l-1.1-.2l-.3 .4M321.7 149.9l-1.2 1.5l-1 1.7l-1.5-1.1l-.4 .1l1 1.6l0 1.7l-1.7-.7l-1.7-.5M282.6 167.3l-.4 1.7l0 1.8l-.6-1.7l-.1 1.3l.8 .6l1.3 1.2l1.8-.4M310.7 158.4l0-.8l-1.2 .7l-1.2-.1l.9-.9l1.8-.2l.4-.9l-.3-.8l-.2 .2M284.9 153.1l-1.3 1.1l-1.2-.2l-.9 0l-1.1 1.5l-.5 1.7l-.8 1.2l-.1 1l.7-.4M316.1 134.4l.6 1l-1 1.4l-1.1 0l-1.4-.4l-.5 .6l-1.7-.7l-1.5-.6l-.8-.8M275.2 124.7l.6 1.7l1.8-.3l.6-.8l.7 .4l1-.6l-.7-1.4M280.4 156.6l1.3-1.4l.6-.1l.2-.7l.8 .6l1.5 .1l.6 1.7l.3 0l.6-1.3M302.6 162.8l-.7-.7l.2-1.8l.1-1.5l1.2-1.2l1.8-.4l.5 1.8l-.8 1.7l-1.3 .5M297.9 134.2l.2-1.6l.9-1.2l.1-1.5l-1.5 .1l-1.6-.6l-.6-1.5l1.4 .2M290.9 127.4l-1.3 .3l1.4-.9l.6 .5l.1 .6l.2 1.2l.7 .3l-1.3-.2l.8-1.4M288.1 131.7l-.7-.8l-1.5-1l-1.3-.3l-.1-.6l-1.1 1.1l-.9 1.6l.2 .6l-.4 1.5M306.5 138.5l-.5-1.1l-.7-1.7l-1-1.3l-.2-1.8l-.6-1.5l-.5-1.7l-.3-1.7l1.4-.4M293.3 150.9l-1.7-.5l1.7-.8l.6 .5l-1-.2l.6-1.8l.8-1.7l.4-1.8l1.3 .5M296.7 136.8l-1.8 .5l.5 .7l.4 1.6l1 .3l.8-.5l-.7 1.1l1.3 1l-.3-1.8M274.5 171.7l.3-.6l.7 .4l-1.8-.1l-1.1-.6l-.3-1.8l-1.6-.9l-.2-1.5l.4-1.3M327.7 163.8l-1.8 .2l-1.6 1.1l1.2 .5l1.5 .8l-.3 .5M297.8 128.1l-1.4-1.1l-1.3-1l-1.8 0l-1.7 .4l0 1.1l-.6 1.4l.9 1.4l-.8-1.2M297.1 164.9l-1.8-.3l-1.5 .3l-1.2-1.3l-1.8 .5l.5 1.4l1 1.5l-.1 .1l-1.2-.6M307.6 139.9l-1.5-.5l1.7-.6l1.6-.1l1 .4l.5-1.3l-.4-1.6l-1.1-1.2l-.3-.8M316.7 140.8l1.9-.3l1.4 .3l1.2-1.2l1.8-.5l1.5-.4l1.5 0M296.5 150.1l.2-1.6l.4-1.5l-1.5-1l-.2-1.8l-1.8-.4l-1.6 .5l.1 1.3l-.9 .9M279.9 145.3l-.6-.2l-1.4 .4l-.5 .1l1.8 .2l1.6 .6l1.5-.1M300.7 137.8l1.8 .4l1.5 .4l-1.3 1.4l-.4 1.2l1.6 .5l1.6 .2l.1-.7l-1.5-.3M297.7 174l.1-.8l.4 .6l-1.1 .8l-1.7 .9l-.4-.3l.5-.4l.3-1.4l.5-1.7M300.5 155l-1.1-.7l-1.8 .3l1.5-1.2l1.1-1.2l-.5 1.7l-.4 1.7M315.9 124.3l-1.5 .5l-1.7-.2l-.8-.2l1-1.2l-.9-.4l-.7-.8l-1.3-1.3M282.2 123l-1.8-.2l0-1.8l-.4-1.5l-1 .2l-1.2 1.6l-.2 1.8l-1.5-.1l.5 1.8M301.1 150.1l.5 .6l1.3 1.1l1 1.5l1.3 .9l-.1 1.1l1-.4l-.9 .5l-.6 1M287.1 171.9l1-.5l1.8 .3l.1-1.4l1.4 .4l.5 .2l-.1 1.4l-1.5 .2l-.7-1.4M290 139.1l-.8-1.6l-1.4-.3l1.5-.8l1.9-.2l1.2 .8l1.4-.3l-1.4-.6l1.2 .9M290.8 162.1l1.8 .4l1.7 .7l1.4-1.2l.3-1.7l-.2-1.7l1.5 .2l.3-1.8l-1.5-.4M316.7 136.9l.9-.6l1.3 .2l1.9-.3l1.7 .2l1.8-.7l1.4 .9M282.1 154.7l1.2 .1l.8-.5l.4-1.3l-.5-1.4l-1.3 .3l-.5 .7l1 1.1l0 1.8M291.1 169.7l-1.5 .5l.3 .9l1.5 .1l.7-1.7l.6-1.6l.8-.7l-.8-.6l-.6-.4M293.2 174.4l-.9-1.5l1.7 .5l-.1 .3l.5 .2l1.6-1l1.7 .6l1.7 .5l1.3 1.2M299.8 173.3l1-1.5l1.3-.5l1.8-.7l-1.6 .9l-1.5 .1l-1.3 .3l-1.4 1l-1-1M266.5 131.6l1.5-1.2l1.5 .3l1.6-.2l.7-1.7l1.1-.1M312.5 126.1l1 1.5l.4 1.3l.3 1.7l-1.3 1.3l-.1 1.1l-.1 1.9l-.5 1.5l.5 .8M319.5 141.3l-1.8-.1l-1.6 1.1l-1 1.1l-1.8 .7l-1.8 .7l.7-1.2l1.4-1.3l.5-1.6M291.3 141.6l.8-1.5l.8-1.6l1.8-.6l.4 .3l1.3-.9l1.7 .7l1.2 1.3l.5 1.7M290.6 166.3l-.6 .8l1.6-.3l1.6-.3l1.3-.5l1.3-.8l-.2-.7l1.6-.9l-.3 1.6M283.7 153.5l-1.1 1.5l.2 1.8l-1.2 .9l-1.2 1.4l-1.4 0l-.9-1.5l-.1-1.7l-1.1-1.1M306.6 124.3l.7-.7l1.8-.5l1.8-.6l1 1.5l-.7 .9l.8-.3l-1.3-1.1l-1.1-1.1M321.4 152.4l.5-1.1l-.3-1.4l-.4-1.8l-1.8-.3l-1-1.4M268.2 152.9l1.2 0l.5-1.8l-1.4-1l-.6-1.6l.3-1.6l.5-.5M290 159.7l-1.8-.5l-1.7 .4l1-1.3l.5-1.6l1.8-.2l1.8 .5l-.9 .3l1.3 1.3M313.9 143.8l-1.2 1.6l-.3 1.6l.5 1.6l-1.4 1.3l-1.3 .9l1.7-.1l1.5 .9M298.1 124.9l.2 .7l-.6-.8l-.4-.7l.1 .7l.7-1.8l-.8 .4l.8-1.6M290.2 147l-1.8-.1l-1.1 1.3l-1.1-1.4l-1.3-1.1l.8-1.5l1.2-1.4l-.7-1.4l.2-1.8M286.7 129.5l1.3-.6l1.6-.3l1.1-.9l.1 .5l0 .8l.3 1.5l1 .5l.3 .9M271.1 145.4l.5-1l-.7 .3l.2-1.4l1.4 .7l1.7-.9l-1.2-.4M312.8 145.6l-1.5-.8l-.8-1.5l-1.5-1.1l-.5 1.3l-1.5 .9l-1.4-1.1l-.2-1.6l.6 1.1M295.3 160.2l1.6 .2l1.8-.2l1.6-.5l-1.2-.8l.1 .6l-1.6 .7l-1.7 .8l-.8-.4M284.2 153.9l-1.2 .9l1.6 .3l.1-1.3l-.1-1.6l1-1.6l-.5-1.7l-1.7-.6M277.1 160.3l1.4-1.3l1.1-1.4l.7 .3l.2 1.7l.4 1.3l-1.1-.4l.4-1.1l0-1.8M283.3 147.3l1 1.3l.2 .6l-1.5-.3l-.3-.9l1.6-.9l1.2-1.2l1.6 .4l1.7 .3M288.6 165.3l.9 1.6l-.8 1.7l-1.6 1.1l-1.3-1.1l-1.5-.9l-.5-1.8l-.3-1.3l-1.8 .5M296.5 151.2l.9 1.5l.9 .3l-.1 1.7l1.9-.2l1.1-1.4l1.2-1.4l.7-1.7M286.2 167.2l1.3-.6l.1-1.5l.7-1.7l-.6 .5l.1 1.2l-1.1 .3M300 160.9l.4 1.6l1.5 1l-.5 1l.6-.1l0-.7l-1.2-1.2M280.8 167.9l-1.8 .4l-1.4-.7l-.3-.9l1.3-1.3l.2-1.9l.4-1.1l.8-.9l-1.6 .1M301.8 129.2l1.5 .7l1.5 .8l1-.3l.5-1.5l.7-1.6l-1.5 1.2l-1.8 .8l-.8 .6M287.1 146l-.8 .8l-1.1 .6l-.6-1.4l-1 .2l.7 1.4l1.1-.3l1.9-.3l1.6-.8M282 148.1l-.9 1.3l.7 1.4l1.3 .5l.4 1.4l1.9 .2l-1.6-.9l-1.5 .4l.6 .5M309.8 122.8l.2 1.7l-.2 1.7l-.2 1.3l-.4 1l-1.8-.2l-1.1-1.3l.9-.2l.9-.5M298.5 148.6l-1.3-1l-.7-.4l.6-.4l-.6 .4l-.7 1.5l-.3 1.4l.4 1.4l-.3 1.7M293.8 152.7l-.9 1.5l-1.1 1.6l-.3 1.5l-1.8 .7l-.4-.8l-.6-.6l-.8-1.7M285.4 134.6l.2 1.2l.5 1l.9 .2l1.2 .3l-.1 1.6l-.2 1.3l-.7-1.3M297 153.3l1.2 1.2l.9 1.5l1.7-.3l1.6 .8l1.1 .5l1.1 0l.5 .7l1.8 .6M304.6 150.6l-.9-1.5l-1.5 .1l.6-1.2l1.9-.1l1.6-.6l1-1.4l1.3-1.1l-.2 .1M303.8 146.8l-1.1 1.6l-.3 1.8l0 1.8l1.2 .9l1.1 1.3l.6 1.3l-.8 1.4l.5 1.4M284.6 136.2l-.6-1.2l-.9-.8l-.5-1.2l-.6-.7l1.7-.3l1.8-.1l1.2-1.5l.7-.2M273.7 153.7l.9 1.5l1 1.5l-.1-.7l.8 1.5l.9 1.5l1.2-.5l-1.4-.5l-1.6-.8M278.8 125.2l-.6 1.4l.6 1.3l-1.2-1.4l-.9-1.1l-1.6 .2l-1.7 .7l-1.4-1l.5 1M319.1 127.3l.7 .3l-1.3 .1l.2-1.7l-1.4-.1l-1 1.3l-.1 1.9l-.5 1.4l-1.8 .4M301.1 152.1l1.3-.8l-.2-1.1l-1.8-.6l-1.5 .3l1.6-.9l1.8-.3l1.7-.7l1.3 .1M297.5 153.8l-1.4-.6l-1-.2l-1.7 .3l-1.7-.5l.9-.7l-1.4-.2l-1.1 .9l-1.8-.1M288 146.7l.8 0l-.4-1.7l-.2-1.2l.4-1.2l-.2-.9l.8-1.6l-.4-1.1l-.6-.8M268.3 137.5l-1.4 .7l1.8-.4l0-1.8l-.8-1.5l1 1.5l1.8-.4M312.4 137.1l1.5 .7l1.8 0l-1.9 0l-1.5-.9l-1.3-.6l-1.4-1M327.2 137.5l-1.6 .6l-.7 1.1l-1.6 .9l-1.6 1l.5-.5l.4 1.1l1.3 1.2M287.7 166.6l1.7-.1l1.1-1.6l1.4-1.3l1.5 .9l1.7-.6l.6 1.2l1.7-.9l1.5-.9M314.7 153.5l1.3-1.3l1.9-.3l.8 .3l1.9-.2l1.1-.2l1.6 .8l1.6-.6l.9-.8M309.1 144.7l-.4 1.8l-.5 1.9l1.2 1.3l.8-.9l.5 .3M265.3 170.8l1-1.2l0-1.4l1.6-.9l1.7-.2l-.2 1.8l1.6-.2M307.3 127.2l-.3 .4l1.2 .6l-.2 1.8l-.1 1.8l1 1.1l.3-1.3l1.6-.8l-.3-1.6M302.8 148.5l.6 .2l-.9-1.2l-.6 .7l1 1.2l-1.1-1.2l-1.4-.6M302.3 165.9l-.5-1.4l.7-1.5l.4 .8l1.1 1.4l.9 1.3l1.5-.8l-.1-1.4l-.8-1.5M303.4 168.6l-1.4 .9l-1.5-.2l.7 1.3l-1.4 1.2l-.4 0l.6-.6l1 .2l1.6-.7M286.5 140.8l1.9-.5l1.7-.5l1.6-.8l-.1 1.5l-1.4 1l-.6 1.6l1.2 .5M320 129.5l-.4 1.8l1 .4l-.8 .8l-1.5 1.1l-1.6 1l-.7-1.1l-1.5-.9l-.6 1.7M286 134.5l-1.2 1.5l.7-.1l.2-1.7l.7-.6l-.8 .8l1.8-.2l1.7-.8l-1.6-.9M295.2 125.8l-.5 1.4l-1 1.5l.4 1l.6-1.6l-1.2-.1l-.9-.7l-.6 .4l-.8-1.3M299.2 141.7l.3 .9l.1 .1l-.4-1.1l-.7-.1l-.5 .7l-.1-1.7l.3-1.8l.7 .6M295 132.4l-.8 .2l-1.5-1l-1.7-.6l-.8-1.3l-.1-1.9l1-1.6l.6 .2l1.4-1.3M273.7 172l-.9-1.5l1.8-.4l-1.5 1.1l1.8-.2M303.6 131l-.8 1.1l-1.1-1.2l-.7-1.6M294.7 160.9l-.1 .5l1.1 1.2l-.3 .6l-1.7 .6l-1.4 1.2l.1 1.8l0 1.7l.2 1.1M322 153.7l-.7-.5l-.1-1.4l1.4 1l1.5 .7l0 1.7l-.4 1.5l.9 1.5l1.8-.4M288.1 166l0 1.1l1 .6l1.3 .2l-.1 1.7l-1.2 1.4M320.6 137l-1 1.1l.4 1.8l.9 1.4l.7 1.5l-.5 1.4l-1 .3l-1.5-.1l-1 1.4M285.2 149.9l-1.1 .5l-.7 0l-.7-.4l-1.6-.7l-.8-.3l-1.3 .2l-1.8 .1l-1.1-1.2M320.2 157.4l-1.1-.7l-1.6-.1l-1.6-.7l-.9-1.5l-1.7 .1l-1.8-.2M293.5 135.3l1.3-.7l1.8-.2l1.9-.1l.3-1.6l.5-1.7l-.6-1.4l.8-1.2l.9-1.1M280.7 149l.8 1.6l-.5 1.5l-.1 1.8l-.4 1.9l1.8 .3l1.1 1.2l1.7-.3l1.1 0M275.9 153.1l-.3-1.8l-1-1.4l-1.6-.3l-1.8 .1l-1.2 .6l-.3 .2l-.2 .7M290.8 171.5l1-1.3l.6-1.6l.4-1.4l1.3-.5l.4-1.8l.6-1.8l-.4-1.7M305.1 135.7l-.5 1l1.1 1.3l-.5 .4l.3-.5l-.4-.3l-.3-1.2l-.8 .6l-1.6 .8M298.5 127.4l-1.1 .3l-.9 1.7l.9 1.3l.8 1.6l1.1-.6l.9 1.1l1.1-1.3l1.7 .5M315.2 137.5l-.2 .3l-.3-.3l.5 .2l1.4-.8l-.8-.7l.2-1.3l-1.3 0l1-1.1M277.8 170.6l.7-1.4l.3-.5l.6-1.8l-1-.9l-.8-1.5l-.6 .8l-.2 1.8l.7 1.1M302.3 142.1l-.4-1.4l.4-1.1l-.6-.6l-.8 .4l1.3 .9l1.7 .5l-1.7 1l-1.1 1.5M321.8 123.8l1.1 1.3l.2-1.5l-.2 1.7l-.4-1.7l-.6 .4l-.8 1.2M285.8 156.1l-1.1 1.6l-.4 1.8l.1 1.8l1.2 .4l1.5 .8l1.8 .1l1.3 .4l.4 1.2M270.4 137.8l-1.2-1.4l.9-1l.7-1.2l-1-.7l-1.8 0l0 1.7l.2 1.9M300 144.6l.8 1l-.9 1.5l1 .5l.6-.3l-1 1l-.4 .9l-.2-1.9l-.8-1.6M301 158.6l-1.1-1.2l-.4-.7l.2-.3l1.6-.9l1.4-1.2l.2-1.8l.7-1l-1.7 .5M269.3 171.1l1.1 1l.8 1.1l.7 1.6l-.2-1.8l-.5-1.5l-1.1-.5M291.3 153.2l-1 .2l.4-1.8l1.1 0l-.9 1l.1 .4l.2 1.6l.3 .6l-.7 1.6M295.7 151.2l.5 1.6l-.8 1.7l.4 1.7l.8 1.6l-1.7 .3l-.4 1.8l-.1 1.4l.6 .9M303.3 153.2l1.1 .2l-1.7 .7l-.6 0l-.9-1.3l-.4-1l-.5-1.7l.2 .1l.4-.2M288.9 141.5l.2-1.8l1.6 .4l.8-1.6l.8 1.1l-1.3-.3l.5-1.2l.9-1.1l.5 .1M283.3 162.1l-1 0l1.5-1.1l.1-.9l-1 0l-.3-.9l.6-1.3l.5-1.8M307.8 137.6l-1.5 .4l-1.5 .7l-.2 1.4l-1.2 1.5l.6 1.6l.8 .5l-.7-1.1l-.5 1.1M295.1 137.3l-.7-.3l-.1-.9l-.6-1.2l.8 1.6l-.4 1.8l-.2 1.5l.2-1l.1-.6M294 146.1l1.3 .5l.6 1.2l.6 1.7l.4-1.3l-.2-1.3l-.6-1.3l-1.4 .6l-.7 .7M287.9 163l.2 1.4l1.3 1l1.1 1.3l0 1.8l-.2-1l.3-1.7l-.5 1.3M297.6 130.7l.2 .6l1.2 1.2l-.8 1.7l-1.1 1.5l-1.3 0l-1.4-1l-1-.3l.6-.1M317.5 143.1l1.3 1.3l1 1.4l.5 1.8l.5-.2l1.7 .6l.8 1.1l-.5-1M288.7 139.2l.4 1.4l.5 1.7l-.2 1.6l-1.4 1.3l-.3 1.5l.3-.1l.9 .6l1.5-.5M316.3 162.2l-1.4-.5l-.3-.1l-1.4-.5l-1.9-.2l-1.2-.1l-.8-.5l.3-.8l.7-.1M282.6 137.3l.4-1.7l.7-1.3l1.1 .5l-.8 1.7l.2 1.6l1.3 .1l1.8-.5l-.3-.9M307.8 145.3l1.5-.3l.8-1.3l.7-1l1.5-1l1.8 0l1.7-.9l.4-1.8l.5-1.8M310.5 128.5l1.4-.8l1.2-.6l-.2-1.7l-1.7-.1l-.7 .8l.9 1.1l1.8 .2l1.1 .9M303.2 120.3l1 1.4l.6 1.7l.3 .4l-.2 1.3l-.1-1.7l.3-1.4l-.7 1.3l.2 .5M281.7 153.1l.7 1.6l1.6-.5l1.5 .9l-.5 1.8l-.4 1l-1.1 1.5l-1.6 .7l1.3 .1M310.6 123.4l0-1.4l1.1-.7l1.4-1.4l.3-.9l0-1l.3 .2l.1 1.2l1.5 1M323 137.6l-1.2 1.2l1-.4l1.9-.5l1.2-.2l.9-1.3l.1-1.7M282.7 156.9l.9-.5l-.5 .7l-.5-1.3l1.8-.4l.7 1.2l-1-.9l-.7 .3l.2 .2M306.9 142.2l-.1-1l.8-1.7l-1.5-1l-.1-1.7l0-1.6l-.7 1.2l-1.6-.9l.1-1.4M282.7 140.8l-.9-.1l-.7 1.1l.1-1.9l1.8 .1l1.6-.4l1.5 .5l1.7 0l.1 .2M286.4 155.1l-1.1 1.3l-1.3 1.4l-1.7 .9l-.1 .6l-.8-.9l-.3-1.3l-1.8-.1l-1.2-1M275 154.7l.6 1.6l.2 1.3l-.7-1.7l-.2 0l-.7 0l-1.5-.9l-.1-1.5l.2-1.8M320.9 138.1l-.6 1.1l-1.2 1.5l-.4 1.7l-1-1.2l-.3 .2l.5 1l.6-1.7l.1-1.1M310.1 157.7l-.5-1.7l1.5-.4l.9-1l1.7-.6l1.7 .7l1.8 .2M301.6 175.7l1.7-.6l1.6-.3l1.7-.9l1-1.5l.2-.9l-1.8-.4l-1.2-.3M283.3 159.8l-.6 1.5l.5 1.3l-1.2-.6l-.6-.2l0 .4l.5-1.5l1.1-.4l-1.7-.2M278.5 120.1l-.7 1.7l.6 1.5l-.4 1.8l-1.7-.1l.9-1.4l.3-1M299.2 157.3l-1.5-.8l.5-1.8l-.4-1.7l-1.2 .1l-.3 1.1l-1.4-.8l-1.5-1l0-1.8M264.2 136.6l.9-1.3l.9-1.1l.4-.9l0-1.7l.1-1.3l-.1-1.7M287.7 166.5l0 1.2l1.2 0l1.2 .7l.8-.1l1.1-.1l1.5-.9l.5-1.2l.5-.4M294.9 145.1l.1-1.8l1-1.7l1.5-1l.2 1.8l-.6-.6l-.9-1.5l1.5 0M288 137.7l1-.7l1.3-.1l.3-.7l-.6 1.3l.6 0l.5-1.8l-1.1 0l-1.6 .6M313.6 145.7l0 1.1l-.8 1.4l.4-.3l-.4-1.1l-1 0l-1.1-1l-.2-1.7l1.5-.7M290.5 164.5l1.4 1.1l1.8-.4l1.4-.3l-1.4-.8l-.7-1.6l-1.4-.6l-.5-.8l.5-.2M295.3 165.1l1.6 .3l-.2-.3l1.9-.2l1.2-.9l1.3 1.2l-.5 .2l1 .3l1.7-.1M285.4 162l1.6 .4l.5 1.7l-.7-.1l1.4-.4l.7-1l.7-1.2l1.2-1l1.3-1.4M300.6 127.4l-.4 1.8l-1.2 .7l-1.2 1l-1.6 .4l-1.3 .5l-.2 .7l-1.1 1l-.6-.2M302.8 141.4l-.6 1l-1.6 1.1l-1.8 .1l-1.6 0l-1.4-1.1l-1.3-1.2l.5-1.2l-1.9 .3M285.3 168.6l1.5 .2l1.6 .9l-.5 1.6l-.1 1.6l-1.6-.6l-.2-1.3l-1.5-.9M286.5 153.3l1.5-1.1l-.7-1.3l-.4-.3l.8 1.5l0 .3l-.9 .7l1.9-.2l1.5 .6M267.9 127.8l-.1 0l-.5 .7l-.1 .9l.6-.3l.4 .4l1.7-.1l1.5-1.1l1.1-1.5M300.1 163.2l-1.2 1l-.7 1.5l-.9 1.7l.3 1.4l.7 1.5l-1.6 1l.1-.5M279.5 144.8l-1.5 1.1l-.3 1.1l.3 1.3l-.4-1.7l-.6-.4l.7 .9l1.3-.6M268.4 143.6l-1.5 .6l.9-1.5l1.5-1.1l1.6-.2l1.2 1.3l-1 1l-.3 1.4M288.3 161.3l0 .6l-.3-1.1l-.7-1.7l0-1.2l-1.4-.9l-1.3-.9l.5 1.7l-1 .7M288.9 163.6l1.3 1.2l-.2 .6l.3-1.4l1-1.6l1.4-1.3l1.5-.8l.8-1.7l-.6-1.7M284.9 139l.7 .6l1.5 .6l.4 1.7l1.5 .6l1.5 .9l1.8 .5l-1.1 1.2l-.8 1.5M309 142.6l1.6 .9l1.7 .7l1.4 .5l1.9-.1l.9 .1l1.5 .1l.2-1.4l1.1-1.1M268 177.5l-1.2-1.4l-.7-1.6l.9-.7l.1 .1l.8-1.1M299.7 170.2l1.3-.5l-1.8 0l-1.2-.7l-.4 0l-.9-1.4l.1-.3l-1.1-1M285.3 153l-1-.7l-1.3-.2l-1.4 .2l-.7 .3l-1.8 .2l-1.3-.1l-.6-1.6l1.2 .1M296.9 135.1l1 1.5l-.3 .1M297.4 137.8l-.6-.2l-.2-1.2l-.7 1.7l-.7-.1l1.2-1.6l.8-1.7l1.6 1l1.7 .5M275.6 145.7l-1.4 .6l-.9 .6l-.4 .9l-1.5 .7l-.7 .6l.7 0l-1.3-.9M295 149.5l1.3-.7l1.1-.2l-1.9 .2l-.7 1.6l.8 .6l.5 1.6l.6 1.4M319.3 123.8l1.3-1.3l1.2-1.5l-.8-.4l-1.2 .2l-1.3 .9l-1.7 .8l-1.6 1M283.8 143.2l-.5 1.8l.1 1.6l.1 1.2l-1.3 1.4l.6 .9l1 .6l1.5 .4l-.3 1.5M307.4 159.3l0-.3l.3 .9l1.3 1.1l.6 1.2l1.6-1l.6 1.3l-.5 .2l.3-1.8M320.8 157.5l.6 1.4l.4 1.7l1.4-1.3l-1-1.5l-1.2-.6l-1.3-1.3l1.4-.8l.8-1.8M283.2 165.2l1.4 .7l1.2 1.4l1.8 .3l.1-1.8l.8-1.8l0-1.8M282.4 136.7l-1.5 .1l-1.5-.9l-.6 .1l.4 1.5l-1.1 1.5l.2-1.5l.9-1.7M308.7 154.1l.9-1.5l.1 .9l.9 1.6l-.7 1.7l0 1.1l-1 1.2l-1.7-.2l-1.7-.6M306.8 131.8l-1.5 1.2l.4 1.8l1.9-.2l1.7 .1l1.6 .8l.9 1.3l-.1 1.8l-.6 1.8M292.5 136.3l1-.6l.4-.3l.9 .6l1.6 .3l-.5-.1l.2 .7l1.6 .8l.5 .2M306.4 161.9l-.1 1l-.6 .7l-.7-.2l.6-.6l1.7-.8l1.3 .1l-.3 1.5l.9 1.1M286.9 130.8l1.6-.1l-1.7-.1l-.2 1.5l-.9-.2l1.5 .4l-.3 .6l-.1-.1l-.6-1.8M285.3 151l1.1-.7l.9-.4l-.1-1.4l-1.3 .1l-1.1 1l-.6 .5l-.6 0l.9 1M268.5 137.8l-.5 .1l.9-.7l1.7 .7l-.6 1.5l1.5 .8l1.4-.2l.9 .5l1.6 .7M294.9 125.3l-.4 1.2l.1 1.8l-.6 .9l1.6-.7l-.6-1.4l-.4-.8l1.2-1.3l1.7 0M320.1 170l-.5-1.8l.4 0l-.9-.8l1 .7l-1.5-.9l.7-.1l.9-.2M304.8 166l-.4-1.4l.5-1.7l.6-1.5l.6-1.2l-1.1 .2l.7 1.1l1.2-.5l-.3-.9M297 156l.4-.6l-1.6-.7l-1-.3l.2-1.9l.3-.5l-1.4 1.2M305.8 138.7l-.2 1.5l-.8 1.5l1.8 .1l1.6 .9l1.6 .9l1.2 1.3l-1.5 1.1l-.3-1.8M288 155.1l-1.6 .1l-.5-.5l-.3-.7l1.2 0l1.2 .9l1.3-.3l.8-1l-1.2-.1M294.5 157.5l.8 .6l.9-.2l.8 .3l.8-1.1l1.3 1.1l1.3 1.1l1 1.5l.3 1.8M309.8 124.8l.7 1.6l1.6-.9l1.9 .1l1.8-.2l-.4 1.2l-.2 1.6l-.7 .5M301.6 160.2l1.6 .2l0 1.4l.4 1.3l.6 1.7l1 1.4l-.8-1.6l.7 .2M302.3 130.5l-.7-.5l.7 1.2l1.6 .8l1.2-1.3l.2-1.5l.3-1.4l-.5-1.7l-.6-.8M283.4 118.4l1.3 1l1.7 .6l.3 1.9l-1.4 1.3l-1.3 .6l-.5 .8l-.6 1.6l-.2 1.1M297.2 143.9l-.1-1l1 .7l-.7 0l-1.3 0l-1.1-1.1l1.1 1.1l1 1.4l.5 1.2M278.2 158.6l-1 1.6l1.7-.8l1.8-.6l-.2-.1l-.3-1.6l1.1-1.6l-.5-1.6l-1.4-1.2M316.6 159.9l.2 1.1l1 1.3l0-.9l-.7-1.6l.8-1.7l.7-1.8l.4-1.8l-.4-.5M299.3 160l-1.2 1.4l-1.3 1.4l-1.9-.2l-1.6 .8l.7 1.4l.2 1.8l1.2 .8l.8-.7M303.4 157.5l1.7-.2l.9 1.4l1.5 1l1.2-.2l1.2 .6l1.1 1.4l0 1.8l1.1 1.2M287.7 140.5l.7 1.3l-1 .9l-.9 .9l-1.4-.3l-1.7-.5l-.6-1.5l-1.4-1l-.1-.7M300.6 160.6l-.2-.9l-.8-1.2l.4-1.4l1.5-.2l1.7 .1l-.2 1.8l1 1.6l.5 .5M269 141.7l1.2 .4l.9-.4l0-.2l.3-1l1-1.3l.2-1.8l-1.4-.7l-.4-1.7M319.1 155.7l-1.4 .8l-1.7 .9l-1.7-.1l-1.8 0l-1.7 .2l-1.4-1l-1.7 .2l-1.8 0M295.8 137.3l-.1-1.8l-.1 .9l-1.4 .6l-.4-.4l-.6 .4l-.6-.6l0-.3l-.4 .7M289.4 129.4l1.6-1l1.4 .9l1.1 .2l1.3 1.1l-1.1 1.6l-.9 1.2l1.3-1.4l-.6-1.6M273.8 149.7l-1.5-.5l-.2-.3l1.7-.7l1.7-.2l-.2-1.5l.8-1.7l-.8-1.4l0-1.2M272.9 172.3l1.6-.5l.6-1.1l-.3-1.6l-.9 .2l-1-.7l-1.1-.8l-.9 1.1M295.2 159.8l-1.5-.4l.9 1.2l1.4-.1l1.4-1.4l.7 1.1l-1.5 .8l-1.2-.8l-1.2 .8M284.6 122.5l-.2-1.9l-.7 1.5l-.9 .5l-1.8 .2l-1.8 0l-1.7-.5l.5 1.5M283 151.7l-.3 1.1l-.6 1.3l.6 1.6l-1.7 .9l-.1 .4l-.4-.5l-.7 .4l-1.7-.7M266.8 166.7l.5-1.8l.9-1.3l1.3-.8l.4-1.8l1.5-1.2l-.7-1l-.7-.5l-.5-.8M276 121.5l.1 1.2l.1 1.2l-.4 1.5l-1.2 .2l1 .2l-1.1 .1l1.2 .4M302.8 171.1l1.4-1.1l-1-1l-1 1.2l-.2 .8l1.4 .6l1-.2l-1 1.5l.8-1.6M293.9 165.2l0 1.8l.7 1.6l-.2 1.5l.1 1.1l-1.1 0l-1.7-.5l.4-1.9M300.8 169.8l1.5-.1l.3-.4l-.8-1.3l-1.3-.3l-1.6-.7l-.5-.9l1.6-.6l.8 1.4M299 141.7l-1 .5l-1.8 .7l-1.8 .5l-1.8 .2l-1.3-1.3l-1.5 1.3l1.4 1l.1 .8M302.8 120.5l-.8 1.8l-.8-1.2l0-.9l.4 .3l1.5-.4l1.3-.6l-1.1 1.4l.6 1.3M300.9 149.8l1.3-.2l1.7 .7l1.8-.3l-1 .9l-.7 .5l-1.7-.4l-1.3-.1l-1 1.1M305 146l1.1 0l1.8 0l1.1 1l-.6-1.7l-.7-.5l1.6-.8l-.2 1.8l-.1 .8M297.8 165l.8-1.6l-.7-1.6l.2-.6l.7-.7l-1.2-.6l-.1-.3l-1.7-.2l-1.8 .7M307.6 120.3l.4 1.4l-1.1 1.3l.4 .1l1.4 .7l1.9-.1l1.5 .9l.5-1.8l-.9-1.1M278.5 150.7l1.6-.7l1.6-1l1-1.5l-.5-1.2l-.9 .3l1.7 .4M287.6 134l-.7-.1l1.7-.9l1.7-.8l1.7 .2l-.1-.3l1.9 0l1.4 .7l-.2-1.3M304.5 172.8l-1-.8l-.3-1.6l-1.3-.2l-1.6 0l-.6 1.8l.2 1.6l1 1.5l1-.8M301 144.5l-.2-1.7l1.8-.5l1.1-.9l.8-.8l1.8 .3l1.6-1l1.7-.6l.9-1.2M297.9 147.2l-.8 .2l-1.2 .4l.5 1.5l-.4 1l1.4 1.2l1.5 .5l0 1.5l1.7 0M307.5 138.3l.8-1.1l1-1.6l1.8 .3l1.7 .6l1.1-.2l.6-.7l.7-.9l.3-1.1M275.8 170.2l1.5-.6l1.7-.4l.6 .1l-1.7-.2l-1.4 1.3l-1.9 .2l-1.8 .2M277.2 163.3l-1.5 .1l-.4-1.2l-1.3-.8l-1.5-.6l-.8-.2l-1.3 .3l-.1 1.7l0 .1M275.6 125.3l1.8-.5l.4-1.4l.6-1.1l-1.8-.4l-.4-.9l-.8 .2M295.7 129.5l-1.3 .2l-1.2 .2l-1.6 .3l-1-.6l-1.2-.7l-1 .1l-1.8 .6l-1.8 0M314.9 157.7l-1.2-.6l-1.5 .6l-.2 1.5l-.1 1.9l-1.2 1.4l-1.7 .9l-1.1 1.1l-1.8 .6M300.3 154.1l1-.2l-1.8-.4l-1.7 0l-1.1 1.1l-1.7 .8l-.9-1.5l-.1-1.8l-.8-1.4M278.4 155.4l1.4 .7l1.7-.2l1.8-.6l1.7 .3l1.7-.7l.7-.7l1.6 .1l1.6 0M293 156.9l-.3-1.5l1.1-1.2l-.1-1.7l.1-.5l-1.2-.5l0-1.8l-.2-1.4l-.6-1.6M286.2 133.3l-1.6-.4l-1.1 1.4l-1.7 .8l-1.8 .1l-1.8 .4l-.3-1.6l-.4-1.1l-.3-1.5M281.9 150.8l-1.1 .5l-1.9-.1l-1.6 .8l-1.7-.1l-.5-1.8l.2-1.7l-.7-1.6l-1.8-.4M295.8 129.1l.3 1.1l-.2-.7l0-1.7l1.5 .8l.2 .9l-.8-.9l-1.5 0l1.1-.6M312.1 147.8l1.7-.3l-1.8-.3l-1.7-.5l-1.7-.5l-1.3-1.2l-1-1.3l0-1.7l-.1-1.9M305.5 149.9l-.7-.9l.8-1.3l.7-1.4l-.2-1.9l-1.2-.9l-.5-1.6l-.1-1.1l-.7-.6M274.8 162.1l.3 1.1l-.1 1.3l-.4 1.8l1.8-.7l.3-1.9l-1.6-.8l.3-1.8M283 122.6l.3 1.2l0 1.4l.9 1.6l1.3 1.1l.2 .9l-.5 1.3l-.8 .8M326.5 134.9l-.1-1l.3-1.5l-1.7 .1l-1.4-.8l-.9-1.6l-1.4-.3l-1.7 .2l-.6 .3M281.4 167.3l1.1-.3l-1.1 0l-.6-.2l-.4-1.3l-1.4-.3l-.5-1.5l-1.3-.7l.2-1.5M309.7 138.1l-1 .3l-.6 1.3l.3 .8l1.5 .5l1-1.4l-.7-1.4l.6-1.4l-.2-.9M285.9 153l-.9 1.7l-1.6 1l-1.8 .3l.8 1.4l.7 1l.9-1l.6-1.7l.6 1.3M303.6 136.6l-.7 .5l1.4-1l1.2-1.1l1.8 .4l-.3-.6l.3-.4l-1-.5M291.1 148.4l1.5-.7l1.2 .8l.2 .8l.6-.4l.7 .7l0 .6l0 .9l-.7-.3M283.2 149.5l-1.1-.9l-.8-1.6l-.4-1.5l-.2-1.3l-.9-1.4l-1.3-1.2l-.7 1.7l-.6 1.6M299.4 122.9l-1.6-.8l1.5-.9l1 .4l-.9-.6l-.7-1.6l-1-1.6l-.9 1.1l1.6 .9M295.2 151.7l1.6 0l1.6 0l-.8 .8l0 .8l.7-1.7l.9-1.7l-1.2 1.4M308.9 143.6l-.6 .1l-1.2 1l-.3 1.4l-.2 1.4l1.8-.2l-.2 .2M286.9 159.6l-1.5 1.1l.8-.4l.8 .1l1.1-1.5l-1.2-1l-1.6-.8l-1.3 1.1l-1.4-.1M284.4 153.7l-.8 .9l-.6 .3l-1.4 .2l.1 .2l1.6 .3l.9-.3l.7 1.6M293.1 167.1l-.9-.7l-1.6 0l-1.7-.6l-1.4 .7l0 1.5l1.7-.7l.9 1.6l1.8-.2M288.8 149.9l.7-1.2l.5-.6l.6-.3l-1.5-.6l-1.6-.6l-1.7-.3l.2-1.3l-1.2 .1M290.9 160.5l-1.4 1.3l0 .6l1.7 .8l1.5-1.1l1-.8l1.8-.8l1.8 .2M316.4 149.1l-1.1 0l-.7-.3l1.5 .3l1.4-1.2l-1.4-.8l-1.1-1M285 120.9l-1.4-1.2l.6-.6l1.7 .4l-.7 .7l-1 .9l-1.5-.6l-1.2-1l-1.3-1.2M318.6 133.2l-1.2 .8l-.4 .6l.8 0l.6-.5l.8-.3l-1.7 .8l-.6 1.6M298.1 134.9l1.1-.3l.9 1.1l1.1 1.4l-.2-1.4l1.8-.1l1.7 .4l1.3-.5l-.9-.1M303.2 155l.4 .1l.5-1.2l.3-.9l.7 1l-1.3-.3l-1.8-.5l-1.6-.7l-1-1.4M307.9 133.9l1.2-.3l1.7 .5l.6 1.5l-1.7-.6l-1.4 .9l-1.6 .1l-1.7-.6l-1.8 .2M277.9 156.3l.9 1.2l-.1 1.8l-.8 1.7l-.2 1.9l-.2 1.2M296.9 153.6l-.3 1.7l-.3 1.9l1.8-.2l1.9-.3l-.1-1.1l-1.4-.2l-1.6-.1l-1.7-.8M291.6 130.2l.2 1.9l.1-.3l0-.5l-1.5 .4l-1.7 .2l-1.4-.8l.1-.2l.6 .6M303 153.2l1-.7l-.5-1.6l-1.7 .7l-1.2 1.5l-.4 1.8l1.3 1.4l1.7 .4M294.4 142.3l1.8-.6l1.6-1.1l1.2-1.3l.8-1.6l-.9-1.6l-1.2 1.1l-1.8-.3l-1.7-.5M307.6 149.4l.9 1.2l1.8 .6l1.7 .7l.8 1.5l1.5 .8l-1.3 .8l.2 .4l-.7 0M311.8 139.8l1 .6l.7-.1l-.1-.1l.5 1.8l.8 1.6l.5 .5l-.6-.5l-.4-1.4M282.6 117.6l-1.5 1.1l-1.6-.3l1.4 .8l1.7-.4l.9 .4l-.7-.2l.7 .6M307.9 137.8l-1.3-1l-.3-1.8l-.2-1.6l.1-1.9l-1-1.3l1.1-1.4l-.4-1.7l-1.8 .4M293.1 141.9l-.1 .5l-.2 1l-.2-.7l-.8-1l-1.5 .3l-1.6-.8l.4 1.7M296.3 164.8l1.1-1.5l-.3-1.7l-.7-.3l-.8-1.1l.2-.8l-.9-.9l.6 1.5l.8 1.5M296.7 152.7l.4 0l1-.4l.3-.5l1.2 .9l1.1 1.5l1.6 .5l1 1.1l-1.8 0M298.6 176.3l-1.7 .4l-1.8 .2l.3-1.8l-.3-1.4l.7-1l.8 .3l.3-1.4l-.3-1.7M287 134.6l-.7 1l-.7-.4l-.5-1.6l1.9 .2l.9 1.2l1.4 1.1l.8 1.5l-.2 1.9M291.8 122.3l.9 .7l-.2 1.8l-.1 1.6l1 .9l-.2 1.9l-1.4 .5l-.3 1.8l.6 1.7M284.4 152.9l1.5 .7l1.2 .8l.5-1.7l-1-1.4l-1.5-.9l-.9-1.6l.1-1.1l.3-.2M275 153.5l1.4 1.1l1.7 .6l.2-1l.8-1.6l-.5-1.3l1.3-.4l1.8 0l1-.6M304.9 123.4l1.9-.1l1.1 1.1l.7-.9l1.4-.4l.8 .8l-.5 1.2l-.7 1.2M279.9 132.8l.7-1.6l1.6-.6l1.7-.7l1.3-1.4l1.7 0l-.4-1.2l-1.6-.9l-.7-1.5M278.3 153.5l1.8-.2l-.4 1.8l.7 1.5l1.1 .6l1.1 .2l.5 .3l-1.4 1.2l-1.5 1.1M306.4 153.5l1.1-1.4l-1.6 1l-1.5 .7l1.5-.4l1.8 0l1.7 .2l1.5 1l1.6 .5"/><path stroke="#22902a" d="M309.1 131.5l.1 1.6l.1 1.8l-.7 .5l1.3-.6l1.5-.6l1.8 .2l1.6 .7l0-.4M313.7 168.1l-.4-.5l-.5-.8l-.4-.1l.8-.5l1.3 1.1l1.3 .9l1.7 0l1-1.4M286.3 138.2l1.5 1l.6 .5l-.4 1.3l1.6 1l1.5 .9l-1.5 1l-1.5 1l-1.5 .4M289.9 137.6l-.3-1.8l.2-1.8l-.8-1.1l1.6-.6l1.3 .7l-1.4-1.2l-1.5 1.1l-1.8 0M305 127.5l.5-1.2l.9-.9l.5-1.6l.8-1.6l1-.2l1.4-.8l1-1.2l1.5-1.3M301 139.8l1 1l-.9 1.3l-.5 1.6l-1.3 1.1l-1.2-.1l.6-1.2l-1-.5l.2-.8M301.5 145.7l-1.2-.5l-.3-.1l.1 1.8l-1.6 .8l-1.8 .2l.9-1.4l1.5-1.2l.4-1.7M292 138.2l0 .8l-.1 1.5l.2-.6l1.4-.4l.8 1.1l.5 1l1.8 .4l1.7-.8M290.4 164.3l.9 1.6l1.6 .1l-.2-1.5l1.4-1.2l1.8-.3l-.3 1.4l1.8 .2l1.7-.3M298.7 139.4l1-1l1.7 .5l.5 1.3l.9 1.3l1.8-.3l-1.8-.5l-1.5 .1l-1.5 .1M307.2 134.4l1.5 1l-1.3-.1l-.5 1.9l-.4 1.8l-1.1 1.1l-1 .3l1.7 .5l1.2 1.2M300.8 143.2l-1.6 1l-1.3 1.1l-.9 1.1l-1.1 .4l-1.5-.8l-1 .5l-1 1.3l-1 .7M304.7 141.3l1.5-1.2l1.8-.1l1.7-.6l1.6-.1l1.6 .5l1.5 1l-.2 .1l.8 0M307.1 140.5l1.4 .5l1.7-.8l-1.8 .1l-1.4-1.1l-.4-.9l-1.2-.2l.5 .3l-1.2 1.2M296.7 169.5l1.8-.3l1.7-.1l.5-.6l.6-.7l-.7 .6l-.7-1.7l-.2-1.8l-1-1.4M309.6 144.7l-.3-.1l1.6 .8l1.4-.6l.3-1.5l.6-1.8M287.1 149.6l-1.7-.5l1.7 .5l1.8 .4l1.7 .5l.9-1.5l.8-1.4M282.1 126.7l-.3-1.3l.2-1.5l.2-1.7l.7 1l1.4-1l-1.7-.1M281.9 151.6l-.7 1.5l-.5 1.1l1.7-1l-1.8 .5l-.9 0l.3-1.8M283.4 152l-.7 .6l-1.6 1l-.2 1.7l-1.4 1.3l-1.8 .3l.2 .5l1.6 .8M313.1 145.1l-1.1-.4l-.2 .3l1.1-1.4l.6-1.6l.9-1.1l-1.3-.6M305.7 140.5l1.2 .7l-.8-.5l0 1.1l-1.5 .2l-.4-.4l-.9-.8l1 .6l1.8 .1M299.8 139.6l-1.1 .2l-.4-1.7l1.6-1.1l1.1-1.4l1.6-.9l-.2-1.9l-.1-1.8l-.2-1.7M290.9 158.2l.1-.6l-1.4 .7l-1.3 .7l-1.6-.4l1.4 1.2l.8 1.5l1.8 .4l.5-.6M290.6 145.8l-1.2-.3l-1.5 .7l-1.8 .5l-.2-1.8l.8-1.3l.8-1.7l.7 .1l-.1-1M281.2 155.3l0 1.4l.7 1l1.5-1.2l1.7 0l1.5 .8l-.6 .6l-1.6 .4l.1-1.9M287.2 150.5l.1 1.1l1.7-.3l1.4-.3l.1-1.8l.9 1.3l1.6 .7l1.7 .5l1.8 .2M275.8 157.5l1.4 1l.7 1.2l.3 .9l.5 1.6l1.7-.7l1.7 .4l-1.8 0l.4 1.5M321 167.6l.4-.7l1.1-.7l.8 1.1l.8 1.4l-.1-1.8l1-1.6l-1 1.6M283 156.7l.9-1.5l1.1-.8l1.1 1.1l.5 .8l-.4 1.5l-.5-.5l-1.1 .4l-1.8 .5M295.5 163.5l-.6 1.1l-1.2 1l-1.2 1.1l-1.9 .4l1.7 .6l1.4-1.2l1.9-.3l1.7 .8M288.8 133.7l-.4-1.1l.2-1.5l-1.1-1.1l-.9 1.4l-.1-1.9l.1 1.8l-.1 1.8M299.6 131.3l-.9-1.5l-1.8 0l-1.3 1.2l-1.9 .4l-.1 .6l-1 .1l-1.7 .8l-.3 .7M273.9 151l-.6 1.4l-1.4 1.1l-.2 1.6l-1.2 1.4l-1.3 1l.3 1l0 1.5l-.4 .6M281.7 146.6l-.2 1.3l-1.3 .9l-1.7 .2l-1.8 .1l-.2-.4l-1.1-.3l-.2-.7l0-.1M285.3 166.7l-.8 .6l.6-.8l1.4-.3l-.6-.9l-.8-1.5l-.7 .2l.4-1.1l-.7-1.4M274.3 126.3l1.1 1.4l-.4 1.1l1.5 0l.2-.1l-.6-1.2M290.4 145.8l.9 1.2l.5 .4l-.3-1.6l-1.7-.5l-1.5-.7l1.5 .5M288 140.9l-1.2 1.5l.5 1.8l1.4 1l1.7 .4l1.7-.8l1.8-.4l.2-1.8l0-1.7M297.6 172.7l1.5-1l1.7-.4l1.7 .5l1.4 .4l.5 1l-.2 1.7l.5-1.6l.5-1.8M298.1 139.9l-.7 1l-1.5 1.2l-.5 1.6l.1 1.8l-.9 .8l-1 1.7l.7 1.6l.1 1.3M310.7 178.4l.3-1.6l.3-1.8l-.3-.9M285.1 171.8l-1.3-1.2l-.1 1.3l1.7 .3l1 1.1l1.8 .4l.5 .2l.9-1.5l.3-1.3M268.1 153.9l-.7 1.8l1.3 .3l-.4 1.1l1.2 1.2l.8 1.1l.7 1.4l1.5 .2l1.7-.5M280.6 133.3l-.9-.2l-.9-.1l-.4 1.7l-.4 1.6l-1.5-.5l.2 .5l-1.3 .5l-1.1 1.2M302.7 154.9l-1.7-.8l-1.5-.8l1.7-.6l1.9 .2l.8 1.7M282.6 165.5l.8 .9l1.6-.5l1.1 .3l.7 1.6l0 .4l-.8 1.3l-1.5 1l-1.5 .7M281 146.1l-.8-1.4l1.6-.8l1.4-1.3l1.7-.7l1.3-1l-.7-1.5l-1-.3l-1.6-.4M304.7 148.4l1-1.6l.2-1.5l-1.8 .3l-.9 1.1l-1.1 1.3l-1 .6l1.6-.1l-1.2 1.2M276.9 148.2l1.7-.4l1.3-.3l.7-1.7l.3-1.8l-.5-1.7l-.9-1.5l-.8-.3l-1.1 .8M281.3 169.1l-1.3 1.3l-1.8 .5l-1.5 0l-1.7-.4l-.5-1.7l-1.4-1l-1.1-1.1l1.3-1.2M293.9 168.4l.4 .9l-1.5-.2l-1.7-.5l-1.4-.7l-.8-1.4l-1-1.4l-.3-1.8M286.1 157.1l1.3 .8l1.4 .8l.8 1.7l.5 1.7l1 1.3l1.6 .5l0 1.2l-.4 .9M272.5 148.4l-.6 1.5l-1.8 .1l-.3-1.8l-.9-.4l.3-.3l1.4 .6l-1.6-.4l-1.7 .7M304.1 142.9l-.6-.3l-1 .9l-1.8-.2l-1.8 .2l0 1.4l.4 1.7l-.8 1.3l-.2 1.1M304.7 168.1l.6 .5l.3 .9l1.4 .5l.7 1.2l-.4 1.3l-.6 .6l-1.7 .7l.2 1.4M291.9 156.1l.9-.7l.9-1.6l-.2-1.5l-1.5-.8l.8 1.3l-1.5 .5l-1.3 1.3l-.5 .5M280 165.7l1.7 .5l1.7-.6l1.4 1.1l1.6 .1l1.5 .4l-1.5 .8l-1.1 1.6l-1.3 .4M317.9 143.6l-.1-.9l.1-.7l-1.2-1.1l.5-1.7l1.6 .4l1.7 0l-.2 1.7l-1.2 1.5M303.4 153.9l1.5-.7l.5-1.6l1.3-.2l.3-1.1l-1.4-.6l-1.9 .4l-1.4-.5l.4-1.2M296.3 126.1l1.3 .1l.2-1.5l.7-.1l-.5 .3l-.7 1.8l-1.8 .4l-1.2-.8M275.7 178l.7-1.7l0-1.8l-1-.6l.2-1.5l-.9-1l-.6 .9l1.2 .6M287.2 138l-1.1 .3l-1.2-1l-.1-1l1 .6l.7-.5l.1-1.9l-1 .6l-1 1.4M304 166.8l-.2-.5l-.7-.6l-.4 .2l-.4 1.2l-.4 1.7l-1.5 .1l-1.5-.2l-1 1.3M295.2 161.7l1 .8l.8-.8l-.3-1.3l-1.3 1.3l-1.5 1.2l-1.6 1l-1.7-.5l-.3 1.1M296.8 146.4l-.2-.6l1.5-.8l1.9 0l1.5-.7l.3 1.3l-1.1 .6l-1.1 0l-1.6-.3M266.2 137.2l.6-1.2l.5-1.6l1.6 .8l1.7 .7l-1-.9l.2-.3l.6-.4l-.7-.3M299.4 147.3l1.9-.2l1.8-.5l1.6-.8l1.2-1.5l1.2-.4l1.5-.7l1.6-.7l.3 1.8M322.2 131.8l1.3 .4l-.1 1.8l-.6 1.4l1.3 1l0 1.5l.8 .4M294.4 136l-1 1.3l-1.6 .9l-1.6-.7l-1.6-.3l-1.9 .3l-1.3 .5l.9-1.7l.8-.5M295.2 135.2l-.4 .7l-.4 1.4l1.2 1.4l.2 1.8l-1.2 .6l-.4-1.4l-.9-1.4l-.2-1.4M321.5 122.8l1.2-1.2l-1 1.6l-1.8 .9l-1.5-.4l-1.9 0l-1.2-1.2l-.7-.2M289.1 169.7l0 1.5l-1.2 1.4l1.5 0M312.7 132.3l1.5 .9l.8 1.6l1.7 .5l-1.8-.2l-1.8 0l-1.4 .8l-1.6-.8l-1 1.4M299.4 154.5l-.9 .9l-1-.2l1.2-.7l.6-1.6l1.2-1.4l-.1-1.6l-1.6-.8l-.7 0M282.4 166.4l-.9-1.5l0-.8l-.4 .3l1.1 .2l.6-.7l.9-.4l-.3 .2l.2 1.6M290.8 144.9l-.9 .4l.9 1.3l1.6 .7l1.2-1.4l.4-1.1l1.1 1.4l-1.4-.6l-1.7 .3M318.1 143.4l-1.4-.9l.4 .5l.1-1.8l-.5-1.7l-1.1-1l-1-1.5l-1.7-.6M307.1 130.9l-.1-1l-1.8-.2l-.4-1.2l-1.8 .1l-1.4 .7l-1.7 .4l-1.8 .3l-1.8 .6M269 126.8l-.6 1.3l1.3 .9l.8-1.7l-.7 1.7l.7 1.6l0 1.7M311.5 128.7l-1.9 .1l-1.7 0l-1.1 1.6l-1.5-.4l-1-.3l.1 .1l.2 1.1l-.3 1.6M294.4 153.5l.4 1.5l-1 .3l-1.8 .6l-.5 1.8l-1-.2l-1.4 1.2l-1.1 .2l-.5 .4M272.6 125.5l-.7 .9l-.1-.7l1 .2l1.6 .6l1.8 .1l1.1-1l.7-1.8M281.3 166.8l0-.7l-1-.1l-.9-.3l1 1.3l1.8-.1l.8-1.4l-.3-1.7l.3-1.8M298.2 127l-1.1-.3l-1.3-1.2l-1.2 .5l-1.8 .5l-1.6 1M308.1 152.3l1.9 0l-.2-1.8l.2-.9l1-1.6l-.1-1.6l-1.2 .4l.2-1.2l-1-.5M281.2 123.7l.7 1l.3 .2l1.5 .1l-.4 1.7l-1.1 1l-.2 1.5M307.9 137.9l-.3-.6l-1.5 0l.6-.2l-.1-.5l1.2 1.3l.7 .4l.2-1.9l-.5-1.7M308.3 152.9l.9-1.5l1.3-1.1l-.4 .4l-1 1.6l-.8-.8l-1 1.5l-.6 1.7l-.7 1.5M309.2 164.2l-.3 .5l.2-.5l1.6-.3l-1.4 1l-1.3-.3l-1.8 0l-1.1 .4l-.4-1.8M277.5 168.6l1.3-1.3l1.4-1.3l1.9 0l1.4-.6l.8 1.5l.4-.5l-.6-.2l-.4-.1M323.3 156.3l.8 .8l-1-.9l1.8-.6l1.2 .7l-.6 .7l.4 1.7M289.2 168.2l1.6 .8l.4 .5l-.4-.6l.3-1l-.8-.2l-1.5-.8l.9-.9l-.6-.9M301.5 133.4l.1 1.6l-.7-.3l-.9 0l-.1-1.7l-.2-.4l-1.3-.3l0-.2M298.2 126.3l-1.2-.9l-1.2-1.3l-.7-1.6l-.1-1.4l-1.9 .1l1.6 .2l1.8 0l0-1.6M279.5 143.3l.2-1l-.7 .3l-.8 1l.5 1.1l.9-.6l-1 .4l-1.2-.9l-1.4 .1M288.7 120.3l-.6-.6l1.5 1l.7 1.7l.7 1l.2 1.7l.1 .7l-.2 0M312.2 159.8l.2 .5l-1.1-.9l-.1 .4l-.6 .6l.1 .7l-1.1-1.4l.2-1.8l1.3-.9M283.4 143.2l-1.7 .6l-1.1-1.3l-1.3 0l1.6-.9l1.1-1.5l.9-1.6l1.5-1l1.1 1.4M289.8 153.4l.8-1.6l1.1-.5l.9 1l.7-1.5l.6-.4l.2-1.3l1-.7l-1.1-1M289.9 160.5l.2-1.9l-1-1.4l-.2-1.9l.5-.6l1.4 .7l1.4-1.1l.9-1.5l0-1.9M287 158.4l-.1-1.3l1.4 .4l.1-1.7l-.7-1.8l.9-1.7l.8-1.7l-.6-.7l-.7-1.1M286.3 131.9l1.6-.1l.3 1.6l-1.7 .4l-1.3 .1l-.6 1.4l-.6-.4l-.5 1.7l-1.2 1.2M269.1 174.8l-.7 1.6l.6-1.8l1.2-1.3l1-1.3l.9-1.7l-1-1.3l.1-1.8M294.4 149.1l-1.2 .7l-1.3 1.4l-.7 1.4l-1.7-.3l-1.4-1.1l-.8-1.4l.1-1.8l1.5-.5M295.7 126.6l-1.3-1.1l.5-1l.7 1.3l1.5 .8l1.6 .1l1.7-.8M288 142.9l-1.4-.6l-.9-1l-1.6-.8l-.7 0l-1.6-.2l-.3-1.4l-1.1-1.5l-.8-1.6M317.8 134.6l-.2 1l1.6-.9l-1.4 .6l-.8 1.1l.8 0l-1.6-.7l.4-1.3M294.3 163.7l-1.7-.7l.3-.8l1.3-1.4l.4-.3l1.3-1.1l1.6 0l.1-.2l.2-1.3M311.7 143.1l1.7 .3l.2 1.8l.3 1.9l1.4-1.1l1.1 1.3l1.4 1l1.3 1.1l1.8-.9M271.3 143.3l.6 .6l1.1-.5l.8 1.1l-.6 1.7l-.5 1.8l.2-1l-.5-.1l-1.4-.3M276.3 167.5l.1 1.2l.8 .8l-1.3 .3l.7-1.7l.3-1.7l-.4-1.4M284.2 145.5l.7-.6l1.9 0l.9 .4l1.4-.1l1.8 0l1.4 1.2l1.3-1.3l.2-1.9M276.7 151.4l-1.7-.2l0 1.8l.3 1.4l-.2 .9l-1 .8l.6 .3l.4-1.1M291.3 152.6l-.1 .6l1.8-.2l1.6-1l-.7-1.7l-.5-1.7l1-1.7l.9-1.6l-.9 1.5M289.4 129.8l-.7 .9l-1.7 .1l-.9-1.6l-1.1-1.4l.3-1.7l-1.3-.3l-1.4-.1l-1.3-.2M295.8 138.6l-1.2-.2l-1.4-.9l-1.3-.9l.5-.7l-.7 1.1l.3 1.5l1.4-.4l.1 .3M278.5 171.1l-.8-1.4l-.8 .5l1.3 1.2l1.6 .8l1.7 .7l.8 .8l-1.3-.7M286 127.4l1.8-.4l1.7-.8l-1.4-1.1l-.7-.6l-.1-.1l-.2 1.9l1.8-.3l.2-1.9M322.4 153.4l1.1-1.1l-.3-.7l-.7-1.5l-1.3-1.3l.5-1.3l-.9-1.3l-1.9-.2l.5 1.7M297 151.3l-1.7-.2l-1.2 .7l-1.1 1.5l-.9 1.3l-1.4 .8l-1.7 .9l-1.5 1.3l-1.7 .8M269 140.2l-.5-1.7l.7-1.7l1.3 .4l-1.3 1.1l-1-1.1l.1-1.6l.2-1.7l-1.4-.9M298.3 145.4l-1.1 .2l-.1-1.8l0-1.9l-1.3-.9l-.7-.8l-1.8-.3l-.9-1.4l-1.4 1.2M279.9 168.9l.9-.8l-1.6-.6l-1.4-.9l-.7 .8l.2-1l0-1l-.3 1.8l-.4 1.6M309.3 137.4l.1-.7l1.5-1.1l1.2 1l1.2-.3l1.3 1.1l-1.7 .1l.7 1.5M309.5 151.3l.6 1.6l.1 .3l-1.7 .8l-1.3 1.5l-1.3 1.2l-1.1 1.6l1.8-.7l1-.1M284.6 154.3l-.2 1.8l-1 1.3l-.6 .8l-.6 1.6l.7 1.6l.9 .5l1.3-.7l.5-.1M297.2 165.1l-1.3-.1l-.9-1.6l-1.1-1.3l-.6-1.7l1.6-1l1.6-.1l1.6-.5l1.2-1.5M296.8 152.1l.5-.8l.3-1.6l-1.3-.9l-.7-1.3l-.9 .5l1.1 1.4l.9 .2M291.4 149.6l1.1-1.6l.1-1.8l.4-.2l.5-.7l1-1.4l.9-.9l-1.6-.9l-1.2 1.5M293.1 128.1l.3 1.6l-.4 1.7l.1 1.8l-1.5-.7l-1.7-.3l-1.7 .4l-1.8 .3l-.6 1.8M319.7 121.4l-1.3 .5l-1.1-.4l-1.5-1l.1 1l-1-.7l-1.7 1M282.7 150.2l-1.1 1l-1.2 1l-.1-.3l.3-1l1.7-.3l0-1.1l-.7-.6l-1.5 .2M277.7 139.7l-.7-1.6l-1.2-1.4l-1.1 .2l.9 1.4l-.4 .7l1.4 1l-.3-1.3l-1.7 .2M308.2 133.4l1.8-.4l1-1.6l1.6 .5l-.2 1.2l.9-1.5l.3 1.4M305.1 175.8l1.6 .9l1-.2l.8-1.7l1.1-1.6l.7-.6l.6 .1l-.8 .1l-.3-1M307.2 147.3l.2 1.3l1.2 .4l1.6 1l1.3 1.3l1.7 .8l1.4-1.1l.9-1.4l-1-.4M310.5 138.3l-1.5 1l-.7 1.6l.6 0l.3-1l.5 1.4l-.8 1.1l-.2 1.6l1 .7M301.6 133.5l1.3-.3l1.8 .3l1.2-1.4l.7 1.6l1.8 .5l-1.2-1.3l-1.6 1l-1.5-.8M285.4 150.6l1.8-.6l1.3-.3l0-1.2l-.6-1.7l.8-1.4l-1.6 .5l-1.8 .6l-1.3 1M283.8 143.1l.2 1.6l-1.1 1.5l-1.1 1.2l-1.3 1l1.3-.4l.3 1.7l.1 1.5l-.9 1.3M297.1 156.7l-1.9-.2l-.9-.8l.1-1.4l1-1.5l-1.2-1.3l.2 1.4l.9 .2l-.3-.7M273 154.6l1.8-.5l1.8 .2l1.3 .9l.3 1.2l-.2-.3l-.9 1.1l-1.3 1.3l-1-1.5M282 153.9l1.7 0l1.8-.7l1.6 .9l-.7 1.4l1.1 1.2l1.5 .9l1.2 .4l-.7-.7M265.7 160.7l.6 .9l-.2 .3l-.3-1.8l1.2-1.5l.9-1.6M306 147.8l.9 .8l-.3 1.8l-.9 .9l-1.5-.1l-1.5 1.1l-.7 1.7l1.1 1.3l1.7-.8M308.6 141.2l1.4 .7l1.2 1.3l-.8 1.4l.3 .3l1.4 1.2l1.6-.1l.4-.5l.6-1.6"/><path stroke="#50c040" d="M296.8 146.5l.4 .2l.6 .4l1 .3l-1 1.5l-.2 .5l1.2 1l.7 1.6l1.7 .7M284.6 142.1l-.3-.6l-1.6 .5l-1.4 1.2l-.4 1.2l1.4-.1l1.5-.5l1.8-.1l.5-.7M278.6 148.9l1 1.5l-1.4 .6l-.4-1.3l0-1.4l-.1-1.8l-.1-1.8l1-1.6l-1.1-1M295.3 141.7l-.9-.9l-1-.9l-.5-1.7l-.1-1.8l1.6-.5l.3 .9l-.7 1.7l.2 1.8M294.4 145.3l-.9 1.7l-1 1.6l-.2 1.8l.7 1.6l1.5 .2l-1.2 1.5l-1.2 1.3l1.7 .4M314 149.5l-1.1-.6l-1.9-.1l-1.8-.2l-1.5-1l-.2-1.5l.1-1.8l.2-.9l.1-1.8M285.4 154.9l-.3 .9l-.3 1.8l.3 .8l1.4-.9l-.8 .6l-1.4-.1l.3-.4l.7 1.3M294.4 164.5l.1 1.8l1.4 1l1.5 .8l1.5-.3l1.4 .5l1.4-.5l1.4 1l.4 .8M295.5 143.5l-1.7 .8l-1.5 1.1l-1.6-.7l.2-1.7l1.8 .4l.3 1.8l.4 1l-.2 1.2M275.2 118.4l1.2-.3l-.3 1l-.1 .9l1.3 1.2l1.7 .4l1.6 .9M297.1 123.3l-1.4 .1l1.1-.8l0-.3l-.1-.1l-1 .8l-.5 1.8l-1.3 .8M267.7 169.8l-1.6 .8l-1.5 .5l1.5-.7l.9 .4l-.5 .4l-.6 1.2l1.4-.2M315.3 171l.3 1.7l.5 .2l-1.4-.9l-.3-1.6l-.3-.6l-1.4-.2l-1.4 .6M314.8 125.5l.8 1l.1-.9l.3 1.8l-.4 .7l-1.4 1.1l-.8 .4l-1.4-.1M281.4 143.5l-.8-1.7l-1.4-.8l-1.5-.6l-.4-1l1.6-.6l.4-.4l0-1l.2-.2M271.2 148.2l-1.1-.2l-.7 .2l.5-.2l.6-1l.9-.3l1.3-1.3l-.2-.1l.7-.1M284.3 155.9l1.1 1.1l.7 1.7l.7 1.5l-.6-1.1l-.4-1.3l-.3-1.8l-.8-.9l-1.8 .2M295.7 147.1l-.3 1.7l-.6 1.9l.1 1.2l1.1 .8l.6 1.4l-1.4 1.1l-.7 1.7l-1.8-.4M297.6 165.5l1.8-.3l1-.1l1.1-1.5l1.6-.7l1.8-.2l.3-1.8l.7-1.7M276.6 141l-1.8 .5l-.5 .4l1.5-.4l1.7-.2l.9-.2l-.1 .1M318 163.9l-.7 1.4l0 1.8l-1-1.4l.1-1.8l.4-1.3l.1 .2M276.9 160.9l.3-1.8l1.2-1.6l1.8 .3l-.7-.7l.1 .4l.9-.4l.3 1.7l-1.4-.1M312.5 134.7l.3 1.4l-1.1 1.4l-1.3-.3l.5 1.5l1 1.5l-.9 1.7l-1.6 .1M288 149.5l.3 1.8l.8 .4l1.6 .6l1.8 .1l1.1 1l1.2-1.3l1.7-.5l1.3 .5M299.6 152.3l1 1.3l.6-.7l-1.4-.6l.4 .4l.5 1.6l-.4 1.8l-.2 1.7l.3 1.8M301 145.7l1.1-1.3l-1.3-1l-.8-1.5l-1.4-1.1l-1-1.2l.6-1.6l1.6-1.1M270.2 123.2l0 1.8l1.1 1.2l.5 1.3l-.2 1.9l.5 1.3M284.5 155.7l-.2-1.4l1.3-1l.6 1.2l-.1 1.3l.8 .7l-.9 .1l-1.8 0l-1.4 1.3M314.6 125l-1.1 1.5l-.8 1.7l-1.6 .6l-1.7-.5l.3 1.5l1.9-.2l1-1.5l1.9-.1M287 160.2l.1-.6l1.1 .7l1.5 .5l-.2 .5l-.1 1.4l1.3 .5l.6 .1l1.2-.3M298.9 133.9l1.5 0l.4 1.1l-.4-.6l-1.5-.1l-1.2-.9l-.8-1l-1.3 .3l.1 1.8M293.9 160.1l1.5 .5l.7 1.7l0-1.2l-.5-.7l0 1.5l-.7-.4l.8-1.1l.5 1M283.1 148.9l-.8 1.6l-.5 .7l-1.4 .5l-1.5-.9l-1.8-.3l-.3 .2l1.5 0l.1 1.8M279.5 159.1l-1.7-.7l-1.4-1l1.4-1.2l-.9 1.7l-.3 1l-1.5-.6l.2-.7l-.2 1.8M291.3 149.4l1.8-.3l1.4-1l1.2 1.1l0 1.9l-.5 1.8l.3 1.8l1.6 .2l1.8-.6M283.6 136.2l1.2-.3l-.1-1.1l-.3-.2l-.2-1.4l1-.9l.8-.3l.8-.6l.2 .7M285.9 130.9l.2-1.6l-.8-1.3l.7-.6l-1 1.3l1 1.2l1.7 .7l-.4 1.8l-.4 .4M291.7 152.8l-.8 1.3l-.7 .8l-1.5 .4l-1.4 1.3l.4 1.1l.9 1.6l-1.2-.7l-1.4 .3M277.8 129.5l1.1 .7l-1.7 .4l-1.8 .1l-1.7 .1l1.6 .9l1.1 1.2l1.7-.4M303.6 150.8l0 1.9l-.2 1.8l-.2 1.7l.5 .8l-.8 .2l-1.5-.3l.9 0l1.5-.4M282.9 152.8l-1.6-.6l.6-1.6l.3-1.8l.1-1.1l1.3-.8l-.3-1.5l1.3 1.1l1.1-1.5M307.1 152.9l0-1.3l.2-1.7l1-.7l-.1-.7l-.5 1.8l-1.3 1.4l1 1.1l-.5 1.3M302.9 146.2l-.6 1.5l1 1.1l-.8 1l.2-1.5l.3-.7l.3-.8M322.6 122.7l-1.7 .1l-1 1.4l-.8 1.5l-.9-1.1l0-1.8l-.9-1.3l-1.6 .9l-.3-.7M323.9 141.2l0 .5l.5 1.1l1.6 .8l.2 1.5l0-1.2l-.8 1l-1.1 1.2M293.7 133l-.3 .8l1.4 1.2l1.4-1.2l.4-1.5l.3-1.7l0-1.4l.1-1.9l.3-1.8M303.1 130.3l-1-.7l-1.7-.2l-.9-1.6l-1.5 .5l.4-.7l.1-1.1l-1.7 0l-1.3 1.2M293 160.1l-1.5 .5l-1.4 .3l-1.8-.3l.6-1.8l.9-1.4l-.4 1.8l-1.7 .7l.3 1.7M282.7 145.1l-1.5 .6l-1.2 1.4l-1.6 1l-1.1 1.2l1.1 1l1.6-.3l.2-1.9l-1.4-1.1M309.9 133.9l-.1-1.7l-1.1-.5l-1.3-1.3l0-1.8l.8-1.7l-.2-1.7l1.8-.4M292.8 144.2l.8 .4l.8-1.1l1.5 .2l1.7 .5l1.8 .2l1.2-.9l0 1.1l-.8 1.7M310.1 133.7l-.2 1.6l-.4 0l-.4 .1l-.2-1.6l.7 0l.1 1.2l-.7 1.4l.4 1.3M296.7 143.8l-1.1 .4l1.6 .5l1.4 1l.8 .6l.6 1.2l.3 1.8l-.1 1.7l-1.5 1.1M294.5 164.7l.5 1.6l.2 1.6l1 .2l.5-.2l.2-.6l.6 1.6l.7 1.4l-.3 .2M286.3 148.3l1.3 .4l1.7 .6l1.7 .5l-.2 1.8l.1 1.5l-.5 1.8l-1.1-1.2l-1.4-1.1M324.9 167.7l-1.9 0l-1.8-.5l.1-1.8l-1.4-1.2l.1-1.4l1.5-1.2l.3-1.9M309.1 155.3l1.6-.6l-.1-1l.5-1.7l-.7-1.5l-.4-1.4l-.1-1.8l-.4-1.5l-.7-.9M285.4 146.6l1.1-1l1.5-.4l1.4 1.1l1.4 0l1 .6l1-1.5l1.4-1.1l1.4-.7M306.9 160.7l1.5 1l1.3 .4l.5 1.5l1.8-.1l1.7-.4l.6-1.3l-1.3-1.1l-1.8-.3M273.1 162.2l-1.7 .6l.3 1l-1.2-.7l1.2 1.4l1.3 .8l1.9-.3l1.7 .4M270.5 167.5l-.1 .5l1.3 .5l.8 1.2l1.4 .5l1.6-.1l.2 1.8l-1.4 1.2l1.3 1.2M299.6 152l.9-1.4l.1-1.3l.2 .9l.2 .5l-1.1-.2l-1.4-.8l.3-1.3l-1.5-.6M268 169.5l.5-1.7l1.8-.6l1.3-1.3l-.6-1.7l-1.3-.5l-.9-.8l-.8-.7M282.7 145.9l.2-1.8l-.5-.8l-.7-.2l1.4-.1l-.8-1.5l-.4-1.7l.1-.4l-.2-1M299.8 137.3l1.4-.3l1.8 .2l1.6-.5l1.4-1.3l1.2-.4l.8 1.6l.6-1.3l-1.1-1.4M324.4 151.2l-.5 1.4l-1.5-.4l.4-1.8l.4 .2l-.8 1l-.7 .7l-1.1 .4M294.9 130.7l-.9-.9l-1.1-.1l-1.6-.6l-1.5 1l-.8 .5l-1.2-.7l-1.6-.8l-1.3-1.3M307.9 141.2l-.7-.4l-.9-.7l1.3 .5l1.5 .9l1.6 .9l.6 1.4l-1.2-.4M276.3 140.5l-1.6 .7l-.9 1l-1.1-1l-.2-1.8l.1 .8l-.3-.7M284.3 152.8l.9 1.1l1.4 1.1l.8 1.1l.5-1.7l.6-1l-.2-1.3M280.8 148.6l.2 1.5l-.2 1.6l-.4-.9l-.2-.5l-.7-.7l-1.4-.4l0 .3l.5 1.3M295.6 124.1l1 1.4l1.6 .8l1.1-1.4l1.5-.4l-1.1 1.4l-1.4-.2l.3 1.8M304.2 140.9l-.3-.6l1.6 .8l-.1 1.8l1.1 1.3l-.2 1.7M300.9 139.6l-.1-1.1l1.1-.5l1.8-.3l1.2 .7l.9 .8l-1.7 .4l-.3 1.1l-1.8 .6M314.4 169.6l-1.7 .6l-1.2 1.1l-1.4-1l-.6-1.7l.3 0l-.1-1.8l1.3-.8l.8 1M294 126.8l.2 1.8l-.6-.2l-1.3-.5l-1.1-1.1l-1.1-1.4l-.8-1.1l-1.6 .7M280.4 133.3l.6 .2l-.7-1.7l.5-1.6l0-.3l-1.2 .8l-1.7-.6l-1.6-.6l1-1.2M296.3 129.2l0-1.7l-1.6 1l.2 1.8l.8 1.4l-.9 1.7l.4 1.1l0 1.2l1 1.3M321.4 142.3l-1.3-1.2l-1.8 .2l-.3-1.9l1.2-1.4l1.5-1.1l.7-1.8l-1.4 .5l-1.9 .4M290.1 146.3l1.2 .1l-.9 1.2l.6-.3l1 .9l0 1.5l.2 1.7l-1.2-.8l-1.8 .3M313.2 136.6l-.7 .4l.2 1l1.6 .8l1.7 .6l-.9 1.6l-1.2 1.5l-1.3 1.2l.9 1.5M300 174.8l-1.8 0l-1.6 1l.6 .8l1.2-.1l-.5-1.6l-1-.5M292 136.1l-.8-.3l.7-.6l1.8-.5l.3-1.3l.6-.3l.4-.9l1.3-.1l1.6 .7M288.3 159.4l-1.8-.2l-1.8-.4l-1.1-1.4l-1-1.3l.9-1.6l1.3-1.2l1.7-.4l1.3 1.3M316.6 149.5l-1.4 .9l1.6 .3l1.4 .7l1 1.3l1.7 0l1.2-1.5l.7-.3M288.8 156.8l1.5-.9l1.1-1.3l1.6 0l-1-1l1.1 .5l.2-.1l-1.6-.4l-.4-1.2M278.9 159.6l-1.7 .9l-1.5-.4l.4 1.3l1.5-1.2l1.7 .4l1.8-.4l1-.1l-1.4-.8M281.9 145l1.2-1.4l.9-.7l1-1.5l1.3-1.3l1.6-1l.5 1.1l1.2-.9M275.2 172.6l-1.2-1.3l.2-.3l1.5-1.2l-.5-1.7l-1.3-1.1l-.9-1.6l0-1.5M290.2 149.3l-1.6-.5l0-1.3l-1-1.5l-.6-.9l.2 .8l-1 .1l.2 .6l.9 1.5M297.8 147l-1.1 1l-.6-1l-1.6-.5l-1.2 .3l1.6 .2l1.3-.4l1.6 .6l1.4-.1M268.3 159.8l-1.5-.5l-1.2-.6l.9 .7l-.4-1.4l0-1.8l1-1.2M295.1 149.5l1.3 .5l-.7 1.3l-.1 1.8l.9 .8l-.8 1.6l-.6 .8l-.4 1.8l.7 1.2M287.7 135l.6 .4l1.6 .5l-.1 1.8l0 1.3l.2 1.7l-.8 1.5l-.4 1.8l-.4 1.8M308.9 161.5l-1.9 .1l.8 1.5l-.6 1.1l-.1-1.2l1.4-1.1l-.3-1.2l-.4-1l-1.1 .1M313.9 120.6l.5-1.7l.4 1.7l1.6 .9l1.3 1.1l.5 1.8l-.9 1.5l-1.2 1.1M270.4 128.6l.2 .9l1-1.1l-.5 .2l1.6-.8l.3 .2l1.7-.6M282.2 158.4l.9 .6l-.3 1.8l.6-1.8l-.3-1l1.9-.1l1.2-.1l.2 .7l.2 .3M305.6 152.7l1.3-.7l1.9-.2l1.6-.3l1.2 .4l1.5 .9l.2-.1l-.8 .1l.4-.8M294.7 148.5l.9 1.6l.4 1.6l1.3 1.2l.9 1.6l.8 1.5l1.4 1.1l1.5-.8l0-1.8"/><path stroke="#2668a8" d="M306.9 173.8l.3-1.1l-1.7-.1l-1.5-.8l.5 .7l1.3 0l1-1.6l1-1.3l.6 1.7M305.6 153.8l-.9 1.5l-1.6-.8l-.6 1.6l-1.7 0l-.4-1.4l1.7-.6l1.4-1.2l1.7-.7M326.5 153l-1 .3l-.2-1.7l0-1.6l.7-1.6l-.4-1.2l1 .2l.9 0M315.5 170.1l1.7-.4l-.5 .4l.1-.2l-1-1.4l-.3 .2l1.2 .3l-.9 1.5M303 167l-.7 .7l-.9 .8l-.7 .7l-.5 1.3l.5 1l1 .8l1 .7l.3-1.1M306.6 168.8l-.5 0l-1.7 .5l-1-.9l-.6-.8l.2-1.8l1.4-1.3l1.3-1.3l1 .6M323.1 148.9l-.9 1.6l.2 .2l-1.3 1l-1-1l-1.5 .5l-.2-.6l-.9-1.1l.4-1.3M308.3 171.2l-1.4-.6l.8 0M307.1 164.2l1.2 1.4l.5 1.7l-.7 1l-.4 .6l-1.2 1.5l-1.5 1.2l-.3-1.8M313.6 156.5l-.1 0l-1.1-1.3l.3-1.3l-.6-1.2l-.8-1.6l-.8-.3l-1.9 0l-1.6 .4M313.1 175.4l-.2-.7l1.1-1.5l.3-1l.7-.5l-1 .3l-1.4 1.3M318.1 170.5l-.9-.5l-1.2 1.4l-1.4 1.4l1.3-1l1.3-1.4l1.1-1.5l.4-1.5M315.8 163.1l1.1-1.6l1.6-1.1l1.2 0l-1.1 1.2l-1.4 .9l-.9 1.3l.3 1.4l-.2-.2M306.3 156.1l-.1 0l-.3 1.3l-.8 1.7l-1.5 1.1l-.3 1.6l.4 1.6l1.2-.6l-1.5-1M304.7 166.6l1.5-1.1l1.2-.3l1.8-.4l.3-.6l.2 0l-1.7-.6l-1.3 .2l-1.6-.6M302.7 161.9l.8 1.6l1.4 1l.8 0l-.6 .9l-.5 1.6l.4 1.8l.6 1.1l-1.5 .3M314.1 160.5l-1.8 0l-.6 1.7l.3 1.3l.5 1l-1.5 1.2l-1.1 1.6l-.2-1.9l-.3-1.8M304.1 166.5l-.7-1.5l-1.2-1.2l-1-.4l1.3 .5l1.7-.9l1.4 .3l1.1 1l-.6 .4M321.3 147.9l.5-.6l-.9-1.5l-1.3-.8l-.3-1l-1.2-.1l-1.2 1.5l-.4 1.3l-1.4 1.3M313.6 164.3l-.2-.5l-1.3 .9l-.3 .2l1.3 .3l.5-.5l1.3-1.2l-1.8 .5M313.8 172l1.2 1.1l.2 1.7l1.5-1l.7-1.3l-1.6-.7l-1-1l-.4-.6M322.3 151.2l1.2 1.3l1.1 1.2l1-1.4l-1-1.4l-.3-1.8l.1-.2M298.1 170.7l-.1-1.3l-1.3 .5l-1.5-.9l-.6-.7l-.2-1.7l-.5-1.6l.3 1.7l1.1 1.2M311.3 157.8l1.5 .5l.6-.9l.8-1.6l-1.5-.2l-.1-1.5l-.8-1.3M319.7 149.1l1.5-.5l.3-1.8l.5 1l.9-.4l1-.2l1.6-.6l-1.3 1.5M313.4 155.3l-.6 1.7l1.7 .7l-.6-.5l.5-1.3l-.2-1.6l.8-1.2M315.5 151.7l-1.3 1.2l-1.2 1.1l1.1 .1l1.7-.5l.9 .4l.2-.5l.4-.5l1-1M307.8 155.8l.6 .7l-.1 1.8l.4 1.6l-.6 1.7l-1.5 1.1l0 1.8l1.2 .7l-.9 .8M317.4 152.9l-.7-1l-1.1-.1l-1.1 1.1l.5 .8l-1.5 1l-.8 1.6l.3 1.6M310 160.3l1.5 .7l.8 1.6l-.7 1.2l-.4 1.7l-1.4 1l-1.2-.8l-1.1-.8l.2 1M307.4 164.2l1.8 .2l1.8 .1l1.2 .2l1.5 .4l.2 1.8l-.7 .7M307.6 166.1l1.8 .6l1.6-.2l1.1-.1l1.1 1.3l1.3-.1l1.1-.9l1.5 1M307.4 158.7l.2 .6l.6 1.7l1.6-.2l1.1-1.2l-.8-1.6l1.3-1.2l1.6-.5l-.9-1.5M314.6 144l.2-1.8l1.5 1l.4 1.5l-.3-1.8l-.3-1.7l-.1-.9l.7 .9l.5 1.7M324.2 149.5l1.3-.4l1.5 0l0 1.2l-.8 1.4l-1.4-.9l-.9-.9l-.2 .5l.7-.2M317.6 167.6l-.5-.3l-.8-.2l-1.4 .1l-.8 .3l-1-1.5l-.4-.4l-.2-.7l1.8-.6M323.3 152.4l-.6-1.6l-1.6-.5l-1.2 1.5l.8 .9l.4-1l-.9-.4l.5-1.3l1.4-.3M300.7 165.1l-1.3-.1l.2-.5l.8-1.5l.1-1.8l-.3-1.2l-.4-1.6l.3-1.6l-1.1-.7M315.3 166.7l.1-1.8l1.7-.9l.4-.7l1-1.3l.8-1.5l-1.1 1.5l-1.4 1.1M320.1 151.2l1.4-.3l-.4-.7l-.2 1.7l.3-1.5l.4-.6l.3-.8l1.1 1.1M295.8 162.6l0-1.8l-.3-1.2l-.6-1.4l.2-1.8l-.9-1.4l.5 .6l.8 1.2l0 .7M293.8 162.8l.5-1.6l-.7-1.4l-.1-1.8l1-1.3l1.2-1.4l1.2-1.1l-.3-.7l-.3-1.8M298.2 153.6l-.7-1.6l-1 .1l.5 .4l-.9-1.4l-1 .5l-1.5 .2l-.9 .2l-1.2 .5M307.6 166.2l-1.5 .9l-1.4 .5l-1.7 .9l-1.2-.6l1.7-.8l1.1-.1l.3-1.9l1-.9M309.9 165.4l-1.7-.4l-1.2-.4l1.1-1.2l-.1-1.9l.6-1.4l.9-1.6l-1.2-.9l-.2-1.8M312.8 149.7l-1.8-.4l-1.8 .5l-1.6-1l-.8-1.5l-.8-.8l.1 1.4l-1.2-.2l-.8-1.3M308.9 157.3l-1-1.4l-1.5-.7l-.4-.4l1.7-.4l1.7 .7l.1 .7l1.7-.5l.8-1.5M317.8 160.5l.4 1.5l-.8 .7l0-.8l-1.4-1.1l-1-1.3M313.2 164.5l-1.4 1l-.7 1.7l-1.1 1.5l-.2 1.1l-.7 1.7l-.6-1.6l-1.7-.7M305.1 170.7l1.2-1.5l1.6 .2l.8-.7l.9-.7l.3-1.1l.2-1.8l-1-1.4l.6-1.8M308.7 175l-.5 .2l.4-.3l-.3-1.7l-.5-1.6l.5-1.6l-.8-1.5l1.3 1.3l1 .8M314 165.3l-1.5 .2l0 1.2l1.7-.8l.1 .8l-.4 1.6l-.2 1.8l.2 1.8l1.3 1.2M303.1 165.7l-1-1.5l.1 .3l.2-1.6l-.7-1.4l-1.3-1.1l1.4-.9l1.5-1.2l1.9-.4M308.7 160.8l-1 1.6l-1.1 1.5l-.5-.3l-1.7 .3l-1.3 1.1l0 .3l1.5-.4l1.5-.7M315.8 142.9l1.7-.8l1.7-.1l-1.2 .4l-.3 1.4l-.3 1.5l-1.4-.5M303.4 159.8l-1.3 .3l-1-1.4l-.2 .2l-.1 .1l-1.4 1l-1.2 .2l.1 1.4l.7-1.8M311.9 161.7l1.5 1l.1 1.6l-1.5-.3l-1.5 .8l-.4 1l.1 1.2l-.5 .4l.1-.3M299.8 165.8l.7-1.7l-.8-1.6l.3-.3l-1.7-.4l-.4-1.6l-1-1.2l-1.6-.7l-1.6-.5M309.5 171.5l-.9 1.5l-.4 1.8l-1.5 .3l-.6-.4l1.2 0l-.2 .2l.8-1.7l-1.1-1.2M304.1 166.6l-.1 1.5l1 .7l-.9 .2l-.8-1.5l-.7-1.6l-1.2-.3l-1-1.3M307.3 170l-1.2 .2l-.9 .3l-.2-1.8l1.8-.3l.7-.8l1.8-.5l1.1-1.4l.2-.8M303.7 164l-.2 1.2l-.2 1.7l-.6-1.2l1.3 .5l-.2 .2l-1.1 1.2l-1.2 1.4l-1.4 .9M314 174.3l1.7-.2l1.2-.7l1.7-.8l.8-1.2l-1.2 1.3l-.3-1.8M309.8 152.8l.6 1.7l.4 1.7l-1.1 1.6l-1.5 .9l-.6 1.6l-1.5 1.3l-1.7 .4l.7 .2"/><path stroke="#909090" d="M308.6 128.9l.8 0l-1 1l-1.5-.3l-.4 1.2l-.2-1.8l1.7-.5l1.7-.2l.8 .4M274.4 144.7l.5-1.6l-.2-1.5l.8-1.6l.7-1.8l.9-1.6l.4-1.5l1-1.6l.8-1.4M308.2 149.7l-1.1 .4l-.3 0l.3 0l.8 1.7l-.1 1.8l.3 .9l1.4 .4l1.4 1.1M293 130.8l-1.3 1.1l-1.2 1.5l.3 1.6l-.6 .1l-1.9 .1l-1.8-.1l.1-1.1l.6-.5M294.5 149.4l1.3-1.2l.2-1.8l-.9 .1l.8 1.4l-.8-.5l-.6-.3l-1.6 .5l.9-.3M303.2 128.4l1.6 .2l.7 1.7l-.7 1.3l-.4 1.7l.8 .3l-.3 1.9l.8 .3M278.6 162.5l-.5-1.6l-1 .3l0 1.8l1.4 1.1l1.7-.5l1.5-1.2l.4 1.8l-.8 .9M284.6 133l.6-.4l-1.1-1l-1.4-.1l-1.1-.6l1 .6l-.8-.9l-.7 .5l-.9 .7M293.5 170.4l-1.3 1.3l-.9 1.6l-1.5 .2l-.8-1.4l-.2-1.7l.5 1.1l1.8 0l1.3 1.1M290 159l-.8 0l-.6 1.1l-.2 .4l-1.7 .3l-1.2-.9l-1.4 1.2l-.8 1.4l-1.7 .4M301.1 117.3l-1.1 .8l-.8 1.5l-1.1-1.4l-1-.9l-1.7 .8l-1.5 1.3l.8 .8l1.6-.3M271.9 168.1l1-1.6l.3 .5l.1 .9l-.9 1.5l.3 1.4l-.1-1.4M277.1 134.9l1.5-.4l1.6 .1l.5-1.3l1.4 .8l-.4-1.8l1.6-1l.6 1.6l-.8 1.6M272.6 133.8l1.6-1l.6 .2l.8 .1l-1.8 .5l0 1.4l-.4 1.5M271.1 163.5l.4-1.6l1.3-1.1l1.2-1.5l-.2-1.6l.3-1.6l-.9-1.5l-.2-1.8l-.3-1.6M305.8 139.3l1.1-.3l.7 .8l.2-1l.5-1.6l1.7 .6l-1.3 .7l-1.3 .9l-.9 .5M295.6 144.5l1.7-.3l1.2-1.5l1.2-1.4l-.9-.4l-.4-.7l-1.1 .1l-1.7-.5l-1.9 .1M305.2 128l.2 .2l.2 1.4l1-1.2l.6 1.5l-.9 .3l-1.6-.1l.3 0l-.2 1M286 138.1l-1.5-.3l-1.5 1.1l.1-.2l-1.3 1.1l-.7 1.4l1.5 .5l.8 .7l-.3-1.4M272.8 132l.6 1.7l.6 1.8l.9 1.5l-.5 1.8l-1.6 1M296.8 124.3l.1-1.1l-.2-1.6l.2 1.6l1.8 .4l1.7-.6l.7-1.7M290.2 124l.4 1.7l.4 1.5l-.3-.5l-.5 .1l-.3 1.5l.6 1.7l.8 0l-1.3-.3M300.2 165.8l.1-.3l-.8 .9l-1.8 0l-1.3 1.3l-.6-.1l-.7-1.1l-.1 1.8l.7-.7M307.8 135.6l.7 1.6l.5 1.6l.6 1.5l1.2-1.5l1.7 0l0 1.7l-.3 .5l.5-.8M287.6 140l-.4-.1l-.4 1l-1.2 1.1l-1.7 .6l-1.9-.1l-1.3-1.1l-1.3-1.3l-1.1 1.2M272.8 141.8l-1.5-.7l.8-1.5l.9-1.4l1.1-1.5l-1.3-1l-1.3-1.1l-1.1-1.1l.3-1.4M268.9 168.1l.4-1l.9-.5l1.3 .3l-.6 0l-.7 .6l-1 1.3l-.2 .6M282.5 139.2l-.7-.7l-.8-.3l-1.6 .8l-1.8-.1l.3-.4l.1 .5l-.5-.8l1.1-.6M274.4 130.1l-.8 1.3l-1.3-1.1l-1.8 .6l.2 .6l1 1.5l.8 1.5l1.2 1.1l1.8 .2M292.7 156.2l1.1-1l.1-.7l-.2-.3l-1.7-.6l-1.6 .2l-1.7-.3l-1.4 1l-1.3-1.3M290.5 143l-.9 1.5l-.8 1.7l-1.6 1.1l-.6 1.7l-1.2 .9l-.9-1.3l-1.2-.6l-1.1-.7M317.5 126.5l0-1l.6-.5l-.9-1l.3-.7l1.3 1.1l-1.2 .8l.5 1M320.7 136.8l.2-1.9l-.5-1.6l-1-1.5l-1.2-1.1l.1 1.1l.8 .4l.7 1.6M299.7 160.6l-.8-.2l1.4-.1l.2 1.8l.3 .1l-.6-.2l-1.1 .8l.4 1.4l1.5-.7M292.5 138.1l.7-.4l-1.2 .5l-.4 1.8l.5 .5l1.2 .3l-.5-1.2l.9-1.7l-1-.9M298.6 160.2l.2 1.1l1 .6l1.8 0l1.8-.6l.8-.1l1.2 .1l1.8-.8l1.3-1.4M289.2 147.9l-1.1-.6l-1.7 .8l-1.2-.9l-.6-1.6l.5-.9l.5-.5l1.3 1.4l-.1 1.5M302.2 152.3l-.5 1.6l.5 1.2l1.5-1l.8-1.3l1.6-.9l1 .2l1.2 .9l1.5 1M313.1 133.2l-1 .6l-.6 1.7l-1.8-.2l-1.1 1.5l.9-1.2l.9-1.6l1.7-.8l.5-.2M289.4 168.8l-1-1.5l-1.3-.9l-.8 1.7l-.7 .8l.8 .9l1.7-.7l1.1-.7l.6 .3M291.4 133.6l1 1.2l.4 1.8l.1 1.4l-.7 1.5l-.8 .7l1.8 .2l1.8 .1l1.8-.2M278.1 161.4l1.4 0l1-1.4l0 1.6l-.4 1.8l-.3 1.8l.7-1.5l0-.7l-.6-1M307.9 133l-.3-.7l-.2-.1l-.8 .4l.2 1.8l-.2 1.8l-.8 1.7l-.1 .5l1.2 1.2M298 161l0-.6l1.1-1.3l-.2-.9l-.9-.9l.2 1.4l.3 1.3l1.6 .4l.5 1.7M297.2 143.4l.8 .9l-.7 1.8l-1.3 1.1l-.8 1.3l-1.1-.3l-.6 1.8l.7 1.4l-.3 .9M304.4 124.4l0 .7l.5 1.5l0 1.6l-1.8-.5l.4 1.8"/><path stroke="#8a3a9a" d="M291.6 153.5l-.1 .2l1.4-.3l.4 .6l1.7-.3l1.3 .4l1.7-.6l1.3-.9l1.3-1.4M294.8 156.8l1.1 .9l1.2 1.2l1.3 .3l1.1 .2l.7 .6l1.7-.7l1.6-.3l1.1 0M295.4 155.4l.3 1.8l-1.2 1.4l-.9 1.5l.4 1.2l.7 1.4l1.1-.7l0-1.8l.9-1.6M293.7 155.5l-1.5 .2l-1.6 .8l-.3 1.5l-.8 1.8l.2-.5l-.6 .2l.1 .4M292.2 156.3l-.1-1.3l-1.8 .2l-.5-1.6l-.8 0l.6-.2l.2-.1l.3 .1l.8 .5M293.9 160.3l-1.2 1l0 1.7l-1.8 .6l-1 1.5l-.2 1.7l-.7 .5l.2-1.6l.1-1.8M297.5 154.3l-.6-1l-1.1 .1l-.9-.8l-1-1.4l1.1-.8l1.1 1l-.6 .5l.9-1.7M294.2 154.7l.2 .9l-.3 1.5l-.5 1.5l.3 .9l-1 1.2l-1.4 .3l-.8-.1l-1.5-.1M290.9 159.7l-.5-1.6l1.3-1.4l-1.8-.1l-.4 .5l.1 .4l-.4-.5l-1 .5l.1-1.4"/><path stroke="#9a3a8a" d="M286.2 126.2l1.2-.7l1.6-1.1l1.7-.4l1.5-1.2l-.3 1.3l1.8-.7l.4 0l1.2-.6M287 127.9l.8-1.3l0 .3l.1 1.3l-.1 1.7l-1 1.3l1.4 1.2l1 1.3l-.2 1.4M292.5 127.4l-.2-1.1l-.8 .3l-1.4 0l-.9 1.3l-.4 .2l0 1.6l-1.2 1.3l-.5 1.2M288 126.8l-1.5 0l-1.3 1.4l-1.2 1.5l-1.6 .9l-1.3 1.4l.4 1.8l-1.1 1.1l-.6-.1M289.5 124.4l-1.2 0l-.4-1.4l-.7 .1l.7 .9l-.3-1.7l1.7-.8l1.5 .8l1.4 .7M289.9 120.4l1.1 1.5l.6 1.6l-.3 1.3l.5-.8l1-1l1.1-1.5"/><path stroke="#a08050" d="M281.4 137.5l1.5 .7l1-1.6l1.8-.6l1.2-1.5l-1.8-.4l-1 .5l-1.3 .6l.4 1.7M281.2 136.8l.2 1l-1.3-1.2l-.2-1.8l-1.6 0M275.7 142l0 1.7l1.3 1l1.4 1l1.8-.7l.6 1.2l.7 1.3l-.7 1.7l1.3 .6M264.8 138.2l.5-1.8l1-.5l.9-1.2l1.1-1.6l-.2-1.5l.6 .5M287.9 138.9l-1.3-1.1l-1.6-.6l-1.7-.6l-.3-.1l-1.7-.4l-.2 .2l1.6 .8l-.8 1.7M269.4 127.2l-.6-1.8l.9 1.2l-.4 1.9l1.1 1.2l.3 1.6l-1.4 1.3M281.6 127l-.8-.4l-1.2-.1l-1.8 .1l-1.2 1.2l.5 1.6l-.6 1.4l-.6 1.8M283.2 142.7l-1 1.1l-1 1.5l-1.3 .7l-1.6-.7l-.8 1.7l-1 1.4M283.4 135.2l-1-.5l-1.8 .3l-1 .1l.9 0l1.5-1.1l1-1.3l-1.2 .4l-1.2 .2M279.9 140.8l-1.1 1.4l-.1 1.7l-1.1 1.2l.6 1.7l1 1.2l1.3-.1l-.7 1.4l-.7 .1M270.4 135.7l1.3 1.1l1.1 .5l.5 1l-.2-.3l-1.1 .8l-1.3 1.1l1.3 1.2l-.5 1.8"/><path stroke="#2a6aa8" d="M304.8 122.5l1.5 .9l-1.3-.4l.4 1.6l-1.8 0l-1.5 .2l-.5 .7l-1.4 0l-1.7-.5"/></g><g fill="none" stroke-width="1.20" stroke-linecap="round"><path stroke="#ffffff" d="M303.0 157.6h0M298.3 155.6h0M305.7 136.8h0M288.8 128.3h0M311.2 157.0h0M279.1 136.4h0M291.9 138.0h0M266.9 151.7h0M282.0 148.4h0M296.8 160.1h0M308.0 129.9h0M295.7 157.5h0M295.3 165.4h0M269.9 138.4h0M297.1 149.2h0M316.7 124.9h0M279.8 140.4h0M291.9 141.9h0M310.2 155.9h0M269.9 151.7h0M313.3 169.8h0M289.9 130.6h0M305.7 148.2h0M265.7 162.9h0M308.0 127.9h0M312.2 158.0h0M312.0 164.7h0M310.4 125.8h0M292.0 154.6h0M276.8 141.8h0M294.8 139.2h0M269.5 133.5h0M303.4 169.0h0M300.6 171.2h0M314.0 163.7h0M293.1 126.2h0M297.4 154.3h0M313.7 120.0h0M298.6 146.2h0M291.9 159.3h0M293.9 159.7h0M313.5 117.4h0M317.3 132.9h0M299.9 157.4h0M311.9 144.9h0M285.8 137.1h0M291.0 168.8h0M306.5 128.0h0M280.7 156.6h0M290.0 170.9h0M298.5 164.8h0M320.8 123.4h0M277.2 143.4h0M287.6 153.2h0M290.0 130.7h0M294.7 144.5h0M282.9 150.5h0M283.9 151.6h0M267.3 171.1h0M318.6 149.6h0M303.5 140.7h0M312.8 140.9h0M266.4 159.5h0M280.1 132.2h0M279.2 156.0h0M288.9 130.1h0M325.0 161.3h0M284.6 149.1h0M282.8 170.4h0M302.1 166.9h0M291.3 137.5h0M309.4 160.8h0M298.2 122.3h0M292.6 142.6h0M285.5 131.1h0M305.1 153.3h0M282.7 145.9h0M290.2 122.7h0M277.4 150.2h0M271.1 153.6h0M282.6 132.7h0M303.0 163.9h0M290.6 163.0h0M318.0 151.5h0M310.3 170.0h0M318.2 129.1h0M307.9 151.7h0M291.9 144.3h0M297.1 131.9h0M309.7 176.2h0M269.4 143.7h0M307.3 165.2h0M320.4 123.0h0M313.5 155.9h0M293.2 142.7h0M276.6 160.4h0M284.9 175.9h0M289.1 162.9h0M299.4 166.0h0M274.8 159.3h0M298.0 158.5h0M291.0 141.7h0M312.6 150.4h0M314.3 149.5h0M293.8 136.0h0M291.5 129.4h0M321.5 140.6h0M310.9 154.4h0M312.1 166.5h0M294.3 158.4h0M292.7 137.1h0M303.6 171.9h0M305.3 154.2h0M293.7 131.3h0M316.8 125.9h0M311.4 137.3h0M295.2 135.6h0M313.2 129.6h0M278.7 151.6h0M282.4 162.0h0M313.9 164.7h0M266.6 154.9h0M292.0 159.1h0M299.3 155.3h0M276.7 145.6h0M311.9 152.1h0M318.3 141.1h0M288.2 167.5h0M293.1 162.7h0M287.8 160.2h0M273.2 163.3h0M284.5 146.7h0M308.8 136.8h0M311.2 153.9h0M289.1 147.8h0M308.4 174.2h0M287.5 166.3h0M314.4 131.8h0M306.9 168.6h0M268.3 178.4h0M266.5 153.7h0M309.3 173.8h0M278.9 154.8h0M326.7 164.0h0M312.9 123.1h0M317.6 138.9h0M324.0 163.2h0M313.1 149.8h0M317.3 158.2h0M286.4 163.1h0M273.9 175.5h0M279.8 138.6h0M276.0 127.5h0M279.8 142.6h0M290.0 127.1h0M303.8 156.4h0M322.0 164.7h0M307.9 124.7h0M288.4 135.0h0M291.3 147.7h0M302.6 137.6h0M274.3 131.3h0M295.0 126.3h0M306.0 123.2h0M306.6 157.4h0M297.8 121.7h0M319.5 167.1h0M287.1 154.1h0M293.7 149.9h0M276.9 161.0h0M305.5 148.2h0M291.4 126.7h0M282.9 132.6h0M274.3 129.0h0M275.7 127.0h0M296.8 146.1h0M300.6 135.0h0M311.7 125.2h0M289.0 119.1h0M318.2 128.3h0M314.0 150.1h0M291.9 141.1h0M300.8 165.7h0M299.7 149.7h0M298.3 141.7h0M279.8 142.2h0M285.1 178.1h0M316.9 136.2h0M296.4 140.7h0M314.7 166.7h0M287.1 157.2h0M309.0 139.1h0M283.5 155.3h0M285.8 152.1h0M296.9 137.4h0M309.2 121.1h0M303.6 135.8h0M289.8 176.3h0M292.9 116.3h0M324.5 142.2h0M289.5 138.8h0M276.8 140.7h0M292.8 167.2h0M297.9 118.8h0M319.5 147.7h0M290.9 142.8h0M278.7 158.3h0M275.6 148.2h0M269.1 172.3h0M273.1 130.6h0M300.3 136.6h0M296.9 176.3h0M286.9 137.1h0M310.2 156.0h0M311.9 152.7h0M303.6 129.6h0M273.1 174.8h0M309.8 154.7h0M292.0 136.6h0M292.3 133.9h0M280.4 131.7h0M285.3 157.1h0M307.3 124.8h0M294.6 152.1h0M303.8 120.0h0M314.1 132.5h0M308.3 133.7h0M309.4 168.9h0M297.9 144.3h0M301.4 156.4h0"/><path stroke="#36ac36" d="M311.2 170.0h0M289.3 168.7h0M278.0 171.3h0M286.7 170.4h0M287.2 147.5h0M276.5 142.1h0M290.3 168.3h0M295.7 132.8h0M275.3 149.1h0M312.3 164.0h0M308.9 147.5h0M277.2 167.9h0M303.6 127.9h0M278.3 156.7h0M327.5 160.2h0M286.6 155.2h0M296.6 158.3h0M284.2 154.7h0M307.7 123.8h0M296.5 137.0h0M282.5 156.2h0M291.1 143.7h0M288.6 150.7h0M308.6 149.9h0M298.3 160.9h0M299.5 152.7h0M312.5 139.1h0M310.3 170.1h0M278.5 168.0h0M290.3 128.9h0M276.7 171.2h0M269.0 144.6h0M322.3 136.6h0M277.1 161.7h0M290.9 120.3h0M284.5 129.4h0M288.0 136.8h0M323.8 126.3h0M276.5 170.1h0M318.8 130.7h0M278.1 166.2h0M301.4 139.2h0M323.8 154.5h0M314.6 173.8h0M312.0 161.1h0M321.1 136.3h0M287.3 161.2h0M307.9 142.9h0M283.6 145.0h0M276.8 131.3h0M298.2 124.2h0M276.0 132.6h0M296.3 156.5h0M301.9 166.2h0M301.1 154.9h0M289.2 152.7h0M319.8 123.7h0M296.7 159.5h0M273.3 159.3h0M294.0 125.8h0M292.1 147.3h0M303.7 169.0h0M317.8 147.1h0M309.9 163.6h0M305.9 147.4h0M299.3 124.9h0M280.6 147.1h0M323.0 127.0h0M310.6 162.4h0M295.4 137.2h0"/></g>
<path d="M337.55 28.45V224.20H51.15" fill="none" stroke="#2a2a2a" stroke-width="1"/>
<path d="M51.15 224.20V28.45H337.55" fill="none" stroke="#2a2a2a" stroke-width="1"/>
<path stroke="#2a2a2a" stroke-width="1" d="M47.95 224.20H51.15M47.95 185.05H51.15M47.95 145.90H51.15M47.95 106.75H51.15M47.95 67.60H51.15M47.95 28.45H51.15M51.15 224.20V227.20M108.43 224.20V227.20M165.71 224.20V227.20M222.99 224.20V227.20M280.27 224.20V227.20M337.55 224.20V227.20"/>
<g font-size="12" fill="#111"><text x="42.4" y="228.3" text-anchor="end">250</text><text x="42.4" y="189.1" text-anchor="end">300</text><text x="42.4" y="150.0" text-anchor="end">350</text><text x="42.4" y="110.8" text-anchor="end">400</text><text x="42.4" y="71.7" text-anchor="end">450</text><text x="42.4" y="32.5" text-anchor="end">500</text><text x="51.1" y="241.8" text-anchor="middle">0</text><text x="108.4" y="241.8" text-anchor="middle">20</text><text x="165.4" y="241.8" text-anchor="middle">40</text><text x="222.6" y="241.8" text-anchor="middle">60</text><text x="279.5" y="241.8" text-anchor="middle">80</text><text x="336.2" y="241.8" text-anchor="middle">100</text></g>
<text x="122.2" y="260.2" font-size="14.3" fill="#111" textLength="141.2" lengthAdjust="spacingAndGlyphs">Crosslinking&#160; ratio&#160; (%)</text>
<g transform="translate(15.6,181.6) rotate(-90)"><text x="0.0" y="0.0" font-size="14.0" fill="#111" textLength="74.3" lengthAdjust="spacingAndGlyphs">Temperature</text><text x="81.2" y="0.0" font-size="14.0" fill="#111" textLength="20.3" lengthAdjust="spacingAndGlyphs">(K)</text></g>
<polyline fill="none" stroke="#000" stroke-width="1.65" points="51.15,181.29 52.15,181.11 53.15,180.94 54.15,180.76 55.15,180.58 56.15,180.40 57.15,180.22 58.15,180.04 59.15,179.85 60.15,179.67 61.15,179.48 62.15,179.30 63.15,179.11 64.15,178.92 65.15,178.73 66.15,178.54 67.15,178.34 68.15,178.15 69.15,177.95 70.15,177.76 71.15,177.56 72.15,177.36 73.15,177.16 74.15,176.96 75.15,176.76 76.15,176.56 77.15,176.36 78.15,176.15 79.15,175.95 80.15,175.74 81.15,175.53 82.15,175.32 83.15,175.11 84.15,174.90 85.15,174.69 86.15,174.48 87.15,174.26 88.15,174.05 89.15,173.83 90.15,173.61 91.15,173.39 92.15,173.17 93.15,172.95 94.15,172.73 95.15,172.51 96.15,172.28 97.15,172.06 98.15,171.83 99.15,171.60 100.15,171.37 101.15,171.14 102.15,170.91 103.15,170.68 104.15,170.45 105.15,170.21 106.15,169.98 107.15,169.74 108.15,169.50 109.15,169.26 110.15,169.02 111.15,168.78 112.15,168.54 113.15,168.29 114.15,168.05 115.15,167.80 116.15,167.55 117.15,167.31 118.15,167.06 119.15,166.80 120.15,166.55 121.15,166.30 122.15,166.04 123.15,165.78 124.15,165.53 125.15,165.27 126.15,165.01 127.15,164.74 128.15,164.48 129.15,164.22 130.15,163.95 131.15,163.68 132.15,163.41 133.15,163.14 134.15,162.87 135.15,162.60 136.15,162.32 137.15,162.04 138.15,161.77 139.15,161.49 140.15,161.21 141.15,160.92 142.15,160.64 143.15,160.35 144.15,160.07 145.15,159.78 146.15,159.49 147.15,159.19 148.15,158.90 149.15,158.60 150.15,158.31 151.15,158.01 152.15,157.71 153.15,157.41 154.15,157.10 155.15,156.79 156.15,156.49 157.15,156.18 158.15,155.87 159.15,155.55 160.15,155.24 161.15,154.92 162.15,154.60 163.15,154.28 164.15,153.96 165.15,153.63 166.15,153.30 167.15,152.97 168.15,152.64 169.15,152.31 170.15,151.97 171.15,151.64 172.15,151.30 173.15,150.96 174.15,150.61 175.15,150.27 176.15,149.92 177.15,149.57 178.15,149.21 179.15,148.86 180.15,148.50 181.15,148.14 182.15,147.78 183.15,147.41 184.15,147.04 185.15,146.67 186.15,146.30 187.15,145.93 188.15,145.55 189.15,145.17 190.15,144.79 191.15,144.40 192.15,144.01 193.15,143.62 194.15,143.23 195.15,142.83 196.15,142.43 197.15,142.03 198.15,141.63 199.15,141.22 200.15,140.81 201.15,140.40 202.15,139.98 203.15,139.56 204.15,139.14 205.15,138.71 206.15,138.28 207.15,137.85 208.15,137.42 209.15,136.98 210.15,136.54 211.15,136.09 212.15,135.65 213.15,135.20 214.15,134.74 215.15,134.28 216.15,133.82 217.15,133.36 218.15,132.89 219.15,132.42 220.15,131.94 221.15,131.46 222.15,130.98 223.15,130.49 224.15,130.00 225.15,129.51 226.15,129.01 227.15,128.51 228.15,128.01 229.15,127.50 230.15,126.98 231.15,126.47 232.15,125.95 233.15,125.42 234.15,124.89 235.15,124.36 236.15,123.82 237.15,123.28 238.15,122.74 239.15,122.19 240.15,121.63 241.15,121.07 242.15,120.51 243.15,119.94 244.15,119.37 245.15,118.79 246.15,118.21 247.15,117.63 248.15,117.04 249.15,116.44 250.15,115.84 251.15,115.24 252.15,114.63 253.15,114.01 254.15,113.39 255.15,112.77 256.15,112.14 257.15,111.50 258.15,110.87 259.15,110.22 260.15,109.57 261.15,108.92 262.15,108.26 263.15,107.59 264.15,106.92 265.15,106.24 266.15,105.56 267.15,104.87 268.15,104.18 269.15,103.48 270.15,102.78 271.15,102.07 272.15,101.35 273.15,100.63 274.15,99.90 275.15,99.17 276.15,98.43 277.15,97.69 278.15,96.94 279.15,96.18 280.15,95.41 281.15,94.65 282.15,93.87 283.15,93.09 284.15,92.30 285.15,91.50 286.15,90.70 287.15,89.89 288.15,89.08 289.15,88.26 290.15,87.43 291.15,86.60 292.15,85.76 293.15,84.91 294.15,84.05 295.15,83.19 296.15,82.32 297.15,81.45 298.15,80.56 299.15,79.67 300.15,78.78 301.15,77.87 302.15,76.96 303.15,76.04 304.15,75.11 305.15,74.18 306.15,73.24 307.15,72.29 308.15,71.33 309.15,70.37 310.15,69.39 311.15,68.41 312.15,67.42 313.15,66.43 314.15,65.42 315.15,64.41 316.15,63.39 317.15,62.36 318.15,61.32 319.15,60.28 320.15,59.23 321.15,58.16 322.15,57.09 323.15,56.01 324.15,54.93 325.15,53.83 326.15,52.72 327.15,51.61 328.15,50.49 329.15,49.36 330.15,48.21 331.15,47.06 332.15,45.91 333.15,44.74 334.15,43.56 335.15,42.37 336.15,41.18 337.15,39.97"/>
<circle cx="51.8" cy="185.3" r="2.25" fill="#f00"/>
<circle cx="80.2" cy="177.4" r="2.25" fill="#f00"/>
<circle cx="137.5" cy="157.3" r="2.25" fill="#f00"/>
<circle cx="194.9" cy="145.7" r="2.25" fill="#f00"/>
<circle cx="252.1" cy="118.7" r="2.25" fill="#f00"/>
<circle cx="295.1" cy="83.3" r="2.25" fill="#f00"/>
<line x1="53.8" y1="179.8" x2="70.3" y2="163.9" stroke="#111" stroke-width="1.5"/><polygon fill="#111" points="74.8,159.6 72.3,167.4 66.9,161.8"/>
<line x1="195.1" y1="138.7" x2="205.7" y2="114.4" stroke="#111" stroke-width="1.5"/><polygon fill="#111" points="208.3,108.5 208.8,116.8 201.9,113.8"/>
<line x1="293.9" y1="112.0" x2="294.1" y2="94.8" stroke="#666" stroke-width="1.4"/><polygon fill="#111" points="294.2,88.4 297.5,95.8 290.7,95.8"/>
<rect x="58.5" y="32.6" width="48.2" height="15.6" fill="#fff" stroke="#222" stroke-width="1"/>
<circle cx="72.2" cy="40.9" r="3.2" fill="#f00"/>
<text x="80.8" y="44.4" font-size="11.2" fill="#111" textLength="13.6" lengthAdjust="spacingAndGlyphs">Tg</text>
<text x="375.0" y="15.4" font-size="16.0" fill="#000" textLength="20.5" lengthAdjust="spacingAndGlyphs">(b)</text>
<polygon fill="#eef1f7" points="426.75,48.59 427.75,48.74 428.76,48.89 429.76,49.04 430.76,49.19 431.76,49.34 432.77,49.50 433.77,49.65 434.77,49.81 435.78,49.97 436.78,50.13 437.78,50.30 438.79,50.46 439.79,50.63 440.79,50.80 441.79,50.97 442.80,51.14 443.80,51.31 444.80,51.48 445.81,51.66 446.81,51.83 447.81,52.01 448.82,52.19 449.82,52.37 450.82,52.55 451.82,52.73 452.83,52.92 453.83,53.10 454.83,53.29 455.84,53.48 456.84,53.67 457.84,53.86 458.84,54.05 459.85,54.25 460.85,54.44 461.85,54.64 462.86,54.83 463.86,55.03 464.86,55.23 465.87,55.43 466.87,55.64 467.87,55.84 468.87,56.04 469.88,56.25 470.88,56.46 471.88,56.66 472.89,56.87 473.89,57.08 474.89,57.30 475.90,57.51 476.90,57.72 477.90,57.94 478.90,58.16 479.91,58.37 480.91,58.59 481.91,58.81 482.92,59.03 483.92,59.26 484.92,59.48 485.92,59.71 486.93,59.93 487.93,60.16 488.93,60.39 489.94,60.62 490.94,60.85 491.94,61.08 492.95,61.31 493.95,61.55 494.95,61.78 495.95,62.02 496.96,62.26 497.96,62.50 498.96,62.74 499.97,62.98 500.97,63.22 501.97,63.47 502.98,63.71 503.98,63.96 504.98,64.21 505.98,64.46 506.99,64.71 507.99,64.96 508.99,65.21 510.00,65.47 511.00,65.72 512.00,65.98 513.00,66.24 514.01,66.50 515.01,66.76 516.01,67.02 517.02,67.29 518.02,67.55 519.02,67.82 520.03,68.09 521.03,68.36 522.03,68.63 523.03,68.90 524.04,69.17 525.04,69.45 526.04,69.73 527.05,70.01 528.05,70.29 529.05,70.57 530.05,70.85 531.06,71.14 532.06,71.42 533.06,71.71 534.07,72.00 535.07,72.29 536.07,72.59 537.08,72.88 538.08,73.18 539.08,73.48 540.08,73.78 541.09,74.08 542.09,74.38 543.09,74.69 544.10,75.00 545.10,75.31 546.10,75.62 547.11,75.93 548.11,76.25 549.11,76.56 550.11,76.88 551.12,77.20 552.12,77.53 553.12,77.85 554.13,78.18 555.13,78.51 556.13,78.84 557.13,79.18 558.14,79.51 559.14,79.85 560.14,80.19 561.15,80.53 562.15,80.88 563.15,81.22 564.16,81.57 565.16,81.93 566.16,82.28 567.16,82.64 568.17,83.00 569.17,83.36 570.17,83.72 571.18,84.09 572.18,84.46 573.18,84.83 574.19,85.21 575.19,85.59 576.19,85.97 577.19,86.35 578.20,86.74 579.20,87.12 579.20,87.12 538.50,86.39 497.70,101.68 491.90,113.40 491.90,113.40 490.90,113.17 489.90,112.94 488.89,112.71 487.89,112.48 486.89,112.25 485.89,112.03 484.88,111.80 483.88,111.58 482.88,111.36 481.88,111.14 480.87,110.92 479.87,110.70 478.87,110.48 477.87,110.26 476.87,110.05 475.86,109.83 474.86,109.62 473.86,109.41 472.86,109.20 471.85,108.99 470.85,108.78 469.85,108.57 468.85,108.37 467.84,108.16 466.84,107.96 465.84,107.76 464.84,107.56 463.84,107.36 462.83,107.16 461.83,106.96 460.83,106.77 459.83,106.57 458.82,106.38 457.82,106.19 456.82,106.00 455.82,105.81 454.81,105.62 453.81,105.43 452.81,105.25 451.81,105.06 450.81,104.88 449.80,104.70 448.80,104.52 447.80,104.34 446.80,104.16 445.79,103.98 444.79,103.81 443.79,103.64 442.79,103.46 441.78,103.29 440.78,103.13 439.78,102.96 438.78,102.79 437.78,102.63 436.77,102.46 435.77,102.30 434.77,102.14 433.77,101.98 432.76,101.83 431.76,101.67 430.76,101.52 429.76,101.37 428.75,101.22 427.75,101.07 426.75,100.92"/>
<polygon fill="#fcebeb" points="579.20,87.12 580.21,87.52 581.22,87.92 582.23,88.32 583.25,88.72 584.26,89.13 585.27,89.54 586.28,89.95 587.29,90.37 588.30,90.79 589.31,91.21 590.33,91.64 591.34,92.07 592.35,92.50 593.36,92.94 594.37,93.38 595.38,93.82 596.39,94.27 597.41,94.72 598.42,95.17 599.43,95.63 600.44,96.09 601.45,96.55 602.46,97.02 603.47,97.49 604.49,97.97 605.50,98.45 606.51,98.94 607.52,99.42 608.53,99.92 609.54,100.41 610.55,100.91 611.57,101.42 612.58,101.93 613.59,102.44 614.60,102.96 614.60,102.96 590.20,104.67 536.00,111.81 513.90,118.80 513.90,118.80 512.90,118.54 511.90,118.28 510.90,118.03 509.90,117.77 508.90,117.52 507.90,117.27 506.90,117.02 505.90,116.77 504.90,116.52 503.90,116.27 502.90,116.02 501.90,115.78 500.90,115.54 499.90,115.29 498.90,115.05 497.90,114.81 496.90,114.57 495.90,114.34 494.90,114.10 493.90,113.87 492.90,113.63 491.90,113.40 491.90,113.40 497.70,101.68 538.50,86.39 579.20,87.12"/>
<polygon fill="#e8e8e8" points="614.60,102.96 615.60,103.48 616.61,104.00 617.61,104.53 618.61,105.06 619.62,105.59 620.62,106.13 621.62,106.68 622.63,107.23 623.63,107.78 624.64,108.34 625.64,108.90 626.64,109.47 627.65,110.04 628.65,110.62 629.65,111.21 630.66,111.79 631.66,112.39 632.66,112.99 633.67,113.59 634.67,114.20 635.67,114.81 636.68,115.43 637.68,116.06 638.69,116.69 639.69,117.33 640.69,117.97 641.70,118.62 642.70,119.27 643.70,119.93 644.71,120.59 645.71,121.26 646.71,121.94 647.72,122.62 648.72,123.31 649.73,124.01 650.73,124.71 651.73,125.41 652.74,126.13 653.74,126.85 654.74,127.57 655.75,128.30 656.75,129.04 657.75,129.79 658.76,130.54 659.76,131.30 660.76,132.07 661.77,132.84 662.77,133.62 663.77,134.41 664.78,135.20 665.78,136.00 666.79,136.81 667.79,137.62 668.79,138.45 669.80,139.28 670.80,140.11 671.80,140.96 672.81,141.81 673.81,142.67 674.81,143.54 675.82,144.41 676.82,145.30 677.83,146.19 678.83,147.09 679.83,147.99 680.84,148.91 681.84,149.83 682.84,150.76 683.85,151.70 684.85,152.65 685.85,153.61 686.86,154.57 687.86,155.55 688.86,156.53 689.87,157.52 690.87,158.52 691.88,159.53 692.88,160.55 693.88,161.58 694.89,162.61 695.89,163.66 696.89,164.71 697.90,165.78 698.90,166.85 698.90,219.18 697.90,218.11 696.90,217.05 695.90,216.00 694.90,214.96 693.90,213.93 692.90,212.90 691.90,211.89 690.90,210.88 689.90,209.88 688.90,208.90 687.90,207.92 686.90,206.95 685.90,205.98 684.90,205.03 683.90,204.08 682.90,203.15 681.90,202.22 680.90,201.30 679.90,200.39 678.90,199.48 677.90,198.59 676.90,197.70 675.90,196.82 674.90,195.94 673.90,195.08 672.90,194.22 671.90,193.37 670.90,192.53 669.90,191.69 668.90,190.87 667.90,190.04 666.90,189.23 665.90,188.43 664.90,187.63 663.90,186.84 662.90,186.05 661.90,185.27 660.90,184.50 659.90,183.74 658.90,182.98 657.90,182.23 656.90,181.49 655.90,180.75 654.90,180.02 653.90,179.29 652.90,178.57 651.90,177.86 650.90,177.16 649.90,176.46 648.90,175.76 647.90,175.08 646.90,174.40 645.90,173.72 644.90,173.05 643.90,172.39 642.90,171.73 641.90,171.08 640.90,170.43 639.90,169.79 638.90,169.16 637.90,168.53 636.90,167.90 635.90,167.28 634.90,166.67 633.90,166.06 632.90,165.46 631.90,164.86 630.90,164.27 629.90,163.68 628.90,163.10 627.90,162.52 626.90,161.95 625.90,161.38 624.90,160.82 623.90,160.26 622.90,159.71 621.90,159.16 620.90,158.61 619.90,158.07 618.90,157.54 617.90,157.01 616.90,156.48 615.90,155.96 614.90,155.44 613.90,154.93 612.90,154.42 611.90,153.92 610.90,153.42 609.90,152.92 608.90,152.43 607.90,151.94 606.90,151.46 605.90,150.97 604.90,150.50 603.90,150.03 602.90,149.56 601.90,149.09 600.90,148.63 599.90,148.17 598.90,147.72 597.90,147.27 596.90,146.82 595.90,146.38 594.90,145.94 593.90,145.50 592.90,145.07 591.90,144.64 590.90,144.21 589.90,143.79 588.90,143.37 587.90,142.95 586.90,142.54 585.90,142.13 584.90,141.72 583.90,141.32 582.90,140.91 581.90,140.52 580.90,140.12 579.90,139.73 578.90,139.34 577.90,138.95 576.90,138.57 575.90,138.19 574.90,137.81 573.90,137.43 572.90,137.06 571.90,136.69 570.90,136.32 569.90,135.96 568.90,135.59 567.90,135.23 566.90,134.87 565.90,134.52 564.90,134.17 563.90,133.82 562.90,133.47 561.90,133.12 560.90,132.78 559.90,132.44 558.90,132.10 557.90,131.76 556.90,131.43 555.90,131.10 554.90,130.76 553.90,130.44 552.90,130.11 551.90,129.79 550.90,129.47 549.90,129.15 548.90,128.83 547.90,128.51 546.90,128.20 545.90,127.89 544.90,127.58 543.90,127.27 542.90,126.96 541.90,126.66 540.90,126.35 539.90,126.05 538.90,125.75 537.90,125.46 536.90,125.16 535.90,124.87 534.90,124.58 533.90,124.28 532.90,124.00 531.90,123.71 530.90,123.42 529.90,123.14 528.90,122.86 527.90,122.58 526.90,122.30 525.90,122.02 524.90,121.74 523.90,121.47 522.90,121.19 521.90,120.92 520.90,120.65 519.90,120.38 518.90,120.12 517.90,119.85 516.90,119.59 515.90,119.32 514.90,119.06 513.90,118.80 513.90,118.80 536.00,111.81 590.20,104.67 614.60,102.96"/>
<polyline fill="none" stroke="#000000" stroke-width="1.6" points="426.75,48.59 427.75,48.74 428.75,48.88 429.75,49.03 430.75,49.19 431.75,49.34 432.75,49.49 433.75,49.65 434.75,49.81 435.75,49.97 436.76,50.13 437.76,50.29 438.76,50.46 439.76,50.62 440.76,50.79 441.76,50.96 442.76,51.13 443.76,51.30 444.76,51.47 445.76,51.65 446.76,51.82 447.76,52.00 448.76,52.18 449.76,52.36 450.76,52.54 451.76,52.72 452.76,52.91 453.76,53.09 454.77,53.28 455.77,53.47 456.77,53.66 457.77,53.85 458.77,54.04 459.77,54.23 460.77,54.42 461.77,54.62 462.77,54.82 463.77,55.02 464.77,55.21 465.77,55.41 466.77,55.62 467.77,55.82 468.77,56.02 469.77,56.23 470.77,56.43 471.77,56.64 472.78,56.85 473.78,57.06 474.78,57.27 475.78,57.48 476.78,57.70 477.78,57.91 478.78,58.13 479.78,58.35 480.78,58.56 481.78,58.78 482.78,59.00 483.78,59.23 484.78,59.45 485.78,59.67 486.78,59.90 487.78,60.13 488.78,60.35 489.78,60.58 490.79,60.81 491.79,61.04 492.79,61.28 493.79,61.51 494.79,61.74 495.79,61.98 496.79,62.22 497.79,62.46 498.79,62.70 499.79,62.94 500.79,63.18 501.79,63.42 502.79,63.67 503.79,63.91 504.79,64.16 505.79,64.41 506.79,64.66 507.79,64.91 508.80,65.16 509.80,65.42 510.80,65.67 511.80,65.93 512.80,66.18 513.80,66.44 514.80,66.70 515.80,66.97 516.80,67.23 517.80,67.49 518.80,67.76 519.80,68.03 520.80,68.30 521.80,68.57 522.80,68.84 523.80,69.11 524.80,69.39 525.80,69.66 526.81,69.94 527.81,70.22 528.81,70.50 529.81,70.78 530.81,71.07 531.81,71.35 532.81,71.64 533.81,71.93 534.81,72.22 535.81,72.51 536.81,72.80 537.81,73.10 538.81,73.40 539.81,73.70 540.81,74.00 541.81,74.30 542.81,74.60 543.81,74.91 544.82,75.22 545.82,75.53 546.82,75.84 547.82,76.15 548.82,76.47 549.82,76.79 550.82,77.11 551.82,77.43 552.82,77.75 553.82,78.08 554.82,78.41 555.82,78.74 556.82,79.07 557.82,79.41 558.82,79.74 559.82,80.08 560.82,80.42 561.82,80.77 562.83,81.11 563.83,81.46 564.83,81.81 565.83,82.16 566.83,82.52 567.83,82.88 568.83,83.24 569.83,83.60 570.83,83.96 571.83,84.33 572.83,84.70 573.83,85.08 574.83,85.45 575.83,85.83 576.83,86.21 577.83,86.60 578.83,86.98 579.83,87.37 580.83,87.76 581.84,88.16 582.84,88.56 583.84,88.96 584.84,89.36 585.84,89.77 586.84,90.18 587.84,90.60 588.84,91.01 589.84,91.43 590.84,91.86 591.84,92.28 592.84,92.71 593.84,93.15 594.84,93.58 595.84,94.02 596.84,94.47 597.84,94.91 598.84,95.36 599.85,95.82 600.85,96.27 601.85,96.74 602.85,97.20 603.85,97.67 604.85,98.14 605.85,98.62 606.85,99.10 607.85,99.58 608.85,100.07 609.85,100.57 610.85,101.06 611.85,101.56 612.85,102.07 613.85,102.58 614.85,103.09 615.85,103.61 616.85,104.13 617.86,104.65 618.86,105.18 619.86,105.72 620.86,106.26 621.86,106.80 622.86,107.35 623.86,107.91 624.86,108.46 625.86,109.03 626.86,109.59 627.86,110.17 628.86,110.75 629.86,111.33 630.86,111.92 631.86,112.51 632.86,113.11 633.86,113.71 634.86,114.32 635.87,114.93 636.87,115.55 637.87,116.17 638.87,116.80 639.87,117.44 640.87,118.08 641.87,118.73 642.87,119.38 643.87,120.04 644.87,120.70 645.87,121.37 646.87,122.05 647.87,122.73 648.87,123.41 649.87,124.11 650.87,124.81 651.87,125.51 652.87,126.23 653.88,126.94 654.88,127.67 655.88,128.40 656.88,129.14 657.88,129.88 658.88,130.63 659.88,131.39 660.88,132.16 661.88,132.93 662.88,133.70 663.88,134.49 664.88,135.28 665.88,136.08 666.88,136.89 667.88,137.70 668.88,138.52 669.88,139.35 670.88,140.18 671.89,141.03 672.89,141.88 673.89,142.74 674.89,143.60 675.89,144.47 676.89,145.36 677.89,146.24 678.89,147.14 679.89,148.05 680.89,148.96 681.89,149.88 682.89,150.81 683.89,151.75 684.89,152.69 685.89,153.65 686.89,154.61 687.89,155.58 688.89,156.56 689.90,157.55 690.90,158.55 691.90,159.55 692.90,160.57 693.90,161.59 694.90,162.63 695.90,163.67 696.90,164.72 697.90,165.78 698.90,166.85"/>
<polyline fill="none" stroke="#118811" stroke-width="1.6" points="426.75,61.67 427.75,61.82 428.75,61.97 429.75,62.12 430.75,62.27 431.75,62.42 432.75,62.58 433.75,62.73 434.75,62.89 435.75,63.05 436.76,63.21 437.76,63.38 438.76,63.54 439.76,63.71 440.76,63.87 441.76,64.04 442.76,64.21 443.76,64.38 444.76,64.56 445.76,64.73 446.76,64.91 447.76,65.08 448.76,65.26 449.76,65.44 450.76,65.62 451.76,65.81 452.76,65.99 453.76,66.17 454.77,66.36 455.77,66.55 456.77,66.74 457.77,66.93 458.77,67.12 459.77,67.31 460.77,67.51 461.77,67.70 462.77,67.90 463.77,68.10 464.77,68.30 465.77,68.50 466.77,68.70 467.77,68.90 468.77,69.11 469.77,69.31 470.77,69.52 471.77,69.72 472.78,69.93 473.78,70.14 474.78,70.35 475.78,70.57 476.78,70.78 477.78,71.00 478.78,71.21 479.78,71.43 480.78,71.65 481.78,71.87 482.78,72.09 483.78,72.31 484.78,72.53 485.78,72.76 486.78,72.98 487.78,73.21 488.78,73.44 489.78,73.66 490.79,73.89 491.79,74.13 492.79,74.36 493.79,74.59 494.79,74.83 495.79,75.06 496.79,75.30 497.79,75.54 498.79,75.78 499.79,76.02 500.79,76.26 501.79,76.51 502.79,76.75 503.79,77.00 504.79,77.24 505.79,77.49 506.79,77.74 507.79,77.99 508.80,78.24 509.80,78.50 510.80,78.75 511.80,79.01 512.80,79.27 513.80,79.53 514.80,79.79 515.80,80.05 516.80,80.31 517.80,80.58 518.80,80.84 519.80,81.11 520.80,81.38 521.80,81.65 522.80,81.92 523.80,82.19 524.80,82.47 525.80,82.74 526.81,83.02 527.81,83.30 528.81,83.58 529.81,83.86 530.81,84.15 531.81,84.43 532.81,84.72 533.81,85.01 534.81,85.30 535.81,85.59 536.81,85.89 537.81,86.18 538.81,86.48 539.81,86.78 540.81,87.08 541.81,87.38 542.81,87.69 543.81,87.99 544.82,88.30 545.82,88.61 546.82,88.92 547.82,89.24 548.82,89.55 549.82,89.87 550.82,90.19 551.82,90.51 552.82,90.84 553.82,91.16 554.82,91.49 555.82,91.82 556.82,92.15 557.82,92.49 558.82,92.82 559.82,93.16 560.82,93.50 561.82,93.85 562.83,94.19 563.83,94.54 564.83,94.89 565.83,95.25 566.83,95.60 567.83,95.96 568.83,96.32 569.83,96.68 570.83,97.05 571.83,97.41 572.83,97.79 573.83,98.16 574.83,98.53 575.83,98.91 576.83,99.29 577.83,99.68 578.83,100.06 579.83,100.45 580.83,100.85 581.84,101.24 582.84,101.64 583.84,102.04 584.84,102.45 585.84,102.85 586.84,103.26 587.84,103.68 588.84,104.10 589.84,104.52 590.84,104.94 591.84,105.36 592.84,105.79 593.84,106.23 594.84,106.66 595.84,107.10 596.84,107.55 597.84,108.00 598.84,108.45 599.85,108.90 600.85,109.36 601.85,109.82 602.85,110.28 603.85,110.75 604.85,111.23 605.85,111.70 606.85,112.18 607.85,112.67 608.85,113.16 609.85,113.65 610.85,114.14 611.85,114.64 612.85,115.15 613.85,115.66 614.85,116.17 615.85,116.69 616.85,117.21 617.86,117.74 618.86,118.27 619.86,118.80 620.86,119.34 621.86,119.89 622.86,120.44 623.86,120.99 624.86,121.55 625.86,122.11 626.86,122.68 627.86,123.25 628.86,123.83 629.86,124.41 630.86,125.00 631.86,125.59 632.86,126.19 633.86,126.79 634.86,127.40 635.87,128.01 636.87,128.63 637.87,129.26 638.87,129.89 639.87,130.52 640.87,131.16 641.87,131.81 642.87,132.46 643.87,133.12 644.87,133.78 645.87,134.45 646.87,135.13 647.87,135.81 648.87,136.50 649.87,137.19 650.87,137.89 651.87,138.60 652.87,139.31 653.88,140.03 654.88,140.75 655.88,141.48 656.88,142.22 657.88,142.97 658.88,143.72 659.88,144.47 660.88,145.24 661.88,146.01 662.88,146.79 663.88,147.57 664.88,148.36 665.88,149.16 666.88,149.97 667.88,150.78 668.88,151.60 669.88,152.43 670.88,153.27 671.89,154.11 672.89,154.96 673.89,155.82 674.89,156.68 675.89,157.56 676.89,158.44 677.89,159.33 678.89,160.22 679.89,161.13 680.89,162.04 681.89,162.96 682.89,163.89 683.89,164.83 684.89,165.78 685.89,166.73 686.89,167.69 687.89,168.66 688.89,169.64 689.90,170.63 690.90,171.63 691.90,172.64 692.90,173.65 693.90,174.68 694.90,175.71 695.90,176.75 696.90,177.80 697.90,178.86 698.90,179.93"/>
<polyline fill="none" stroke="#20c420" stroke-width="1.6" points="426.75,87.84 427.75,87.98 428.75,88.13 429.75,88.28 430.75,88.43 431.75,88.59 432.75,88.74 433.75,88.90 434.75,89.06 435.75,89.22 436.76,89.38 437.76,89.54 438.76,89.71 439.76,89.87 440.76,90.04 441.76,90.21 442.76,90.38 443.76,90.55 444.76,90.72 445.76,90.90 446.76,91.07 447.76,91.25 448.76,91.43 449.76,91.61 450.76,91.79 451.76,91.97 452.76,92.16 453.76,92.34 454.77,92.53 455.77,92.71 456.77,92.90 457.77,93.09 458.77,93.29 459.77,93.48 460.77,93.67 461.77,93.87 462.77,94.07 463.77,94.26 464.77,94.46 465.77,94.66 466.77,94.86 467.77,95.07 468.77,95.27 469.77,95.48 470.77,95.68 471.77,95.89 472.78,96.10 473.78,96.31 474.78,96.52 475.78,96.73 476.78,96.95 477.78,97.16 478.78,97.38 479.78,97.59 480.78,97.81 481.78,98.03 482.78,98.25 483.78,98.47 484.78,98.70 485.78,98.92 486.78,99.15 487.78,99.37 488.78,99.60 489.78,99.83 490.79,100.06 491.79,100.29 492.79,100.52 493.79,100.76 494.79,100.99 495.79,101.23 496.79,101.47 497.79,101.70 498.79,101.94 499.79,102.18 500.79,102.43 501.79,102.67 502.79,102.92 503.79,103.16 504.79,103.41 505.79,103.66 506.79,103.91 507.79,104.16 508.80,104.41 509.80,104.66 510.80,104.92 511.80,105.18 512.80,105.43 513.80,105.69 514.80,105.95 515.80,106.21 516.80,106.48 517.80,106.74 518.80,107.01 519.80,107.27 520.80,107.54 521.80,107.81 522.80,108.09 523.80,108.36 524.80,108.63 525.80,108.91 526.81,109.19 527.81,109.47 528.81,109.75 529.81,110.03 530.81,110.31 531.81,110.60 532.81,110.89 533.81,111.18 534.81,111.47 535.81,111.76 536.81,112.05 537.81,112.35 538.81,112.65 539.81,112.94 540.81,113.25 541.81,113.55 542.81,113.85 543.81,114.16 544.82,114.47 545.82,114.78 546.82,115.09 547.82,115.40 548.82,115.72 549.82,116.04 550.82,116.36 551.82,116.68 552.82,117.00 553.82,117.33 554.82,117.66 555.82,117.99 556.82,118.32 557.82,118.65 558.82,118.99 559.82,119.33 560.82,119.67 561.82,120.01 562.83,120.36 563.83,120.71 564.83,121.06 565.83,121.41 566.83,121.77 567.83,122.12 568.83,122.48 569.83,122.85 570.83,123.21 571.83,123.58 572.83,123.95 573.83,124.32 574.83,124.70 575.83,125.08 576.83,125.46 577.83,125.84 578.83,126.23 579.83,126.62 580.83,127.01 581.84,127.41 582.84,127.81 583.84,128.21 584.84,128.61 585.84,129.02 586.84,129.43 587.84,129.84 588.84,130.26 589.84,130.68 590.84,131.10 591.84,131.53 592.84,131.96 593.84,132.39 594.84,132.83 595.84,133.27 596.84,133.71 597.84,134.16 598.84,134.61 599.85,135.07 600.85,135.52 601.85,135.98 602.85,136.45 603.85,136.92 604.85,137.39 605.85,137.87 606.85,138.35 607.85,138.83 608.85,139.32 609.85,139.81 610.85,140.31 611.85,140.81 612.85,141.31 613.85,141.82 614.85,142.34 615.85,142.85 616.85,143.38 617.86,143.90 618.86,144.43 619.86,144.97 620.86,145.51 621.86,146.05 622.86,146.60 623.86,147.15 624.86,147.71 625.86,148.28 626.86,148.84 627.86,149.42 628.86,149.99 629.86,150.58 630.86,151.16 631.86,151.76 632.86,152.35 633.86,152.96 634.86,153.57 635.87,154.18 636.87,154.80 637.87,155.42 638.87,156.05 639.87,156.69 640.87,157.33 641.87,157.97 642.87,158.63 643.87,159.28 644.87,159.95 645.87,160.62 646.87,161.29 647.87,161.97 648.87,162.66 649.87,163.36 650.87,164.06 651.87,164.76 652.87,165.47 653.88,166.19 654.88,166.92 655.88,167.65 656.88,168.39 657.88,169.13 658.88,169.88 659.88,170.64 660.88,171.40 661.88,172.17 662.88,172.95 663.88,173.74 664.88,174.53 665.88,175.33 666.88,176.13 667.88,176.95 668.88,177.77 669.88,178.60 670.88,179.43 671.89,180.27 672.89,181.13 673.89,181.98 674.89,182.85 675.89,183.72 676.89,184.60 677.89,185.49 678.89,186.39 679.89,187.29 680.89,188.21 681.89,189.13 682.89,190.06 683.89,190.99 684.89,191.94 685.89,192.89 686.89,193.86 687.89,194.83 688.89,195.81 689.90,196.80 690.90,197.79 691.90,198.80 692.90,199.82 693.90,200.84 694.90,201.87 695.90,202.92 696.90,203.97 697.90,205.03 698.90,206.10"/>
<polyline fill="none" stroke="#16ea16" stroke-width="1.6" points="426.75,100.92 427.75,101.07 428.75,101.22 429.75,101.37 430.75,101.52 431.75,101.67 432.75,101.83 433.75,101.98 434.75,102.14 435.75,102.30 436.76,102.46 437.76,102.62 438.76,102.79 439.76,102.95 440.76,103.12 441.76,103.29 442.76,103.46 443.76,103.63 444.76,103.80 445.76,103.98 446.76,104.15 447.76,104.33 448.76,104.51 449.76,104.69 450.76,104.87 451.76,105.05 452.76,105.24 453.76,105.42 454.77,105.61 455.77,105.80 456.77,105.99 457.77,106.18 458.77,106.37 459.77,106.56 460.77,106.76 461.77,106.95 462.77,107.15 463.77,107.35 464.77,107.54 465.77,107.75 466.77,107.95 467.77,108.15 468.77,108.35 469.77,108.56 470.77,108.77 471.77,108.97 472.78,109.18 473.78,109.39 474.78,109.60 475.78,109.82 476.78,110.03 477.78,110.24 478.78,110.46 479.78,110.68 480.78,110.89 481.78,111.11 482.78,111.34 483.78,111.56 484.78,111.78 485.78,112.00 486.78,112.23 487.78,112.46 488.78,112.68 489.78,112.91 490.79,113.14 491.79,113.37 492.79,113.61 493.79,113.84 494.79,114.07 495.79,114.31 496.79,114.55 497.79,114.79 498.79,115.03 499.79,115.27 500.79,115.51 501.79,115.75 502.79,116.00 503.79,116.24 504.79,116.49 505.79,116.74 506.79,116.99 507.79,117.24 508.80,117.49 509.80,117.75 510.80,118.00 511.80,118.26 512.80,118.52 513.80,118.77 514.80,119.03 515.80,119.30 516.80,119.56 517.80,119.82 518.80,120.09 519.80,120.36 520.80,120.63 521.80,120.90 522.80,121.17 523.80,121.44 524.80,121.72 525.80,121.99 526.81,122.27 527.81,122.55 528.81,122.83 529.81,123.11 530.81,123.40 531.81,123.68 532.81,123.97 533.81,124.26 534.81,124.55 535.81,124.84 536.81,125.13 537.81,125.43 538.81,125.73 539.81,126.03 540.81,126.33 541.81,126.63 542.81,126.94 543.81,127.24 544.82,127.55 545.82,127.86 546.82,128.17 547.82,128.49 548.82,128.80 549.82,129.12 550.82,129.44 551.82,129.76 552.82,130.08 553.82,130.41 554.82,130.74 555.82,131.07 556.82,131.40 557.82,131.74 558.82,132.07 559.82,132.41 560.82,132.75 561.82,133.10 562.83,133.44 563.83,133.79 564.83,134.14 565.83,134.49 566.83,134.85 567.83,135.21 568.83,135.57 569.83,135.93 570.83,136.29 571.83,136.66 572.83,137.03 573.83,137.41 574.83,137.78 575.83,138.16 576.83,138.54 577.83,138.93 578.83,139.31 579.83,139.70 580.83,140.10 581.84,140.49 582.84,140.89 583.84,141.29 584.84,141.69 585.84,142.10 586.84,142.51 587.84,142.93 588.84,143.34 589.84,143.76 590.84,144.19 591.84,144.61 592.84,145.04 593.84,145.48 594.84,145.91 595.84,146.35 596.84,146.80 597.84,147.24 598.84,147.69 599.85,148.15 600.85,148.61 601.85,149.07 602.85,149.53 603.85,150.00 604.85,150.47 605.85,150.95 606.85,151.43 607.85,151.92 608.85,152.40 609.85,152.90 610.85,153.39 611.85,153.89 612.85,154.40 613.85,154.91 614.85,155.42 615.85,155.94 616.85,156.46 617.86,156.98 618.86,157.52 619.86,158.05 620.86,158.59 621.86,159.13 622.86,159.68 623.86,160.24 624.86,160.79 625.86,161.36 626.86,161.93 627.86,162.50 628.86,163.08 629.86,163.66 630.86,164.25 631.86,164.84 632.86,165.44 633.86,166.04 634.86,166.65 635.87,167.26 636.87,167.88 637.87,168.50 638.87,169.13 639.87,169.77 640.87,170.41 641.87,171.06 642.87,171.71 643.87,172.37 644.87,173.03 645.87,173.70 646.87,174.38 647.87,175.06 648.87,175.75 649.87,176.44 650.87,177.14 651.87,177.84 652.87,178.56 653.88,179.27 654.88,180.00 655.88,180.73 656.88,181.47 657.88,182.21 658.88,182.96 659.88,183.72 660.88,184.49 661.88,185.26 662.88,186.04 663.88,186.82 664.88,187.61 665.88,188.41 666.88,189.22 667.88,190.03 668.88,190.85 669.88,191.68 670.88,192.51 671.89,193.36 672.89,194.21 673.89,195.07 674.89,195.93 675.89,196.80 676.89,197.69 677.89,198.57 678.89,199.47 679.89,200.38 680.89,201.29 681.89,202.21 682.89,203.14 683.89,204.08 684.89,205.02 685.89,205.98 686.89,206.94 687.89,207.91 688.89,208.89 689.90,209.88 690.90,210.88 691.90,211.88 692.90,212.90 693.90,213.92 694.90,214.96 695.90,216.00 696.90,217.05 697.90,218.11 698.90,219.18"/>
<path d="M698.90 28.33V224.57" fill="none" stroke="#999" stroke-width="1.2"/>
<path d="M426.75 28.33V224.57H698.90M426.75 28.33H698.90" fill="none" stroke="#2a2a2a" stroke-width="1"/>
<path stroke="#2a2a2a" stroke-width="1" d="M423.65 224.57H426.75M423.65 191.86H426.75M423.65 159.16H426.75M423.65 126.45H426.75M423.65 93.74H426.75M423.65 61.04H426.75M423.65 28.33H426.75M426.75 224.57V227.37M481.18 224.57V227.37M535.61 224.57V227.37M590.04 224.57V227.37M644.47 224.57V227.37M698.90 224.57V227.37"/>
<g font-size="12" fill="#111"><text x="419.2" y="229.0" text-anchor="end">- 100</text><text x="419.2" y="196.3" text-anchor="end">- 50</text><text x="419.2" y="163.6" text-anchor="end">0</text><text x="419.2" y="130.8" text-anchor="end">50</text><text x="419.2" y="98.1" text-anchor="end">100</text><text x="419.2" y="65.4" text-anchor="end">150</text><text x="419.2" y="32.7" text-anchor="end">200</text><text x="426.8" y="241.8" text-anchor="middle">0</text><text x="481.2" y="241.8" text-anchor="middle">20</text><text x="535.3" y="241.8" text-anchor="middle">40</text><text x="589.6" y="241.8" text-anchor="middle">60</text><text x="643.7" y="241.8" text-anchor="middle">80</text><text x="697.6" y="241.8" text-anchor="middle">100</text></g>
<text x="491.8" y="260.2" font-size="14.3" fill="#111" textLength="140.5" lengthAdjust="spacingAndGlyphs">Crosslinking&#160; ratio&#160; (%)</text>
<g transform="translate(391,220) rotate(-90)"><text x="0.0" y="0.0" font-size="14.0" fill="#111" textLength="42.6" lengthAdjust="spacingAndGlyphs">Curing</text><text x="46.2" y="0.0" font-size="14.0" fill="#111" textLength="79.4" lengthAdjust="spacingAndGlyphs">temperature</text><text x="130.8" y="0.0" font-size="14.0" fill="#111">-</text><text x="141.6" y="0.0" font-size="14.0" fill="#111" textLength="8.6" lengthAdjust="spacingAndGlyphs">T</text><text x="149.8" y="2.3" font-size="8.0" fill="#111" textLength="4.6" lengthAdjust="spacingAndGlyphs">g</text><text x="161.2" y="0.0" font-size="14.0" fill="#111" textLength="20.2" lengthAdjust="spacingAndGlyphs">(K)</text></g>
<polyline fill="none" stroke="#3545d0" stroke-width="1.45" stroke-dasharray="9.5 2 1 2" points="491.90,113.40 497.70,101.68 538.50,86.39 579.20,87.12"/>
<polyline fill="none" stroke="#cc3535" stroke-width="1.45" stroke-dasharray="9.5 2 1 2" points="513.90,118.80 536.00,111.81 590.20,104.67 614.60,102.96"/>
<circle cx="491.9" cy="113.4" r="2.7" fill="#2d3dd0"/>
<circle cx="497.7" cy="101.7" r="2.7" fill="#2d3dd0"/>
<circle cx="538.5" cy="86.4" r="2.7" fill="#2d3dd0"/>
<circle cx="579.2" cy="87.1" r="2.7" fill="#2d3dd0"/>
<circle cx="513.9" cy="118.8" r="2.7" fill="#cc3333"/>
<circle cx="536.0" cy="111.8" r="2.7" fill="#cc3333"/>
<circle cx="590.2" cy="104.7" r="2.7" fill="#cc3333"/>
<circle cx="614.6" cy="103.0" r="2.7" fill="#cc3333"/>
<text x="459.6" y="84.1" font-size="11.0" fill="#1a1a1a" textLength="17.0" lengthAdjust="spacingAndGlyphs">[ I ]</text>
<text x="531.1" y="102.5" font-size="11.0" fill="#1a1a1a" textLength="21.9" lengthAdjust="spacingAndGlyphs">[ II ]</text>
<text x="619.0" y="144.7" font-size="11.0" fill="#1a1a1a" textLength="27.6" lengthAdjust="spacingAndGlyphs">[ III ]</text>
<text x="599.0" y="77.8" font-size="10.8" fill="#3040c8" textLength="19.0" lengthAdjust="spacingAndGlyphs">PES</text>
<text x="583.3" y="87.6" font-size="10.8" fill="#3040c8" textLength="52.0" lengthAdjust="spacingAndGlyphs">onset point</text>
<text x="491.0" y="130.7" font-size="10.8" fill="#cc3838" textLength="43.8" lengthAdjust="spacingAndGlyphs">3,3&#8217;-DDS</text>
<text x="487.9" y="140.4" font-size="10.8" fill="#cc3838" textLength="52.0" lengthAdjust="spacingAndGlyphs">onset point</text>
<text x="431.0" y="195.2" font-size="9.7" fill="#000" textLength="42.8" lengthAdjust="spacing">Region [I]</text>
<text x="481.2" y="195.2" font-size="9.7" fill="#000" textLength="75.6" lengthAdjust="spacing">: Diffusion region</text>
<text x="431.0" y="206.9" font-size="9.7" fill="#000" textLength="47.6" lengthAdjust="spacing">Region [II]</text>
<text x="481.5" y="206.9" font-size="9.7" fill="#000" textLength="124.0" lengthAdjust="spacing">: Diffusion converging region</text>
<text x="431.0" y="218.6" font-size="9.7" fill="#000" textLength="50.6" lengthAdjust="spacing">Region [III]</text>
<text x="481.0" y="218.6" font-size="9.7" fill="#000" textLength="118.5" lengthAdjust="spacing">: Diffusion restricted region</text>
<rect x="621.7" y="30.4" width="76.1" height="42.7" fill="#fff" stroke="#222" stroke-width="1"/>
<line x1="625.2" y1="36.2" x2="645.8" y2="36.2" stroke="#000000" stroke-width="1.0"/>
<text x="648.6" y="39.9" font-size="10.9" fill="#111" textLength="41.6" lengthAdjust="spacingAndGlyphs">473.15 K</text>
<line x1="625.2" y1="46.2" x2="645.8" y2="46.2" stroke="#118811" stroke-width="1.0"/>
<text x="648.6" y="49.9" font-size="10.9" fill="#111" textLength="41.6" lengthAdjust="spacingAndGlyphs">453.15 K</text>
<line x1="625.2" y1="56.2" x2="645.8" y2="56.2" stroke="#20c420" stroke-width="1.0"/>
<text x="648.6" y="59.9" font-size="10.9" fill="#111" textLength="41.6" lengthAdjust="spacingAndGlyphs">413.15 K</text>
<line x1="625.2" y1="66.1" x2="645.8" y2="66.1" stroke="#16ea16" stroke-width="1.0"/>
<text x="648.6" y="69.8" font-size="10.9" fill="#111" textLength="41.6" lengthAdjust="spacingAndGlyphs">393.15 K</text>
</svg>
</body></html>
